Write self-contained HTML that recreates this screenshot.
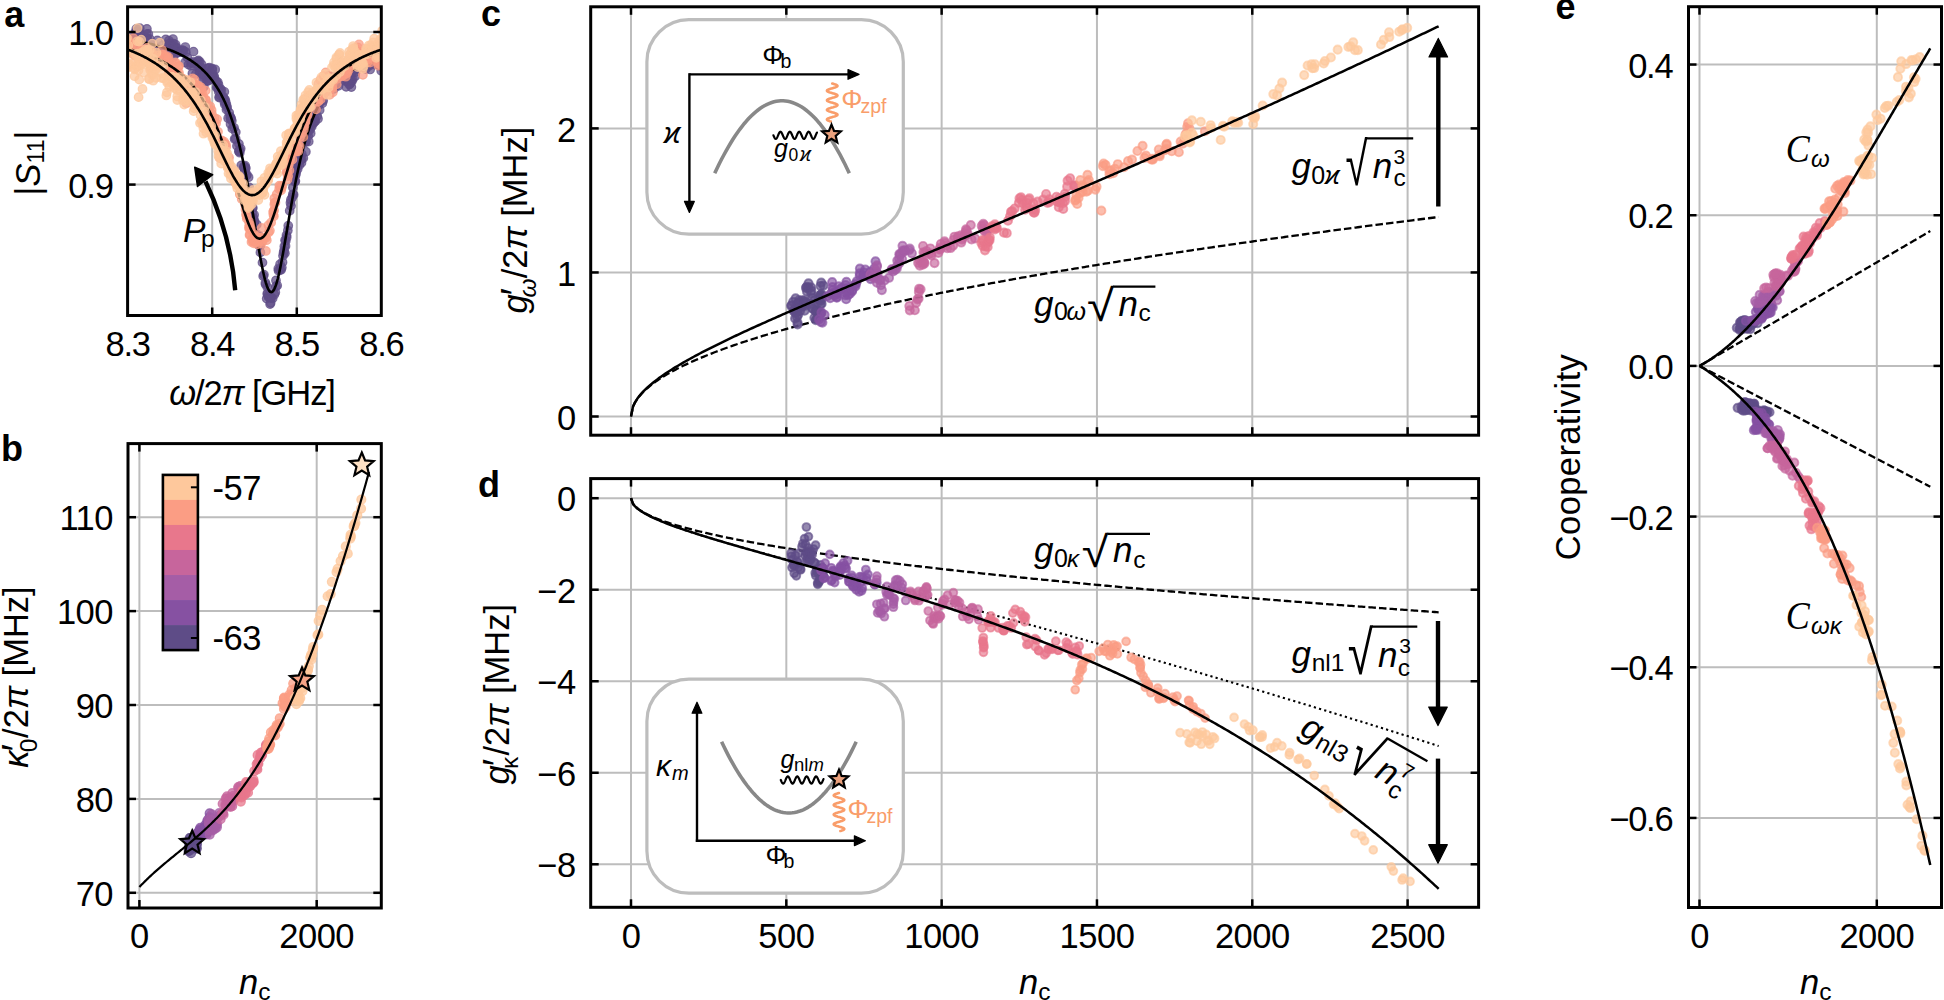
<!DOCTYPE html>
<html><head><meta charset="utf-8"><style>
html,body{margin:0;padding:0;background:#fff;}
svg{display:block;}
text{font-family:"Liberation Sans","DejaVu Sans",sans-serif;}
.it{font-style:italic;}
</style></head><body>
<svg width="1944" height="1000" viewBox="0 0 1944 1000">
<rect width="1944" height="1000" fill="#fff"/>

<g stroke="#bdbdbd" stroke-width="2">
<line x1="212.2" y1="6.8" x2="212.2" y2="315.5" stroke="#bdbdbd" stroke-width="2" />
<line x1="296.8" y1="6.8" x2="296.8" y2="315.5" stroke="#bdbdbd" stroke-width="2" />
<line x1="127.6" y1="184.6" x2="381.3" y2="184.6" stroke="#bdbdbd" stroke-width="2" />
<line x1="127.6" y1="32" x2="381.3" y2="32" stroke="#bdbdbd" stroke-width="2" />
</g>
<defs><clipPath id="ca"><rect x="127.6" y="6.8" width="253.7" height="308.7"/></clipPath><clipPath id="cb"><rect x="128" y="443.6" width="253.3" height="464.4"/></clipPath><clipPath id="cc"><rect x="590.7" y="6.8" width="887.9" height="428.4"/></clipPath><clipPath id="cd"><rect x="590.7" y="478.6" width="887.9" height="428.7"/></clipPath><clipPath id="ce"><rect x="1688.5" y="6.7" width="253" height="900.8"/></clipPath></defs>
<g clip-path="url(#ca)" fill-opacity="0.72" stroke-opacity="0.72" stroke-width="1.2">
<circle cx="124.39" cy="46.45" r="4.3" fill="#5e4c87" stroke="#5e4c87"/>
<circle cx="125.75" cy="50.4" r="4.3" fill="#5e4c87" stroke="#5e4c87"/>
<circle cx="126.56" cy="43.8" r="4.3" fill="#5e4c87" stroke="#5e4c87"/>
<circle cx="127.53" cy="46.26" r="4.3" fill="#5e4c87" stroke="#5e4c87"/>
<circle cx="128.65" cy="39.67" r="4.3" fill="#5e4c87" stroke="#5e4c87"/>
<circle cx="128.79" cy="37.84" r="4.3" fill="#5e4c87" stroke="#5e4c87"/>
<circle cx="130.01" cy="44.47" r="4.3" fill="#5e4c87" stroke="#5e4c87"/>
<circle cx="132.04" cy="39.3" r="4.3" fill="#5e4c87" stroke="#5e4c87"/>
<circle cx="134.43" cy="39.52" r="4.3" fill="#5e4c87" stroke="#5e4c87"/>
<circle cx="135.33" cy="32.34" r="4.3" fill="#5e4c87" stroke="#5e4c87"/>
<circle cx="136.31" cy="28.86" r="4.3" fill="#5e4c87" stroke="#5e4c87"/>
<circle cx="137.11" cy="33.67" r="4.3" fill="#5e4c87" stroke="#5e4c87"/>
<circle cx="137.26" cy="39.34" r="4.3" fill="#5e4c87" stroke="#5e4c87"/>
<circle cx="137.31" cy="31.1" r="4.3" fill="#5e4c87" stroke="#5e4c87"/>
<circle cx="138.1" cy="45.64" r="4.3" fill="#5e4c87" stroke="#5e4c87"/>
<circle cx="139.11" cy="32.9" r="4.3" fill="#5e4c87" stroke="#5e4c87"/>
<circle cx="139.15" cy="42.8" r="4.3" fill="#5e4c87" stroke="#5e4c87"/>
<circle cx="139.59" cy="52.91" r="4.3" fill="#5e4c87" stroke="#5e4c87"/>
<circle cx="139.76" cy="28.18" r="4.3" fill="#5e4c87" stroke="#5e4c87"/>
<circle cx="140.15" cy="33.36" r="4.3" fill="#5e4c87" stroke="#5e4c87"/>
<circle cx="141.39" cy="45.82" r="4.3" fill="#5e4c87" stroke="#5e4c87"/>
<circle cx="143.44" cy="40.05" r="4.3" fill="#5e4c87" stroke="#5e4c87"/>
<circle cx="143.46" cy="41.8" r="4.3" fill="#5e4c87" stroke="#5e4c87"/>
<circle cx="143.85" cy="40.19" r="4.3" fill="#5e4c87" stroke="#5e4c87"/>
<circle cx="145.78" cy="46.6" r="4.3" fill="#5e4c87" stroke="#5e4c87"/>
<circle cx="146.07" cy="42.84" r="4.3" fill="#5e4c87" stroke="#5e4c87"/>
<circle cx="146.07" cy="37.58" r="4.3" fill="#5e4c87" stroke="#5e4c87"/>
<circle cx="146.31" cy="38.65" r="4.3" fill="#5e4c87" stroke="#5e4c87"/>
<circle cx="146.6" cy="34.13" r="4.3" fill="#5e4c87" stroke="#5e4c87"/>
<circle cx="146.86" cy="39.24" r="4.3" fill="#5e4c87" stroke="#5e4c87"/>
<circle cx="146.89" cy="28.85" r="4.3" fill="#5e4c87" stroke="#5e4c87"/>
<circle cx="146.92" cy="42.88" r="4.3" fill="#5e4c87" stroke="#5e4c87"/>
<circle cx="147.09" cy="38.42" r="4.3" fill="#5e4c87" stroke="#5e4c87"/>
<circle cx="147.68" cy="48.48" r="4.3" fill="#5e4c87" stroke="#5e4c87"/>
<circle cx="148.15" cy="45.64" r="4.3" fill="#5e4c87" stroke="#5e4c87"/>
<circle cx="148.32" cy="33.92" r="4.3" fill="#5e4c87" stroke="#5e4c87"/>
<circle cx="149.56" cy="45.41" r="4.3" fill="#5e4c87" stroke="#5e4c87"/>
<circle cx="150.02" cy="39.25" r="4.3" fill="#5e4c87" stroke="#5e4c87"/>
<circle cx="150.74" cy="43.04" r="4.3" fill="#5e4c87" stroke="#5e4c87"/>
<circle cx="151.23" cy="48.38" r="4.3" fill="#5e4c87" stroke="#5e4c87"/>
<circle cx="151.59" cy="45.85" r="4.3" fill="#5e4c87" stroke="#5e4c87"/>
<circle cx="151.89" cy="47.17" r="4.3" fill="#5e4c87" stroke="#5e4c87"/>
<circle cx="153.96" cy="51.03" r="4.3" fill="#5e4c87" stroke="#5e4c87"/>
<circle cx="154.93" cy="46.96" r="4.3" fill="#5e4c87" stroke="#5e4c87"/>
<circle cx="155.18" cy="47.78" r="4.3" fill="#5e4c87" stroke="#5e4c87"/>
<circle cx="155.22" cy="53.47" r="4.3" fill="#5e4c87" stroke="#5e4c87"/>
<circle cx="156.12" cy="56.01" r="4.3" fill="#5e4c87" stroke="#5e4c87"/>
<circle cx="156.32" cy="50.74" r="4.3" fill="#5e4c87" stroke="#5e4c87"/>
<circle cx="156.75" cy="52.79" r="4.3" fill="#5e4c87" stroke="#5e4c87"/>
<circle cx="157.19" cy="47.82" r="4.3" fill="#5e4c87" stroke="#5e4c87"/>
<circle cx="157.32" cy="40.41" r="4.3" fill="#5e4c87" stroke="#5e4c87"/>
<circle cx="157.41" cy="48.72" r="4.3" fill="#5e4c87" stroke="#5e4c87"/>
<circle cx="157.53" cy="52.76" r="4.3" fill="#5e4c87" stroke="#5e4c87"/>
<circle cx="159.13" cy="52.95" r="4.3" fill="#5e4c87" stroke="#5e4c87"/>
<circle cx="159.89" cy="55.48" r="4.3" fill="#5e4c87" stroke="#5e4c87"/>
<circle cx="160.11" cy="55.51" r="4.3" fill="#5e4c87" stroke="#5e4c87"/>
<circle cx="160.33" cy="55.73" r="4.3" fill="#5e4c87" stroke="#5e4c87"/>
<circle cx="160.34" cy="52.93" r="4.3" fill="#5e4c87" stroke="#5e4c87"/>
<circle cx="160.78" cy="52.6" r="4.3" fill="#5e4c87" stroke="#5e4c87"/>
<circle cx="162.34" cy="45.47" r="4.3" fill="#5e4c87" stroke="#5e4c87"/>
<circle cx="162.64" cy="50.38" r="4.3" fill="#5e4c87" stroke="#5e4c87"/>
<circle cx="162.9" cy="49.19" r="4.3" fill="#5e4c87" stroke="#5e4c87"/>
<circle cx="164.73" cy="52.6" r="4.3" fill="#5e4c87" stroke="#5e4c87"/>
<circle cx="165.74" cy="39.35" r="4.3" fill="#5e4c87" stroke="#5e4c87"/>
<circle cx="166.17" cy="44.63" r="4.3" fill="#5e4c87" stroke="#5e4c87"/>
<circle cx="168.92" cy="40.63" r="4.3" fill="#5e4c87" stroke="#5e4c87"/>
<circle cx="169.99" cy="46.17" r="4.3" fill="#5e4c87" stroke="#5e4c87"/>
<circle cx="170.11" cy="43.11" r="4.3" fill="#5e4c87" stroke="#5e4c87"/>
<circle cx="172.54" cy="52.51" r="4.3" fill="#5e4c87" stroke="#5e4c87"/>
<circle cx="172.63" cy="48.11" r="4.3" fill="#5e4c87" stroke="#5e4c87"/>
<circle cx="172.96" cy="39.04" r="4.3" fill="#5e4c87" stroke="#5e4c87"/>
<circle cx="173.36" cy="57.02" r="4.3" fill="#5e4c87" stroke="#5e4c87"/>
<circle cx="173.51" cy="46.01" r="4.3" fill="#5e4c87" stroke="#5e4c87"/>
<circle cx="173.62" cy="43.6" r="4.3" fill="#5e4c87" stroke="#5e4c87"/>
<circle cx="174.62" cy="49.08" r="4.3" fill="#5e4c87" stroke="#5e4c87"/>
<circle cx="174.96" cy="47.32" r="4.3" fill="#5e4c87" stroke="#5e4c87"/>
<circle cx="175.54" cy="44.57" r="4.3" fill="#5e4c87" stroke="#5e4c87"/>
<circle cx="175.61" cy="53.45" r="4.3" fill="#5e4c87" stroke="#5e4c87"/>
<circle cx="176.62" cy="47.67" r="4.3" fill="#5e4c87" stroke="#5e4c87"/>
<circle cx="178.08" cy="52.6" r="4.3" fill="#5e4c87" stroke="#5e4c87"/>
<circle cx="180.97" cy="51.78" r="4.3" fill="#5e4c87" stroke="#5e4c87"/>
<circle cx="181.53" cy="52.02" r="4.3" fill="#5e4c87" stroke="#5e4c87"/>
<circle cx="181.86" cy="50.18" r="4.3" fill="#5e4c87" stroke="#5e4c87"/>
<circle cx="182.89" cy="50.38" r="4.3" fill="#5e4c87" stroke="#5e4c87"/>
<circle cx="183.85" cy="50.84" r="4.3" fill="#5e4c87" stroke="#5e4c87"/>
<circle cx="185.1" cy="62.42" r="4.3" fill="#5e4c87" stroke="#5e4c87"/>
<circle cx="185.32" cy="47.03" r="4.3" fill="#5e4c87" stroke="#5e4c87"/>
<circle cx="185.88" cy="52.2" r="4.3" fill="#5e4c87" stroke="#5e4c87"/>
<circle cx="187.3" cy="57.35" r="4.3" fill="#5e4c87" stroke="#5e4c87"/>
<circle cx="188.53" cy="64.64" r="4.3" fill="#5e4c87" stroke="#5e4c87"/>
<circle cx="190.95" cy="65.7" r="4.3" fill="#5e4c87" stroke="#5e4c87"/>
<circle cx="191.18" cy="62.79" r="4.3" fill="#5e4c87" stroke="#5e4c87"/>
<circle cx="192.32" cy="63.57" r="4.3" fill="#5e4c87" stroke="#5e4c87"/>
<circle cx="192.41" cy="73.37" r="4.3" fill="#5e4c87" stroke="#5e4c87"/>
<circle cx="193.04" cy="61.95" r="4.3" fill="#5e4c87" stroke="#5e4c87"/>
<circle cx="193.48" cy="51.66" r="4.3" fill="#5e4c87" stroke="#5e4c87"/>
<circle cx="195.94" cy="73.88" r="4.3" fill="#5e4c87" stroke="#5e4c87"/>
<circle cx="197.48" cy="61.31" r="4.3" fill="#5e4c87" stroke="#5e4c87"/>
<circle cx="197.83" cy="64.54" r="4.3" fill="#5e4c87" stroke="#5e4c87"/>
<circle cx="198.23" cy="67.2" r="4.3" fill="#5e4c87" stroke="#5e4c87"/>
<circle cx="198.39" cy="60.42" r="4.3" fill="#5e4c87" stroke="#5e4c87"/>
<circle cx="199.31" cy="73.58" r="4.3" fill="#5e4c87" stroke="#5e4c87"/>
<circle cx="199.59" cy="67.67" r="4.3" fill="#5e4c87" stroke="#5e4c87"/>
<circle cx="199.74" cy="61.78" r="4.3" fill="#5e4c87" stroke="#5e4c87"/>
<circle cx="200.41" cy="70.62" r="4.3" fill="#5e4c87" stroke="#5e4c87"/>
<circle cx="200.6" cy="71.97" r="4.3" fill="#5e4c87" stroke="#5e4c87"/>
<circle cx="200.63" cy="69.52" r="4.3" fill="#5e4c87" stroke="#5e4c87"/>
<circle cx="200.8" cy="72.42" r="4.3" fill="#5e4c87" stroke="#5e4c87"/>
<circle cx="201.6" cy="64.36" r="4.3" fill="#5e4c87" stroke="#5e4c87"/>
<circle cx="201.68" cy="76.04" r="4.3" fill="#5e4c87" stroke="#5e4c87"/>
<circle cx="201.82" cy="67.9" r="4.3" fill="#5e4c87" stroke="#5e4c87"/>
<circle cx="202.87" cy="79.45" r="4.3" fill="#5e4c87" stroke="#5e4c87"/>
<circle cx="203.16" cy="70.8" r="4.3" fill="#5e4c87" stroke="#5e4c87"/>
<circle cx="203.61" cy="74.99" r="4.3" fill="#5e4c87" stroke="#5e4c87"/>
<circle cx="203.79" cy="86.84" r="4.3" fill="#5e4c87" stroke="#5e4c87"/>
<circle cx="204.34" cy="75.23" r="4.3" fill="#5e4c87" stroke="#5e4c87"/>
<circle cx="206.63" cy="81" r="4.3" fill="#5e4c87" stroke="#5e4c87"/>
<circle cx="207.27" cy="77.92" r="4.3" fill="#5e4c87" stroke="#5e4c87"/>
<circle cx="207.62" cy="68.46" r="4.3" fill="#5e4c87" stroke="#5e4c87"/>
<circle cx="207.97" cy="80.8" r="4.3" fill="#5e4c87" stroke="#5e4c87"/>
<circle cx="208.14" cy="80.45" r="4.3" fill="#5e4c87" stroke="#5e4c87"/>
<circle cx="208.84" cy="68.3" r="4.3" fill="#5e4c87" stroke="#5e4c87"/>
<circle cx="209.22" cy="74.32" r="4.3" fill="#5e4c87" stroke="#5e4c87"/>
<circle cx="209.38" cy="67.53" r="4.3" fill="#5e4c87" stroke="#5e4c87"/>
<circle cx="209.48" cy="73.21" r="4.3" fill="#5e4c87" stroke="#5e4c87"/>
<circle cx="209.91" cy="78.68" r="4.3" fill="#5e4c87" stroke="#5e4c87"/>
<circle cx="211.55" cy="74.53" r="4.3" fill="#5e4c87" stroke="#5e4c87"/>
<circle cx="212.25" cy="68.66" r="4.3" fill="#5e4c87" stroke="#5e4c87"/>
<circle cx="212.25" cy="70.02" r="4.3" fill="#5e4c87" stroke="#5e4c87"/>
<circle cx="212.31" cy="74.47" r="4.3" fill="#5e4c87" stroke="#5e4c87"/>
<circle cx="213.82" cy="75.74" r="4.3" fill="#5e4c87" stroke="#5e4c87"/>
<circle cx="214.21" cy="77.12" r="4.3" fill="#5e4c87" stroke="#5e4c87"/>
<circle cx="214.73" cy="80.26" r="4.3" fill="#5e4c87" stroke="#5e4c87"/>
<circle cx="215.19" cy="69.43" r="4.3" fill="#5e4c87" stroke="#5e4c87"/>
<circle cx="216.29" cy="81.22" r="4.3" fill="#5e4c87" stroke="#5e4c87"/>
<circle cx="216.61" cy="87.48" r="4.3" fill="#5e4c87" stroke="#5e4c87"/>
<circle cx="217.59" cy="87.27" r="4.3" fill="#5e4c87" stroke="#5e4c87"/>
<circle cx="217.8" cy="82.26" r="4.3" fill="#5e4c87" stroke="#5e4c87"/>
<circle cx="218.51" cy="84.82" r="4.3" fill="#5e4c87" stroke="#5e4c87"/>
<circle cx="218.54" cy="88.6" r="4.3" fill="#5e4c87" stroke="#5e4c87"/>
<circle cx="218.76" cy="91.76" r="4.3" fill="#5e4c87" stroke="#5e4c87"/>
<circle cx="219.04" cy="89.35" r="4.3" fill="#5e4c87" stroke="#5e4c87"/>
<circle cx="219.11" cy="97.56" r="4.3" fill="#5e4c87" stroke="#5e4c87"/>
<circle cx="219.49" cy="96.96" r="4.3" fill="#5e4c87" stroke="#5e4c87"/>
<circle cx="220.09" cy="88.79" r="4.3" fill="#5e4c87" stroke="#5e4c87"/>
<circle cx="220.29" cy="95.38" r="4.3" fill="#5e4c87" stroke="#5e4c87"/>
<circle cx="220.74" cy="92.56" r="4.3" fill="#5e4c87" stroke="#5e4c87"/>
<circle cx="221.19" cy="89.75" r="4.3" fill="#5e4c87" stroke="#5e4c87"/>
<circle cx="223.1" cy="96.6" r="4.3" fill="#5e4c87" stroke="#5e4c87"/>
<circle cx="224.29" cy="101.68" r="4.3" fill="#5e4c87" stroke="#5e4c87"/>
<circle cx="224.33" cy="91.82" r="4.3" fill="#5e4c87" stroke="#5e4c87"/>
<circle cx="224.43" cy="98.87" r="4.3" fill="#5e4c87" stroke="#5e4c87"/>
<circle cx="224.75" cy="104.2" r="4.3" fill="#5e4c87" stroke="#5e4c87"/>
<circle cx="225.21" cy="99.85" r="4.3" fill="#5e4c87" stroke="#5e4c87"/>
<circle cx="225.85" cy="102.44" r="4.3" fill="#5e4c87" stroke="#5e4c87"/>
<circle cx="226.46" cy="109.47" r="4.3" fill="#5e4c87" stroke="#5e4c87"/>
<circle cx="226.56" cy="105.29" r="4.3" fill="#5e4c87" stroke="#5e4c87"/>
<circle cx="227.19" cy="107.64" r="4.3" fill="#5e4c87" stroke="#5e4c87"/>
<circle cx="228.14" cy="118.23" r="4.3" fill="#5e4c87" stroke="#5e4c87"/>
<circle cx="229.2" cy="112.63" r="4.3" fill="#5e4c87" stroke="#5e4c87"/>
<circle cx="230.31" cy="116.72" r="4.3" fill="#5e4c87" stroke="#5e4c87"/>
<circle cx="230.48" cy="118.08" r="4.3" fill="#5e4c87" stroke="#5e4c87"/>
<circle cx="230.55" cy="124" r="4.3" fill="#5e4c87" stroke="#5e4c87"/>
<circle cx="230.88" cy="119.14" r="4.3" fill="#5e4c87" stroke="#5e4c87"/>
<circle cx="231.05" cy="118.31" r="4.3" fill="#5e4c87" stroke="#5e4c87"/>
<circle cx="231.86" cy="120.86" r="4.3" fill="#5e4c87" stroke="#5e4c87"/>
<circle cx="232.33" cy="128.63" r="4.3" fill="#5e4c87" stroke="#5e4c87"/>
<circle cx="234.05" cy="127.8" r="4.3" fill="#5e4c87" stroke="#5e4c87"/>
<circle cx="234.63" cy="139.04" r="4.3" fill="#5e4c87" stroke="#5e4c87"/>
<circle cx="235.69" cy="138.8" r="4.3" fill="#5e4c87" stroke="#5e4c87"/>
<circle cx="235.82" cy="132.12" r="4.3" fill="#5e4c87" stroke="#5e4c87"/>
<circle cx="236.97" cy="145.91" r="4.3" fill="#5e4c87" stroke="#5e4c87"/>
<circle cx="238.89" cy="151.21" r="4.3" fill="#5e4c87" stroke="#5e4c87"/>
<circle cx="238.92" cy="143.87" r="4.3" fill="#5e4c87" stroke="#5e4c87"/>
<circle cx="239.14" cy="151.33" r="4.3" fill="#5e4c87" stroke="#5e4c87"/>
<circle cx="239.79" cy="152.68" r="4.3" fill="#5e4c87" stroke="#5e4c87"/>
<circle cx="239.8" cy="150.25" r="4.3" fill="#5e4c87" stroke="#5e4c87"/>
<circle cx="240.69" cy="148.62" r="4.3" fill="#5e4c87" stroke="#5e4c87"/>
<circle cx="241.26" cy="165.36" r="4.3" fill="#5e4c87" stroke="#5e4c87"/>
<circle cx="243.96" cy="166.54" r="4.3" fill="#5e4c87" stroke="#5e4c87"/>
<circle cx="244.02" cy="167.61" r="4.3" fill="#5e4c87" stroke="#5e4c87"/>
<circle cx="244.07" cy="168.11" r="4.3" fill="#5e4c87" stroke="#5e4c87"/>
<circle cx="244.68" cy="169.25" r="4.3" fill="#5e4c87" stroke="#5e4c87"/>
<circle cx="244.8" cy="169.65" r="4.3" fill="#5e4c87" stroke="#5e4c87"/>
<circle cx="245.15" cy="165.69" r="4.3" fill="#5e4c87" stroke="#5e4c87"/>
<circle cx="245.2" cy="171.49" r="4.3" fill="#5e4c87" stroke="#5e4c87"/>
<circle cx="245.35" cy="167.36" r="4.3" fill="#5e4c87" stroke="#5e4c87"/>
<circle cx="245.83" cy="168.15" r="4.3" fill="#5e4c87" stroke="#5e4c87"/>
<circle cx="246.33" cy="175.8" r="4.3" fill="#5e4c87" stroke="#5e4c87"/>
<circle cx="246.91" cy="174.72" r="4.3" fill="#5e4c87" stroke="#5e4c87"/>
<circle cx="248.59" cy="177.25" r="4.3" fill="#5e4c87" stroke="#5e4c87"/>
<circle cx="249.25" cy="187.5" r="4.3" fill="#5e4c87" stroke="#5e4c87"/>
<circle cx="250.67" cy="201.21" r="4.3" fill="#5e4c87" stroke="#5e4c87"/>
<circle cx="251.45" cy="203.6" r="4.3" fill="#5e4c87" stroke="#5e4c87"/>
<circle cx="252.29" cy="213.07" r="4.3" fill="#5e4c87" stroke="#5e4c87"/>
<circle cx="252.4" cy="208.16" r="4.3" fill="#5e4c87" stroke="#5e4c87"/>
<circle cx="252.78" cy="207.83" r="4.3" fill="#5e4c87" stroke="#5e4c87"/>
<circle cx="253.11" cy="217.74" r="4.3" fill="#5e4c87" stroke="#5e4c87"/>
<circle cx="253.73" cy="218.65" r="4.3" fill="#5e4c87" stroke="#5e4c87"/>
<circle cx="254.11" cy="214.77" r="4.3" fill="#5e4c87" stroke="#5e4c87"/>
<circle cx="254.18" cy="222.71" r="4.3" fill="#5e4c87" stroke="#5e4c87"/>
<circle cx="254.46" cy="221.1" r="4.3" fill="#5e4c87" stroke="#5e4c87"/>
<circle cx="255.63" cy="233.31" r="4.3" fill="#5e4c87" stroke="#5e4c87"/>
<circle cx="255.99" cy="234.34" r="4.3" fill="#5e4c87" stroke="#5e4c87"/>
<circle cx="256.56" cy="235.89" r="4.3" fill="#5e4c87" stroke="#5e4c87"/>
<circle cx="256.76" cy="224.57" r="4.3" fill="#5e4c87" stroke="#5e4c87"/>
<circle cx="256.83" cy="236.8" r="4.3" fill="#5e4c87" stroke="#5e4c87"/>
<circle cx="256.83" cy="237.37" r="4.3" fill="#5e4c87" stroke="#5e4c87"/>
<circle cx="257.31" cy="239.97" r="4.3" fill="#5e4c87" stroke="#5e4c87"/>
<circle cx="257.34" cy="238.31" r="4.3" fill="#5e4c87" stroke="#5e4c87"/>
<circle cx="257.62" cy="236.04" r="4.3" fill="#5e4c87" stroke="#5e4c87"/>
<circle cx="258" cy="240.11" r="4.3" fill="#5e4c87" stroke="#5e4c87"/>
<circle cx="258.76" cy="235.48" r="4.3" fill="#5e4c87" stroke="#5e4c87"/>
<circle cx="259.01" cy="245.23" r="4.3" fill="#5e4c87" stroke="#5e4c87"/>
<circle cx="260.16" cy="245.76" r="4.3" fill="#5e4c87" stroke="#5e4c87"/>
<circle cx="260.4" cy="252.39" r="4.3" fill="#5e4c87" stroke="#5e4c87"/>
<circle cx="262.46" cy="262.6" r="4.3" fill="#5e4c87" stroke="#5e4c87"/>
<circle cx="263.16" cy="276.12" r="4.3" fill="#5e4c87" stroke="#5e4c87"/>
<circle cx="263.94" cy="274.69" r="4.3" fill="#5e4c87" stroke="#5e4c87"/>
<circle cx="265.42" cy="282.77" r="4.3" fill="#5e4c87" stroke="#5e4c87"/>
<circle cx="265.56" cy="284.32" r="4.3" fill="#5e4c87" stroke="#5e4c87"/>
<circle cx="266.69" cy="298.62" r="4.3" fill="#5e4c87" stroke="#5e4c87"/>
<circle cx="267.24" cy="287.09" r="4.3" fill="#5e4c87" stroke="#5e4c87"/>
<circle cx="267.35" cy="293.34" r="4.3" fill="#5e4c87" stroke="#5e4c87"/>
<circle cx="267.5" cy="294.17" r="4.3" fill="#5e4c87" stroke="#5e4c87"/>
<circle cx="268.46" cy="296.48" r="4.3" fill="#5e4c87" stroke="#5e4c87"/>
<circle cx="268.76" cy="297.14" r="4.3" fill="#5e4c87" stroke="#5e4c87"/>
<circle cx="269.07" cy="294.95" r="4.3" fill="#5e4c87" stroke="#5e4c87"/>
<circle cx="270.08" cy="304.12" r="4.3" fill="#5e4c87" stroke="#5e4c87"/>
<circle cx="270.68" cy="302.86" r="4.3" fill="#5e4c87" stroke="#5e4c87"/>
<circle cx="270.86" cy="297.27" r="4.3" fill="#5e4c87" stroke="#5e4c87"/>
<circle cx="271.06" cy="297.9" r="4.3" fill="#5e4c87" stroke="#5e4c87"/>
<circle cx="272.66" cy="298.35" r="4.3" fill="#5e4c87" stroke="#5e4c87"/>
<circle cx="274.35" cy="294.56" r="4.3" fill="#5e4c87" stroke="#5e4c87"/>
<circle cx="275.32" cy="292.22" r="4.3" fill="#5e4c87" stroke="#5e4c87"/>
<circle cx="275.88" cy="286.45" r="4.3" fill="#5e4c87" stroke="#5e4c87"/>
<circle cx="275.98" cy="280.38" r="4.3" fill="#5e4c87" stroke="#5e4c87"/>
<circle cx="277.2" cy="285.43" r="4.3" fill="#5e4c87" stroke="#5e4c87"/>
<circle cx="278.29" cy="268.81" r="4.3" fill="#5e4c87" stroke="#5e4c87"/>
<circle cx="278.56" cy="270.72" r="4.3" fill="#5e4c87" stroke="#5e4c87"/>
<circle cx="280.07" cy="269.95" r="4.3" fill="#5e4c87" stroke="#5e4c87"/>
<circle cx="280.07" cy="264.26" r="4.3" fill="#5e4c87" stroke="#5e4c87"/>
<circle cx="281.13" cy="269.71" r="4.3" fill="#5e4c87" stroke="#5e4c87"/>
<circle cx="281.84" cy="267.59" r="4.3" fill="#5e4c87" stroke="#5e4c87"/>
<circle cx="282.52" cy="262.27" r="4.3" fill="#5e4c87" stroke="#5e4c87"/>
<circle cx="283.01" cy="255.77" r="4.3" fill="#5e4c87" stroke="#5e4c87"/>
<circle cx="283.57" cy="252.44" r="4.3" fill="#5e4c87" stroke="#5e4c87"/>
<circle cx="284.08" cy="250.53" r="4.3" fill="#5e4c87" stroke="#5e4c87"/>
<circle cx="284.32" cy="246.38" r="4.3" fill="#5e4c87" stroke="#5e4c87"/>
<circle cx="284.89" cy="253.24" r="4.3" fill="#5e4c87" stroke="#5e4c87"/>
<circle cx="285.04" cy="240.33" r="4.3" fill="#5e4c87" stroke="#5e4c87"/>
<circle cx="285.54" cy="246" r="4.3" fill="#5e4c87" stroke="#5e4c87"/>
<circle cx="285.84" cy="240.67" r="4.3" fill="#5e4c87" stroke="#5e4c87"/>
<circle cx="286.49" cy="235.3" r="4.3" fill="#5e4c87" stroke="#5e4c87"/>
<circle cx="286.69" cy="237.32" r="4.3" fill="#5e4c87" stroke="#5e4c87"/>
<circle cx="287.82" cy="230.53" r="4.3" fill="#5e4c87" stroke="#5e4c87"/>
<circle cx="288.25" cy="225.77" r="4.3" fill="#5e4c87" stroke="#5e4c87"/>
<circle cx="289.71" cy="210.72" r="4.3" fill="#5e4c87" stroke="#5e4c87"/>
<circle cx="290.43" cy="202.86" r="4.3" fill="#5e4c87" stroke="#5e4c87"/>
<circle cx="290.88" cy="199.83" r="4.3" fill="#5e4c87" stroke="#5e4c87"/>
<circle cx="291.04" cy="205.87" r="4.3" fill="#5e4c87" stroke="#5e4c87"/>
<circle cx="292.21" cy="197.34" r="4.3" fill="#5e4c87" stroke="#5e4c87"/>
<circle cx="292.82" cy="194.29" r="4.3" fill="#5e4c87" stroke="#5e4c87"/>
<circle cx="292.92" cy="187.44" r="4.3" fill="#5e4c87" stroke="#5e4c87"/>
<circle cx="293.65" cy="194.8" r="4.3" fill="#5e4c87" stroke="#5e4c87"/>
<circle cx="294.24" cy="176.87" r="4.3" fill="#5e4c87" stroke="#5e4c87"/>
<circle cx="294.9" cy="181.71" r="4.3" fill="#5e4c87" stroke="#5e4c87"/>
<circle cx="295.38" cy="181.06" r="4.3" fill="#5e4c87" stroke="#5e4c87"/>
<circle cx="295.52" cy="175.39" r="4.3" fill="#5e4c87" stroke="#5e4c87"/>
<circle cx="295.71" cy="171.44" r="4.3" fill="#5e4c87" stroke="#5e4c87"/>
<circle cx="296.1" cy="173.17" r="4.3" fill="#5e4c87" stroke="#5e4c87"/>
<circle cx="296.84" cy="167.35" r="4.3" fill="#5e4c87" stroke="#5e4c87"/>
<circle cx="297.67" cy="169" r="4.3" fill="#5e4c87" stroke="#5e4c87"/>
<circle cx="297.68" cy="163.93" r="4.3" fill="#5e4c87" stroke="#5e4c87"/>
<circle cx="299.28" cy="159.32" r="4.3" fill="#5e4c87" stroke="#5e4c87"/>
<circle cx="299.44" cy="165.04" r="4.3" fill="#5e4c87" stroke="#5e4c87"/>
<circle cx="299.6" cy="157.53" r="4.3" fill="#5e4c87" stroke="#5e4c87"/>
<circle cx="300.71" cy="160.15" r="4.3" fill="#5e4c87" stroke="#5e4c87"/>
<circle cx="300.95" cy="159.78" r="4.3" fill="#5e4c87" stroke="#5e4c87"/>
<circle cx="301.47" cy="162.76" r="4.3" fill="#5e4c87" stroke="#5e4c87"/>
<circle cx="301.79" cy="158.8" r="4.3" fill="#5e4c87" stroke="#5e4c87"/>
<circle cx="301.8" cy="153.9" r="4.3" fill="#5e4c87" stroke="#5e4c87"/>
<circle cx="303.33" cy="157.99" r="4.3" fill="#5e4c87" stroke="#5e4c87"/>
<circle cx="305.18" cy="141.59" r="4.3" fill="#5e4c87" stroke="#5e4c87"/>
<circle cx="305.38" cy="142.12" r="4.3" fill="#5e4c87" stroke="#5e4c87"/>
<circle cx="305.76" cy="140.86" r="4.3" fill="#5e4c87" stroke="#5e4c87"/>
<circle cx="305.88" cy="151.72" r="4.3" fill="#5e4c87" stroke="#5e4c87"/>
<circle cx="305.94" cy="141.84" r="4.3" fill="#5e4c87" stroke="#5e4c87"/>
<circle cx="307.28" cy="132.95" r="4.3" fill="#5e4c87" stroke="#5e4c87"/>
<circle cx="308.21" cy="135.88" r="4.3" fill="#5e4c87" stroke="#5e4c87"/>
<circle cx="308.54" cy="130.8" r="4.3" fill="#5e4c87" stroke="#5e4c87"/>
<circle cx="308.71" cy="141.52" r="4.3" fill="#5e4c87" stroke="#5e4c87"/>
<circle cx="309.71" cy="124.37" r="4.3" fill="#5e4c87" stroke="#5e4c87"/>
<circle cx="310.08" cy="129.42" r="4.3" fill="#5e4c87" stroke="#5e4c87"/>
<circle cx="310.53" cy="121.2" r="4.3" fill="#5e4c87" stroke="#5e4c87"/>
<circle cx="310.66" cy="133.3" r="4.3" fill="#5e4c87" stroke="#5e4c87"/>
<circle cx="310.78" cy="121.39" r="4.3" fill="#5e4c87" stroke="#5e4c87"/>
<circle cx="311.47" cy="124.06" r="4.3" fill="#5e4c87" stroke="#5e4c87"/>
<circle cx="311.52" cy="119.17" r="4.3" fill="#5e4c87" stroke="#5e4c87"/>
<circle cx="311.81" cy="126.52" r="4.3" fill="#5e4c87" stroke="#5e4c87"/>
<circle cx="312.06" cy="124.62" r="4.3" fill="#5e4c87" stroke="#5e4c87"/>
<circle cx="313.36" cy="109.26" r="4.3" fill="#5e4c87" stroke="#5e4c87"/>
<circle cx="313.77" cy="122.67" r="4.3" fill="#5e4c87" stroke="#5e4c87"/>
<circle cx="313.93" cy="121.84" r="4.3" fill="#5e4c87" stroke="#5e4c87"/>
<circle cx="314.76" cy="118.59" r="4.3" fill="#5e4c87" stroke="#5e4c87"/>
<circle cx="315.25" cy="121.21" r="4.3" fill="#5e4c87" stroke="#5e4c87"/>
<circle cx="316.08" cy="109.62" r="4.3" fill="#5e4c87" stroke="#5e4c87"/>
<circle cx="316.09" cy="107.16" r="4.3" fill="#5e4c87" stroke="#5e4c87"/>
<circle cx="317.18" cy="116.06" r="4.3" fill="#5e4c87" stroke="#5e4c87"/>
<circle cx="318" cy="118.75" r="4.3" fill="#5e4c87" stroke="#5e4c87"/>
<circle cx="318.35" cy="104.57" r="4.3" fill="#5e4c87" stroke="#5e4c87"/>
<circle cx="318.44" cy="104.62" r="4.3" fill="#5e4c87" stroke="#5e4c87"/>
<circle cx="318.71" cy="105.17" r="4.3" fill="#5e4c87" stroke="#5e4c87"/>
<circle cx="318.83" cy="103.31" r="4.3" fill="#5e4c87" stroke="#5e4c87"/>
<circle cx="319.65" cy="110.08" r="4.3" fill="#5e4c87" stroke="#5e4c87"/>
<circle cx="321.65" cy="100.07" r="4.3" fill="#5e4c87" stroke="#5e4c87"/>
<circle cx="322.3" cy="103.41" r="4.3" fill="#5e4c87" stroke="#5e4c87"/>
<circle cx="323.22" cy="100.48" r="4.3" fill="#5e4c87" stroke="#5e4c87"/>
<circle cx="323.93" cy="87.33" r="4.3" fill="#5e4c87" stroke="#5e4c87"/>
<circle cx="324.74" cy="92.66" r="4.3" fill="#5e4c87" stroke="#5e4c87"/>
<circle cx="325.33" cy="77.74" r="4.3" fill="#5e4c87" stroke="#5e4c87"/>
<circle cx="326.07" cy="86.37" r="4.3" fill="#5e4c87" stroke="#5e4c87"/>
<circle cx="326.98" cy="88.3" r="4.3" fill="#5e4c87" stroke="#5e4c87"/>
<circle cx="327.28" cy="81.37" r="4.3" fill="#5e4c87" stroke="#5e4c87"/>
<circle cx="329.1" cy="75.74" r="4.3" fill="#5e4c87" stroke="#5e4c87"/>
<circle cx="329.31" cy="81.74" r="4.3" fill="#5e4c87" stroke="#5e4c87"/>
<circle cx="330.25" cy="89.54" r="4.3" fill="#5e4c87" stroke="#5e4c87"/>
<circle cx="330.31" cy="82.28" r="4.3" fill="#5e4c87" stroke="#5e4c87"/>
<circle cx="331.59" cy="77.85" r="4.3" fill="#5e4c87" stroke="#5e4c87"/>
<circle cx="332.05" cy="86.44" r="4.3" fill="#5e4c87" stroke="#5e4c87"/>
<circle cx="332.08" cy="87.73" r="4.3" fill="#5e4c87" stroke="#5e4c87"/>
<circle cx="332.81" cy="79.5" r="4.3" fill="#5e4c87" stroke="#5e4c87"/>
<circle cx="332.91" cy="83.5" r="4.3" fill="#5e4c87" stroke="#5e4c87"/>
<circle cx="333.84" cy="88.92" r="4.3" fill="#5e4c87" stroke="#5e4c87"/>
<circle cx="335" cy="84.86" r="4.3" fill="#5e4c87" stroke="#5e4c87"/>
<circle cx="336.47" cy="85" r="4.3" fill="#5e4c87" stroke="#5e4c87"/>
<circle cx="337.16" cy="79.25" r="4.3" fill="#5e4c87" stroke="#5e4c87"/>
<circle cx="337.36" cy="79.83" r="4.3" fill="#5e4c87" stroke="#5e4c87"/>
<circle cx="337.75" cy="74.51" r="4.3" fill="#5e4c87" stroke="#5e4c87"/>
<circle cx="338.33" cy="75.7" r="4.3" fill="#5e4c87" stroke="#5e4c87"/>
<circle cx="338.5" cy="85.87" r="4.3" fill="#5e4c87" stroke="#5e4c87"/>
<circle cx="338.67" cy="76.61" r="4.3" fill="#5e4c87" stroke="#5e4c87"/>
<circle cx="340.49" cy="72.17" r="4.3" fill="#5e4c87" stroke="#5e4c87"/>
<circle cx="340.59" cy="74.1" r="4.3" fill="#5e4c87" stroke="#5e4c87"/>
<circle cx="342.3" cy="70.53" r="4.3" fill="#5e4c87" stroke="#5e4c87"/>
<circle cx="343.03" cy="77.74" r="4.3" fill="#5e4c87" stroke="#5e4c87"/>
<circle cx="343.54" cy="79.69" r="4.3" fill="#5e4c87" stroke="#5e4c87"/>
<circle cx="345.02" cy="71.87" r="4.3" fill="#5e4c87" stroke="#5e4c87"/>
<circle cx="345.15" cy="81.1" r="4.3" fill="#5e4c87" stroke="#5e4c87"/>
<circle cx="346.13" cy="86.86" r="4.3" fill="#5e4c87" stroke="#5e4c87"/>
<circle cx="346.56" cy="72.6" r="4.3" fill="#5e4c87" stroke="#5e4c87"/>
<circle cx="347.48" cy="81.19" r="4.3" fill="#5e4c87" stroke="#5e4c87"/>
<circle cx="349.08" cy="79.64" r="4.3" fill="#5e4c87" stroke="#5e4c87"/>
<circle cx="349.31" cy="84.6" r="4.3" fill="#5e4c87" stroke="#5e4c87"/>
<circle cx="349.72" cy="84.13" r="4.3" fill="#5e4c87" stroke="#5e4c87"/>
<circle cx="350.71" cy="82.64" r="4.3" fill="#5e4c87" stroke="#5e4c87"/>
<circle cx="350.87" cy="78.83" r="4.3" fill="#5e4c87" stroke="#5e4c87"/>
<circle cx="350.99" cy="75.35" r="4.3" fill="#5e4c87" stroke="#5e4c87"/>
<circle cx="351.35" cy="87.12" r="4.3" fill="#5e4c87" stroke="#5e4c87"/>
<circle cx="351.74" cy="72.6" r="4.3" fill="#5e4c87" stroke="#5e4c87"/>
<circle cx="351.82" cy="81.33" r="4.3" fill="#5e4c87" stroke="#5e4c87"/>
<circle cx="352.73" cy="79.24" r="4.3" fill="#5e4c87" stroke="#5e4c87"/>
<circle cx="353.56" cy="69.57" r="4.3" fill="#5e4c87" stroke="#5e4c87"/>
<circle cx="354.99" cy="69.88" r="4.3" fill="#5e4c87" stroke="#5e4c87"/>
<circle cx="355.18" cy="76.17" r="4.3" fill="#5e4c87" stroke="#5e4c87"/>
<circle cx="355.54" cy="59.93" r="4.3" fill="#5e4c87" stroke="#5e4c87"/>
<circle cx="355.67" cy="72.04" r="4.3" fill="#5e4c87" stroke="#5e4c87"/>
<circle cx="356.14" cy="66.01" r="4.3" fill="#5e4c87" stroke="#5e4c87"/>
<circle cx="356.54" cy="65.47" r="4.3" fill="#5e4c87" stroke="#5e4c87"/>
<circle cx="357.04" cy="59.06" r="4.3" fill="#5e4c87" stroke="#5e4c87"/>
<circle cx="357.07" cy="67.56" r="4.3" fill="#5e4c87" stroke="#5e4c87"/>
<circle cx="357.38" cy="60.38" r="4.3" fill="#5e4c87" stroke="#5e4c87"/>
<circle cx="358.07" cy="67.46" r="4.3" fill="#5e4c87" stroke="#5e4c87"/>
<circle cx="358.77" cy="58.22" r="4.3" fill="#5e4c87" stroke="#5e4c87"/>
<circle cx="359.32" cy="66.47" r="4.3" fill="#5e4c87" stroke="#5e4c87"/>
<circle cx="361.85" cy="64.46" r="4.3" fill="#5e4c87" stroke="#5e4c87"/>
<circle cx="362.47" cy="54.34" r="4.3" fill="#5e4c87" stroke="#5e4c87"/>
<circle cx="362.73" cy="61.67" r="4.3" fill="#5e4c87" stroke="#5e4c87"/>
<circle cx="362.8" cy="62.65" r="4.3" fill="#5e4c87" stroke="#5e4c87"/>
<circle cx="363.17" cy="53.03" r="4.3" fill="#5e4c87" stroke="#5e4c87"/>
<circle cx="363.77" cy="61.86" r="4.3" fill="#5e4c87" stroke="#5e4c87"/>
<circle cx="364.4" cy="67.42" r="4.3" fill="#5e4c87" stroke="#5e4c87"/>
<circle cx="364.91" cy="60.39" r="4.3" fill="#5e4c87" stroke="#5e4c87"/>
<circle cx="365.61" cy="69.15" r="4.3" fill="#5e4c87" stroke="#5e4c87"/>
<circle cx="365.78" cy="58.54" r="4.3" fill="#5e4c87" stroke="#5e4c87"/>
<circle cx="366.92" cy="57.74" r="4.3" fill="#5e4c87" stroke="#5e4c87"/>
<circle cx="367.96" cy="65.1" r="4.3" fill="#5e4c87" stroke="#5e4c87"/>
<circle cx="368.21" cy="65.12" r="4.3" fill="#5e4c87" stroke="#5e4c87"/>
<circle cx="368.25" cy="61.4" r="4.3" fill="#5e4c87" stroke="#5e4c87"/>
<circle cx="368.49" cy="61.9" r="4.3" fill="#5e4c87" stroke="#5e4c87"/>
<circle cx="368.94" cy="65.95" r="4.3" fill="#5e4c87" stroke="#5e4c87"/>
<circle cx="369.09" cy="58.71" r="4.3" fill="#5e4c87" stroke="#5e4c87"/>
<circle cx="370.14" cy="69.43" r="4.3" fill="#5e4c87" stroke="#5e4c87"/>
<circle cx="370.53" cy="61.62" r="4.3" fill="#5e4c87" stroke="#5e4c87"/>
<circle cx="371.2" cy="60.75" r="4.3" fill="#5e4c87" stroke="#5e4c87"/>
<circle cx="371.22" cy="60.13" r="4.3" fill="#5e4c87" stroke="#5e4c87"/>
<circle cx="371.85" cy="56.89" r="4.3" fill="#5e4c87" stroke="#5e4c87"/>
<circle cx="372.1" cy="63.72" r="4.3" fill="#5e4c87" stroke="#5e4c87"/>
<circle cx="374.3" cy="54.81" r="4.3" fill="#5e4c87" stroke="#5e4c87"/>
<circle cx="374.54" cy="58.41" r="4.3" fill="#5e4c87" stroke="#5e4c87"/>
<circle cx="375.03" cy="60.82" r="4.3" fill="#5e4c87" stroke="#5e4c87"/>
<circle cx="375.28" cy="64.27" r="4.3" fill="#5e4c87" stroke="#5e4c87"/>
<circle cx="375.7" cy="63.79" r="4.3" fill="#5e4c87" stroke="#5e4c87"/>
<circle cx="375.76" cy="56.79" r="4.3" fill="#5e4c87" stroke="#5e4c87"/>
<circle cx="375.87" cy="62.96" r="4.3" fill="#5e4c87" stroke="#5e4c87"/>
<circle cx="376.37" cy="58.81" r="4.3" fill="#5e4c87" stroke="#5e4c87"/>
<circle cx="377.62" cy="55.99" r="4.3" fill="#5e4c87" stroke="#5e4c87"/>
<circle cx="380.53" cy="60.39" r="4.3" fill="#5e4c87" stroke="#5e4c87"/>
<circle cx="380.63" cy="58.09" r="4.3" fill="#5e4c87" stroke="#5e4c87"/>
<circle cx="380.67" cy="66.64" r="4.3" fill="#5e4c87" stroke="#5e4c87"/>
<circle cx="381.21" cy="70.77" r="4.3" fill="#5e4c87" stroke="#5e4c87"/>
<circle cx="381.76" cy="61.53" r="4.3" fill="#5e4c87" stroke="#5e4c87"/>
<circle cx="382.04" cy="64.92" r="4.3" fill="#5e4c87" stroke="#5e4c87"/>
<circle cx="382.06" cy="61.2" r="4.3" fill="#5e4c87" stroke="#5e4c87"/>
<circle cx="382.34" cy="66.39" r="4.3" fill="#5e4c87" stroke="#5e4c87"/>
<circle cx="382.66" cy="61.03" r="4.3" fill="#5e4c87" stroke="#5e4c87"/>
<circle cx="382.81" cy="62.63" r="4.3" fill="#5e4c87" stroke="#5e4c87"/>
<circle cx="383.36" cy="63.15" r="4.3" fill="#5e4c87" stroke="#5e4c87"/>
<circle cx="383.67" cy="64.01" r="4.3" fill="#5e4c87" stroke="#5e4c87"/>
<circle cx="384.64" cy="63.85" r="4.3" fill="#5e4c87" stroke="#5e4c87"/>
</g>
<g clip-path="url(#ca)">
<polyline points="127.6,38.95 128.45,39.1 129.3,39.26 130.15,39.42 131,39.58 131.84,39.74 132.69,39.91 133.54,40.07 134.39,40.24 135.24,40.41 136.09,40.59 136.94,40.76 137.79,40.94 138.63,41.12 139.48,41.3 140.33,41.49 141.18,41.67 142.03,41.86 142.88,42.05 143.73,42.25 144.58,42.45 145.43,42.65 146.27,42.85 147.12,43.06 147.97,43.26 148.82,43.48 149.67,43.69 150.52,43.91 151.37,44.13 152.22,44.36 153.06,44.58 153.91,44.82 154.76,45.05 155.61,45.29 156.46,45.53 157.31,45.78 158.16,46.03 159.01,46.29 159.86,46.55 160.7,46.81 161.55,47.08 162.4,47.35 163.25,47.63 164.1,47.91 164.95,48.2 165.8,48.5 166.65,48.8 167.49,49.1 168.34,49.41 169.19,49.73 170.04,50.05 170.89,50.38 171.74,50.71 172.59,51.05 173.44,51.4 174.29,51.76 175.13,52.12 175.98,52.49 176.83,52.87 177.68,53.25 178.53,53.64 179.38,54.05 180.23,54.46 181.08,54.88 181.93,55.31 182.77,55.75 183.62,56.19 184.47,56.65 185.32,57.12 186.17,57.6 187.02,58.1 187.87,58.6 188.72,59.12 189.56,59.65 190.41,60.19 191.26,60.74 192.11,61.31 192.96,61.89 193.81,62.49 194.66,63.11 195.51,63.74 196.36,64.38 197.2,65.05 198.05,65.73 198.9,66.43 199.75,67.15 200.6,67.89 201.45,68.65 202.3,69.43 203.15,70.24 203.99,71.06 204.84,71.91 205.69,72.79 206.54,73.69 207.39,74.62 208.24,75.58 209.09,76.57 209.94,77.59 210.79,78.64 211.63,79.72 212.48,80.83 213.33,81.99 214.18,83.18 215.03,84.4 215.88,85.67 216.73,86.98 217.58,88.34 218.42,89.74 219.27,91.18 220.12,92.68 220.97,94.23 221.82,95.83 222.67,97.48 223.52,99.2 224.37,100.97 225.22,102.81 226.06,104.71 226.91,106.68 227.76,108.72 228.61,110.84 229.46,113.03 230.31,115.3 231.16,117.65 232.01,120.09 232.85,122.61 233.7,125.23 234.55,127.94 235.4,130.75 236.25,133.66 237.1,136.68 237.95,139.8 238.8,143.03 239.65,146.38 240.49,149.83 241.34,153.41 242.19,157.1 243.04,160.91 243.89,164.85 244.74,168.9 245.59,173.08 246.44,177.37 247.28,181.78 248.13,186.3 248.98,190.93 249.83,195.66 250.68,200.49 251.53,205.4 252.38,210.39 253.23,215.43 254.08,220.53 254.92,225.65 255.77,230.78 256.62,235.9 257.47,240.98 258.32,246 259.17,250.92 260.02,255.72 260.87,260.37 261.72,264.83 262.56,269.07 263.41,273.04 264.26,276.73 265.11,280.09 265.96,283.09 266.81,285.7 267.66,287.91 268.51,289.67 269.35,290.98 270.2,291.81 271.05,292.17 271.9,292.05 272.75,291.44 273.6,290.37 274.45,288.83 275.3,286.85 276.15,284.45 276.99,281.65 277.84,278.49 278.69,274.99 279.54,271.2 280.39,267.13 281.24,262.84 282.09,258.34 282.94,253.68 283.78,248.89 284.63,244 285.48,239.04 286.33,234.03 287.18,229.01 288.03,223.99 288.88,218.99 289.73,214.03 290.58,209.14 291.42,204.31 292.27,199.56 293.12,194.91 293.97,190.36 294.82,185.91 295.67,181.57 296.52,177.35 297.37,173.25 298.21,169.27 299.06,165.41 299.91,161.67 300.76,158.05 301.61,154.55 302.46,151.16 303.31,147.9 304.16,144.74 305.01,141.69 305.85,138.76 306.7,135.92 307.55,133.19 308.4,130.56 309.25,128.02 310.1,125.57 310.95,123.22 311.8,120.95 312.64,118.76 313.49,116.66 314.34,114.63 315.19,112.67 316.04,110.79 316.89,108.97 317.74,107.22 318.59,105.54 319.44,103.91 320.28,102.34 321.13,100.83 321.98,99.38 322.83,97.97 323.68,96.62 324.53,95.31 325.38,94.05 326.23,92.83 327.07,91.66 327.92,90.53 328.77,89.43 329.62,88.37 330.47,87.35 331.32,86.37 332.17,85.41 333.02,84.49 333.87,83.6 334.71,82.74 335.56,81.91 336.41,81.1 337.26,80.33 338.11,79.57 338.96,78.84 339.81,78.14 340.66,77.46 341.51,76.79 342.35,76.15 343.2,75.53 344.05,74.93 344.9,74.35 345.75,73.79 346.6,73.24 347.45,72.71 348.3,72.2 349.14,71.7 349.99,71.22 350.84,70.75 351.69,70.3 352.54,69.86 353.39,69.43 354.24,69.02 355.09,68.62 355.94,68.22 356.78,67.85 357.63,67.48 358.48,67.12 359.33,66.77 360.18,66.44 361.03,66.11 361.88,65.79 362.73,65.49 363.57,65.19 364.42,64.9 365.27,64.61 366.12,64.34 366.97,64.07 367.82,63.81 368.67,63.56 369.52,63.31 370.37,63.08 371.21,62.85 372.06,62.62 372.91,62.4 373.76,62.19 374.61,61.98 375.46,61.78 376.31,61.59 377.16,61.4 378,61.21 378.85,61.03 379.7,60.86 380.55,60.69 381.4,60.52" fill="none" stroke="#000" stroke-width="2.6" stroke-linejoin="round" stroke-linecap="butt" />
</g>
<g clip-path="url(#ca)" fill-opacity="0.72" stroke-opacity="0.72" stroke-width="1.2">
<circle cx="125.06" cy="39.47" r="4.3" fill="#fb9d84" stroke="#fb9d84"/>
<circle cx="126.33" cy="47.77" r="4.3" fill="#fb9d84" stroke="#fb9d84"/>
<circle cx="127.82" cy="38.82" r="4.3" fill="#fb9d84" stroke="#fb9d84"/>
<circle cx="129.05" cy="46.95" r="4.3" fill="#fb9d84" stroke="#fb9d84"/>
<circle cx="129.17" cy="43.65" r="4.3" fill="#fb9d84" stroke="#fb9d84"/>
<circle cx="129.84" cy="52.42" r="4.3" fill="#fb9d84" stroke="#fb9d84"/>
<circle cx="130.12" cy="43.98" r="4.3" fill="#fb9d84" stroke="#fb9d84"/>
<circle cx="130.32" cy="42.87" r="4.3" fill="#fb9d84" stroke="#fb9d84"/>
<circle cx="130.44" cy="46.82" r="4.3" fill="#fb9d84" stroke="#fb9d84"/>
<circle cx="130.75" cy="47.12" r="4.3" fill="#fb9d84" stroke="#fb9d84"/>
<circle cx="133.38" cy="38.17" r="4.3" fill="#fb9d84" stroke="#fb9d84"/>
<circle cx="134.38" cy="55.28" r="4.3" fill="#fb9d84" stroke="#fb9d84"/>
<circle cx="134.79" cy="55.34" r="4.3" fill="#fb9d84" stroke="#fb9d84"/>
<circle cx="135.81" cy="56.18" r="4.3" fill="#fb9d84" stroke="#fb9d84"/>
<circle cx="136.21" cy="47.11" r="4.3" fill="#fb9d84" stroke="#fb9d84"/>
<circle cx="137.15" cy="44.22" r="4.3" fill="#fb9d84" stroke="#fb9d84"/>
<circle cx="137.2" cy="52.94" r="4.3" fill="#fb9d84" stroke="#fb9d84"/>
<circle cx="140.72" cy="60.23" r="4.3" fill="#fb9d84" stroke="#fb9d84"/>
<circle cx="140.88" cy="58.79" r="4.3" fill="#fb9d84" stroke="#fb9d84"/>
<circle cx="141.16" cy="51.43" r="4.3" fill="#fb9d84" stroke="#fb9d84"/>
<circle cx="141.41" cy="61.01" r="4.3" fill="#fb9d84" stroke="#fb9d84"/>
<circle cx="141.44" cy="49.45" r="4.3" fill="#fb9d84" stroke="#fb9d84"/>
<circle cx="141.46" cy="49.62" r="4.3" fill="#fb9d84" stroke="#fb9d84"/>
<circle cx="142.34" cy="55.83" r="4.3" fill="#fb9d84" stroke="#fb9d84"/>
<circle cx="143.91" cy="52.28" r="4.3" fill="#fb9d84" stroke="#fb9d84"/>
<circle cx="145.68" cy="51.47" r="4.3" fill="#fb9d84" stroke="#fb9d84"/>
<circle cx="146.83" cy="47.89" r="4.3" fill="#fb9d84" stroke="#fb9d84"/>
<circle cx="146.89" cy="60.65" r="4.3" fill="#fb9d84" stroke="#fb9d84"/>
<circle cx="147.12" cy="49.88" r="4.3" fill="#fb9d84" stroke="#fb9d84"/>
<circle cx="147.29" cy="57.59" r="4.3" fill="#fb9d84" stroke="#fb9d84"/>
<circle cx="147.38" cy="59.57" r="4.3" fill="#fb9d84" stroke="#fb9d84"/>
<circle cx="148.38" cy="56.18" r="4.3" fill="#fb9d84" stroke="#fb9d84"/>
<circle cx="149.36" cy="58.81" r="4.3" fill="#fb9d84" stroke="#fb9d84"/>
<circle cx="149.88" cy="63.2" r="4.3" fill="#fb9d84" stroke="#fb9d84"/>
<circle cx="150.99" cy="67.49" r="4.3" fill="#fb9d84" stroke="#fb9d84"/>
<circle cx="151.69" cy="65.01" r="4.3" fill="#fb9d84" stroke="#fb9d84"/>
<circle cx="151.83" cy="53.46" r="4.3" fill="#fb9d84" stroke="#fb9d84"/>
<circle cx="152.11" cy="51.2" r="4.3" fill="#fb9d84" stroke="#fb9d84"/>
<circle cx="153" cy="58.2" r="4.3" fill="#fb9d84" stroke="#fb9d84"/>
<circle cx="154.04" cy="55.84" r="4.3" fill="#fb9d84" stroke="#fb9d84"/>
<circle cx="154.18" cy="64.15" r="4.3" fill="#fb9d84" stroke="#fb9d84"/>
<circle cx="154.43" cy="61.97" r="4.3" fill="#fb9d84" stroke="#fb9d84"/>
<circle cx="155.79" cy="59.53" r="4.3" fill="#fb9d84" stroke="#fb9d84"/>
<circle cx="156.03" cy="65.99" r="4.3" fill="#fb9d84" stroke="#fb9d84"/>
<circle cx="156.11" cy="65.47" r="4.3" fill="#fb9d84" stroke="#fb9d84"/>
<circle cx="156.73" cy="59.53" r="4.3" fill="#fb9d84" stroke="#fb9d84"/>
<circle cx="157.11" cy="61.13" r="4.3" fill="#fb9d84" stroke="#fb9d84"/>
<circle cx="157.47" cy="64.32" r="4.3" fill="#fb9d84" stroke="#fb9d84"/>
<circle cx="158.92" cy="55.38" r="4.3" fill="#fb9d84" stroke="#fb9d84"/>
<circle cx="161.33" cy="56.39" r="4.3" fill="#fb9d84" stroke="#fb9d84"/>
<circle cx="162.05" cy="49.97" r="4.3" fill="#fb9d84" stroke="#fb9d84"/>
<circle cx="162.2" cy="54.99" r="4.3" fill="#fb9d84" stroke="#fb9d84"/>
<circle cx="163" cy="56.67" r="4.3" fill="#fb9d84" stroke="#fb9d84"/>
<circle cx="163.32" cy="54.78" r="4.3" fill="#fb9d84" stroke="#fb9d84"/>
<circle cx="164.6" cy="57.58" r="4.3" fill="#fb9d84" stroke="#fb9d84"/>
<circle cx="165.28" cy="61.01" r="4.3" fill="#fb9d84" stroke="#fb9d84"/>
<circle cx="166.05" cy="61.03" r="4.3" fill="#fb9d84" stroke="#fb9d84"/>
<circle cx="166.41" cy="56.09" r="4.3" fill="#fb9d84" stroke="#fb9d84"/>
<circle cx="167.52" cy="58.7" r="4.3" fill="#fb9d84" stroke="#fb9d84"/>
<circle cx="168.43" cy="57.28" r="4.3" fill="#fb9d84" stroke="#fb9d84"/>
<circle cx="168.68" cy="72.26" r="4.3" fill="#fb9d84" stroke="#fb9d84"/>
<circle cx="170.18" cy="68.17" r="4.3" fill="#fb9d84" stroke="#fb9d84"/>
<circle cx="170.4" cy="68.55" r="4.3" fill="#fb9d84" stroke="#fb9d84"/>
<circle cx="170.92" cy="66.24" r="4.3" fill="#fb9d84" stroke="#fb9d84"/>
<circle cx="170.98" cy="69.35" r="4.3" fill="#fb9d84" stroke="#fb9d84"/>
<circle cx="171.89" cy="70.35" r="4.3" fill="#fb9d84" stroke="#fb9d84"/>
<circle cx="172.12" cy="64.16" r="4.3" fill="#fb9d84" stroke="#fb9d84"/>
<circle cx="173.67" cy="67.65" r="4.3" fill="#fb9d84" stroke="#fb9d84"/>
<circle cx="174.16" cy="74.3" r="4.3" fill="#fb9d84" stroke="#fb9d84"/>
<circle cx="175.6" cy="62.35" r="4.3" fill="#fb9d84" stroke="#fb9d84"/>
<circle cx="175.75" cy="64.04" r="4.3" fill="#fb9d84" stroke="#fb9d84"/>
<circle cx="176.57" cy="72.04" r="4.3" fill="#fb9d84" stroke="#fb9d84"/>
<circle cx="178.31" cy="66.63" r="4.3" fill="#fb9d84" stroke="#fb9d84"/>
<circle cx="178.62" cy="74.67" r="4.3" fill="#fb9d84" stroke="#fb9d84"/>
<circle cx="178.95" cy="66.03" r="4.3" fill="#fb9d84" stroke="#fb9d84"/>
<circle cx="178.98" cy="72.63" r="4.3" fill="#fb9d84" stroke="#fb9d84"/>
<circle cx="180.55" cy="78.28" r="4.3" fill="#fb9d84" stroke="#fb9d84"/>
<circle cx="181.59" cy="78.4" r="4.3" fill="#fb9d84" stroke="#fb9d84"/>
<circle cx="181.77" cy="80.73" r="4.3" fill="#fb9d84" stroke="#fb9d84"/>
<circle cx="182.92" cy="78.64" r="4.3" fill="#fb9d84" stroke="#fb9d84"/>
<circle cx="184.38" cy="81.74" r="4.3" fill="#fb9d84" stroke="#fb9d84"/>
<circle cx="184.56" cy="82.75" r="4.3" fill="#fb9d84" stroke="#fb9d84"/>
<circle cx="185.17" cy="86.65" r="4.3" fill="#fb9d84" stroke="#fb9d84"/>
<circle cx="186.3" cy="103.2" r="4.3" fill="#fb9d84" stroke="#fb9d84"/>
<circle cx="187.35" cy="85.57" r="4.3" fill="#fb9d84" stroke="#fb9d84"/>
<circle cx="187.43" cy="95.31" r="4.3" fill="#fb9d84" stroke="#fb9d84"/>
<circle cx="187.94" cy="84.97" r="4.3" fill="#fb9d84" stroke="#fb9d84"/>
<circle cx="188.14" cy="80.65" r="4.3" fill="#fb9d84" stroke="#fb9d84"/>
<circle cx="188.78" cy="84.76" r="4.3" fill="#fb9d84" stroke="#fb9d84"/>
<circle cx="189.4" cy="87.78" r="4.3" fill="#fb9d84" stroke="#fb9d84"/>
<circle cx="190.68" cy="86.05" r="4.3" fill="#fb9d84" stroke="#fb9d84"/>
<circle cx="191.27" cy="85.45" r="4.3" fill="#fb9d84" stroke="#fb9d84"/>
<circle cx="191.58" cy="87.31" r="4.3" fill="#fb9d84" stroke="#fb9d84"/>
<circle cx="191.9" cy="87.31" r="4.3" fill="#fb9d84" stroke="#fb9d84"/>
<circle cx="191.9" cy="88.97" r="4.3" fill="#fb9d84" stroke="#fb9d84"/>
<circle cx="192.62" cy="78.37" r="4.3" fill="#fb9d84" stroke="#fb9d84"/>
<circle cx="193.89" cy="84.18" r="4.3" fill="#fb9d84" stroke="#fb9d84"/>
<circle cx="194.52" cy="79.68" r="4.3" fill="#fb9d84" stroke="#fb9d84"/>
<circle cx="194.58" cy="85.6" r="4.3" fill="#fb9d84" stroke="#fb9d84"/>
<circle cx="195.82" cy="85.14" r="4.3" fill="#fb9d84" stroke="#fb9d84"/>
<circle cx="196.01" cy="86.56" r="4.3" fill="#fb9d84" stroke="#fb9d84"/>
<circle cx="197.12" cy="85.19" r="4.3" fill="#fb9d84" stroke="#fb9d84"/>
<circle cx="198.34" cy="85.82" r="4.3" fill="#fb9d84" stroke="#fb9d84"/>
<circle cx="199.42" cy="91.05" r="4.3" fill="#fb9d84" stroke="#fb9d84"/>
<circle cx="199.5" cy="95.67" r="4.3" fill="#fb9d84" stroke="#fb9d84"/>
<circle cx="200.07" cy="97.47" r="4.3" fill="#fb9d84" stroke="#fb9d84"/>
<circle cx="200.82" cy="87.14" r="4.3" fill="#fb9d84" stroke="#fb9d84"/>
<circle cx="201.39" cy="97.76" r="4.3" fill="#fb9d84" stroke="#fb9d84"/>
<circle cx="201.57" cy="98.16" r="4.3" fill="#fb9d84" stroke="#fb9d84"/>
<circle cx="201.57" cy="89.59" r="4.3" fill="#fb9d84" stroke="#fb9d84"/>
<circle cx="202.06" cy="92.32" r="4.3" fill="#fb9d84" stroke="#fb9d84"/>
<circle cx="203.21" cy="96.84" r="4.3" fill="#fb9d84" stroke="#fb9d84"/>
<circle cx="203.83" cy="102.22" r="4.3" fill="#fb9d84" stroke="#fb9d84"/>
<circle cx="205.61" cy="90.61" r="4.3" fill="#fb9d84" stroke="#fb9d84"/>
<circle cx="205.77" cy="100.33" r="4.3" fill="#fb9d84" stroke="#fb9d84"/>
<circle cx="205.9" cy="99.7" r="4.3" fill="#fb9d84" stroke="#fb9d84"/>
<circle cx="207.05" cy="104.27" r="4.3" fill="#fb9d84" stroke="#fb9d84"/>
<circle cx="208.47" cy="112.03" r="4.3" fill="#fb9d84" stroke="#fb9d84"/>
<circle cx="208.83" cy="112.18" r="4.3" fill="#fb9d84" stroke="#fb9d84"/>
<circle cx="210.26" cy="106.46" r="4.3" fill="#fb9d84" stroke="#fb9d84"/>
<circle cx="211.63" cy="110.25" r="4.3" fill="#fb9d84" stroke="#fb9d84"/>
<circle cx="211.85" cy="114" r="4.3" fill="#fb9d84" stroke="#fb9d84"/>
<circle cx="211.92" cy="118.78" r="4.3" fill="#fb9d84" stroke="#fb9d84"/>
<circle cx="212.64" cy="122.54" r="4.3" fill="#fb9d84" stroke="#fb9d84"/>
<circle cx="214.28" cy="123.35" r="4.3" fill="#fb9d84" stroke="#fb9d84"/>
<circle cx="214.36" cy="129.19" r="4.3" fill="#fb9d84" stroke="#fb9d84"/>
<circle cx="214.45" cy="118.05" r="4.3" fill="#fb9d84" stroke="#fb9d84"/>
<circle cx="216.08" cy="123.4" r="4.3" fill="#fb9d84" stroke="#fb9d84"/>
<circle cx="217.11" cy="119.14" r="4.3" fill="#fb9d84" stroke="#fb9d84"/>
<circle cx="218.02" cy="131.83" r="4.3" fill="#fb9d84" stroke="#fb9d84"/>
<circle cx="218.72" cy="141.19" r="4.3" fill="#fb9d84" stroke="#fb9d84"/>
<circle cx="219.32" cy="144.22" r="4.3" fill="#fb9d84" stroke="#fb9d84"/>
<circle cx="219.85" cy="158.16" r="4.3" fill="#fb9d84" stroke="#fb9d84"/>
<circle cx="219.95" cy="144.44" r="4.3" fill="#fb9d84" stroke="#fb9d84"/>
<circle cx="220.81" cy="144.26" r="4.3" fill="#fb9d84" stroke="#fb9d84"/>
<circle cx="221.72" cy="140.35" r="4.3" fill="#fb9d84" stroke="#fb9d84"/>
<circle cx="221.92" cy="142.42" r="4.3" fill="#fb9d84" stroke="#fb9d84"/>
<circle cx="223.39" cy="144.87" r="4.3" fill="#fb9d84" stroke="#fb9d84"/>
<circle cx="223.82" cy="147.36" r="4.3" fill="#fb9d84" stroke="#fb9d84"/>
<circle cx="223.94" cy="145.37" r="4.3" fill="#fb9d84" stroke="#fb9d84"/>
<circle cx="224.09" cy="141.77" r="4.3" fill="#fb9d84" stroke="#fb9d84"/>
<circle cx="224.73" cy="155.13" r="4.3" fill="#fb9d84" stroke="#fb9d84"/>
<circle cx="224.83" cy="152.34" r="4.3" fill="#fb9d84" stroke="#fb9d84"/>
<circle cx="225.38" cy="157.91" r="4.3" fill="#fb9d84" stroke="#fb9d84"/>
<circle cx="225.8" cy="144.1" r="4.3" fill="#fb9d84" stroke="#fb9d84"/>
<circle cx="226.24" cy="146.65" r="4.3" fill="#fb9d84" stroke="#fb9d84"/>
<circle cx="229.04" cy="157.5" r="4.3" fill="#fb9d84" stroke="#fb9d84"/>
<circle cx="229.67" cy="169.27" r="4.3" fill="#fb9d84" stroke="#fb9d84"/>
<circle cx="235.45" cy="182.66" r="4.3" fill="#fb9d84" stroke="#fb9d84"/>
<circle cx="239.97" cy="194.21" r="4.3" fill="#fb9d84" stroke="#fb9d84"/>
<circle cx="240.02" cy="192.79" r="4.3" fill="#fb9d84" stroke="#fb9d84"/>
<circle cx="240.23" cy="194.55" r="4.3" fill="#fb9d84" stroke="#fb9d84"/>
<circle cx="240.99" cy="192.81" r="4.3" fill="#fb9d84" stroke="#fb9d84"/>
<circle cx="241.7" cy="199.09" r="4.3" fill="#fb9d84" stroke="#fb9d84"/>
<circle cx="245.02" cy="204.57" r="4.3" fill="#fb9d84" stroke="#fb9d84"/>
<circle cx="245.45" cy="209.4" r="4.3" fill="#fb9d84" stroke="#fb9d84"/>
<circle cx="245.99" cy="214.35" r="4.3" fill="#fb9d84" stroke="#fb9d84"/>
<circle cx="246.62" cy="216.27" r="4.3" fill="#fb9d84" stroke="#fb9d84"/>
<circle cx="246.78" cy="218.56" r="4.3" fill="#fb9d84" stroke="#fb9d84"/>
<circle cx="248.9" cy="221.49" r="4.3" fill="#fb9d84" stroke="#fb9d84"/>
<circle cx="249.08" cy="227.5" r="4.3" fill="#fb9d84" stroke="#fb9d84"/>
<circle cx="249.24" cy="225.34" r="4.3" fill="#fb9d84" stroke="#fb9d84"/>
<circle cx="249.28" cy="228.87" r="4.3" fill="#fb9d84" stroke="#fb9d84"/>
<circle cx="249.52" cy="235.08" r="4.3" fill="#fb9d84" stroke="#fb9d84"/>
<circle cx="249.86" cy="224.63" r="4.3" fill="#fb9d84" stroke="#fb9d84"/>
<circle cx="249.98" cy="234.62" r="4.3" fill="#fb9d84" stroke="#fb9d84"/>
<circle cx="250.59" cy="228.06" r="4.3" fill="#fb9d84" stroke="#fb9d84"/>
<circle cx="250.73" cy="229.75" r="4.3" fill="#fb9d84" stroke="#fb9d84"/>
<circle cx="251.49" cy="241.92" r="4.3" fill="#fb9d84" stroke="#fb9d84"/>
<circle cx="252.34" cy="240.24" r="4.3" fill="#fb9d84" stroke="#fb9d84"/>
<circle cx="252.57" cy="238.53" r="4.3" fill="#fb9d84" stroke="#fb9d84"/>
<circle cx="253.45" cy="241.28" r="4.3" fill="#fb9d84" stroke="#fb9d84"/>
<circle cx="253.64" cy="243.25" r="4.3" fill="#fb9d84" stroke="#fb9d84"/>
<circle cx="253.74" cy="233.96" r="4.3" fill="#fb9d84" stroke="#fb9d84"/>
<circle cx="254.18" cy="239.14" r="4.3" fill="#fb9d84" stroke="#fb9d84"/>
<circle cx="254.56" cy="236.36" r="4.3" fill="#fb9d84" stroke="#fb9d84"/>
<circle cx="254.99" cy="240.58" r="4.3" fill="#fb9d84" stroke="#fb9d84"/>
<circle cx="255.02" cy="237" r="4.3" fill="#fb9d84" stroke="#fb9d84"/>
<circle cx="255.52" cy="242.35" r="4.3" fill="#fb9d84" stroke="#fb9d84"/>
<circle cx="256.26" cy="238.99" r="4.3" fill="#fb9d84" stroke="#fb9d84"/>
<circle cx="256.27" cy="236.02" r="4.3" fill="#fb9d84" stroke="#fb9d84"/>
<circle cx="256.89" cy="238.73" r="4.3" fill="#fb9d84" stroke="#fb9d84"/>
<circle cx="257.05" cy="241.2" r="4.3" fill="#fb9d84" stroke="#fb9d84"/>
<circle cx="257.47" cy="244.33" r="4.3" fill="#fb9d84" stroke="#fb9d84"/>
<circle cx="259.47" cy="238.56" r="4.3" fill="#fb9d84" stroke="#fb9d84"/>
<circle cx="260.03" cy="237.86" r="4.3" fill="#fb9d84" stroke="#fb9d84"/>
<circle cx="260.14" cy="240.84" r="4.3" fill="#fb9d84" stroke="#fb9d84"/>
<circle cx="261.06" cy="243.64" r="4.3" fill="#fb9d84" stroke="#fb9d84"/>
<circle cx="261.46" cy="237.37" r="4.3" fill="#fb9d84" stroke="#fb9d84"/>
<circle cx="261.69" cy="227.97" r="4.3" fill="#fb9d84" stroke="#fb9d84"/>
<circle cx="262.41" cy="241.74" r="4.3" fill="#fb9d84" stroke="#fb9d84"/>
<circle cx="262.47" cy="238.63" r="4.3" fill="#fb9d84" stroke="#fb9d84"/>
<circle cx="264.05" cy="238.3" r="4.3" fill="#fb9d84" stroke="#fb9d84"/>
<circle cx="265.91" cy="250.94" r="4.3" fill="#fb9d84" stroke="#fb9d84"/>
<circle cx="265.98" cy="237.7" r="4.3" fill="#fb9d84" stroke="#fb9d84"/>
<circle cx="266.83" cy="240.15" r="4.3" fill="#fb9d84" stroke="#fb9d84"/>
<circle cx="268.52" cy="225.23" r="4.3" fill="#fb9d84" stroke="#fb9d84"/>
<circle cx="268.78" cy="232.35" r="4.3" fill="#fb9d84" stroke="#fb9d84"/>
<circle cx="269.92" cy="230.59" r="4.3" fill="#fb9d84" stroke="#fb9d84"/>
<circle cx="271.17" cy="222.52" r="4.3" fill="#fb9d84" stroke="#fb9d84"/>
<circle cx="273.16" cy="211.9" r="4.3" fill="#fb9d84" stroke="#fb9d84"/>
<circle cx="273.38" cy="214.51" r="4.3" fill="#fb9d84" stroke="#fb9d84"/>
<circle cx="273.6" cy="211.11" r="4.3" fill="#fb9d84" stroke="#fb9d84"/>
<circle cx="273.88" cy="216.31" r="4.3" fill="#fb9d84" stroke="#fb9d84"/>
<circle cx="274.04" cy="210.19" r="4.3" fill="#fb9d84" stroke="#fb9d84"/>
<circle cx="274.29" cy="204.29" r="4.3" fill="#fb9d84" stroke="#fb9d84"/>
<circle cx="274.31" cy="198.41" r="4.3" fill="#fb9d84" stroke="#fb9d84"/>
<circle cx="274.85" cy="202.54" r="4.3" fill="#fb9d84" stroke="#fb9d84"/>
<circle cx="275.44" cy="202.57" r="4.3" fill="#fb9d84" stroke="#fb9d84"/>
<circle cx="276.74" cy="194.11" r="4.3" fill="#fb9d84" stroke="#fb9d84"/>
<circle cx="279.13" cy="189.16" r="4.3" fill="#fb9d84" stroke="#fb9d84"/>
<circle cx="279.32" cy="185.61" r="4.3" fill="#fb9d84" stroke="#fb9d84"/>
<circle cx="280.24" cy="186.47" r="4.3" fill="#fb9d84" stroke="#fb9d84"/>
<circle cx="281.16" cy="190.3" r="4.3" fill="#fb9d84" stroke="#fb9d84"/>
<circle cx="281.29" cy="188.16" r="4.3" fill="#fb9d84" stroke="#fb9d84"/>
<circle cx="281.72" cy="187.52" r="4.3" fill="#fb9d84" stroke="#fb9d84"/>
<circle cx="282.26" cy="185.54" r="4.3" fill="#fb9d84" stroke="#fb9d84"/>
<circle cx="286.53" cy="171.79" r="4.3" fill="#fb9d84" stroke="#fb9d84"/>
<circle cx="287.18" cy="174.04" r="4.3" fill="#fb9d84" stroke="#fb9d84"/>
<circle cx="287.45" cy="179.45" r="4.3" fill="#fb9d84" stroke="#fb9d84"/>
<circle cx="287.5" cy="172.3" r="4.3" fill="#fb9d84" stroke="#fb9d84"/>
<circle cx="288.23" cy="176.11" r="4.3" fill="#fb9d84" stroke="#fb9d84"/>
<circle cx="288.54" cy="164.76" r="4.3" fill="#fb9d84" stroke="#fb9d84"/>
<circle cx="288.85" cy="163.92" r="4.3" fill="#fb9d84" stroke="#fb9d84"/>
<circle cx="289.35" cy="170.38" r="4.3" fill="#fb9d84" stroke="#fb9d84"/>
<circle cx="289.53" cy="158.22" r="4.3" fill="#fb9d84" stroke="#fb9d84"/>
<circle cx="289.67" cy="156.88" r="4.3" fill="#fb9d84" stroke="#fb9d84"/>
<circle cx="289.85" cy="160.06" r="4.3" fill="#fb9d84" stroke="#fb9d84"/>
<circle cx="291.36" cy="148.07" r="4.3" fill="#fb9d84" stroke="#fb9d84"/>
<circle cx="292.32" cy="144.87" r="4.3" fill="#fb9d84" stroke="#fb9d84"/>
<circle cx="292.46" cy="159.6" r="4.3" fill="#fb9d84" stroke="#fb9d84"/>
<circle cx="293.88" cy="146.16" r="4.3" fill="#fb9d84" stroke="#fb9d84"/>
<circle cx="293.95" cy="148.96" r="4.3" fill="#fb9d84" stroke="#fb9d84"/>
<circle cx="294.18" cy="148.73" r="4.3" fill="#fb9d84" stroke="#fb9d84"/>
<circle cx="294.6" cy="145.6" r="4.3" fill="#fb9d84" stroke="#fb9d84"/>
<circle cx="295.96" cy="151.78" r="4.3" fill="#fb9d84" stroke="#fb9d84"/>
<circle cx="296.62" cy="150.18" r="4.3" fill="#fb9d84" stroke="#fb9d84"/>
<circle cx="296.68" cy="151.23" r="4.3" fill="#fb9d84" stroke="#fb9d84"/>
<circle cx="297.45" cy="149.58" r="4.3" fill="#fb9d84" stroke="#fb9d84"/>
<circle cx="298.13" cy="145.04" r="4.3" fill="#fb9d84" stroke="#fb9d84"/>
<circle cx="298.29" cy="151.31" r="4.3" fill="#fb9d84" stroke="#fb9d84"/>
<circle cx="299.62" cy="145.99" r="4.3" fill="#fb9d84" stroke="#fb9d84"/>
<circle cx="299.99" cy="137" r="4.3" fill="#fb9d84" stroke="#fb9d84"/>
<circle cx="302.02" cy="133.17" r="4.3" fill="#fb9d84" stroke="#fb9d84"/>
<circle cx="303.2" cy="126.3" r="4.3" fill="#fb9d84" stroke="#fb9d84"/>
<circle cx="303.29" cy="137.07" r="4.3" fill="#fb9d84" stroke="#fb9d84"/>
<circle cx="303.84" cy="129.45" r="4.3" fill="#fb9d84" stroke="#fb9d84"/>
<circle cx="304.41" cy="126.07" r="4.3" fill="#fb9d84" stroke="#fb9d84"/>
<circle cx="304.9" cy="121.32" r="4.3" fill="#fb9d84" stroke="#fb9d84"/>
<circle cx="305.57" cy="121.86" r="4.3" fill="#fb9d84" stroke="#fb9d84"/>
<circle cx="305.61" cy="114.31" r="4.3" fill="#fb9d84" stroke="#fb9d84"/>
<circle cx="305.64" cy="119.02" r="4.3" fill="#fb9d84" stroke="#fb9d84"/>
<circle cx="306.22" cy="116.66" r="4.3" fill="#fb9d84" stroke="#fb9d84"/>
<circle cx="307.25" cy="113.52" r="4.3" fill="#fb9d84" stroke="#fb9d84"/>
<circle cx="307.42" cy="109.66" r="4.3" fill="#fb9d84" stroke="#fb9d84"/>
<circle cx="307.48" cy="115.25" r="4.3" fill="#fb9d84" stroke="#fb9d84"/>
<circle cx="307.58" cy="107.22" r="4.3" fill="#fb9d84" stroke="#fb9d84"/>
<circle cx="308.65" cy="107.9" r="4.3" fill="#fb9d84" stroke="#fb9d84"/>
<circle cx="311" cy="105.6" r="4.3" fill="#fb9d84" stroke="#fb9d84"/>
<circle cx="311.4" cy="105.66" r="4.3" fill="#fb9d84" stroke="#fb9d84"/>
<circle cx="313.34" cy="101.08" r="4.3" fill="#fb9d84" stroke="#fb9d84"/>
<circle cx="313.77" cy="98.11" r="4.3" fill="#fb9d84" stroke="#fb9d84"/>
<circle cx="314.13" cy="97.96" r="4.3" fill="#fb9d84" stroke="#fb9d84"/>
<circle cx="315.23" cy="99.01" r="4.3" fill="#fb9d84" stroke="#fb9d84"/>
<circle cx="315.46" cy="96.16" r="4.3" fill="#fb9d84" stroke="#fb9d84"/>
<circle cx="315.62" cy="99.57" r="4.3" fill="#fb9d84" stroke="#fb9d84"/>
<circle cx="315.75" cy="93.79" r="4.3" fill="#fb9d84" stroke="#fb9d84"/>
<circle cx="315.75" cy="100.03" r="4.3" fill="#fb9d84" stroke="#fb9d84"/>
<circle cx="316.08" cy="109.4" r="4.3" fill="#fb9d84" stroke="#fb9d84"/>
<circle cx="316.31" cy="92.28" r="4.3" fill="#fb9d84" stroke="#fb9d84"/>
<circle cx="317.41" cy="95.84" r="4.3" fill="#fb9d84" stroke="#fb9d84"/>
<circle cx="317.55" cy="101.77" r="4.3" fill="#fb9d84" stroke="#fb9d84"/>
<circle cx="317.71" cy="96.62" r="4.3" fill="#fb9d84" stroke="#fb9d84"/>
<circle cx="317.79" cy="99.79" r="4.3" fill="#fb9d84" stroke="#fb9d84"/>
<circle cx="318.33" cy="83.91" r="4.3" fill="#fb9d84" stroke="#fb9d84"/>
<circle cx="318.5" cy="91.32" r="4.3" fill="#fb9d84" stroke="#fb9d84"/>
<circle cx="318.55" cy="101.27" r="4.3" fill="#fb9d84" stroke="#fb9d84"/>
<circle cx="319.63" cy="88.29" r="4.3" fill="#fb9d84" stroke="#fb9d84"/>
<circle cx="320.11" cy="91.79" r="4.3" fill="#fb9d84" stroke="#fb9d84"/>
<circle cx="320.32" cy="80.02" r="4.3" fill="#fb9d84" stroke="#fb9d84"/>
<circle cx="320.53" cy="94.04" r="4.3" fill="#fb9d84" stroke="#fb9d84"/>
<circle cx="320.75" cy="99.41" r="4.3" fill="#fb9d84" stroke="#fb9d84"/>
<circle cx="322.36" cy="85.24" r="4.3" fill="#fb9d84" stroke="#fb9d84"/>
<circle cx="322.96" cy="86.51" r="4.3" fill="#fb9d84" stroke="#fb9d84"/>
<circle cx="323.33" cy="86.49" r="4.3" fill="#fb9d84" stroke="#fb9d84"/>
<circle cx="323.33" cy="94.91" r="4.3" fill="#fb9d84" stroke="#fb9d84"/>
<circle cx="323.34" cy="82.36" r="4.3" fill="#fb9d84" stroke="#fb9d84"/>
<circle cx="323.63" cy="76.04" r="4.3" fill="#fb9d84" stroke="#fb9d84"/>
<circle cx="323.9" cy="93.37" r="4.3" fill="#fb9d84" stroke="#fb9d84"/>
<circle cx="324.75" cy="78.04" r="4.3" fill="#fb9d84" stroke="#fb9d84"/>
<circle cx="325.42" cy="86.57" r="4.3" fill="#fb9d84" stroke="#fb9d84"/>
<circle cx="325.77" cy="72.41" r="4.3" fill="#fb9d84" stroke="#fb9d84"/>
<circle cx="325.84" cy="81.77" r="4.3" fill="#fb9d84" stroke="#fb9d84"/>
<circle cx="325.92" cy="84.85" r="4.3" fill="#fb9d84" stroke="#fb9d84"/>
<circle cx="326.43" cy="78.76" r="4.3" fill="#fb9d84" stroke="#fb9d84"/>
<circle cx="327.07" cy="81.95" r="4.3" fill="#fb9d84" stroke="#fb9d84"/>
<circle cx="328.16" cy="88.14" r="4.3" fill="#fb9d84" stroke="#fb9d84"/>
<circle cx="329.02" cy="82.27" r="4.3" fill="#fb9d84" stroke="#fb9d84"/>
<circle cx="329.36" cy="88.39" r="4.3" fill="#fb9d84" stroke="#fb9d84"/>
<circle cx="329.78" cy="94.76" r="4.3" fill="#fb9d84" stroke="#fb9d84"/>
<circle cx="330.01" cy="76.16" r="4.3" fill="#fb9d84" stroke="#fb9d84"/>
<circle cx="331.93" cy="87.25" r="4.3" fill="#fb9d84" stroke="#fb9d84"/>
<circle cx="332.38" cy="88.14" r="4.3" fill="#fb9d84" stroke="#fb9d84"/>
<circle cx="332.73" cy="83.14" r="4.3" fill="#fb9d84" stroke="#fb9d84"/>
<circle cx="332.82" cy="92.29" r="4.3" fill="#fb9d84" stroke="#fb9d84"/>
<circle cx="336.73" cy="84.22" r="4.3" fill="#fb9d84" stroke="#fb9d84"/>
<circle cx="337.38" cy="78.76" r="4.3" fill="#fb9d84" stroke="#fb9d84"/>
<circle cx="338.68" cy="76.59" r="4.3" fill="#fb9d84" stroke="#fb9d84"/>
<circle cx="339.08" cy="73.12" r="4.3" fill="#fb9d84" stroke="#fb9d84"/>
<circle cx="339.14" cy="67.9" r="4.3" fill="#fb9d84" stroke="#fb9d84"/>
<circle cx="339.73" cy="74.96" r="4.3" fill="#fb9d84" stroke="#fb9d84"/>
<circle cx="340.76" cy="69.29" r="4.3" fill="#fb9d84" stroke="#fb9d84"/>
<circle cx="340.87" cy="68.68" r="4.3" fill="#fb9d84" stroke="#fb9d84"/>
<circle cx="341.81" cy="76.41" r="4.3" fill="#fb9d84" stroke="#fb9d84"/>
<circle cx="342.39" cy="69.81" r="4.3" fill="#fb9d84" stroke="#fb9d84"/>
<circle cx="343.18" cy="75.38" r="4.3" fill="#fb9d84" stroke="#fb9d84"/>
<circle cx="343.2" cy="65.58" r="4.3" fill="#fb9d84" stroke="#fb9d84"/>
<circle cx="344.39" cy="68.37" r="4.3" fill="#fb9d84" stroke="#fb9d84"/>
<circle cx="345.77" cy="70.07" r="4.3" fill="#fb9d84" stroke="#fb9d84"/>
<circle cx="345.78" cy="76.69" r="4.3" fill="#fb9d84" stroke="#fb9d84"/>
<circle cx="345.9" cy="69.52" r="4.3" fill="#fb9d84" stroke="#fb9d84"/>
<circle cx="346.09" cy="73.72" r="4.3" fill="#fb9d84" stroke="#fb9d84"/>
<circle cx="346.13" cy="66.5" r="4.3" fill="#fb9d84" stroke="#fb9d84"/>
<circle cx="346.31" cy="70.41" r="4.3" fill="#fb9d84" stroke="#fb9d84"/>
<circle cx="347.33" cy="72.9" r="4.3" fill="#fb9d84" stroke="#fb9d84"/>
<circle cx="347.59" cy="64.12" r="4.3" fill="#fb9d84" stroke="#fb9d84"/>
<circle cx="348.51" cy="63.84" r="4.3" fill="#fb9d84" stroke="#fb9d84"/>
<circle cx="348.64" cy="70.05" r="4.3" fill="#fb9d84" stroke="#fb9d84"/>
<circle cx="349.08" cy="60.73" r="4.3" fill="#fb9d84" stroke="#fb9d84"/>
<circle cx="349.67" cy="66.77" r="4.3" fill="#fb9d84" stroke="#fb9d84"/>
<circle cx="349.95" cy="66.27" r="4.3" fill="#fb9d84" stroke="#fb9d84"/>
<circle cx="350.93" cy="62.1" r="4.3" fill="#fb9d84" stroke="#fb9d84"/>
<circle cx="352.71" cy="62.68" r="4.3" fill="#fb9d84" stroke="#fb9d84"/>
<circle cx="352.8" cy="60.99" r="4.3" fill="#fb9d84" stroke="#fb9d84"/>
<circle cx="353.38" cy="58.57" r="4.3" fill="#fb9d84" stroke="#fb9d84"/>
<circle cx="353.53" cy="50.05" r="4.3" fill="#fb9d84" stroke="#fb9d84"/>
<circle cx="355.03" cy="48.27" r="4.3" fill="#fb9d84" stroke="#fb9d84"/>
<circle cx="357.4" cy="56.33" r="4.3" fill="#fb9d84" stroke="#fb9d84"/>
<circle cx="357.66" cy="47.33" r="4.3" fill="#fb9d84" stroke="#fb9d84"/>
<circle cx="358.08" cy="55.67" r="4.3" fill="#fb9d84" stroke="#fb9d84"/>
<circle cx="358.11" cy="53.62" r="4.3" fill="#fb9d84" stroke="#fb9d84"/>
<circle cx="358.87" cy="51.83" r="4.3" fill="#fb9d84" stroke="#fb9d84"/>
<circle cx="358.94" cy="54.78" r="4.3" fill="#fb9d84" stroke="#fb9d84"/>
<circle cx="359.01" cy="44.49" r="4.3" fill="#fb9d84" stroke="#fb9d84"/>
<circle cx="360.04" cy="56.23" r="4.3" fill="#fb9d84" stroke="#fb9d84"/>
<circle cx="360.41" cy="63.7" r="4.3" fill="#fb9d84" stroke="#fb9d84"/>
<circle cx="360.69" cy="51.8" r="4.3" fill="#fb9d84" stroke="#fb9d84"/>
<circle cx="361" cy="60.54" r="4.3" fill="#fb9d84" stroke="#fb9d84"/>
<circle cx="361.91" cy="60.95" r="4.3" fill="#fb9d84" stroke="#fb9d84"/>
<circle cx="362.92" cy="74.84" r="4.3" fill="#fb9d84" stroke="#fb9d84"/>
<circle cx="362.94" cy="55.35" r="4.3" fill="#fb9d84" stroke="#fb9d84"/>
<circle cx="363.11" cy="56.33" r="4.3" fill="#fb9d84" stroke="#fb9d84"/>
<circle cx="363.64" cy="56.63" r="4.3" fill="#fb9d84" stroke="#fb9d84"/>
<circle cx="364.69" cy="55.79" r="4.3" fill="#fb9d84" stroke="#fb9d84"/>
<circle cx="364.92" cy="52.26" r="4.3" fill="#fb9d84" stroke="#fb9d84"/>
<circle cx="365.55" cy="60.48" r="4.3" fill="#fb9d84" stroke="#fb9d84"/>
<circle cx="365.91" cy="55.46" r="4.3" fill="#fb9d84" stroke="#fb9d84"/>
<circle cx="367.48" cy="62.31" r="4.3" fill="#fb9d84" stroke="#fb9d84"/>
<circle cx="368.53" cy="59.31" r="4.3" fill="#fb9d84" stroke="#fb9d84"/>
<circle cx="369.12" cy="51.83" r="4.3" fill="#fb9d84" stroke="#fb9d84"/>
<circle cx="369.71" cy="54.54" r="4.3" fill="#fb9d84" stroke="#fb9d84"/>
<circle cx="370.1" cy="62.66" r="4.3" fill="#fb9d84" stroke="#fb9d84"/>
<circle cx="370.59" cy="54.05" r="4.3" fill="#fb9d84" stroke="#fb9d84"/>
<circle cx="372.57" cy="56.23" r="4.3" fill="#fb9d84" stroke="#fb9d84"/>
<circle cx="374.53" cy="60.15" r="4.3" fill="#fb9d84" stroke="#fb9d84"/>
<circle cx="374.88" cy="54.27" r="4.3" fill="#fb9d84" stroke="#fb9d84"/>
<circle cx="377.08" cy="59.76" r="4.3" fill="#fb9d84" stroke="#fb9d84"/>
<circle cx="378.34" cy="65.75" r="4.3" fill="#fb9d84" stroke="#fb9d84"/>
<circle cx="378.51" cy="63.5" r="4.3" fill="#fb9d84" stroke="#fb9d84"/>
<circle cx="379.54" cy="49.07" r="4.3" fill="#fb9d84" stroke="#fb9d84"/>
<circle cx="380.19" cy="64.59" r="4.3" fill="#fb9d84" stroke="#fb9d84"/>
<circle cx="381.21" cy="54.89" r="4.3" fill="#fb9d84" stroke="#fb9d84"/>
<circle cx="381.74" cy="52.18" r="4.3" fill="#fb9d84" stroke="#fb9d84"/>
<circle cx="381.81" cy="51.91" r="4.3" fill="#fb9d84" stroke="#fb9d84"/>
<circle cx="382.25" cy="60.24" r="4.3" fill="#fb9d84" stroke="#fb9d84"/>
<circle cx="382.35" cy="55.65" r="4.3" fill="#fb9d84" stroke="#fb9d84"/>
<circle cx="382.49" cy="53.12" r="4.3" fill="#fb9d84" stroke="#fb9d84"/>
<circle cx="383.31" cy="48.27" r="4.3" fill="#fb9d84" stroke="#fb9d84"/>
<circle cx="383.47" cy="54.98" r="4.3" fill="#fb9d84" stroke="#fb9d84"/>
<circle cx="384" cy="56.42" r="4.3" fill="#fb9d84" stroke="#fb9d84"/>
</g>
<g clip-path="url(#ca)">
<polyline points="127.6,49.06 128.45,49.26 129.3,49.47 130.15,49.68 131,49.89 131.84,50.11 132.69,50.33 133.54,50.56 134.39,50.79 135.24,51.02 136.09,51.26 136.94,51.5 137.79,51.75 138.63,52 139.48,52.26 140.33,52.52 141.18,52.78 142.03,53.05 142.88,53.33 143.73,53.61 144.58,53.9 145.43,54.19 146.27,54.49 147.12,54.79 147.97,55.1 148.82,55.41 149.67,55.73 150.52,56.06 151.37,56.4 152.22,56.74 153.06,57.08 153.91,57.44 154.76,57.8 155.61,58.17 156.46,58.55 157.31,58.93 158.16,59.33 159.01,59.73 159.86,60.14 160.7,60.55 161.55,60.98 162.4,61.42 163.25,61.86 164.1,62.32 164.95,62.78 165.8,63.26 166.65,63.74 167.49,64.24 168.34,64.75 169.19,65.27 170.04,65.8 170.89,66.34 171.74,66.89 172.59,67.46 173.44,68.04 174.29,68.63 175.13,69.24 175.98,69.86 176.83,70.49 177.68,71.14 178.53,71.81 179.38,72.49 180.23,73.19 181.08,73.9 181.93,74.63 182.77,75.38 183.62,76.15 184.47,76.93 185.32,77.74 186.17,78.56 187.02,79.41 187.87,80.27 188.72,81.16 189.56,82.07 190.41,83 191.26,83.95 192.11,84.93 192.96,85.94 193.81,86.96 194.66,88.02 195.51,89.1 196.36,90.21 197.2,91.34 198.05,92.51 198.9,93.71 199.75,94.93 200.6,96.19 201.45,97.48 202.3,98.8 203.15,100.16 203.99,101.55 204.84,102.98 205.69,104.44 206.54,105.94 207.39,107.48 208.24,109.06 209.09,110.68 209.94,112.34 210.79,114.04 211.63,115.78 212.48,117.57 213.33,119.39 214.18,121.27 215.03,123.19 215.88,125.15 216.73,127.16 217.58,129.22 218.42,131.32 219.27,133.48 220.12,135.67 220.97,137.92 221.82,140.21 222.67,142.56 223.52,144.94 224.37,147.38 225.22,149.86 226.06,152.38 226.91,154.95 227.76,157.55 228.61,160.2 229.46,162.89 230.31,165.61 231.16,168.36 232.01,171.15 232.85,173.96 233.7,176.79 234.55,179.64 235.4,182.51 236.25,185.38 237.1,188.26 237.95,191.13 238.8,194 239.65,196.85 240.49,199.67 241.34,202.47 242.19,205.23 243.04,207.93 243.89,210.59 244.74,213.18 245.59,215.69 246.44,218.12 247.28,220.46 248.13,222.69 248.98,224.82 249.83,226.82 250.68,228.69 251.53,230.42 252.38,232.01 253.23,233.44 254.08,234.71 254.92,235.81 255.77,236.73 256.62,237.48 257.47,238.04 258.32,238.41 259.17,238.6 260.02,238.59 260.87,238.4 261.72,238.02 262.56,237.45 263.41,236.7 264.26,235.77 265.11,234.66 265.96,233.39 266.81,231.95 267.66,230.36 268.51,228.62 269.35,226.74 270.2,224.73 271.05,222.61 271.9,220.37 272.75,218.03 273.6,215.59 274.45,213.07 275.3,210.48 276.15,207.83 276.99,205.12 277.84,202.36 278.69,199.56 279.54,196.73 280.39,193.88 281.24,191.02 282.09,188.14 282.94,185.27 283.78,182.39 284.63,179.53 285.48,176.68 286.33,173.85 287.18,171.04 288.03,168.25 288.88,165.5 289.73,162.78 290.58,160.1 291.42,157.45 292.27,154.84 293.12,152.28 293.97,149.76 294.82,147.28 295.67,144.85 296.52,142.46 297.37,140.12 298.21,137.83 299.06,135.59 299.91,133.39 300.76,131.24 301.61,129.14 302.46,127.08 303.31,125.07 304.16,123.11 305.01,121.19 305.85,119.32 306.7,117.49 307.55,115.71 308.4,113.97 309.25,112.27 310.1,110.61 310.95,109 311.8,107.42 312.64,105.88 313.49,104.38 314.34,102.92 315.19,101.5 316.04,100.11 316.89,98.75 317.74,97.43 318.59,96.14 319.44,94.88 320.28,93.66 321.13,92.46 321.98,91.3 322.83,90.16 323.68,89.06 324.53,87.98 325.38,86.92 326.23,85.89 327.07,84.89 327.92,83.91 328.77,82.96 329.62,82.03 330.47,81.12 331.32,80.24 332.17,79.37 333.02,78.53 333.87,77.71 334.71,76.9 335.56,76.12 336.41,75.35 337.26,74.6 338.11,73.87 338.96,73.16 339.81,72.46 340.66,71.78 341.51,71.12 342.35,70.47 343.2,69.83 344.05,69.21 344.9,68.61 345.75,68.01 346.6,67.44 347.45,66.87 348.3,66.32 349.14,65.77 349.99,65.24 350.84,64.73 351.69,64.22 352.54,63.72 353.39,63.24 354.24,62.76 355.09,62.3 355.94,61.84 356.78,61.4 357.63,60.96 358.48,60.54 359.33,60.12 360.18,59.71 361.03,59.31 361.88,58.92 362.73,58.53 363.57,58.16 364.42,57.79 365.27,57.42 366.12,57.07 366.97,56.72 367.82,56.38 368.67,56.05 369.52,55.72 370.37,55.4 371.21,55.08 372.06,54.78 372.91,54.47 373.76,54.18 374.61,53.88 375.46,53.6 376.31,53.32 377.16,53.04 378,52.77 378.85,52.51 379.7,52.25 380.55,51.99 381.4,51.74" fill="none" stroke="#000" stroke-width="2.6" stroke-linejoin="round" stroke-linecap="butt" />
</g>
<g clip-path="url(#ca)" fill-opacity="0.72" stroke-opacity="0.72" stroke-width="1.2">
<circle cx="124.72" cy="52.47" r="4.3" fill="#fec89c" stroke="#fec89c"/>
<circle cx="125.07" cy="47.75" r="4.3" fill="#fec89c" stroke="#fec89c"/>
<circle cx="125.19" cy="45.88" r="4.3" fill="#fec89c" stroke="#fec89c"/>
<circle cx="125.79" cy="39.53" r="4.3" fill="#fec89c" stroke="#fec89c"/>
<circle cx="125.98" cy="48.31" r="4.3" fill="#fec89c" stroke="#fec89c"/>
<circle cx="126.36" cy="51.85" r="4.3" fill="#fec89c" stroke="#fec89c"/>
<circle cx="126.89" cy="51.73" r="4.3" fill="#fec89c" stroke="#fec89c"/>
<circle cx="126.93" cy="37.94" r="4.3" fill="#fec89c" stroke="#fec89c"/>
<circle cx="128.36" cy="45.53" r="4.3" fill="#fec89c" stroke="#fec89c"/>
<circle cx="128.53" cy="67.12" r="4.3" fill="#fec89c" stroke="#fec89c"/>
<circle cx="128.9" cy="63.3" r="4.3" fill="#fec89c" stroke="#fec89c"/>
<circle cx="129.47" cy="52.8" r="4.3" fill="#fec89c" stroke="#fec89c"/>
<circle cx="130.03" cy="64.94" r="4.3" fill="#fec89c" stroke="#fec89c"/>
<circle cx="134.48" cy="69.31" r="4.3" fill="#fec89c" stroke="#fec89c"/>
<circle cx="134.59" cy="76.22" r="4.3" fill="#fec89c" stroke="#fec89c"/>
<circle cx="135.02" cy="68.42" r="4.3" fill="#fec89c" stroke="#fec89c"/>
<circle cx="135.09" cy="60.41" r="4.3" fill="#fec89c" stroke="#fec89c"/>
<circle cx="135.62" cy="53.96" r="4.3" fill="#fec89c" stroke="#fec89c"/>
<circle cx="136.32" cy="65.66" r="4.3" fill="#fec89c" stroke="#fec89c"/>
<circle cx="137.27" cy="41.29" r="4.3" fill="#fec89c" stroke="#fec89c"/>
<circle cx="137.59" cy="66.21" r="4.3" fill="#fec89c" stroke="#fec89c"/>
<circle cx="137.6" cy="28.12" r="4.3" fill="#fec89c" stroke="#fec89c"/>
<circle cx="137.64" cy="53.62" r="4.3" fill="#fec89c" stroke="#fec89c"/>
<circle cx="138.25" cy="59.03" r="4.3" fill="#fec89c" stroke="#fec89c"/>
<circle cx="138.5" cy="70.34" r="4.3" fill="#fec89c" stroke="#fec89c"/>
<circle cx="138.61" cy="97.14" r="4.3" fill="#fec89c" stroke="#fec89c"/>
<circle cx="139.07" cy="65.74" r="4.3" fill="#fec89c" stroke="#fec89c"/>
<circle cx="139.18" cy="61.76" r="4.3" fill="#fec89c" stroke="#fec89c"/>
<circle cx="139.22" cy="41.6" r="4.3" fill="#fec89c" stroke="#fec89c"/>
<circle cx="139.27" cy="79.63" r="4.3" fill="#fec89c" stroke="#fec89c"/>
<circle cx="141.23" cy="39.65" r="4.3" fill="#fec89c" stroke="#fec89c"/>
<circle cx="141.6" cy="63.85" r="4.3" fill="#fec89c" stroke="#fec89c"/>
<circle cx="141.93" cy="52.46" r="4.3" fill="#fec89c" stroke="#fec89c"/>
<circle cx="142.51" cy="88.95" r="4.3" fill="#fec89c" stroke="#fec89c"/>
<circle cx="142.66" cy="58.54" r="4.3" fill="#fec89c" stroke="#fec89c"/>
<circle cx="142.68" cy="63.98" r="4.3" fill="#fec89c" stroke="#fec89c"/>
<circle cx="143.45" cy="52.06" r="4.3" fill="#fec89c" stroke="#fec89c"/>
<circle cx="143.75" cy="58.65" r="4.3" fill="#fec89c" stroke="#fec89c"/>
<circle cx="144.03" cy="72.46" r="4.3" fill="#fec89c" stroke="#fec89c"/>
<circle cx="145.44" cy="49.57" r="4.3" fill="#fec89c" stroke="#fec89c"/>
<circle cx="145.46" cy="52.39" r="4.3" fill="#fec89c" stroke="#fec89c"/>
<circle cx="146.92" cy="54.84" r="4.3" fill="#fec89c" stroke="#fec89c"/>
<circle cx="147.22" cy="50.67" r="4.3" fill="#fec89c" stroke="#fec89c"/>
<circle cx="147.46" cy="49.96" r="4.3" fill="#fec89c" stroke="#fec89c"/>
<circle cx="147.79" cy="62.69" r="4.3" fill="#fec89c" stroke="#fec89c"/>
<circle cx="148.95" cy="78.69" r="4.3" fill="#fec89c" stroke="#fec89c"/>
<circle cx="149.17" cy="79.23" r="4.3" fill="#fec89c" stroke="#fec89c"/>
<circle cx="149.61" cy="50.07" r="4.3" fill="#fec89c" stroke="#fec89c"/>
<circle cx="149.84" cy="57.27" r="4.3" fill="#fec89c" stroke="#fec89c"/>
<circle cx="149.98" cy="64.01" r="4.3" fill="#fec89c" stroke="#fec89c"/>
<circle cx="150.02" cy="69.85" r="4.3" fill="#fec89c" stroke="#fec89c"/>
<circle cx="150.76" cy="65.51" r="4.3" fill="#fec89c" stroke="#fec89c"/>
<circle cx="150.89" cy="65.68" r="4.3" fill="#fec89c" stroke="#fec89c"/>
<circle cx="151.1" cy="69.72" r="4.3" fill="#fec89c" stroke="#fec89c"/>
<circle cx="151.51" cy="73.86" r="4.3" fill="#fec89c" stroke="#fec89c"/>
<circle cx="152.24" cy="43.65" r="4.3" fill="#fec89c" stroke="#fec89c"/>
<circle cx="152.63" cy="64.39" r="4.3" fill="#fec89c" stroke="#fec89c"/>
<circle cx="153.08" cy="73.29" r="4.3" fill="#fec89c" stroke="#fec89c"/>
<circle cx="153.18" cy="80.67" r="4.3" fill="#fec89c" stroke="#fec89c"/>
<circle cx="153.22" cy="74.56" r="4.3" fill="#fec89c" stroke="#fec89c"/>
<circle cx="153.23" cy="59.26" r="4.3" fill="#fec89c" stroke="#fec89c"/>
<circle cx="153.29" cy="58.85" r="4.3" fill="#fec89c" stroke="#fec89c"/>
<circle cx="155.07" cy="68.83" r="4.3" fill="#fec89c" stroke="#fec89c"/>
<circle cx="155.55" cy="65.86" r="4.3" fill="#fec89c" stroke="#fec89c"/>
<circle cx="155.9" cy="69.48" r="4.3" fill="#fec89c" stroke="#fec89c"/>
<circle cx="155.99" cy="77.8" r="4.3" fill="#fec89c" stroke="#fec89c"/>
<circle cx="156.49" cy="52.68" r="4.3" fill="#fec89c" stroke="#fec89c"/>
<circle cx="159.32" cy="63.29" r="4.3" fill="#fec89c" stroke="#fec89c"/>
<circle cx="159.87" cy="42.59" r="4.3" fill="#fec89c" stroke="#fec89c"/>
<circle cx="161.52" cy="78.03" r="4.3" fill="#fec89c" stroke="#fec89c"/>
<circle cx="162.34" cy="73.63" r="4.3" fill="#fec89c" stroke="#fec89c"/>
<circle cx="163.43" cy="66.22" r="4.3" fill="#fec89c" stroke="#fec89c"/>
<circle cx="163.75" cy="78.19" r="4.3" fill="#fec89c" stroke="#fec89c"/>
<circle cx="166.32" cy="95.46" r="4.3" fill="#fec89c" stroke="#fec89c"/>
<circle cx="166.95" cy="92.36" r="4.3" fill="#fec89c" stroke="#fec89c"/>
<circle cx="167.13" cy="82.54" r="4.3" fill="#fec89c" stroke="#fec89c"/>
<circle cx="167.6" cy="80.95" r="4.3" fill="#fec89c" stroke="#fec89c"/>
<circle cx="169.23" cy="86.83" r="4.3" fill="#fec89c" stroke="#fec89c"/>
<circle cx="171.66" cy="76.88" r="4.3" fill="#fec89c" stroke="#fec89c"/>
<circle cx="172.07" cy="76.92" r="4.3" fill="#fec89c" stroke="#fec89c"/>
<circle cx="172.42" cy="83.07" r="4.3" fill="#fec89c" stroke="#fec89c"/>
<circle cx="173.87" cy="85.53" r="4.3" fill="#fec89c" stroke="#fec89c"/>
<circle cx="174.39" cy="88.08" r="4.3" fill="#fec89c" stroke="#fec89c"/>
<circle cx="174.91" cy="80.8" r="4.3" fill="#fec89c" stroke="#fec89c"/>
<circle cx="175.87" cy="77.87" r="4.3" fill="#fec89c" stroke="#fec89c"/>
<circle cx="176.16" cy="85.85" r="4.3" fill="#fec89c" stroke="#fec89c"/>
<circle cx="176.58" cy="82.66" r="4.3" fill="#fec89c" stroke="#fec89c"/>
<circle cx="176.91" cy="89.94" r="4.3" fill="#fec89c" stroke="#fec89c"/>
<circle cx="177.28" cy="100.06" r="4.3" fill="#fec89c" stroke="#fec89c"/>
<circle cx="177.29" cy="96.39" r="4.3" fill="#fec89c" stroke="#fec89c"/>
<circle cx="178.5" cy="82.22" r="4.3" fill="#fec89c" stroke="#fec89c"/>
<circle cx="179.41" cy="86.41" r="4.3" fill="#fec89c" stroke="#fec89c"/>
<circle cx="179.85" cy="77.06" r="4.3" fill="#fec89c" stroke="#fec89c"/>
<circle cx="180.1" cy="90.94" r="4.3" fill="#fec89c" stroke="#fec89c"/>
<circle cx="180.75" cy="84.9" r="4.3" fill="#fec89c" stroke="#fec89c"/>
<circle cx="180.91" cy="81.15" r="4.3" fill="#fec89c" stroke="#fec89c"/>
<circle cx="182.1" cy="85.74" r="4.3" fill="#fec89c" stroke="#fec89c"/>
<circle cx="182.81" cy="100.35" r="4.3" fill="#fec89c" stroke="#fec89c"/>
<circle cx="183.57" cy="97.35" r="4.3" fill="#fec89c" stroke="#fec89c"/>
<circle cx="183.71" cy="94.76" r="4.3" fill="#fec89c" stroke="#fec89c"/>
<circle cx="184.18" cy="104.5" r="4.3" fill="#fec89c" stroke="#fec89c"/>
<circle cx="185.18" cy="92.39" r="4.3" fill="#fec89c" stroke="#fec89c"/>
<circle cx="185.6" cy="87.8" r="4.3" fill="#fec89c" stroke="#fec89c"/>
<circle cx="185.9" cy="100.4" r="4.3" fill="#fec89c" stroke="#fec89c"/>
<circle cx="186.33" cy="79.82" r="4.3" fill="#fec89c" stroke="#fec89c"/>
<circle cx="186.41" cy="98.7" r="4.3" fill="#fec89c" stroke="#fec89c"/>
<circle cx="187.04" cy="97.77" r="4.3" fill="#fec89c" stroke="#fec89c"/>
<circle cx="188.4" cy="97.59" r="4.3" fill="#fec89c" stroke="#fec89c"/>
<circle cx="188.92" cy="101.32" r="4.3" fill="#fec89c" stroke="#fec89c"/>
<circle cx="190.16" cy="92.22" r="4.3" fill="#fec89c" stroke="#fec89c"/>
<circle cx="190.31" cy="95.49" r="4.3" fill="#fec89c" stroke="#fec89c"/>
<circle cx="190.43" cy="82.29" r="4.3" fill="#fec89c" stroke="#fec89c"/>
<circle cx="192.04" cy="92.28" r="4.3" fill="#fec89c" stroke="#fec89c"/>
<circle cx="192.14" cy="92.98" r="4.3" fill="#fec89c" stroke="#fec89c"/>
<circle cx="193.43" cy="101.29" r="4.3" fill="#fec89c" stroke="#fec89c"/>
<circle cx="193.65" cy="111.15" r="4.3" fill="#fec89c" stroke="#fec89c"/>
<circle cx="194.19" cy="102.03" r="4.3" fill="#fec89c" stroke="#fec89c"/>
<circle cx="194.34" cy="108.33" r="4.3" fill="#fec89c" stroke="#fec89c"/>
<circle cx="194.77" cy="95.44" r="4.3" fill="#fec89c" stroke="#fec89c"/>
<circle cx="195.21" cy="104.34" r="4.3" fill="#fec89c" stroke="#fec89c"/>
<circle cx="195.49" cy="92.03" r="4.3" fill="#fec89c" stroke="#fec89c"/>
<circle cx="195.57" cy="99.47" r="4.3" fill="#fec89c" stroke="#fec89c"/>
<circle cx="195.91" cy="99.75" r="4.3" fill="#fec89c" stroke="#fec89c"/>
<circle cx="196.21" cy="105.32" r="4.3" fill="#fec89c" stroke="#fec89c"/>
<circle cx="196.46" cy="106.26" r="4.3" fill="#fec89c" stroke="#fec89c"/>
<circle cx="197.1" cy="104.87" r="4.3" fill="#fec89c" stroke="#fec89c"/>
<circle cx="198.14" cy="106.01" r="4.3" fill="#fec89c" stroke="#fec89c"/>
<circle cx="199.99" cy="123.06" r="4.3" fill="#fec89c" stroke="#fec89c"/>
<circle cx="200.57" cy="115.39" r="4.3" fill="#fec89c" stroke="#fec89c"/>
<circle cx="200.91" cy="100.38" r="4.3" fill="#fec89c" stroke="#fec89c"/>
<circle cx="201.62" cy="121.56" r="4.3" fill="#fec89c" stroke="#fec89c"/>
<circle cx="202.76" cy="124.32" r="4.3" fill="#fec89c" stroke="#fec89c"/>
<circle cx="203.39" cy="128.16" r="4.3" fill="#fec89c" stroke="#fec89c"/>
<circle cx="203.5" cy="133.71" r="4.3" fill="#fec89c" stroke="#fec89c"/>
<circle cx="204.16" cy="115.48" r="4.3" fill="#fec89c" stroke="#fec89c"/>
<circle cx="204.17" cy="123.55" r="4.3" fill="#fec89c" stroke="#fec89c"/>
<circle cx="204.4" cy="122.07" r="4.3" fill="#fec89c" stroke="#fec89c"/>
<circle cx="204.91" cy="111.63" r="4.3" fill="#fec89c" stroke="#fec89c"/>
<circle cx="204.95" cy="106.96" r="4.3" fill="#fec89c" stroke="#fec89c"/>
<circle cx="206.28" cy="132.47" r="4.3" fill="#fec89c" stroke="#fec89c"/>
<circle cx="207.11" cy="120.08" r="4.3" fill="#fec89c" stroke="#fec89c"/>
<circle cx="207.29" cy="123.36" r="4.3" fill="#fec89c" stroke="#fec89c"/>
<circle cx="207.81" cy="125.82" r="4.3" fill="#fec89c" stroke="#fec89c"/>
<circle cx="208.2" cy="126.01" r="4.3" fill="#fec89c" stroke="#fec89c"/>
<circle cx="209.35" cy="131.94" r="4.3" fill="#fec89c" stroke="#fec89c"/>
<circle cx="211.25" cy="126.21" r="4.3" fill="#fec89c" stroke="#fec89c"/>
<circle cx="212.22" cy="135.52" r="4.3" fill="#fec89c" stroke="#fec89c"/>
<circle cx="212.35" cy="137.67" r="4.3" fill="#fec89c" stroke="#fec89c"/>
<circle cx="212.71" cy="132.75" r="4.3" fill="#fec89c" stroke="#fec89c"/>
<circle cx="213.35" cy="136.83" r="4.3" fill="#fec89c" stroke="#fec89c"/>
<circle cx="213.87" cy="141.02" r="4.3" fill="#fec89c" stroke="#fec89c"/>
<circle cx="214.67" cy="143.78" r="4.3" fill="#fec89c" stroke="#fec89c"/>
<circle cx="215.13" cy="135.61" r="4.3" fill="#fec89c" stroke="#fec89c"/>
<circle cx="216.08" cy="145.26" r="4.3" fill="#fec89c" stroke="#fec89c"/>
<circle cx="218.18" cy="151.14" r="4.3" fill="#fec89c" stroke="#fec89c"/>
<circle cx="218.5" cy="156.02" r="4.3" fill="#fec89c" stroke="#fec89c"/>
<circle cx="219.15" cy="153.06" r="4.3" fill="#fec89c" stroke="#fec89c"/>
<circle cx="219.28" cy="157.4" r="4.3" fill="#fec89c" stroke="#fec89c"/>
<circle cx="220.4" cy="150.51" r="4.3" fill="#fec89c" stroke="#fec89c"/>
<circle cx="220.42" cy="149.61" r="4.3" fill="#fec89c" stroke="#fec89c"/>
<circle cx="221.16" cy="163.58" r="4.3" fill="#fec89c" stroke="#fec89c"/>
<circle cx="221.57" cy="151.29" r="4.3" fill="#fec89c" stroke="#fec89c"/>
<circle cx="222.01" cy="147.7" r="4.3" fill="#fec89c" stroke="#fec89c"/>
<circle cx="222.67" cy="150.94" r="4.3" fill="#fec89c" stroke="#fec89c"/>
<circle cx="223.08" cy="157.83" r="4.3" fill="#fec89c" stroke="#fec89c"/>
<circle cx="223.42" cy="145.14" r="4.3" fill="#fec89c" stroke="#fec89c"/>
<circle cx="224.1" cy="157.38" r="4.3" fill="#fec89c" stroke="#fec89c"/>
<circle cx="224.47" cy="160.98" r="4.3" fill="#fec89c" stroke="#fec89c"/>
<circle cx="224.61" cy="160.33" r="4.3" fill="#fec89c" stroke="#fec89c"/>
<circle cx="225.38" cy="155.61" r="4.3" fill="#fec89c" stroke="#fec89c"/>
<circle cx="225.82" cy="150.88" r="4.3" fill="#fec89c" stroke="#fec89c"/>
<circle cx="227.2" cy="153.41" r="4.3" fill="#fec89c" stroke="#fec89c"/>
<circle cx="227.52" cy="159.66" r="4.3" fill="#fec89c" stroke="#fec89c"/>
<circle cx="227.6" cy="167.69" r="4.3" fill="#fec89c" stroke="#fec89c"/>
<circle cx="227.63" cy="164.78" r="4.3" fill="#fec89c" stroke="#fec89c"/>
<circle cx="227.87" cy="166.81" r="4.3" fill="#fec89c" stroke="#fec89c"/>
<circle cx="228.48" cy="164.61" r="4.3" fill="#fec89c" stroke="#fec89c"/>
<circle cx="228.5" cy="173.43" r="4.3" fill="#fec89c" stroke="#fec89c"/>
<circle cx="228.85" cy="164.11" r="4.3" fill="#fec89c" stroke="#fec89c"/>
<circle cx="229.28" cy="162.52" r="4.3" fill="#fec89c" stroke="#fec89c"/>
<circle cx="229.76" cy="168.29" r="4.3" fill="#fec89c" stroke="#fec89c"/>
<circle cx="229.94" cy="165.53" r="4.3" fill="#fec89c" stroke="#fec89c"/>
<circle cx="230.22" cy="173.91" r="4.3" fill="#fec89c" stroke="#fec89c"/>
<circle cx="230.91" cy="178.56" r="4.3" fill="#fec89c" stroke="#fec89c"/>
<circle cx="231.44" cy="175.56" r="4.3" fill="#fec89c" stroke="#fec89c"/>
<circle cx="231.73" cy="166.8" r="4.3" fill="#fec89c" stroke="#fec89c"/>
<circle cx="232.86" cy="170.02" r="4.3" fill="#fec89c" stroke="#fec89c"/>
<circle cx="234.02" cy="179.72" r="4.3" fill="#fec89c" stroke="#fec89c"/>
<circle cx="234.69" cy="172.18" r="4.3" fill="#fec89c" stroke="#fec89c"/>
<circle cx="234.78" cy="180.06" r="4.3" fill="#fec89c" stroke="#fec89c"/>
<circle cx="234.8" cy="170.77" r="4.3" fill="#fec89c" stroke="#fec89c"/>
<circle cx="235.58" cy="176.91" r="4.3" fill="#fec89c" stroke="#fec89c"/>
<circle cx="236.25" cy="182.26" r="4.3" fill="#fec89c" stroke="#fec89c"/>
<circle cx="236.32" cy="176.13" r="4.3" fill="#fec89c" stroke="#fec89c"/>
<circle cx="236.59" cy="184.18" r="4.3" fill="#fec89c" stroke="#fec89c"/>
<circle cx="236.63" cy="185.02" r="4.3" fill="#fec89c" stroke="#fec89c"/>
<circle cx="237.3" cy="188.17" r="4.3" fill="#fec89c" stroke="#fec89c"/>
<circle cx="237.44" cy="179.94" r="4.3" fill="#fec89c" stroke="#fec89c"/>
<circle cx="237.64" cy="181.67" r="4.3" fill="#fec89c" stroke="#fec89c"/>
<circle cx="238.27" cy="182.48" r="4.3" fill="#fec89c" stroke="#fec89c"/>
<circle cx="238.61" cy="184.53" r="4.3" fill="#fec89c" stroke="#fec89c"/>
<circle cx="238.85" cy="175.82" r="4.3" fill="#fec89c" stroke="#fec89c"/>
<circle cx="239.19" cy="185.39" r="4.3" fill="#fec89c" stroke="#fec89c"/>
<circle cx="239.22" cy="186.89" r="4.3" fill="#fec89c" stroke="#fec89c"/>
<circle cx="239.29" cy="177.37" r="4.3" fill="#fec89c" stroke="#fec89c"/>
<circle cx="239.71" cy="177.17" r="4.3" fill="#fec89c" stroke="#fec89c"/>
<circle cx="240.22" cy="183.31" r="4.3" fill="#fec89c" stroke="#fec89c"/>
<circle cx="240.42" cy="193.83" r="4.3" fill="#fec89c" stroke="#fec89c"/>
<circle cx="240.47" cy="188.36" r="4.3" fill="#fec89c" stroke="#fec89c"/>
<circle cx="240.79" cy="183.05" r="4.3" fill="#fec89c" stroke="#fec89c"/>
<circle cx="241.91" cy="188.37" r="4.3" fill="#fec89c" stroke="#fec89c"/>
<circle cx="243.05" cy="183.64" r="4.3" fill="#fec89c" stroke="#fec89c"/>
<circle cx="243.87" cy="199.98" r="4.3" fill="#fec89c" stroke="#fec89c"/>
<circle cx="244.4" cy="191.29" r="4.3" fill="#fec89c" stroke="#fec89c"/>
<circle cx="244.97" cy="199.04" r="4.3" fill="#fec89c" stroke="#fec89c"/>
<circle cx="245.37" cy="190.42" r="4.3" fill="#fec89c" stroke="#fec89c"/>
<circle cx="246.46" cy="199.37" r="4.3" fill="#fec89c" stroke="#fec89c"/>
<circle cx="246.82" cy="194.54" r="4.3" fill="#fec89c" stroke="#fec89c"/>
<circle cx="247.78" cy="203.89" r="4.3" fill="#fec89c" stroke="#fec89c"/>
<circle cx="248.47" cy="208.06" r="4.3" fill="#fec89c" stroke="#fec89c"/>
<circle cx="248.49" cy="206.61" r="4.3" fill="#fec89c" stroke="#fec89c"/>
<circle cx="249.1" cy="204.27" r="4.3" fill="#fec89c" stroke="#fec89c"/>
<circle cx="250" cy="206.04" r="4.3" fill="#fec89c" stroke="#fec89c"/>
<circle cx="250.52" cy="194.79" r="4.3" fill="#fec89c" stroke="#fec89c"/>
<circle cx="251.79" cy="192.61" r="4.3" fill="#fec89c" stroke="#fec89c"/>
<circle cx="251.81" cy="197.79" r="4.3" fill="#fec89c" stroke="#fec89c"/>
<circle cx="252.08" cy="203.76" r="4.3" fill="#fec89c" stroke="#fec89c"/>
<circle cx="252.29" cy="198.96" r="4.3" fill="#fec89c" stroke="#fec89c"/>
<circle cx="253.02" cy="200.51" r="4.3" fill="#fec89c" stroke="#fec89c"/>
<circle cx="253.09" cy="189.94" r="4.3" fill="#fec89c" stroke="#fec89c"/>
<circle cx="253.92" cy="194.05" r="4.3" fill="#fec89c" stroke="#fec89c"/>
<circle cx="254.71" cy="191.86" r="4.3" fill="#fec89c" stroke="#fec89c"/>
<circle cx="256" cy="194.28" r="4.3" fill="#fec89c" stroke="#fec89c"/>
<circle cx="258.32" cy="199.98" r="4.3" fill="#fec89c" stroke="#fec89c"/>
<circle cx="258.39" cy="193.88" r="4.3" fill="#fec89c" stroke="#fec89c"/>
<circle cx="259.34" cy="195.13" r="4.3" fill="#fec89c" stroke="#fec89c"/>
<circle cx="259.42" cy="187.84" r="4.3" fill="#fec89c" stroke="#fec89c"/>
<circle cx="259.79" cy="189.05" r="4.3" fill="#fec89c" stroke="#fec89c"/>
<circle cx="260.83" cy="193.11" r="4.3" fill="#fec89c" stroke="#fec89c"/>
<circle cx="261.04" cy="191.02" r="4.3" fill="#fec89c" stroke="#fec89c"/>
<circle cx="261.42" cy="181.33" r="4.3" fill="#fec89c" stroke="#fec89c"/>
<circle cx="262.17" cy="193.29" r="4.3" fill="#fec89c" stroke="#fec89c"/>
<circle cx="262.51" cy="192.87" r="4.3" fill="#fec89c" stroke="#fec89c"/>
<circle cx="262.78" cy="189.3" r="4.3" fill="#fec89c" stroke="#fec89c"/>
<circle cx="263.05" cy="191.37" r="4.3" fill="#fec89c" stroke="#fec89c"/>
<circle cx="263.07" cy="190.03" r="4.3" fill="#fec89c" stroke="#fec89c"/>
<circle cx="264.04" cy="184.27" r="4.3" fill="#fec89c" stroke="#fec89c"/>
<circle cx="264.48" cy="177.78" r="4.3" fill="#fec89c" stroke="#fec89c"/>
<circle cx="264.52" cy="194.87" r="4.3" fill="#fec89c" stroke="#fec89c"/>
<circle cx="265.4" cy="184.74" r="4.3" fill="#fec89c" stroke="#fec89c"/>
<circle cx="266.5" cy="182.1" r="4.3" fill="#fec89c" stroke="#fec89c"/>
<circle cx="266.59" cy="182.5" r="4.3" fill="#fec89c" stroke="#fec89c"/>
<circle cx="267.64" cy="180.38" r="4.3" fill="#fec89c" stroke="#fec89c"/>
<circle cx="268.2" cy="179.63" r="4.3" fill="#fec89c" stroke="#fec89c"/>
<circle cx="268.23" cy="173" r="4.3" fill="#fec89c" stroke="#fec89c"/>
<circle cx="268.29" cy="180.01" r="4.3" fill="#fec89c" stroke="#fec89c"/>
<circle cx="268.59" cy="177.57" r="4.3" fill="#fec89c" stroke="#fec89c"/>
<circle cx="269.12" cy="175.54" r="4.3" fill="#fec89c" stroke="#fec89c"/>
<circle cx="269.86" cy="173.13" r="4.3" fill="#fec89c" stroke="#fec89c"/>
<circle cx="269.93" cy="174.31" r="4.3" fill="#fec89c" stroke="#fec89c"/>
<circle cx="270.05" cy="168.3" r="4.3" fill="#fec89c" stroke="#fec89c"/>
<circle cx="270.61" cy="171.9" r="4.3" fill="#fec89c" stroke="#fec89c"/>
<circle cx="270.68" cy="170.84" r="4.3" fill="#fec89c" stroke="#fec89c"/>
<circle cx="272.17" cy="169" r="4.3" fill="#fec89c" stroke="#fec89c"/>
<circle cx="272.83" cy="172.64" r="4.3" fill="#fec89c" stroke="#fec89c"/>
<circle cx="274.95" cy="169.86" r="4.3" fill="#fec89c" stroke="#fec89c"/>
<circle cx="275.83" cy="170.57" r="4.3" fill="#fec89c" stroke="#fec89c"/>
<circle cx="275.83" cy="164.51" r="4.3" fill="#fec89c" stroke="#fec89c"/>
<circle cx="276.11" cy="168.85" r="4.3" fill="#fec89c" stroke="#fec89c"/>
<circle cx="276.26" cy="170.5" r="4.3" fill="#fec89c" stroke="#fec89c"/>
<circle cx="276.43" cy="164.11" r="4.3" fill="#fec89c" stroke="#fec89c"/>
<circle cx="276.8" cy="162.61" r="4.3" fill="#fec89c" stroke="#fec89c"/>
<circle cx="277.24" cy="173.64" r="4.3" fill="#fec89c" stroke="#fec89c"/>
<circle cx="277.71" cy="156.63" r="4.3" fill="#fec89c" stroke="#fec89c"/>
<circle cx="278.81" cy="164.11" r="4.3" fill="#fec89c" stroke="#fec89c"/>
<circle cx="279.18" cy="164.48" r="4.3" fill="#fec89c" stroke="#fec89c"/>
<circle cx="279.35" cy="158.6" r="4.3" fill="#fec89c" stroke="#fec89c"/>
<circle cx="279.68" cy="163.12" r="4.3" fill="#fec89c" stroke="#fec89c"/>
<circle cx="280.44" cy="165.41" r="4.3" fill="#fec89c" stroke="#fec89c"/>
<circle cx="280.88" cy="151.03" r="4.3" fill="#fec89c" stroke="#fec89c"/>
<circle cx="282.02" cy="164.66" r="4.3" fill="#fec89c" stroke="#fec89c"/>
<circle cx="282.31" cy="159.18" r="4.3" fill="#fec89c" stroke="#fec89c"/>
<circle cx="282.42" cy="154.3" r="4.3" fill="#fec89c" stroke="#fec89c"/>
<circle cx="283.12" cy="161.77" r="4.3" fill="#fec89c" stroke="#fec89c"/>
<circle cx="283.39" cy="156.27" r="4.3" fill="#fec89c" stroke="#fec89c"/>
<circle cx="283.48" cy="153.62" r="4.3" fill="#fec89c" stroke="#fec89c"/>
<circle cx="286.15" cy="135.32" r="4.3" fill="#fec89c" stroke="#fec89c"/>
<circle cx="286.42" cy="150.55" r="4.3" fill="#fec89c" stroke="#fec89c"/>
<circle cx="286.53" cy="146.07" r="4.3" fill="#fec89c" stroke="#fec89c"/>
<circle cx="286.57" cy="142.52" r="4.3" fill="#fec89c" stroke="#fec89c"/>
<circle cx="287.99" cy="141.17" r="4.3" fill="#fec89c" stroke="#fec89c"/>
<circle cx="288.2" cy="146.9" r="4.3" fill="#fec89c" stroke="#fec89c"/>
<circle cx="288.41" cy="138.48" r="4.3" fill="#fec89c" stroke="#fec89c"/>
<circle cx="288.47" cy="139.8" r="4.3" fill="#fec89c" stroke="#fec89c"/>
<circle cx="288.7" cy="137.58" r="4.3" fill="#fec89c" stroke="#fec89c"/>
<circle cx="288.89" cy="133.78" r="4.3" fill="#fec89c" stroke="#fec89c"/>
<circle cx="289.35" cy="133.31" r="4.3" fill="#fec89c" stroke="#fec89c"/>
<circle cx="290.41" cy="134.18" r="4.3" fill="#fec89c" stroke="#fec89c"/>
<circle cx="290.96" cy="133.69" r="4.3" fill="#fec89c" stroke="#fec89c"/>
<circle cx="291.2" cy="140.18" r="4.3" fill="#fec89c" stroke="#fec89c"/>
<circle cx="294.06" cy="131.25" r="4.3" fill="#fec89c" stroke="#fec89c"/>
<circle cx="294.52" cy="128.76" r="4.3" fill="#fec89c" stroke="#fec89c"/>
<circle cx="294.82" cy="131.26" r="4.3" fill="#fec89c" stroke="#fec89c"/>
<circle cx="295.23" cy="128.06" r="4.3" fill="#fec89c" stroke="#fec89c"/>
<circle cx="295.42" cy="132.21" r="4.3" fill="#fec89c" stroke="#fec89c"/>
<circle cx="296.36" cy="118.63" r="4.3" fill="#fec89c" stroke="#fec89c"/>
<circle cx="296.37" cy="115.58" r="4.3" fill="#fec89c" stroke="#fec89c"/>
<circle cx="296.95" cy="126.53" r="4.3" fill="#fec89c" stroke="#fec89c"/>
<circle cx="297.33" cy="121.64" r="4.3" fill="#fec89c" stroke="#fec89c"/>
<circle cx="297.72" cy="123.64" r="4.3" fill="#fec89c" stroke="#fec89c"/>
<circle cx="298.33" cy="114.48" r="4.3" fill="#fec89c" stroke="#fec89c"/>
<circle cx="299.03" cy="116.24" r="4.3" fill="#fec89c" stroke="#fec89c"/>
<circle cx="299.52" cy="116.33" r="4.3" fill="#fec89c" stroke="#fec89c"/>
<circle cx="299.55" cy="117.72" r="4.3" fill="#fec89c" stroke="#fec89c"/>
<circle cx="300.09" cy="114.13" r="4.3" fill="#fec89c" stroke="#fec89c"/>
<circle cx="300.17" cy="119.37" r="4.3" fill="#fec89c" stroke="#fec89c"/>
<circle cx="300.59" cy="109.72" r="4.3" fill="#fec89c" stroke="#fec89c"/>
<circle cx="300.79" cy="115.81" r="4.3" fill="#fec89c" stroke="#fec89c"/>
<circle cx="301.16" cy="108.43" r="4.3" fill="#fec89c" stroke="#fec89c"/>
<circle cx="301.45" cy="109.44" r="4.3" fill="#fec89c" stroke="#fec89c"/>
<circle cx="301.57" cy="104.34" r="4.3" fill="#fec89c" stroke="#fec89c"/>
<circle cx="301.59" cy="109.69" r="4.3" fill="#fec89c" stroke="#fec89c"/>
<circle cx="303.21" cy="99.67" r="4.3" fill="#fec89c" stroke="#fec89c"/>
<circle cx="303.92" cy="107.4" r="4.3" fill="#fec89c" stroke="#fec89c"/>
<circle cx="304.39" cy="98.89" r="4.3" fill="#fec89c" stroke="#fec89c"/>
<circle cx="304.43" cy="102.88" r="4.3" fill="#fec89c" stroke="#fec89c"/>
<circle cx="304.65" cy="100.4" r="4.3" fill="#fec89c" stroke="#fec89c"/>
<circle cx="305.35" cy="99.82" r="4.3" fill="#fec89c" stroke="#fec89c"/>
<circle cx="305.56" cy="95.3" r="4.3" fill="#fec89c" stroke="#fec89c"/>
<circle cx="307.07" cy="108.31" r="4.3" fill="#fec89c" stroke="#fec89c"/>
<circle cx="307.86" cy="96.55" r="4.3" fill="#fec89c" stroke="#fec89c"/>
<circle cx="307.93" cy="105.4" r="4.3" fill="#fec89c" stroke="#fec89c"/>
<circle cx="308.14" cy="92.17" r="4.3" fill="#fec89c" stroke="#fec89c"/>
<circle cx="309.14" cy="107.6" r="4.3" fill="#fec89c" stroke="#fec89c"/>
<circle cx="309.22" cy="102.86" r="4.3" fill="#fec89c" stroke="#fec89c"/>
<circle cx="309.31" cy="106.13" r="4.3" fill="#fec89c" stroke="#fec89c"/>
<circle cx="309.33" cy="89.96" r="4.3" fill="#fec89c" stroke="#fec89c"/>
<circle cx="309.94" cy="104.24" r="4.3" fill="#fec89c" stroke="#fec89c"/>
<circle cx="309.98" cy="97.39" r="4.3" fill="#fec89c" stroke="#fec89c"/>
<circle cx="310.49" cy="100.53" r="4.3" fill="#fec89c" stroke="#fec89c"/>
<circle cx="310.66" cy="106.68" r="4.3" fill="#fec89c" stroke="#fec89c"/>
<circle cx="311.41" cy="99.38" r="4.3" fill="#fec89c" stroke="#fec89c"/>
<circle cx="311.51" cy="94.46" r="4.3" fill="#fec89c" stroke="#fec89c"/>
<circle cx="311.86" cy="98.45" r="4.3" fill="#fec89c" stroke="#fec89c"/>
<circle cx="312.89" cy="92.27" r="4.3" fill="#fec89c" stroke="#fec89c"/>
<circle cx="313.12" cy="98.43" r="4.3" fill="#fec89c" stroke="#fec89c"/>
<circle cx="313.38" cy="96.36" r="4.3" fill="#fec89c" stroke="#fec89c"/>
<circle cx="313.52" cy="98.13" r="4.3" fill="#fec89c" stroke="#fec89c"/>
<circle cx="315.05" cy="92.54" r="4.3" fill="#fec89c" stroke="#fec89c"/>
<circle cx="316.44" cy="82.54" r="4.3" fill="#fec89c" stroke="#fec89c"/>
<circle cx="316.67" cy="89.61" r="4.3" fill="#fec89c" stroke="#fec89c"/>
<circle cx="317.39" cy="89.08" r="4.3" fill="#fec89c" stroke="#fec89c"/>
<circle cx="317.42" cy="93.01" r="4.3" fill="#fec89c" stroke="#fec89c"/>
<circle cx="319.97" cy="89.51" r="4.3" fill="#fec89c" stroke="#fec89c"/>
<circle cx="321.45" cy="77.23" r="4.3" fill="#fec89c" stroke="#fec89c"/>
<circle cx="321.52" cy="89.76" r="4.3" fill="#fec89c" stroke="#fec89c"/>
<circle cx="323.91" cy="88.15" r="4.3" fill="#fec89c" stroke="#fec89c"/>
<circle cx="324.22" cy="84.17" r="4.3" fill="#fec89c" stroke="#fec89c"/>
<circle cx="324.45" cy="85.78" r="4.3" fill="#fec89c" stroke="#fec89c"/>
<circle cx="324.83" cy="74.16" r="4.3" fill="#fec89c" stroke="#fec89c"/>
<circle cx="327.24" cy="94.82" r="4.3" fill="#fec89c" stroke="#fec89c"/>
<circle cx="327.6" cy="81.27" r="4.3" fill="#fec89c" stroke="#fec89c"/>
<circle cx="327.87" cy="79.35" r="4.3" fill="#fec89c" stroke="#fec89c"/>
<circle cx="328.59" cy="87.56" r="4.3" fill="#fec89c" stroke="#fec89c"/>
<circle cx="329.66" cy="83.65" r="4.3" fill="#fec89c" stroke="#fec89c"/>
<circle cx="329.86" cy="78.03" r="4.3" fill="#fec89c" stroke="#fec89c"/>
<circle cx="331.94" cy="67.47" r="4.3" fill="#fec89c" stroke="#fec89c"/>
<circle cx="332.4" cy="78.69" r="4.3" fill="#fec89c" stroke="#fec89c"/>
<circle cx="333.2" cy="79.75" r="4.3" fill="#fec89c" stroke="#fec89c"/>
<circle cx="333.97" cy="65.23" r="4.3" fill="#fec89c" stroke="#fec89c"/>
<circle cx="333.98" cy="62.51" r="4.3" fill="#fec89c" stroke="#fec89c"/>
<circle cx="335.6" cy="67.7" r="4.3" fill="#fec89c" stroke="#fec89c"/>
<circle cx="336.35" cy="75.43" r="4.3" fill="#fec89c" stroke="#fec89c"/>
<circle cx="336.37" cy="57.49" r="4.3" fill="#fec89c" stroke="#fec89c"/>
<circle cx="336.48" cy="65.37" r="4.3" fill="#fec89c" stroke="#fec89c"/>
<circle cx="336.63" cy="58.66" r="4.3" fill="#fec89c" stroke="#fec89c"/>
<circle cx="336.84" cy="64.03" r="4.3" fill="#fec89c" stroke="#fec89c"/>
<circle cx="337.1" cy="65.28" r="4.3" fill="#fec89c" stroke="#fec89c"/>
<circle cx="338.07" cy="64.61" r="4.3" fill="#fec89c" stroke="#fec89c"/>
<circle cx="339.19" cy="54.58" r="4.3" fill="#fec89c" stroke="#fec89c"/>
<circle cx="339.2" cy="54.77" r="4.3" fill="#fec89c" stroke="#fec89c"/>
<circle cx="339.82" cy="72.11" r="4.3" fill="#fec89c" stroke="#fec89c"/>
<circle cx="339.96" cy="66.23" r="4.3" fill="#fec89c" stroke="#fec89c"/>
<circle cx="340.01" cy="52.98" r="4.3" fill="#fec89c" stroke="#fec89c"/>
<circle cx="341.58" cy="63.72" r="4.3" fill="#fec89c" stroke="#fec89c"/>
<circle cx="341.62" cy="68.59" r="4.3" fill="#fec89c" stroke="#fec89c"/>
<circle cx="342.11" cy="62.05" r="4.3" fill="#fec89c" stroke="#fec89c"/>
<circle cx="342.19" cy="62.63" r="4.3" fill="#fec89c" stroke="#fec89c"/>
<circle cx="342.33" cy="62.61" r="4.3" fill="#fec89c" stroke="#fec89c"/>
<circle cx="343.11" cy="64.63" r="4.3" fill="#fec89c" stroke="#fec89c"/>
<circle cx="343.73" cy="63.85" r="4.3" fill="#fec89c" stroke="#fec89c"/>
<circle cx="343.89" cy="64.55" r="4.3" fill="#fec89c" stroke="#fec89c"/>
<circle cx="344.37" cy="60.63" r="4.3" fill="#fec89c" stroke="#fec89c"/>
<circle cx="344.69" cy="66.15" r="4.3" fill="#fec89c" stroke="#fec89c"/>
<circle cx="348.23" cy="60.5" r="4.3" fill="#fec89c" stroke="#fec89c"/>
<circle cx="348.77" cy="59.1" r="4.3" fill="#fec89c" stroke="#fec89c"/>
<circle cx="349.08" cy="51.61" r="4.3" fill="#fec89c" stroke="#fec89c"/>
<circle cx="349.16" cy="56.05" r="4.3" fill="#fec89c" stroke="#fec89c"/>
<circle cx="349.56" cy="57.91" r="4.3" fill="#fec89c" stroke="#fec89c"/>
<circle cx="349.61" cy="54.7" r="4.3" fill="#fec89c" stroke="#fec89c"/>
<circle cx="350.72" cy="54.07" r="4.3" fill="#fec89c" stroke="#fec89c"/>
<circle cx="351.74" cy="49.91" r="4.3" fill="#fec89c" stroke="#fec89c"/>
<circle cx="352.86" cy="52.33" r="4.3" fill="#fec89c" stroke="#fec89c"/>
<circle cx="353.1" cy="46.03" r="4.3" fill="#fec89c" stroke="#fec89c"/>
<circle cx="353.18" cy="48.23" r="4.3" fill="#fec89c" stroke="#fec89c"/>
<circle cx="353.2" cy="55" r="4.3" fill="#fec89c" stroke="#fec89c"/>
<circle cx="354.16" cy="57.07" r="4.3" fill="#fec89c" stroke="#fec89c"/>
<circle cx="354.79" cy="51.12" r="4.3" fill="#fec89c" stroke="#fec89c"/>
<circle cx="355.35" cy="53.36" r="4.3" fill="#fec89c" stroke="#fec89c"/>
<circle cx="356.6" cy="57.62" r="4.3" fill="#fec89c" stroke="#fec89c"/>
<circle cx="356.87" cy="64.67" r="4.3" fill="#fec89c" stroke="#fec89c"/>
<circle cx="357.52" cy="67.13" r="4.3" fill="#fec89c" stroke="#fec89c"/>
<circle cx="357.84" cy="56.82" r="4.3" fill="#fec89c" stroke="#fec89c"/>
<circle cx="358.55" cy="55.44" r="4.3" fill="#fec89c" stroke="#fec89c"/>
<circle cx="358.7" cy="55.41" r="4.3" fill="#fec89c" stroke="#fec89c"/>
<circle cx="359.23" cy="66" r="4.3" fill="#fec89c" stroke="#fec89c"/>
<circle cx="359.52" cy="54.81" r="4.3" fill="#fec89c" stroke="#fec89c"/>
<circle cx="361.39" cy="62.54" r="4.3" fill="#fec89c" stroke="#fec89c"/>
<circle cx="361.43" cy="58.02" r="4.3" fill="#fec89c" stroke="#fec89c"/>
<circle cx="361.46" cy="57.87" r="4.3" fill="#fec89c" stroke="#fec89c"/>
<circle cx="361.47" cy="63.81" r="4.3" fill="#fec89c" stroke="#fec89c"/>
<circle cx="361.83" cy="62.56" r="4.3" fill="#fec89c" stroke="#fec89c"/>
<circle cx="362.7" cy="68.97" r="4.3" fill="#fec89c" stroke="#fec89c"/>
<circle cx="362.85" cy="63.14" r="4.3" fill="#fec89c" stroke="#fec89c"/>
<circle cx="363.68" cy="66.28" r="4.3" fill="#fec89c" stroke="#fec89c"/>
<circle cx="364.41" cy="54.09" r="4.3" fill="#fec89c" stroke="#fec89c"/>
<circle cx="365.13" cy="54.58" r="4.3" fill="#fec89c" stroke="#fec89c"/>
<circle cx="365.97" cy="48.74" r="4.3" fill="#fec89c" stroke="#fec89c"/>
<circle cx="366.84" cy="49.79" r="4.3" fill="#fec89c" stroke="#fec89c"/>
<circle cx="367.08" cy="54.18" r="4.3" fill="#fec89c" stroke="#fec89c"/>
<circle cx="367.3" cy="49" r="4.3" fill="#fec89c" stroke="#fec89c"/>
<circle cx="368.17" cy="51.19" r="4.3" fill="#fec89c" stroke="#fec89c"/>
<circle cx="368.62" cy="45.69" r="4.3" fill="#fec89c" stroke="#fec89c"/>
<circle cx="370.89" cy="45.26" r="4.3" fill="#fec89c" stroke="#fec89c"/>
<circle cx="371.3" cy="51.52" r="4.3" fill="#fec89c" stroke="#fec89c"/>
<circle cx="372.48" cy="46.65" r="4.3" fill="#fec89c" stroke="#fec89c"/>
<circle cx="372.51" cy="46.39" r="4.3" fill="#fec89c" stroke="#fec89c"/>
<circle cx="372.57" cy="48.17" r="4.3" fill="#fec89c" stroke="#fec89c"/>
<circle cx="373.13" cy="42.39" r="4.3" fill="#fec89c" stroke="#fec89c"/>
<circle cx="374.16" cy="38.6" r="4.3" fill="#fec89c" stroke="#fec89c"/>
<circle cx="375.84" cy="48.81" r="4.3" fill="#fec89c" stroke="#fec89c"/>
<circle cx="376.25" cy="48.63" r="4.3" fill="#fec89c" stroke="#fec89c"/>
<circle cx="376.25" cy="57.9" r="4.3" fill="#fec89c" stroke="#fec89c"/>
<circle cx="377.53" cy="46.86" r="4.3" fill="#fec89c" stroke="#fec89c"/>
<circle cx="377.54" cy="48.36" r="4.3" fill="#fec89c" stroke="#fec89c"/>
<circle cx="377.84" cy="56.53" r="4.3" fill="#fec89c" stroke="#fec89c"/>
<circle cx="378.12" cy="44.3" r="4.3" fill="#fec89c" stroke="#fec89c"/>
<circle cx="378.74" cy="42.15" r="4.3" fill="#fec89c" stroke="#fec89c"/>
<circle cx="379.3" cy="47.91" r="4.3" fill="#fec89c" stroke="#fec89c"/>
<circle cx="379.44" cy="45.96" r="4.3" fill="#fec89c" stroke="#fec89c"/>
<circle cx="379.72" cy="48.46" r="4.3" fill="#fec89c" stroke="#fec89c"/>
<circle cx="380.37" cy="39.07" r="4.3" fill="#fec89c" stroke="#fec89c"/>
<circle cx="380.91" cy="49.39" r="4.3" fill="#fec89c" stroke="#fec89c"/>
<circle cx="381.18" cy="43.11" r="4.3" fill="#fec89c" stroke="#fec89c"/>
<circle cx="382.19" cy="30.6" r="4.3" fill="#fec89c" stroke="#fec89c"/>
<circle cx="382.53" cy="39.42" r="4.3" fill="#fec89c" stroke="#fec89c"/>
<circle cx="383.01" cy="36.83" r="4.3" fill="#fec89c" stroke="#fec89c"/>
<circle cx="383.61" cy="39.26" r="4.3" fill="#fec89c" stroke="#fec89c"/>
<circle cx="383.8" cy="44.13" r="4.3" fill="#fec89c" stroke="#fec89c"/>
<circle cx="384.62" cy="38.11" r="4.3" fill="#fec89c" stroke="#fec89c"/>
</g>
<g clip-path="url(#ca)">
<polyline points="127.6,49.55 128.45,49.87 129.3,50.19 130.15,50.52 131,50.86 131.84,51.2 132.69,51.55 133.54,51.9 134.39,52.26 135.24,52.62 136.09,52.99 136.94,53.37 137.79,53.75 138.63,54.14 139.48,54.53 140.33,54.93 141.18,55.34 142.03,55.76 142.88,56.18 143.73,56.61 144.58,57.05 145.43,57.49 146.27,57.94 147.12,58.4 147.97,58.87 148.82,59.35 149.67,59.83 150.52,60.33 151.37,60.83 152.22,61.34 153.06,61.86 153.91,62.39 154.76,62.93 155.61,63.48 156.46,64.03 157.31,64.6 158.16,65.18 159.01,65.77 159.86,66.37 160.7,66.98 161.55,67.6 162.4,68.24 163.25,68.88 164.1,69.54 164.95,70.21 165.8,70.89 166.65,71.58 167.49,72.29 168.34,73.01 169.19,73.74 170.04,74.49 170.89,75.25 171.74,76.02 172.59,76.81 173.44,77.62 174.29,78.44 175.13,79.27 175.98,80.12 176.83,80.99 177.68,81.87 178.53,82.77 179.38,83.68 180.23,84.61 181.08,85.56 181.93,86.53 182.77,87.51 183.62,88.51 184.47,89.53 185.32,90.57 186.17,91.63 187.02,92.71 187.87,93.8 188.72,94.92 189.56,96.06 190.41,97.21 191.26,98.39 192.11,99.58 192.96,100.8 193.81,102.04 194.66,103.3 195.51,104.58 196.36,105.88 197.2,107.2 198.05,108.55 198.9,109.91 199.75,111.3 200.6,112.7 201.45,114.13 202.3,115.58 203.15,117.05 203.99,118.54 204.84,120.06 205.69,121.59 206.54,123.14 207.39,124.71 208.24,126.3 209.09,127.91 209.94,129.54 210.79,131.18 211.63,132.84 212.48,134.51 213.33,136.2 214.18,137.91 215.03,139.62 215.88,141.35 216.73,143.08 217.58,144.83 218.42,146.58 219.27,148.34 220.12,150.1 220.97,151.86 221.82,153.63 222.67,155.39 223.52,157.15 224.37,158.9 225.22,160.64 226.06,162.37 226.91,164.09 227.76,165.79 228.61,167.47 229.46,169.14 230.31,170.77 231.16,172.38 232.01,173.96 232.85,175.51 233.7,177.02 234.55,178.48 235.4,179.91 236.25,181.29 237.1,182.62 237.95,183.9 238.8,185.12 239.65,186.29 240.49,187.39 241.34,188.43 242.19,189.41 243.04,190.31 243.89,191.15 244.74,191.9 245.59,192.59 246.44,193.19 247.28,193.72 248.13,194.16 248.98,194.52 249.83,194.8 250.68,194.99 251.53,195.1 252.38,195.13 253.23,195.07 254.08,194.92 254.92,194.69 255.77,194.37 256.62,193.98 257.47,193.5 258.32,192.94 259.17,192.3 260.02,191.58 260.87,190.79 261.72,189.93 262.56,188.99 263.41,187.99 264.26,186.93 265.11,185.8 265.96,184.61 266.81,183.37 267.66,182.07 268.51,180.72 269.35,179.32 270.2,177.88 271.05,176.4 271.9,174.88 272.75,173.33 273.6,171.74 274.45,170.13 275.3,168.49 276.15,166.83 276.99,165.14 277.84,163.44 278.69,161.73 279.54,160 280.39,158.27 281.24,156.52 282.09,154.77 282.94,153.02 283.78,151.27 284.63,149.52 285.48,147.77 286.33,146.03 287.18,144.29 288.03,142.57 288.88,140.85 289.73,139.14 290.58,137.44 291.42,135.76 292.27,134.09 293.12,132.43 293.97,130.8 294.82,129.17 295.67,127.57 296.52,125.98 297.37,124.42 298.21,122.87 299.06,121.34 299.91,119.83 300.76,118.34 301.61,116.87 302.46,115.43 303.31,114 304.16,112.6 305.01,111.21 305.85,109.85 306.7,108.51 307.55,107.19 308.4,105.89 309.25,104.61 310.1,103.36 310.95,102.12 311.8,100.91 312.64,99.72 313.49,98.54 314.34,97.39 315.19,96.26 316.04,95.14 316.89,94.05 317.74,92.98 318.59,91.92 319.44,90.89 320.28,89.87 321.13,88.87 321.98,87.89 322.83,86.93 323.68,85.99 324.53,85.06 325.38,84.15 326.23,83.26 327.07,82.38 327.92,81.52 328.77,80.68 329.62,79.85 330.47,79.03 331.32,78.23 332.17,77.45 333.02,76.68 333.87,75.93 334.71,75.18 335.56,74.46 336.41,73.74 337.26,73.04 338.11,72.36 338.96,71.68 339.81,71.02 340.66,70.37 341.51,69.73 342.35,69.1 343.2,68.49 344.05,67.88 344.9,67.29 345.75,66.71 346.6,66.14 347.45,65.58 348.3,65.03 349.14,64.49 349.99,63.95 350.84,63.43 351.69,62.92 352.54,62.42 353.39,61.92 354.24,61.44 355.09,60.96 355.94,60.49 356.78,60.03 357.63,59.58 358.48,59.14 359.33,58.7 360.18,58.27 361.03,57.85 361.88,57.44 362.73,57.03 363.57,56.63 364.42,56.24 365.27,55.85 366.12,55.47 366.97,55.1 367.82,54.73 368.67,54.37 369.52,54.02 370.37,53.67 371.21,53.33 372.06,52.99 372.91,52.66 373.76,52.33 374.61,52.01 375.46,51.7 376.31,51.39 377.16,51.08 378,50.78 378.85,50.49 379.7,50.2 380.55,49.91 381.4,49.63" fill="none" stroke="#000" stroke-width="2.6" stroke-linejoin="round" stroke-linecap="butt" />
</g>
<path d="M235.2,290.2 C232.5,258 223,218 205.5,181.5" fill="none" stroke="#000" stroke-width="4.4"/>
<path d="M194.7,167.2 L212.7,174.7 L197.5,186.5 Z" fill="#000" stroke="#000" stroke-width="1.5" stroke-linejoin="round"/>
<text x="183" y="242.2" font-size="33.7" text-anchor="start" font-style="italic">P</text>
<text x="201" y="247.3" font-size="24.5" text-anchor="start" >p</text>
<g stroke="#000" stroke-width="2.5">
<line x1="212.2" y1="315.5" x2="212.2" y2="307.5" stroke="#000" stroke-width="2.5" />
<line x1="212.2" y1="6.8" x2="212.2" y2="14.8" stroke="#000" stroke-width="2.5" />
<line x1="296.8" y1="315.5" x2="296.8" y2="307.5" stroke="#000" stroke-width="2.5" />
<line x1="296.8" y1="6.8" x2="296.8" y2="14.8" stroke="#000" stroke-width="2.5" />
<line x1="127.6" y1="184.6" x2="135.6" y2="184.6" stroke="#000" stroke-width="2.5" />
<line x1="381.3" y1="184.6" x2="373.3" y2="184.6" stroke="#000" stroke-width="2.5" />
<line x1="127.6" y1="32" x2="135.6" y2="32" stroke="#000" stroke-width="2.5" />
<line x1="381.3" y1="32" x2="373.3" y2="32" stroke="#000" stroke-width="2.5" />
</g>
<rect x="127.6" y="6.8" width="253.7" height="308.7" fill="none" stroke="#000" stroke-width="3.0"/>
<text x="127.6" y="356.4" font-size="34.5" text-anchor="middle" letter-spacing="-1.2">8.3</text>
<text x="212.2" y="356.4" font-size="34.5" text-anchor="middle" letter-spacing="-1.2">8.4</text>
<text x="296.8" y="356.4" font-size="34.5" text-anchor="middle" letter-spacing="-1.2">8.5</text>
<text x="381.4" y="356.4" font-size="34.5" text-anchor="middle" letter-spacing="-1.2">8.6</text>
<text x="112.7" y="197.8" font-size="34.5" text-anchor="end" letter-spacing="-1.2">0.9</text>
<text x="112.7" y="45.2" font-size="34.5" text-anchor="end" letter-spacing="-1.2">1.0</text>
<text x="252" y="405" font-size="34.5" text-anchor="middle" letter-spacing="-1.1"><tspan font-style="italic">ω</tspan>/2<tspan font-style="italic">π</tspan> [GHz]</text>
<g transform="translate(39.6,163) rotate(-90)">
<text x="0" y="0" font-size="34.5" text-anchor="middle" >|<tspan font-style="italic">S</tspan><tspan font-size="23" dy="4.5">11</tspan><tspan dy="-4.5">|</tspan></text>
</g>
<text x="4.2" y="26.8" font-size="36" text-anchor="start" font-weight="bold">a</text>
<g stroke="#bdbdbd" stroke-width="2">
<line x1="139.4" y1="443.6" x2="139.4" y2="908" stroke="#bdbdbd" stroke-width="2" />
<line x1="316.7" y1="443.6" x2="316.7" y2="908" stroke="#bdbdbd" stroke-width="2" />
<line x1="128" y1="892.8" x2="381.3" y2="892.8" stroke="#bdbdbd" stroke-width="2" />
<line x1="128" y1="798.9" x2="381.3" y2="798.9" stroke="#bdbdbd" stroke-width="2" />
<line x1="128" y1="705" x2="381.3" y2="705" stroke="#bdbdbd" stroke-width="2" />
<line x1="128" y1="611.1" x2="381.3" y2="611.1" stroke="#bdbdbd" stroke-width="2" />
<line x1="128" y1="517.2" x2="381.3" y2="517.2" stroke="#bdbdbd" stroke-width="2" />
</g>
<g clip-path="url(#cb)" fill-opacity="0.75" stroke-opacity="0.75" stroke-width="1.2">
<circle cx="189.17" cy="848.1" r="4.5" fill="#5e4c87" stroke="#5e4c87"/>
<circle cx="188.63" cy="851.15" r="4.5" fill="#5e4c87" stroke="#5e4c87"/>
<circle cx="189.06" cy="850.4" r="4.5" fill="#5e4c87" stroke="#5e4c87"/>
<circle cx="189.36" cy="847.98" r="4.5" fill="#5e4c87" stroke="#5e4c87"/>
<circle cx="189.69" cy="846.99" r="4.5" fill="#5e4c87" stroke="#5e4c87"/>
<circle cx="190.24" cy="840.88" r="4.5" fill="#5e4c87" stroke="#5e4c87"/>
<circle cx="189.65" cy="838.14" r="4.5" fill="#5e4c87" stroke="#5e4c87"/>
<circle cx="190.26" cy="838.22" r="4.5" fill="#5e4c87" stroke="#5e4c87"/>
<circle cx="189.46" cy="842.78" r="4.5" fill="#5e4c87" stroke="#5e4c87"/>
<circle cx="190.32" cy="842.41" r="4.5" fill="#5e4c87" stroke="#5e4c87"/>
<circle cx="188.86" cy="847.83" r="4.5" fill="#5e4c87" stroke="#5e4c87"/>
<circle cx="189.37" cy="845.01" r="4.5" fill="#5e4c87" stroke="#5e4c87"/>
<circle cx="190.85" cy="847.96" r="4.5" fill="#5e4c87" stroke="#5e4c87"/>
<circle cx="190.32" cy="849.93" r="4.5" fill="#5e4c87" stroke="#5e4c87"/>
<circle cx="191.04" cy="853.22" r="4.5" fill="#5e4c87" stroke="#5e4c87"/>
<circle cx="191.59" cy="846.17" r="4.5" fill="#5e4c87" stroke="#5e4c87"/>
<circle cx="192.17" cy="845.97" r="4.5" fill="#5e4c87" stroke="#5e4c87"/>
<circle cx="192.33" cy="848.02" r="4.5" fill="#5e4c87" stroke="#5e4c87"/>
<circle cx="192.73" cy="841.56" r="4.5" fill="#5e4c87" stroke="#5e4c87"/>
<circle cx="192.18" cy="842.34" r="4.5" fill="#5e4c87" stroke="#5e4c87"/>
<circle cx="191.94" cy="840.79" r="4.5" fill="#5e4c87" stroke="#5e4c87"/>
<circle cx="192.02" cy="844.54" r="4.5" fill="#5e4c87" stroke="#5e4c87"/>
<circle cx="192.17" cy="842.96" r="4.5" fill="#5e4c87" stroke="#5e4c87"/>
<circle cx="192.06" cy="841.99" r="4.5" fill="#5e4c87" stroke="#5e4c87"/>
<circle cx="192.44" cy="842.76" r="4.5" fill="#5e4c87" stroke="#5e4c87"/>
<circle cx="193" cy="838.3" r="4.5" fill="#5e4c87" stroke="#5e4c87"/>
<circle cx="193.28" cy="841.24" r="4.5" fill="#5e4c87" stroke="#5e4c87"/>
<circle cx="193.08" cy="842.97" r="4.5" fill="#5e4c87" stroke="#5e4c87"/>
<circle cx="192.44" cy="842.08" r="4.5" fill="#5e4c87" stroke="#5e4c87"/>
<circle cx="193.61" cy="838.63" r="4.5" fill="#5e4c87" stroke="#5e4c87"/>
<circle cx="193.81" cy="845.49" r="4.5" fill="#5e4c87" stroke="#5e4c87"/>
<circle cx="195.19" cy="844.51" r="4.5" fill="#5e4c87" stroke="#5e4c87"/>
<circle cx="194.99" cy="845.37" r="4.5" fill="#5e4c87" stroke="#5e4c87"/>
<circle cx="194.37" cy="843.81" r="4.5" fill="#5e4c87" stroke="#5e4c87"/>
<circle cx="194.7" cy="845.51" r="4.5" fill="#5e4c87" stroke="#5e4c87"/>
<circle cx="196.56" cy="847.88" r="4.5" fill="#5e4c87" stroke="#5e4c87"/>
<circle cx="195.85" cy="845.4" r="4.5" fill="#5e4c87" stroke="#5e4c87"/>
<circle cx="196.69" cy="848.55" r="4.5" fill="#5e4c87" stroke="#5e4c87"/>
<circle cx="197.02" cy="844.05" r="4.5" fill="#5e4c87" stroke="#5e4c87"/>
<circle cx="195.5" cy="842.61" r="4.5" fill="#5e4c87" stroke="#5e4c87"/>
<circle cx="195.75" cy="842.25" r="4.5" fill="#8651a2" stroke="#8651a2"/>
<circle cx="194.61" cy="840.64" r="4.5" fill="#8651a2" stroke="#8651a2"/>
<circle cx="196.2" cy="836.29" r="4.5" fill="#8651a2" stroke="#8651a2"/>
<circle cx="196.8" cy="837.8" r="4.5" fill="#8651a2" stroke="#8651a2"/>
<circle cx="196.12" cy="833.85" r="4.5" fill="#8651a2" stroke="#8651a2"/>
<circle cx="199.21" cy="835.94" r="4.5" fill="#8651a2" stroke="#8651a2"/>
<circle cx="199.34" cy="831.75" r="4.5" fill="#8651a2" stroke="#8651a2"/>
<circle cx="198.85" cy="831.2" r="4.5" fill="#8651a2" stroke="#8651a2"/>
<circle cx="200.15" cy="830.3" r="4.5" fill="#8651a2" stroke="#8651a2"/>
<circle cx="200.24" cy="827.95" r="4.5" fill="#8651a2" stroke="#8651a2"/>
<circle cx="199.85" cy="829.41" r="4.5" fill="#8651a2" stroke="#8651a2"/>
<circle cx="201.1" cy="831.05" r="4.5" fill="#8651a2" stroke="#8651a2"/>
<circle cx="202.79" cy="832.33" r="4.5" fill="#8651a2" stroke="#8651a2"/>
<circle cx="203.51" cy="832.68" r="4.5" fill="#8651a2" stroke="#8651a2"/>
<circle cx="203.29" cy="833" r="4.5" fill="#8651a2" stroke="#8651a2"/>
<circle cx="203.25" cy="831.71" r="4.5" fill="#8651a2" stroke="#8651a2"/>
<circle cx="203.57" cy="833.79" r="4.5" fill="#8651a2" stroke="#8651a2"/>
<circle cx="203.26" cy="832.48" r="4.5" fill="#8651a2" stroke="#8651a2"/>
<circle cx="205.23" cy="832.5" r="4.5" fill="#8651a2" stroke="#8651a2"/>
<circle cx="204.74" cy="830.56" r="4.5" fill="#8651a2" stroke="#8651a2"/>
<circle cx="205.28" cy="833.44" r="4.5" fill="#8651a2" stroke="#8651a2"/>
<circle cx="205.7" cy="827.75" r="4.5" fill="#8651a2" stroke="#8651a2"/>
<circle cx="204.99" cy="825.46" r="4.5" fill="#8651a2" stroke="#8651a2"/>
<circle cx="205.82" cy="826.63" r="4.5" fill="#8651a2" stroke="#8651a2"/>
<circle cx="207.25" cy="831.62" r="4.5" fill="#8651a2" stroke="#8651a2"/>
<circle cx="206.62" cy="834.33" r="4.5" fill="#8651a2" stroke="#8651a2"/>
<circle cx="206.69" cy="829.01" r="4.5" fill="#8651a2" stroke="#8651a2"/>
<circle cx="207.08" cy="832.21" r="4.5" fill="#8651a2" stroke="#8651a2"/>
<circle cx="206.82" cy="831.55" r="4.5" fill="#8651a2" stroke="#8651a2"/>
<circle cx="207.28" cy="828.76" r="4.5" fill="#8651a2" stroke="#8651a2"/>
<circle cx="206.78" cy="826.43" r="4.5" fill="#8651a2" stroke="#8651a2"/>
<circle cx="207.53" cy="820.37" r="4.5" fill="#8651a2" stroke="#8651a2"/>
<circle cx="207.4" cy="821.72" r="4.5" fill="#8651a2" stroke="#8651a2"/>
<circle cx="209.55" cy="817.27" r="4.5" fill="#8651a2" stroke="#8651a2"/>
<circle cx="209.68" cy="813.36" r="4.5" fill="#8651a2" stroke="#8651a2"/>
<circle cx="208.5" cy="819.79" r="4.5" fill="#a55da6" stroke="#a55da6"/>
<circle cx="208.88" cy="822.89" r="4.5" fill="#a55da6" stroke="#a55da6"/>
<circle cx="208.76" cy="823.07" r="4.5" fill="#a55da6" stroke="#a55da6"/>
<circle cx="209.34" cy="830.26" r="4.5" fill="#a55da6" stroke="#a55da6"/>
<circle cx="209.68" cy="834.59" r="4.5" fill="#a55da6" stroke="#a55da6"/>
<circle cx="209.8" cy="822.64" r="4.5" fill="#a55da6" stroke="#a55da6"/>
<circle cx="210.22" cy="821.68" r="4.5" fill="#a55da6" stroke="#a55da6"/>
<circle cx="211.88" cy="814.46" r="4.5" fill="#a55da6" stroke="#a55da6"/>
<circle cx="211.29" cy="819.77" r="4.5" fill="#a55da6" stroke="#a55da6"/>
<circle cx="213.08" cy="819.45" r="4.5" fill="#a55da6" stroke="#a55da6"/>
<circle cx="212.97" cy="827.11" r="4.5" fill="#a55da6" stroke="#a55da6"/>
<circle cx="212.73" cy="829.31" r="4.5" fill="#a55da6" stroke="#a55da6"/>
<circle cx="212.64" cy="830.38" r="4.5" fill="#a55da6" stroke="#a55da6"/>
<circle cx="213.27" cy="825.63" r="4.5" fill="#a55da6" stroke="#a55da6"/>
<circle cx="213.48" cy="822.59" r="4.5" fill="#a55da6" stroke="#a55da6"/>
<circle cx="214.08" cy="826.42" r="4.5" fill="#a55da6" stroke="#a55da6"/>
<circle cx="214.37" cy="827.34" r="4.5" fill="#a55da6" stroke="#a55da6"/>
<circle cx="215.19" cy="828.54" r="4.5" fill="#a55da6" stroke="#a55da6"/>
<circle cx="215.66" cy="824.1" r="4.5" fill="#a55da6" stroke="#a55da6"/>
<circle cx="216.86" cy="827.35" r="4.5" fill="#a55da6" stroke="#a55da6"/>
<circle cx="214.56" cy="823.74" r="4.5" fill="#a55da6" stroke="#a55da6"/>
<circle cx="216.98" cy="824.28" r="4.5" fill="#a55da6" stroke="#a55da6"/>
<circle cx="217.98" cy="817.75" r="4.5" fill="#a55da6" stroke="#a55da6"/>
<circle cx="219.55" cy="815.57" r="4.5" fill="#a55da6" stroke="#a55da6"/>
<circle cx="219.27" cy="813.2" r="4.5" fill="#a55da6" stroke="#a55da6"/>
<circle cx="220.57" cy="819.25" r="4.5" fill="#c7659c" stroke="#c7659c"/>
<circle cx="223.53" cy="814.68" r="4.5" fill="#c7659c" stroke="#c7659c"/>
<circle cx="222.23" cy="813.5" r="4.5" fill="#c7659c" stroke="#c7659c"/>
<circle cx="222.87" cy="813.09" r="4.5" fill="#c7659c" stroke="#c7659c"/>
<circle cx="222.65" cy="803.83" r="4.5" fill="#c7659c" stroke="#c7659c"/>
<circle cx="225.4" cy="804.69" r="4.5" fill="#c7659c" stroke="#c7659c"/>
<circle cx="225.91" cy="805.86" r="4.5" fill="#c7659c" stroke="#c7659c"/>
<circle cx="227.07" cy="796.43" r="4.5" fill="#c7659c" stroke="#c7659c"/>
<circle cx="227.14" cy="798.53" r="4.5" fill="#c7659c" stroke="#c7659c"/>
<circle cx="225.74" cy="798.51" r="4.5" fill="#c7659c" stroke="#c7659c"/>
<circle cx="227.3" cy="803.16" r="4.5" fill="#c7659c" stroke="#c7659c"/>
<circle cx="227.49" cy="805.24" r="4.5" fill="#c7659c" stroke="#c7659c"/>
<circle cx="227.55" cy="806.14" r="4.5" fill="#c7659c" stroke="#c7659c"/>
<circle cx="228.95" cy="800.64" r="4.5" fill="#c7659c" stroke="#c7659c"/>
<circle cx="229.69" cy="802.3" r="4.5" fill="#c7659c" stroke="#c7659c"/>
<circle cx="229.81" cy="799.32" r="4.5" fill="#c7659c" stroke="#c7659c"/>
<circle cx="230.43" cy="798.44" r="4.5" fill="#c7659c" stroke="#c7659c"/>
<circle cx="230.23" cy="803.55" r="4.5" fill="#c7659c" stroke="#c7659c"/>
<circle cx="230.45" cy="806.85" r="4.5" fill="#c7659c" stroke="#c7659c"/>
<circle cx="230.55" cy="805.59" r="4.5" fill="#c7659c" stroke="#c7659c"/>
<circle cx="231.58" cy="802.4" r="4.5" fill="#c7659c" stroke="#c7659c"/>
<circle cx="232.15" cy="806.23" r="4.5" fill="#c7659c" stroke="#c7659c"/>
<circle cx="232.62" cy="798.27" r="4.5" fill="#c7659c" stroke="#c7659c"/>
<circle cx="233.54" cy="795.96" r="4.5" fill="#c7659c" stroke="#c7659c"/>
<circle cx="232.39" cy="793.17" r="4.5" fill="#c7659c" stroke="#c7659c"/>
<circle cx="233.07" cy="799.12" r="4.5" fill="#c7659c" stroke="#c7659c"/>
<circle cx="233.77" cy="800.44" r="4.5" fill="#c7659c" stroke="#c7659c"/>
<circle cx="233.18" cy="799.9" r="4.5" fill="#c7659c" stroke="#c7659c"/>
<circle cx="236.67" cy="796.46" r="4.5" fill="#c7659c" stroke="#c7659c"/>
<circle cx="238.24" cy="787" r="4.5" fill="#c7659c" stroke="#c7659c"/>
<circle cx="238.49" cy="788.11" r="4.5" fill="#c7659c" stroke="#c7659c"/>
<circle cx="239.04" cy="794.98" r="4.5" fill="#c7659c" stroke="#c7659c"/>
<circle cx="239.23" cy="791.13" r="4.5" fill="#c7659c" stroke="#c7659c"/>
<circle cx="239.29" cy="791.95" r="4.5" fill="#c7659c" stroke="#c7659c"/>
<circle cx="240.36" cy="794.69" r="4.5" fill="#c7659c" stroke="#c7659c"/>
<circle cx="240.32" cy="785.99" r="4.5" fill="#c7659c" stroke="#c7659c"/>
<circle cx="241.09" cy="788.88" r="4.5" fill="#c7659c" stroke="#c7659c"/>
<circle cx="241.97" cy="793.32" r="4.5" fill="#c7659c" stroke="#c7659c"/>
<circle cx="241.13" cy="792.11" r="4.5" fill="#c7659c" stroke="#c7659c"/>
<circle cx="241.42" cy="791.67" r="4.5" fill="#c7659c" stroke="#c7659c"/>
<circle cx="240.79" cy="801.54" r="4.5" fill="#e8778c" stroke="#e8778c"/>
<circle cx="239.84" cy="795.78" r="4.5" fill="#e8778c" stroke="#e8778c"/>
<circle cx="241.25" cy="797.41" r="4.5" fill="#e8778c" stroke="#e8778c"/>
<circle cx="241.92" cy="794.22" r="4.5" fill="#e8778c" stroke="#e8778c"/>
<circle cx="242.9" cy="792.58" r="4.5" fill="#e8778c" stroke="#e8778c"/>
<circle cx="241.8" cy="792.52" r="4.5" fill="#e8778c" stroke="#e8778c"/>
<circle cx="243.67" cy="795.55" r="4.5" fill="#e8778c" stroke="#e8778c"/>
<circle cx="242.51" cy="790.71" r="4.5" fill="#e8778c" stroke="#e8778c"/>
<circle cx="242.94" cy="790.9" r="4.5" fill="#e8778c" stroke="#e8778c"/>
<circle cx="245.77" cy="792" r="4.5" fill="#e8778c" stroke="#e8778c"/>
<circle cx="246.06" cy="782.12" r="4.5" fill="#e8778c" stroke="#e8778c"/>
<circle cx="245.62" cy="787.26" r="4.5" fill="#e8778c" stroke="#e8778c"/>
<circle cx="245.49" cy="793.79" r="4.5" fill="#e8778c" stroke="#e8778c"/>
<circle cx="246.23" cy="783.45" r="4.5" fill="#e8778c" stroke="#e8778c"/>
<circle cx="246.11" cy="787.99" r="4.5" fill="#e8778c" stroke="#e8778c"/>
<circle cx="246.41" cy="787.19" r="4.5" fill="#e8778c" stroke="#e8778c"/>
<circle cx="248.57" cy="785.37" r="4.5" fill="#e8778c" stroke="#e8778c"/>
<circle cx="247.96" cy="792.65" r="4.5" fill="#e8778c" stroke="#e8778c"/>
<circle cx="248.98" cy="786.95" r="4.5" fill="#e8778c" stroke="#e8778c"/>
<circle cx="250.17" cy="786.1" r="4.5" fill="#e8778c" stroke="#e8778c"/>
<circle cx="252.6" cy="783.37" r="4.5" fill="#e8778c" stroke="#e8778c"/>
<circle cx="253.15" cy="782.09" r="4.5" fill="#e8778c" stroke="#e8778c"/>
<circle cx="253.74" cy="782" r="4.5" fill="#e8778c" stroke="#e8778c"/>
<circle cx="253.42" cy="779.56" r="4.5" fill="#e8778c" stroke="#e8778c"/>
<circle cx="254.29" cy="771.11" r="4.5" fill="#e8778c" stroke="#e8778c"/>
<circle cx="257.34" cy="769.51" r="4.5" fill="#e8778c" stroke="#e8778c"/>
<circle cx="256.86" cy="768.23" r="4.5" fill="#e8778c" stroke="#e8778c"/>
<circle cx="256.73" cy="764.05" r="4.5" fill="#e8778c" stroke="#e8778c"/>
<circle cx="258.37" cy="763.86" r="4.5" fill="#e8778c" stroke="#e8778c"/>
<circle cx="257.95" cy="762.72" r="4.5" fill="#e8778c" stroke="#e8778c"/>
<circle cx="257.6" cy="755.14" r="4.5" fill="#e8778c" stroke="#e8778c"/>
<circle cx="260.29" cy="758.05" r="4.5" fill="#e8778c" stroke="#e8778c"/>
<circle cx="260.09" cy="756.51" r="4.5" fill="#e8778c" stroke="#e8778c"/>
<circle cx="260.76" cy="752.96" r="4.5" fill="#e8778c" stroke="#e8778c"/>
<circle cx="261.55" cy="755.25" r="4.5" fill="#e8778c" stroke="#e8778c"/>
<circle cx="262.09" cy="755.1" r="4.5" fill="#e8778c" stroke="#e8778c"/>
<circle cx="262.49" cy="752.15" r="4.5" fill="#e8778c" stroke="#e8778c"/>
<circle cx="265.99" cy="745.8" r="4.5" fill="#e8778c" stroke="#e8778c"/>
<circle cx="266.11" cy="744.56" r="4.5" fill="#e8778c" stroke="#e8778c"/>
<circle cx="267.47" cy="745.51" r="4.5" fill="#e8778c" stroke="#e8778c"/>
<circle cx="267.31" cy="749.01" r="4.5" fill="#fb9d84" stroke="#fb9d84"/>
<circle cx="267.3" cy="746.7" r="4.5" fill="#fb9d84" stroke="#fb9d84"/>
<circle cx="267.37" cy="746.75" r="4.5" fill="#fb9d84" stroke="#fb9d84"/>
<circle cx="267.7" cy="748.82" r="4.5" fill="#fb9d84" stroke="#fb9d84"/>
<circle cx="269.23" cy="738.61" r="4.5" fill="#fb9d84" stroke="#fb9d84"/>
<circle cx="267.95" cy="745.86" r="4.5" fill="#fb9d84" stroke="#fb9d84"/>
<circle cx="268.44" cy="741.81" r="4.5" fill="#fb9d84" stroke="#fb9d84"/>
<circle cx="269.49" cy="744.81" r="4.5" fill="#fb9d84" stroke="#fb9d84"/>
<circle cx="268.64" cy="748.57" r="4.5" fill="#fb9d84" stroke="#fb9d84"/>
<circle cx="269.23" cy="747" r="4.5" fill="#fb9d84" stroke="#fb9d84"/>
<circle cx="269.81" cy="745.07" r="4.5" fill="#fb9d84" stroke="#fb9d84"/>
<circle cx="270.2" cy="744.19" r="4.5" fill="#fb9d84" stroke="#fb9d84"/>
<circle cx="270.91" cy="732.46" r="4.5" fill="#fb9d84" stroke="#fb9d84"/>
<circle cx="272.95" cy="733.79" r="4.5" fill="#fb9d84" stroke="#fb9d84"/>
<circle cx="273.18" cy="735.03" r="4.5" fill="#fb9d84" stroke="#fb9d84"/>
<circle cx="273.56" cy="730" r="4.5" fill="#fb9d84" stroke="#fb9d84"/>
<circle cx="275.12" cy="735.31" r="4.5" fill="#fb9d84" stroke="#fb9d84"/>
<circle cx="275.75" cy="729.22" r="4.5" fill="#fb9d84" stroke="#fb9d84"/>
<circle cx="276.66" cy="725.13" r="4.5" fill="#fb9d84" stroke="#fb9d84"/>
<circle cx="277.64" cy="727.43" r="4.5" fill="#fb9d84" stroke="#fb9d84"/>
<circle cx="276.74" cy="726.92" r="4.5" fill="#fb9d84" stroke="#fb9d84"/>
<circle cx="278.04" cy="725.82" r="4.5" fill="#fb9d84" stroke="#fb9d84"/>
<circle cx="279.62" cy="723.87" r="4.5" fill="#fb9d84" stroke="#fb9d84"/>
<circle cx="279.78" cy="718.23" r="4.5" fill="#fb9d84" stroke="#fb9d84"/>
<circle cx="283.96" cy="708.98" r="4.5" fill="#fb9d84" stroke="#fb9d84"/>
<circle cx="282.58" cy="703.18" r="4.5" fill="#fb9d84" stroke="#fb9d84"/>
<circle cx="283.9" cy="698.26" r="4.5" fill="#fb9d84" stroke="#fb9d84"/>
<circle cx="284.14" cy="699.11" r="4.5" fill="#fb9d84" stroke="#fb9d84"/>
<circle cx="284.75" cy="706.31" r="4.5" fill="#fb9d84" stroke="#fb9d84"/>
<circle cx="284.47" cy="703.52" r="4.5" fill="#fb9d84" stroke="#fb9d84"/>
<circle cx="284.27" cy="697.72" r="4.5" fill="#fb9d84" stroke="#fb9d84"/>
<circle cx="285.61" cy="706.84" r="4.5" fill="#fb9d84" stroke="#fb9d84"/>
<circle cx="288.93" cy="697.49" r="4.5" fill="#fb9d84" stroke="#fb9d84"/>
<circle cx="289.8" cy="694.39" r="4.5" fill="#fb9d84" stroke="#fb9d84"/>
<circle cx="289.25" cy="697.4" r="4.5" fill="#fb9d84" stroke="#fb9d84"/>
<circle cx="291.13" cy="700.26" r="4.5" fill="#fb9d84" stroke="#fb9d84"/>
<circle cx="291.47" cy="695.43" r="4.5" fill="#fb9d84" stroke="#fb9d84"/>
<circle cx="291.75" cy="690" r="4.5" fill="#fb9d84" stroke="#fb9d84"/>
<circle cx="293.21" cy="683.51" r="4.5" fill="#fb9d84" stroke="#fb9d84"/>
<circle cx="295.59" cy="688.43" r="4.5" fill="#fb9d84" stroke="#fb9d84"/>
<circle cx="294.79" cy="698.12" r="4.5" fill="#fec89c" stroke="#fec89c"/>
<circle cx="296.39" cy="704.06" r="4.5" fill="#fec89c" stroke="#fec89c"/>
<circle cx="297.84" cy="692.7" r="4.5" fill="#fec89c" stroke="#fec89c"/>
<circle cx="298.61" cy="695.58" r="4.5" fill="#fec89c" stroke="#fec89c"/>
<circle cx="299.03" cy="699.59" r="4.5" fill="#fec89c" stroke="#fec89c"/>
<circle cx="298.96" cy="701.04" r="4.5" fill="#fec89c" stroke="#fec89c"/>
<circle cx="298.38" cy="699.15" r="4.5" fill="#fec89c" stroke="#fec89c"/>
<circle cx="300.27" cy="698.17" r="4.5" fill="#fec89c" stroke="#fec89c"/>
<circle cx="302.43" cy="691.21" r="4.5" fill="#fec89c" stroke="#fec89c"/>
<circle cx="301.68" cy="688.18" r="4.5" fill="#fec89c" stroke="#fec89c"/>
<circle cx="303.64" cy="684.03" r="4.5" fill="#fec89c" stroke="#fec89c"/>
<circle cx="306.83" cy="670.01" r="4.5" fill="#fec89c" stroke="#fec89c"/>
<circle cx="307.51" cy="670.21" r="4.5" fill="#fec89c" stroke="#fec89c"/>
<circle cx="307.53" cy="671.1" r="4.5" fill="#fec89c" stroke="#fec89c"/>
<circle cx="308" cy="669.79" r="4.5" fill="#fec89c" stroke="#fec89c"/>
<circle cx="308.84" cy="666.04" r="4.5" fill="#fec89c" stroke="#fec89c"/>
<circle cx="310.2" cy="657.54" r="4.5" fill="#fec89c" stroke="#fec89c"/>
<circle cx="311.29" cy="659.64" r="4.5" fill="#fec89c" stroke="#fec89c"/>
<circle cx="311.04" cy="654.78" r="4.5" fill="#fec89c" stroke="#fec89c"/>
<circle cx="312.05" cy="655.26" r="4.5" fill="#fec89c" stroke="#fec89c"/>
<circle cx="312.76" cy="649.93" r="4.5" fill="#fec89c" stroke="#fec89c"/>
<circle cx="313.23" cy="646.98" r="4.5" fill="#fec89c" stroke="#fec89c"/>
<circle cx="318.31" cy="634.47" r="4.5" fill="#fec89c" stroke="#fec89c"/>
<circle cx="317.5" cy="635.14" r="4.5" fill="#fec89c" stroke="#fec89c"/>
<circle cx="318.65" cy="620.84" r="4.5" fill="#fec89c" stroke="#fec89c"/>
<circle cx="320.2" cy="615.16" r="4.5" fill="#fec89c" stroke="#fec89c"/>
<circle cx="322.1" cy="609.79" r="4.5" fill="#fec89c" stroke="#fec89c"/>
<circle cx="327.6" cy="596.26" r="4.5" fill="#fec89c" stroke="#fec89c"/>
<circle cx="330.69" cy="594.08" r="4.5" fill="#fec89c" stroke="#fec89c"/>
<circle cx="331.86" cy="581.81" r="4.5" fill="#fec89c" stroke="#fec89c"/>
<circle cx="336.51" cy="572.03" r="4.5" fill="#fec89c" stroke="#fec89c"/>
<circle cx="337.63" cy="568.91" r="4.5" fill="#fec89c" stroke="#fec89c"/>
<circle cx="340.6" cy="561.05" r="4.5" fill="#fec89c" stroke="#fec89c"/>
<circle cx="342.97" cy="556.04" r="4.5" fill="#fec89c" stroke="#fec89c"/>
<circle cx="345.8" cy="546.38" r="4.5" fill="#fec89c" stroke="#fec89c"/>
<circle cx="347.74" cy="553.71" r="4.5" fill="#fec89c" stroke="#fec89c"/>
<circle cx="350.24" cy="538.54" r="4.5" fill="#fec89c" stroke="#fec89c"/>
<circle cx="350.81" cy="536.73" r="4.5" fill="#fec89c" stroke="#fec89c"/>
<circle cx="350.55" cy="534.97" r="4.5" fill="#fec89c" stroke="#fec89c"/>
<circle cx="354.23" cy="525.98" r="4.5" fill="#fec89c" stroke="#fec89c"/>
<circle cx="354.32" cy="524.6" r="4.5" fill="#fec89c" stroke="#fec89c"/>
<circle cx="353.64" cy="526.48" r="4.5" fill="#fec89c" stroke="#fec89c"/>
<circle cx="355.41" cy="522.81" r="4.5" fill="#fec89c" stroke="#fec89c"/>
<circle cx="357.25" cy="515.35" r="4.5" fill="#fec89c" stroke="#fec89c"/>
<circle cx="361.04" cy="508.7" r="4.5" fill="#fec89c" stroke="#fec89c"/>
<circle cx="361.34" cy="499.54" r="4.5" fill="#fec89c" stroke="#fec89c"/>
</g>
<path d="M192.2,830.5 L195.51,838.45 L204.09,839.14 L197.55,844.74 L199.55,853.11 L192.2,848.62 L184.85,853.11 L186.85,844.74 L180.31,839.14 L188.89,838.45 Z" fill="#5e4c87" stroke="#000" stroke-width="2.2" stroke-linejoin="miter"/>
<path d="M302,667.5 L305.31,675.45 L313.89,676.14 L307.35,681.74 L309.35,690.11 L302,685.62 L294.65,690.11 L296.65,681.74 L290.11,676.14 L298.69,675.45 Z" fill="#f6a487" stroke="#000" stroke-width="2.2" stroke-linejoin="miter"/>
<path d="M361.8,452.5 L365.11,460.45 L373.69,461.14 L367.15,466.74 L369.15,475.11 L361.8,470.62 L354.45,475.11 L356.45,466.74 L349.91,461.14 L358.49,460.45 Z" fill="#fde0c4" stroke="#000" stroke-width="2.2" stroke-linejoin="miter"/>
<g clip-path="url(#cb)">
<polyline points="139.4,886.97 140.55,885.76 141.71,884.57 142.86,883.4 144.02,882.24 145.17,881.1 146.32,879.97 147.48,878.86 148.63,877.76 149.78,876.67 150.94,875.59 152.09,874.53 153.25,873.48 154.4,872.44 155.55,871.4 156.71,870.38 157.86,869.37 159.01,868.36 160.17,867.37 161.32,866.38 162.48,865.4 163.63,864.42 164.78,863.45 165.94,862.48 167.09,861.52 168.24,860.57 169.4,859.62 170.55,858.67 171.71,857.72 172.86,856.78 174.01,855.83 175.17,854.89 176.32,853.95 177.47,853.01 178.63,852.07 179.78,851.13 180.94,850.19 182.09,849.25 183.24,848.3 184.4,847.36 185.55,846.41 186.71,845.45 187.86,844.5 189.01,843.53 190.17,842.57 191.32,841.6 192.47,840.62 193.63,839.64 194.78,838.65 195.94,837.65 197.09,836.65 198.24,835.64 199.4,834.62 200.55,833.59 201.7,832.56 202.86,831.52 204.01,830.46 205.17,829.4 206.32,828.32 207.47,827.24 208.63,826.15 209.78,825.04 210.93,823.92 212.09,822.79 213.24,821.65 214.4,820.49 215.55,819.33 216.7,818.14 217.86,816.95 219.01,815.74 220.17,814.52 221.32,813.28 222.47,812.03 223.63,810.76 224.78,809.48 225.93,808.18 227.09,806.86 228.24,805.53 229.4,804.18 230.55,802.82 231.7,801.43 232.86,800.03 234.01,798.62 235.16,797.18 236.32,795.73 237.47,794.25 238.63,792.76 239.78,791.25 240.93,789.72 242.09,788.17 243.24,786.6 244.39,785.02 245.55,783.41 246.7,781.78 247.86,780.13 249.01,778.46 250.16,776.76 251.32,775.05 252.47,773.31 253.62,771.56 254.78,769.78 255.93,767.98 257.09,766.16 258.24,764.31 259.39,762.44 260.55,760.55 261.7,758.64 262.86,756.7 264.01,754.74 265.16,752.76 266.32,750.76 267.47,748.73 268.62,746.67 269.78,744.59 270.93,742.49 272.09,740.37 273.24,738.22 274.39,736.04 275.55,733.84 276.7,731.62 277.85,729.37 279.01,727.09 280.16,724.8 281.32,722.47 282.47,720.12 283.62,717.75 284.78,715.35 285.93,712.93 287.08,710.48 288.24,708 289.39,705.5 290.55,702.97 291.7,700.42 292.85,697.84 294.01,695.24 295.16,692.61 296.31,689.95 297.47,687.27 298.62,684.56 299.78,681.83 300.93,679.07 302.08,676.28 303.24,673.47 304.39,670.63 305.55,667.77 306.7,664.88 307.85,661.97 309.01,659.02 310.16,656.06 311.31,653.06 312.47,650.04 313.62,647 314.78,643.93 315.93,640.83 317.08,637.71 318.24,634.56 319.39,631.39 320.54,628.19 321.7,624.96 322.85,621.71 324.01,618.43 325.16,615.13 326.31,611.8 327.47,608.45 328.62,605.07 329.77,601.67 330.93,598.24 332.08,594.79 333.24,591.31 334.39,587.81 335.54,584.29 336.7,580.74 337.85,577.16 339.01,573.56 340.16,569.94 341.31,566.29 342.47,562.62 343.62,558.92 344.77,555.2 345.93,551.46 347.08,547.7 348.24,543.91 349.39,540.1 350.54,536.26 351.7,532.41 352.85,528.53 354,524.62 355.16,520.7 356.31,516.76 357.47,512.79 358.62,508.8 359.77,504.79 360.93,500.76 362.08,496.71 363.23,492.63 364.39,488.54 365.54,484.43 366.7,480.29 367.85,476.14 369,471.97" fill="none" stroke="#000" stroke-width="2.2" stroke-linejoin="round" stroke-linecap="butt" />
</g>
<g stroke="#000" stroke-width="2.5">
<line x1="139.4" y1="908" x2="139.4" y2="900" stroke="#000" stroke-width="2.5" />
<line x1="139.4" y1="443.6" x2="139.4" y2="451.6" stroke="#000" stroke-width="2.5" />
<line x1="316.7" y1="908" x2="316.7" y2="900" stroke="#000" stroke-width="2.5" />
<line x1="316.7" y1="443.6" x2="316.7" y2="451.6" stroke="#000" stroke-width="2.5" />
<line x1="128" y1="892.8" x2="136" y2="892.8" stroke="#000" stroke-width="2.5" />
<line x1="381.3" y1="892.8" x2="373.3" y2="892.8" stroke="#000" stroke-width="2.5" />
<line x1="128" y1="798.9" x2="136" y2="798.9" stroke="#000" stroke-width="2.5" />
<line x1="381.3" y1="798.9" x2="373.3" y2="798.9" stroke="#000" stroke-width="2.5" />
<line x1="128" y1="705" x2="136" y2="705" stroke="#000" stroke-width="2.5" />
<line x1="381.3" y1="705" x2="373.3" y2="705" stroke="#000" stroke-width="2.5" />
<line x1="128" y1="611.1" x2="136" y2="611.1" stroke="#000" stroke-width="2.5" />
<line x1="381.3" y1="611.1" x2="373.3" y2="611.1" stroke="#000" stroke-width="2.5" />
<line x1="128" y1="517.2" x2="136" y2="517.2" stroke="#000" stroke-width="2.5" />
<line x1="381.3" y1="517.2" x2="373.3" y2="517.2" stroke="#000" stroke-width="2.5" />
</g>
<rect x="128" y="443.6" width="253.3" height="464.4" fill="none" stroke="#000" stroke-width="3.0"/>
<rect x="162.9" y="474.9" width="35" height="25.53" fill="#fec89c"/>
<rect x="162.9" y="499.93" width="35" height="25.53" fill="#fb9d84"/>
<rect x="162.9" y="524.96" width="35" height="25.53" fill="#e8778c"/>
<rect x="162.9" y="549.99" width="35" height="25.53" fill="#c7659c"/>
<rect x="162.9" y="575.01" width="35" height="25.53" fill="#a55da6"/>
<rect x="162.9" y="600.04" width="35" height="25.53" fill="#8651a2"/>
<rect x="162.9" y="625.07" width="35" height="25.53" fill="#5e4c87"/>
<rect x="162.9" y="474.9" width="35" height="175.2" fill="none" stroke="#000" stroke-width="2.6"/>
<line x1="197.9" y1="487.3" x2="190.9" y2="487.3" stroke="#000" stroke-width="2" />
<line x1="197.9" y1="638" x2="190.9" y2="638" stroke="#000" stroke-width="2" />
<text x="212.5" y="499.8" font-size="34.5" text-anchor="start" letter-spacing="-0.5">-57</text>
<text x="212.5" y="650" font-size="34.5" text-anchor="start" letter-spacing="-0.5">-63</text>
<text x="139.4" y="947.5" font-size="34.5" text-anchor="middle" letter-spacing="-0.5">0</text>
<text x="316.7" y="947.5" font-size="34.5" text-anchor="middle" letter-spacing="-0.5">2000</text>
<text x="113" y="906" font-size="34.5" text-anchor="end" letter-spacing="-0.5">70</text>
<text x="113" y="812.1" font-size="34.5" text-anchor="end" letter-spacing="-0.5">80</text>
<text x="113" y="718.2" font-size="34.5" text-anchor="end" letter-spacing="-0.5">90</text>
<text x="113" y="624.3" font-size="34.5" text-anchor="end" letter-spacing="-0.5">100</text>
<text x="113" y="530.4" font-size="34.5" text-anchor="end" letter-spacing="-0.5">110</text>
<text x="239" y="994" font-size="34.5" text-anchor="start" font-style="italic">n</text>
<text x="258.3" y="1000" font-size="24.5" text-anchor="start" >c</text>
<g transform="translate(27.5,677) rotate(-90)">
<text x="0" y="0" font-size="34.5" text-anchor="middle" ><tspan font-style="italic">κ</tspan><tspan font-size="40" dx="-1" dy="2">′</tspan><tspan font-size="24.5" dx="-8.2" dy="7">0</tspan><tspan dx="0.6" dy="-9">/2</tspan><tspan font-style="italic">π</tspan> [MHz]</text>
</g>
<text x="1" y="461.3" font-size="36" text-anchor="start" font-weight="bold">b</text>
<g stroke="#bdbdbd" stroke-width="2">
<line x1="631" y1="6.8" x2="631" y2="435.2" stroke="#bdbdbd" stroke-width="2" />
<line x1="786.32" y1="6.8" x2="786.32" y2="435.2" stroke="#bdbdbd" stroke-width="2" />
<line x1="941.64" y1="6.8" x2="941.64" y2="435.2" stroke="#bdbdbd" stroke-width="2" />
<line x1="1096.96" y1="6.8" x2="1096.96" y2="435.2" stroke="#bdbdbd" stroke-width="2" />
<line x1="1252.28" y1="6.8" x2="1252.28" y2="435.2" stroke="#bdbdbd" stroke-width="2" />
<line x1="1407.6" y1="6.8" x2="1407.6" y2="435.2" stroke="#bdbdbd" stroke-width="2" />
<line x1="590.7" y1="416.5" x2="1478.6" y2="416.5" stroke="#bdbdbd" stroke-width="2" />
<line x1="590.7" y1="272.45" x2="1478.6" y2="272.45" stroke="#bdbdbd" stroke-width="2" />
<line x1="590.7" y1="128.4" x2="1478.6" y2="128.4" stroke="#bdbdbd" stroke-width="2" />
</g>
<g clip-path="url(#cc)">
<polyline points="631,416.5 633.02,406.51 635.05,402.37 637.07,399.2 639.1,396.52 641.12,394.17 643.15,392.03 645.17,390.07 647.19,388.25 649.22,386.54 651.24,384.92 653.27,383.37 655.29,381.9 657.31,380.49 659.34,379.13 661.36,377.82 663.39,376.55 665.41,375.32 667.44,374.12 669.46,372.96 671.48,371.83 673.51,370.73 675.53,369.65 677.56,368.6 679.58,367.57 681.61,366.56 683.63,365.57 685.65,364.6 687.68,363.65 689.7,362.71 691.73,361.79 693.75,360.89 695.78,360 697.8,359.12 699.82,358.26 701.85,357.41 703.87,356.57 705.9,355.75 707.92,354.93 709.94,354.13 711.97,353.33 713.99,352.55 716.02,351.77 718.04,351 720.07,350.25 722.09,349.5 724.11,348.76 726.14,348.03 728.16,347.3 730.19,346.58 732.21,345.87 734.24,345.17 736.26,344.48 738.28,343.79 740.31,343.1 742.33,342.43 744.36,341.76 746.38,341.09 748.4,340.43 750.43,339.78 752.45,339.13 754.48,338.49 756.5,337.85 758.53,337.22 760.55,336.6 762.57,335.97 764.6,335.36 766.62,334.75 768.65,334.14 770.67,333.53 772.7,332.93 774.72,332.34 776.74,331.75 778.77,331.16 780.79,330.58 782.82,330 784.84,329.43 786.86,328.86 788.89,328.29 790.91,327.73 792.94,327.17 794.96,326.61 796.99,326.06 799.01,325.51 801.03,324.96 803.06,324.42 805.08,323.88 807.11,323.34 809.13,322.8 811.16,322.27 813.18,321.75 815.2,321.22 817.23,320.7 819.25,320.18 821.28,319.66 823.3,319.15 825.33,318.64 827.35,318.13 829.37,317.62 831.4,317.12 833.42,316.62 835.45,316.12 837.47,315.63 839.49,315.13 841.52,314.64 843.54,314.15 845.57,313.67 847.59,313.18 849.62,312.7 851.64,312.22 853.66,311.75 855.69,311.27 857.71,310.8 859.74,310.33 861.76,309.86 863.79,309.39 865.81,308.93 867.83,308.46 869.86,308 871.88,307.54 873.91,307.09 875.93,306.63 877.95,306.18 879.98,305.73 882,305.28 884.03,304.83 886.05,304.39 888.08,303.94 890.1,303.5 892.12,303.06 894.15,302.62 896.17,302.18 898.2,301.75 900.22,301.31 902.25,300.88 904.27,300.45 906.29,300.02 908.32,299.59 910.34,299.17 912.37,298.74 914.39,298.32 916.42,297.9 918.44,297.48 920.46,297.06 922.49,296.64 924.51,296.23 926.54,295.82 928.56,295.4 930.58,294.99 932.61,294.58 934.63,294.17 936.66,293.77 938.68,293.36 940.71,292.96 942.73,292.55 944.75,292.15 946.78,291.75 948.8,291.35 950.83,290.95 952.85,290.56 954.88,290.16 956.9,289.77 958.92,289.37 960.95,288.98 962.97,288.59 965,288.2 967.02,287.81 969.04,287.43 971.07,287.04 973.09,286.66 975.12,286.27 977.14,285.89 979.17,285.51 981.19,285.13 983.21,284.75 985.24,284.37 987.26,283.99 989.29,283.62 991.31,283.24 993.34,282.87 995.36,282.5 997.38,282.13 999.41,281.76 1001.43,281.39 1003.46,281.02 1005.48,280.65 1007.51,280.28 1009.53,279.92 1011.55,279.55 1013.58,279.19 1015.6,278.83 1017.63,278.46 1019.65,278.1 1021.67,277.74 1023.7,277.38 1025.72,277.03 1027.75,276.67 1029.77,276.31 1031.8,275.96 1033.82,275.6 1035.84,275.25 1037.87,274.9 1039.89,274.54 1041.92,274.19 1043.94,273.84 1045.97,273.49 1047.99,273.15 1050.01,272.8 1052.04,272.45 1054.06,272.11 1056.09,271.76 1058.11,271.42 1060.13,271.07 1062.16,270.73 1064.18,270.39 1066.21,270.05 1068.23,269.71 1070.26,269.37 1072.28,269.03 1074.3,268.69 1076.33,268.35 1078.35,268.02 1080.38,267.68 1082.4,267.35 1084.43,267.01 1086.45,266.68 1088.47,266.35 1090.5,266.02 1092.52,265.69 1094.55,265.35 1096.57,265.03 1098.59,264.7 1100.62,264.37 1102.64,264.04 1104.67,263.71 1106.69,263.39 1108.72,263.06 1110.74,262.74 1112.76,262.41 1114.79,262.09 1116.81,261.77 1118.84,261.45 1120.86,261.12 1122.89,260.8 1124.91,260.48 1126.93,260.16 1128.96,259.85 1130.98,259.53 1133.01,259.21 1135.03,258.89 1137.06,258.58 1139.08,258.26 1141.1,257.95 1143.13,257.63 1145.15,257.32 1147.18,257.01 1149.2,256.69 1151.22,256.38 1153.25,256.07 1155.27,255.76 1157.3,255.45 1159.32,255.14 1161.35,254.83 1163.37,254.52 1165.39,254.21 1167.42,253.91 1169.44,253.6 1171.47,253.3 1173.49,252.99 1175.52,252.69 1177.54,252.38 1179.56,252.08 1181.59,251.77 1183.61,251.47 1185.64,251.17 1187.66,250.87 1189.68,250.57 1191.71,250.27 1193.73,249.97 1195.76,249.67 1197.78,249.37 1199.81,249.07 1201.83,248.77 1203.85,248.48 1205.88,248.18 1207.9,247.88 1209.93,247.59 1211.95,247.29 1213.98,247 1216,246.7 1218.02,246.41 1220.05,246.12 1222.07,245.83 1224.1,245.53 1226.12,245.24 1228.15,244.95 1230.17,244.66 1232.19,244.37 1234.22,244.08 1236.24,243.79 1238.27,243.5 1240.29,243.22 1242.31,242.93 1244.34,242.64 1246.36,242.35 1248.39,242.07 1250.41,241.78 1252.44,241.5 1254.46,241.21 1256.48,240.93 1258.51,240.64 1260.53,240.36 1262.56,240.08 1264.58,239.8 1266.61,239.51 1268.63,239.23 1270.65,238.95 1272.68,238.67 1274.7,238.39 1276.73,238.11 1278.75,237.83 1280.77,237.55 1282.8,237.27 1284.82,236.99 1286.85,236.72 1288.87,236.44 1290.9,236.16 1292.92,235.89 1294.94,235.61 1296.97,235.33 1298.99,235.06 1301.02,234.79 1303.04,234.51 1305.07,234.24 1307.09,233.96 1309.11,233.69 1311.14,233.42 1313.16,233.15 1315.19,232.87 1317.21,232.6 1319.23,232.33 1321.26,232.06 1323.28,231.79 1325.31,231.52 1327.33,231.25 1329.36,230.98 1331.38,230.71 1333.4,230.45 1335.43,230.18 1337.45,229.91 1339.48,229.64 1341.5,229.38 1343.53,229.11 1345.55,228.84 1347.57,228.58 1349.6,228.31 1351.62,228.05 1353.65,227.78 1355.67,227.52 1357.7,227.26 1359.72,226.99 1361.74,226.73 1363.77,226.47 1365.79,226.2 1367.82,225.94 1369.84,225.68 1371.86,225.42 1373.89,225.16 1375.91,224.9 1377.94,224.64 1379.96,224.38 1381.99,224.12 1384.01,223.86 1386.03,223.6 1388.06,223.34 1390.08,223.08 1392.11,222.83 1394.13,222.57 1396.16,222.31 1398.18,222.06 1400.2,221.8 1402.23,221.54 1404.25,221.29 1406.28,221.03 1408.3,220.78 1410.32,220.52 1412.35,220.27 1414.37,220.01 1416.4,219.76 1418.42,219.51 1420.45,219.25 1422.47,219 1424.49,218.75 1426.52,218.5 1428.54,218.24 1430.57,217.99 1432.59,217.74 1434.62,217.49 1436.64,217.24 1438.66,216.99" fill="none" stroke="#000" stroke-width="2.3" stroke-linejoin="round" stroke-linecap="butt" stroke-dasharray="7.5 3.1"/>
</g>
<rect x="646.9" y="19.7" width="256.4" height="214.5" rx="42" ry="42" fill="#fff" stroke="#bdbdbd" stroke-width="3.2"/>
<line x1="689.4" y1="74.4" x2="850" y2="74.4" stroke="#000" stroke-width="2.4" />
<path d="M859,74.4 L848,79.3 L848,69.5 Z" fill="#000" stroke="#000" stroke-width="1.2" stroke-linejoin="round"/>
<line x1="689.4" y1="73.2" x2="689.4" y2="203" stroke="#000" stroke-width="2.4" />
<path d="M689.4,212.4 L684.5,201.4 L694.3,201.4 Z" fill="#000" stroke="#000" stroke-width="1.2" stroke-linejoin="round"/>
<polyline points="714.7,173.3 716.98,168.47 719.26,163.8 721.54,159.3 723.83,154.97 726.11,150.81 728.39,146.81 730.67,142.98 732.95,139.31 735.23,135.81 737.51,132.48 739.79,129.31 742.08,126.31 744.36,123.48 746.64,120.82 748.92,118.32 751.2,115.98 753.48,113.82 755.76,111.82 758.05,109.98 760.33,108.32 762.61,106.82 764.89,105.49 767.17,104.32 769.45,103.32 771.73,102.49 774.02,101.82 776.3,101.32 778.58,100.99 780.86,100.82 783.14,100.82 785.42,100.99 787.7,101.32 789.98,101.82 792.27,102.49 794.55,103.32 796.83,104.32 799.11,105.49 801.39,106.82 803.67,108.32 805.95,109.98 808.24,111.82 810.52,113.82 812.8,115.98 815.08,118.32 817.36,120.82 819.64,123.48 821.92,126.31 824.21,129.31 826.49,132.48 828.77,135.81 831.05,139.31 833.33,142.98 835.61,146.81 837.89,150.81 840.17,154.97 842.46,159.3 844.74,163.8 847.02,168.47 849.3,173.3" fill="none" stroke="#888" stroke-width="3.6" stroke-linejoin="round" stroke-linecap="butt" />
<path d="M832.2,83.5 L833.35,83.83 L834.44,84.17 L835.43,84.5 L836.26,84.83 L836.9,85.17 L837.32,85.5 L837.49,85.83 L837.42,86.17 L837.1,86.5 L836.54,86.83 L835.78,87.17 L834.85,87.5 L833.79,87.83 L832.66,88.17 L831.51,88.5 L830.39,88.83 L829.35,89.17 L828.45,89.5 L827.73,89.83 L827.22,90.17 L826.95,90.5 L826.92,90.83 L827.15,91.17 L827.61,91.5 L828.29,91.83 L829.16,92.17 L830.17,92.5 L831.28,92.83 L832.43,93.17 L833.57,93.5 L834.65,93.83 L835.61,94.17 L836.4,94.5 L837,94.83 L837.37,95.17 L837.5,95.5 L837.37,95.83 L837,96.17 L836.4,96.5 L835.61,96.83 L834.65,97.17 L833.57,97.5 L832.43,97.83 L831.28,98.17 L830.17,98.5 L829.16,98.83 L828.29,99.17 L827.61,99.5 L827.15,99.83 L826.92,100.17 L826.95,100.5 L827.22,100.83 L827.73,101.17 L828.45,101.5 L829.35,101.83 L830.39,102.17 L831.51,102.5 L832.66,102.83 L833.79,103.17 L834.85,103.5 L835.78,103.83 L836.54,104.17 L837.1,104.5 L837.42,104.83 L837.49,105.17 L837.32,105.5 L836.9,105.83 L836.26,106.17 L835.43,106.5 L834.44,106.83 L833.35,107.17 L832.2,107.5 L831.05,107.83 L829.96,108.17 L828.97,108.5 L828.14,108.83 L827.5,109.17 L827.08,109.5 L826.91,109.83 L826.98,110.17 L827.3,110.5 L827.86,110.83 L828.62,111.17 L829.55,111.5 L830.61,111.83 L831.74,112.17 L832.89,112.5 L834.01,112.83 L835.05,113.17 L835.95,113.5 L836.67,113.83 L837.18,114.17 L837.45,114.5 L837.48,114.83 L837.25,115.17 L836.79,115.5 L836.11,115.83 L835.24,116.17 L834.23,116.5 L833.12,116.83 L831.97,117.17 L830.83,117.5 L829.75,117.83 L828.79,118.17 L828,118.5 L827.4,118.83 L827.03,119.17 L826.9,119.5 L827.03,119.83 L827.4,120.17 L828,120.5 L828.79,120.83 L829.75,121.17 L830.83,121.5" fill="none" stroke="#f99d6a" stroke-width="2.6" stroke-linecap="round" stroke-linejoin="round"/>
<path d="M773.4,135.3 L773.74,136.1 L774.07,136.86 L774.41,137.54 L774.74,138.11 L775.08,138.54 L775.41,138.81 L775.75,138.9 L776.08,138.81 L776.42,138.55 L776.75,138.12 L777.09,137.55 L777.42,136.87 L777.76,136.11 L778.1,135.31 L778.43,134.51 L778.77,133.75 L779.1,133.07 L779.44,132.49 L779.77,132.06 L780.11,131.79 L780.44,131.7 L780.78,131.79 L781.11,132.05 L781.45,132.47 L781.78,133.04 L782.12,133.72 L782.46,134.48 L782.79,135.28 L783.13,136.08 L783.46,136.84 L783.8,137.53 L784.13,138.1 L784.47,138.53 L784.8,138.8 L785.14,138.9 L785.47,138.82 L785.81,138.56 L786.14,138.13 L786.48,137.57 L786.82,136.89 L787.15,136.13 L787.49,135.33 L787.82,134.53 L788.16,133.77 L788.49,133.08 L788.83,132.51 L789.16,132.07 L789.5,131.8 L789.83,131.7 L790.17,131.78 L790.5,132.04 L790.84,132.46 L791.18,133.02 L791.51,133.7 L791.85,134.46 L792.18,135.26 L792.52,136.06 L792.85,136.82 L793.19,137.51 L793.52,138.08 L793.86,138.52 L794.19,138.8 L794.53,138.9 L794.86,138.82 L795.2,138.57 L795.54,138.15 L795.87,137.59 L796.21,136.91 L796.54,136.15 L796.88,135.36 L797.21,134.55 L797.55,133.79 L797.88,133.1 L798.22,132.52 L798.55,132.08 L798.89,131.8 L799.22,131.7 L799.56,131.78 L799.9,132.03 L800.23,132.45 L800.57,133.01 L800.9,133.68 L801.24,134.43 L801.57,135.23 L801.91,136.04 L802.24,136.8 L802.58,137.49 L802.91,138.07 L803.25,138.51 L803.58,138.79 L803.92,138.9 L804.26,138.83 L804.59,138.57 L804.93,138.16 L805.26,137.6 L805.6,136.93 L805.93,136.18 L806.27,135.38 L806.6,134.58 L806.94,133.81 L807.27,133.12 L807.61,132.54 L807.94,132.09 L808.28,131.81 L808.62,131.7 L808.95,131.77 L809.29,132.02 L809.62,132.43 L809.96,132.99 L810.29,133.66 L810.63,134.41 L810.96,135.21 L811.3,136.01 L811.63,136.78 L811.97,137.47 L812.3,138.06 L812.64,138.5 L812.98,138.79 L813.31,138.9 L813.65,138.83 L813.98,138.58 L814.32,138.17 L814.65,137.62 L814.99,136.95 L815.32,136.2 L815.66,135.4 L815.99,134.6 L816.33,133.83 L816.66,133.14 L817,132.55" fill="none" stroke="#000" stroke-width="2.2" stroke-linecap="round" stroke-linejoin="round"/>
<path d="M831.5,124.7 L834.09,130.93 L840.82,131.47 L835.69,135.86 L837.26,142.43 L831.5,138.91 L825.74,142.43 L827.31,135.86 L822.18,131.47 L828.91,130.93 Z" fill="#eaa07c" stroke="#000" stroke-width="2.2" stroke-linejoin="miter"/>
<text x="762.3" y="64" font-size="26.5" text-anchor="start" >Φ</text>
<text x="780.5" y="67.5" font-size="19.5" text-anchor="start" >b</text>
<text x="841.2" y="108.3" font-size="26.5" text-anchor="start" style="fill:#f99d6a">Φ</text>
<text x="860.5" y="112.5" font-size="19.5" text-anchor="start" style="fill:#f99d6a">zpf</text>
<text x="664" y="142.5" font-size="29" text-anchor="start" font-style="italic">ϰ</text>
<text x="774" y="156.5" font-size="25" text-anchor="start" font-style="italic">g</text>
<text x="788.5" y="160.5" font-size="17.5" text-anchor="start" >0</text>
<text x="800" y="160.5" font-size="19.5" text-anchor="start" font-style="italic">ϰ</text>
<g clip-path="url(#cc)" fill-opacity="0.66" stroke-opacity="0.66" stroke-width="1.9">
<circle cx="791.13" cy="305.84" r="4.1" fill="#5e4c87" stroke="#5e4c87"/>
<circle cx="791.71" cy="305.26" r="4.1" fill="#5e4c87" stroke="#5e4c87"/>
<circle cx="793.06" cy="301.83" r="4.1" fill="#5e4c87" stroke="#5e4c87"/>
<circle cx="793.46" cy="310.85" r="4.1" fill="#5e4c87" stroke="#5e4c87"/>
<circle cx="794.7" cy="310.05" r="4.1" fill="#5e4c87" stroke="#5e4c87"/>
<circle cx="795.26" cy="312.81" r="4.1" fill="#5e4c87" stroke="#5e4c87"/>
<circle cx="795.06" cy="318.54" r="4.1" fill="#5e4c87" stroke="#5e4c87"/>
<circle cx="794.92" cy="309.92" r="4.1" fill="#5e4c87" stroke="#5e4c87"/>
<circle cx="795.62" cy="298.37" r="4.1" fill="#5e4c87" stroke="#5e4c87"/>
<circle cx="796.57" cy="305.11" r="4.1" fill="#5e4c87" stroke="#5e4c87"/>
<circle cx="797.1" cy="312.18" r="4.1" fill="#5e4c87" stroke="#5e4c87"/>
<circle cx="798.21" cy="314.74" r="4.1" fill="#5e4c87" stroke="#5e4c87"/>
<circle cx="797.03" cy="317" r="4.1" fill="#5e4c87" stroke="#5e4c87"/>
<circle cx="797.54" cy="322.59" r="4.1" fill="#5e4c87" stroke="#5e4c87"/>
<circle cx="797.6" cy="324.47" r="4.1" fill="#5e4c87" stroke="#5e4c87"/>
<circle cx="798.05" cy="305.46" r="4.1" fill="#5e4c87" stroke="#5e4c87"/>
<circle cx="798.16" cy="303.1" r="4.1" fill="#5e4c87" stroke="#5e4c87"/>
<circle cx="800.12" cy="311.05" r="4.1" fill="#5e4c87" stroke="#5e4c87"/>
<circle cx="799.58" cy="307.19" r="4.1" fill="#5e4c87" stroke="#5e4c87"/>
<circle cx="799.08" cy="300.25" r="4.1" fill="#5e4c87" stroke="#5e4c87"/>
<circle cx="801.36" cy="307.31" r="4.1" fill="#5e4c87" stroke="#5e4c87"/>
<circle cx="799.68" cy="302.33" r="4.1" fill="#5e4c87" stroke="#5e4c87"/>
<circle cx="802.06" cy="300.22" r="4.1" fill="#5e4c87" stroke="#5e4c87"/>
<circle cx="803" cy="305.61" r="4.1" fill="#5e4c87" stroke="#5e4c87"/>
<circle cx="804.63" cy="310.68" r="4.1" fill="#5e4c87" stroke="#5e4c87"/>
<circle cx="804.42" cy="300.32" r="4.1" fill="#5e4c87" stroke="#5e4c87"/>
<circle cx="804.57" cy="302.14" r="4.1" fill="#5e4c87" stroke="#5e4c87"/>
<circle cx="805.01" cy="305.82" r="4.1" fill="#5e4c87" stroke="#5e4c87"/>
<circle cx="806.1" cy="302.24" r="4.1" fill="#5e4c87" stroke="#5e4c87"/>
<circle cx="804.38" cy="302.74" r="4.1" fill="#5e4c87" stroke="#5e4c87"/>
<circle cx="805.94" cy="287.9" r="4.1" fill="#5e4c87" stroke="#5e4c87"/>
<circle cx="806.6" cy="286.78" r="4.1" fill="#5e4c87" stroke="#5e4c87"/>
<circle cx="806.94" cy="291.57" r="4.1" fill="#5e4c87" stroke="#5e4c87"/>
<circle cx="807.37" cy="288" r="4.1" fill="#5e4c87" stroke="#5e4c87"/>
<circle cx="808.5" cy="283.32" r="4.1" fill="#5e4c87" stroke="#5e4c87"/>
<circle cx="808.74" cy="287.56" r="4.1" fill="#5e4c87" stroke="#5e4c87"/>
<circle cx="811.03" cy="287.42" r="4.1" fill="#5e4c87" stroke="#5e4c87"/>
<circle cx="811.4" cy="290.91" r="4.1" fill="#5e4c87" stroke="#5e4c87"/>
<circle cx="811.13" cy="293.45" r="4.1" fill="#5e4c87" stroke="#5e4c87"/>
<circle cx="811" cy="303.87" r="4.1" fill="#5e4c87" stroke="#5e4c87"/>
<circle cx="812.44" cy="297.98" r="4.1" fill="#5e4c87" stroke="#5e4c87"/>
<circle cx="812.29" cy="308.24" r="4.1" fill="#5e4c87" stroke="#5e4c87"/>
<circle cx="813.26" cy="309.21" r="4.1" fill="#5e4c87" stroke="#5e4c87"/>
<circle cx="814.39" cy="317.75" r="4.1" fill="#5e4c87" stroke="#5e4c87"/>
<circle cx="814.38" cy="300.45" r="4.1" fill="#5e4c87" stroke="#5e4c87"/>
<circle cx="815.97" cy="310.81" r="4.1" fill="#5e4c87" stroke="#5e4c87"/>
<circle cx="816.13" cy="311.71" r="4.1" fill="#5e4c87" stroke="#5e4c87"/>
<circle cx="816.3" cy="319.27" r="4.1" fill="#5e4c87" stroke="#5e4c87"/>
<circle cx="815.87" cy="320.23" r="4.1" fill="#5e4c87" stroke="#5e4c87"/>
<circle cx="816.56" cy="309.53" r="4.1" fill="#5e4c87" stroke="#5e4c87"/>
<circle cx="816.04" cy="311.61" r="4.1" fill="#5e4c87" stroke="#5e4c87"/>
<circle cx="817.79" cy="317.97" r="4.1" fill="#5e4c87" stroke="#5e4c87"/>
<circle cx="817.83" cy="310.47" r="4.1" fill="#5e4c87" stroke="#5e4c87"/>
<circle cx="819.87" cy="295.26" r="4.1" fill="#5e4c87" stroke="#5e4c87"/>
<circle cx="819.66" cy="300.3" r="4.1" fill="#5e4c87" stroke="#5e4c87"/>
<circle cx="818.61" cy="299.13" r="4.1" fill="#5e4c87" stroke="#5e4c87"/>
<circle cx="820.69" cy="313.66" r="4.1" fill="#5e4c87" stroke="#5e4c87"/>
<circle cx="820.92" cy="312.91" r="4.1" fill="#5e4c87" stroke="#5e4c87"/>
<circle cx="821.62" cy="303.76" r="4.1" fill="#5e4c87" stroke="#5e4c87"/>
<circle cx="820.31" cy="300.85" r="4.1" fill="#5e4c87" stroke="#5e4c87"/>
<circle cx="820.48" cy="285.96" r="4.1" fill="#5e4c87" stroke="#5e4c87"/>
<circle cx="821.21" cy="282.58" r="4.1" fill="#5e4c87" stroke="#5e4c87"/>
<circle cx="820.69" cy="304.2" r="4.1" fill="#5e4c87" stroke="#5e4c87"/>
<circle cx="820.79" cy="294.87" r="4.1" fill="#5e4c87" stroke="#5e4c87"/>
<circle cx="821.17" cy="295.86" r="4.1" fill="#5e4c87" stroke="#5e4c87"/>
<circle cx="823.46" cy="285.62" r="4.1" fill="#5e4c87" stroke="#5e4c87"/>
<circle cx="821.56" cy="294.13" r="4.1" fill="#5e4c87" stroke="#5e4c87"/>
<circle cx="821.33" cy="299.81" r="4.1" fill="#5e4c87" stroke="#5e4c87"/>
<circle cx="821.67" cy="297.39" r="4.1" fill="#5e4c87" stroke="#5e4c87"/>
<circle cx="822.01" cy="296.25" r="4.1" fill="#5e4c87" stroke="#5e4c87"/>
<circle cx="818.94" cy="319.42" r="4.1" fill="#8651a2" stroke="#8651a2"/>
<circle cx="821.49" cy="312.41" r="4.1" fill="#8651a2" stroke="#8651a2"/>
<circle cx="820.75" cy="321.87" r="4.1" fill="#8651a2" stroke="#8651a2"/>
<circle cx="822.38" cy="322.59" r="4.1" fill="#8651a2" stroke="#8651a2"/>
<circle cx="824.6" cy="314.81" r="4.1" fill="#8651a2" stroke="#8651a2"/>
<circle cx="827.37" cy="296.27" r="4.1" fill="#8651a2" stroke="#8651a2"/>
<circle cx="830.15" cy="298.16" r="4.1" fill="#8651a2" stroke="#8651a2"/>
<circle cx="830.61" cy="293.81" r="4.1" fill="#8651a2" stroke="#8651a2"/>
<circle cx="832.18" cy="282.06" r="4.1" fill="#8651a2" stroke="#8651a2"/>
<circle cx="832.62" cy="287.15" r="4.1" fill="#8651a2" stroke="#8651a2"/>
<circle cx="832.75" cy="290.07" r="4.1" fill="#8651a2" stroke="#8651a2"/>
<circle cx="834.1" cy="295.14" r="4.1" fill="#8651a2" stroke="#8651a2"/>
<circle cx="835.41" cy="294.6" r="4.1" fill="#8651a2" stroke="#8651a2"/>
<circle cx="834.86" cy="292.12" r="4.1" fill="#8651a2" stroke="#8651a2"/>
<circle cx="836.54" cy="294.47" r="4.1" fill="#8651a2" stroke="#8651a2"/>
<circle cx="836.75" cy="297.12" r="4.1" fill="#8651a2" stroke="#8651a2"/>
<circle cx="836.83" cy="297.62" r="4.1" fill="#8651a2" stroke="#8651a2"/>
<circle cx="836.97" cy="292.24" r="4.1" fill="#8651a2" stroke="#8651a2"/>
<circle cx="838.78" cy="286.3" r="4.1" fill="#8651a2" stroke="#8651a2"/>
<circle cx="840.69" cy="289.18" r="4.1" fill="#8651a2" stroke="#8651a2"/>
<circle cx="841.62" cy="288.06" r="4.1" fill="#8651a2" stroke="#8651a2"/>
<circle cx="846.26" cy="288.23" r="4.1" fill="#8651a2" stroke="#8651a2"/>
<circle cx="845.09" cy="295.25" r="4.1" fill="#8651a2" stroke="#8651a2"/>
<circle cx="845.53" cy="292.64" r="4.1" fill="#8651a2" stroke="#8651a2"/>
<circle cx="845.59" cy="285.13" r="4.1" fill="#8651a2" stroke="#8651a2"/>
<circle cx="846.13" cy="299.3" r="4.1" fill="#8651a2" stroke="#8651a2"/>
<circle cx="846.2" cy="290.71" r="4.1" fill="#8651a2" stroke="#8651a2"/>
<circle cx="846.42" cy="281.85" r="4.1" fill="#8651a2" stroke="#8651a2"/>
<circle cx="849.24" cy="290.17" r="4.1" fill="#8651a2" stroke="#8651a2"/>
<circle cx="848.1" cy="295.2" r="4.1" fill="#8651a2" stroke="#8651a2"/>
<circle cx="849.98" cy="293.64" r="4.1" fill="#8651a2" stroke="#8651a2"/>
<circle cx="851.98" cy="291.41" r="4.1" fill="#8651a2" stroke="#8651a2"/>
<circle cx="852.41" cy="290.04" r="4.1" fill="#8651a2" stroke="#8651a2"/>
<circle cx="855.43" cy="286.54" r="4.1" fill="#8651a2" stroke="#8651a2"/>
<circle cx="854.88" cy="284.8" r="4.1" fill="#8651a2" stroke="#8651a2"/>
<circle cx="856.09" cy="283.76" r="4.1" fill="#8651a2" stroke="#8651a2"/>
<circle cx="856.73" cy="281.42" r="4.1" fill="#8651a2" stroke="#8651a2"/>
<circle cx="859.78" cy="275.63" r="4.1" fill="#8651a2" stroke="#8651a2"/>
<circle cx="859.73" cy="273.29" r="4.1" fill="#8651a2" stroke="#8651a2"/>
<circle cx="859.89" cy="268.61" r="4.1" fill="#8651a2" stroke="#8651a2"/>
<circle cx="863.07" cy="276.55" r="4.1" fill="#8651a2" stroke="#8651a2"/>
<circle cx="863.95" cy="272.47" r="4.1" fill="#8651a2" stroke="#8651a2"/>
<circle cx="864.14" cy="275.52" r="4.1" fill="#8651a2" stroke="#8651a2"/>
<circle cx="864.01" cy="276.13" r="4.1" fill="#8651a2" stroke="#8651a2"/>
<circle cx="865.26" cy="269.52" r="4.1" fill="#8651a2" stroke="#8651a2"/>
<circle cx="867.52" cy="276.24" r="4.1" fill="#8651a2" stroke="#8651a2"/>
<circle cx="870.27" cy="271.62" r="4.1" fill="#8651a2" stroke="#8651a2"/>
<circle cx="870.09" cy="275.66" r="4.1" fill="#8651a2" stroke="#8651a2"/>
<circle cx="870.69" cy="279.11" r="4.1" fill="#8651a2" stroke="#8651a2"/>
<circle cx="874.19" cy="272.1" r="4.1" fill="#8651a2" stroke="#8651a2"/>
<circle cx="874.34" cy="268.26" r="4.1" fill="#8651a2" stroke="#8651a2"/>
<circle cx="875.53" cy="261.28" r="4.1" fill="#8651a2" stroke="#8651a2"/>
<circle cx="876.88" cy="272.3" r="4.1" fill="#8651a2" stroke="#8651a2"/>
<circle cx="870.41" cy="274.26" r="4.1" fill="#a55da6" stroke="#a55da6"/>
<circle cx="874.73" cy="270.34" r="4.1" fill="#a55da6" stroke="#a55da6"/>
<circle cx="873.07" cy="277.22" r="4.1" fill="#a55da6" stroke="#a55da6"/>
<circle cx="875.46" cy="275.87" r="4.1" fill="#a55da6" stroke="#a55da6"/>
<circle cx="875" cy="278.27" r="4.1" fill="#a55da6" stroke="#a55da6"/>
<circle cx="876.94" cy="282.74" r="4.1" fill="#a55da6" stroke="#a55da6"/>
<circle cx="877.54" cy="273.85" r="4.1" fill="#a55da6" stroke="#a55da6"/>
<circle cx="876.96" cy="265.26" r="4.1" fill="#a55da6" stroke="#a55da6"/>
<circle cx="876.97" cy="266.6" r="4.1" fill="#a55da6" stroke="#a55da6"/>
<circle cx="879.77" cy="280.28" r="4.1" fill="#a55da6" stroke="#a55da6"/>
<circle cx="880.51" cy="280.06" r="4.1" fill="#a55da6" stroke="#a55da6"/>
<circle cx="880.89" cy="285.3" r="4.1" fill="#a55da6" stroke="#a55da6"/>
<circle cx="881.87" cy="290.09" r="4.1" fill="#a55da6" stroke="#a55da6"/>
<circle cx="884.53" cy="280.45" r="4.1" fill="#a55da6" stroke="#a55da6"/>
<circle cx="889.04" cy="277.81" r="4.1" fill="#a55da6" stroke="#a55da6"/>
<circle cx="891.64" cy="269.28" r="4.1" fill="#a55da6" stroke="#a55da6"/>
<circle cx="892.24" cy="269.52" r="4.1" fill="#a55da6" stroke="#a55da6"/>
<circle cx="893.07" cy="271.39" r="4.1" fill="#a55da6" stroke="#a55da6"/>
<circle cx="895.07" cy="269.88" r="4.1" fill="#a55da6" stroke="#a55da6"/>
<circle cx="897.26" cy="260.55" r="4.1" fill="#a55da6" stroke="#a55da6"/>
<circle cx="896.8" cy="268.43" r="4.1" fill="#a55da6" stroke="#a55da6"/>
<circle cx="896.95" cy="266.01" r="4.1" fill="#a55da6" stroke="#a55da6"/>
<circle cx="899.14" cy="259.28" r="4.1" fill="#a55da6" stroke="#a55da6"/>
<circle cx="900.3" cy="254.45" r="4.1" fill="#a55da6" stroke="#a55da6"/>
<circle cx="899.3" cy="254.15" r="4.1" fill="#a55da6" stroke="#a55da6"/>
<circle cx="899.93" cy="254.84" r="4.1" fill="#a55da6" stroke="#a55da6"/>
<circle cx="899.14" cy="263.46" r="4.1" fill="#a55da6" stroke="#a55da6"/>
<circle cx="902.08" cy="259.03" r="4.1" fill="#a55da6" stroke="#a55da6"/>
<circle cx="902.8" cy="250.67" r="4.1" fill="#a55da6" stroke="#a55da6"/>
<circle cx="902.52" cy="245.82" r="4.1" fill="#a55da6" stroke="#a55da6"/>
<circle cx="903.17" cy="252.21" r="4.1" fill="#a55da6" stroke="#a55da6"/>
<circle cx="904.53" cy="250.47" r="4.1" fill="#a55da6" stroke="#a55da6"/>
<circle cx="905.19" cy="250.43" r="4.1" fill="#a55da6" stroke="#a55da6"/>
<circle cx="909.79" cy="248.57" r="4.1" fill="#a55da6" stroke="#a55da6"/>
<circle cx="909.09" cy="250.24" r="4.1" fill="#a55da6" stroke="#a55da6"/>
<circle cx="911.86" cy="253.37" r="4.1" fill="#a55da6" stroke="#a55da6"/>
<circle cx="909.34" cy="305.95" r="4.1" fill="#c7659c" stroke="#c7659c"/>
<circle cx="909.8" cy="310.34" r="4.1" fill="#c7659c" stroke="#c7659c"/>
<circle cx="914.86" cy="310.28" r="4.1" fill="#c7659c" stroke="#c7659c"/>
<circle cx="916.11" cy="303.04" r="4.1" fill="#c7659c" stroke="#c7659c"/>
<circle cx="917.39" cy="299.36" r="4.1" fill="#c7659c" stroke="#c7659c"/>
<circle cx="918.6" cy="298.56" r="4.1" fill="#c7659c" stroke="#c7659c"/>
<circle cx="918.88" cy="292.01" r="4.1" fill="#c7659c" stroke="#c7659c"/>
<circle cx="919.04" cy="288.77" r="4.1" fill="#c7659c" stroke="#c7659c"/>
<circle cx="920.6" cy="289.29" r="4.1" fill="#c7659c" stroke="#c7659c"/>
<circle cx="919.56" cy="260.78" r="4.1" fill="#c7659c" stroke="#c7659c"/>
<circle cx="918.11" cy="262.84" r="4.1" fill="#c7659c" stroke="#c7659c"/>
<circle cx="919.8" cy="265.58" r="4.1" fill="#c7659c" stroke="#c7659c"/>
<circle cx="921.52" cy="261.8" r="4.1" fill="#c7659c" stroke="#c7659c"/>
<circle cx="922.69" cy="264.66" r="4.1" fill="#c7659c" stroke="#c7659c"/>
<circle cx="924.11" cy="262.32" r="4.1" fill="#c7659c" stroke="#c7659c"/>
<circle cx="923.8" cy="261.87" r="4.1" fill="#c7659c" stroke="#c7659c"/>
<circle cx="924.31" cy="263.78" r="4.1" fill="#c7659c" stroke="#c7659c"/>
<circle cx="923.47" cy="252.19" r="4.1" fill="#c7659c" stroke="#c7659c"/>
<circle cx="923.06" cy="246" r="4.1" fill="#c7659c" stroke="#c7659c"/>
<circle cx="924.57" cy="253.14" r="4.1" fill="#c7659c" stroke="#c7659c"/>
<circle cx="926.5" cy="251.13" r="4.1" fill="#c7659c" stroke="#c7659c"/>
<circle cx="928.79" cy="254" r="4.1" fill="#c7659c" stroke="#c7659c"/>
<circle cx="930.35" cy="248.43" r="4.1" fill="#c7659c" stroke="#c7659c"/>
<circle cx="931.08" cy="253.57" r="4.1" fill="#c7659c" stroke="#c7659c"/>
<circle cx="931.53" cy="255.42" r="4.1" fill="#c7659c" stroke="#c7659c"/>
<circle cx="934.51" cy="263.08" r="4.1" fill="#c7659c" stroke="#c7659c"/>
<circle cx="938.32" cy="252.94" r="4.1" fill="#c7659c" stroke="#c7659c"/>
<circle cx="940.48" cy="249.11" r="4.1" fill="#c7659c" stroke="#c7659c"/>
<circle cx="939.32" cy="249.58" r="4.1" fill="#c7659c" stroke="#c7659c"/>
<circle cx="940.02" cy="247.57" r="4.1" fill="#c7659c" stroke="#c7659c"/>
<circle cx="940.81" cy="243.97" r="4.1" fill="#c7659c" stroke="#c7659c"/>
<circle cx="944.56" cy="241.34" r="4.1" fill="#c7659c" stroke="#c7659c"/>
<circle cx="945.01" cy="243.12" r="4.1" fill="#c7659c" stroke="#c7659c"/>
<circle cx="946.45" cy="245.59" r="4.1" fill="#c7659c" stroke="#c7659c"/>
<circle cx="947.23" cy="248.27" r="4.1" fill="#c7659c" stroke="#c7659c"/>
<circle cx="950.61" cy="248.06" r="4.1" fill="#c7659c" stroke="#c7659c"/>
<circle cx="953.13" cy="245.6" r="4.1" fill="#c7659c" stroke="#c7659c"/>
<circle cx="953.67" cy="239.77" r="4.1" fill="#c7659c" stroke="#c7659c"/>
<circle cx="954.48" cy="236.69" r="4.1" fill="#c7659c" stroke="#c7659c"/>
<circle cx="957.69" cy="238.1" r="4.1" fill="#c7659c" stroke="#c7659c"/>
<circle cx="958.03" cy="236.37" r="4.1" fill="#c7659c" stroke="#c7659c"/>
<circle cx="960.97" cy="235.34" r="4.1" fill="#c7659c" stroke="#c7659c"/>
<circle cx="961.22" cy="242.56" r="4.1" fill="#c7659c" stroke="#c7659c"/>
<circle cx="962" cy="239.73" r="4.1" fill="#c7659c" stroke="#c7659c"/>
<circle cx="962.64" cy="238.19" r="4.1" fill="#c7659c" stroke="#c7659c"/>
<circle cx="965.35" cy="232.83" r="4.1" fill="#c7659c" stroke="#c7659c"/>
<circle cx="964.99" cy="235.29" r="4.1" fill="#c7659c" stroke="#c7659c"/>
<circle cx="965.97" cy="229.31" r="4.1" fill="#c7659c" stroke="#c7659c"/>
<circle cx="966.6" cy="230.56" r="4.1" fill="#c7659c" stroke="#c7659c"/>
<circle cx="967.9" cy="234.19" r="4.1" fill="#c7659c" stroke="#c7659c"/>
<circle cx="970.75" cy="225.09" r="4.1" fill="#c7659c" stroke="#c7659c"/>
<circle cx="971.57" cy="239.4" r="4.1" fill="#c7659c" stroke="#c7659c"/>
<circle cx="975.07" cy="238.44" r="4.1" fill="#c7659c" stroke="#c7659c"/>
<circle cx="981.77" cy="225.91" r="4.1" fill="#c7659c" stroke="#c7659c"/>
<circle cx="984.29" cy="225.32" r="4.1" fill="#c7659c" stroke="#c7659c"/>
<circle cx="983.28" cy="223.83" r="4.1" fill="#c7659c" stroke="#c7659c"/>
<circle cx="982.86" cy="228.61" r="4.1" fill="#c7659c" stroke="#c7659c"/>
<circle cx="984.58" cy="231.38" r="4.1" fill="#c7659c" stroke="#c7659c"/>
<circle cx="986.76" cy="232.81" r="4.1" fill="#c7659c" stroke="#c7659c"/>
<circle cx="987.07" cy="230.13" r="4.1" fill="#c7659c" stroke="#c7659c"/>
<circle cx="987.83" cy="229.33" r="4.1" fill="#c7659c" stroke="#c7659c"/>
<circle cx="982.67" cy="245.83" r="4.1" fill="#e8778c" stroke="#e8778c"/>
<circle cx="981.3" cy="242.82" r="4.1" fill="#e8778c" stroke="#e8778c"/>
<circle cx="982.44" cy="240.11" r="4.1" fill="#e8778c" stroke="#e8778c"/>
<circle cx="983.13" cy="241.11" r="4.1" fill="#e8778c" stroke="#e8778c"/>
<circle cx="984.97" cy="250.34" r="4.1" fill="#e8778c" stroke="#e8778c"/>
<circle cx="985.66" cy="246.32" r="4.1" fill="#e8778c" stroke="#e8778c"/>
<circle cx="987.68" cy="246.97" r="4.1" fill="#e8778c" stroke="#e8778c"/>
<circle cx="987.83" cy="242.37" r="4.1" fill="#e8778c" stroke="#e8778c"/>
<circle cx="987.98" cy="241.93" r="4.1" fill="#e8778c" stroke="#e8778c"/>
<circle cx="989.04" cy="239.6" r="4.1" fill="#e8778c" stroke="#e8778c"/>
<circle cx="989.54" cy="240.51" r="4.1" fill="#e8778c" stroke="#e8778c"/>
<circle cx="989.84" cy="237.44" r="4.1" fill="#e8778c" stroke="#e8778c"/>
<circle cx="991.81" cy="226.42" r="4.1" fill="#e8778c" stroke="#e8778c"/>
<circle cx="993.88" cy="228.16" r="4.1" fill="#e8778c" stroke="#e8778c"/>
<circle cx="993.42" cy="226.86" r="4.1" fill="#e8778c" stroke="#e8778c"/>
<circle cx="994.94" cy="229.46" r="4.1" fill="#e8778c" stroke="#e8778c"/>
<circle cx="996.86" cy="227.94" r="4.1" fill="#e8778c" stroke="#e8778c"/>
<circle cx="994.87" cy="224.37" r="4.1" fill="#e8778c" stroke="#e8778c"/>
<circle cx="996.19" cy="227.67" r="4.1" fill="#e8778c" stroke="#e8778c"/>
<circle cx="995.47" cy="226.5" r="4.1" fill="#e8778c" stroke="#e8778c"/>
<circle cx="1003.94" cy="232.67" r="4.1" fill="#e8778c" stroke="#e8778c"/>
<circle cx="1006.76" cy="233.19" r="4.1" fill="#e8778c" stroke="#e8778c"/>
<circle cx="1007.96" cy="220.7" r="4.1" fill="#e8778c" stroke="#e8778c"/>
<circle cx="1009.98" cy="216.24" r="4.1" fill="#e8778c" stroke="#e8778c"/>
<circle cx="1010.94" cy="211.94" r="4.1" fill="#e8778c" stroke="#e8778c"/>
<circle cx="1012.18" cy="211.16" r="4.1" fill="#e8778c" stroke="#e8778c"/>
<circle cx="1014.67" cy="208.45" r="4.1" fill="#e8778c" stroke="#e8778c"/>
<circle cx="1018.88" cy="202.74" r="4.1" fill="#e8778c" stroke="#e8778c"/>
<circle cx="1019.49" cy="198.33" r="4.1" fill="#e8778c" stroke="#e8778c"/>
<circle cx="1021.04" cy="197.32" r="4.1" fill="#e8778c" stroke="#e8778c"/>
<circle cx="1022.18" cy="200.12" r="4.1" fill="#e8778c" stroke="#e8778c"/>
<circle cx="1022.74" cy="203.23" r="4.1" fill="#e8778c" stroke="#e8778c"/>
<circle cx="1025.05" cy="209.75" r="4.1" fill="#e8778c" stroke="#e8778c"/>
<circle cx="1026.87" cy="207.21" r="4.1" fill="#e8778c" stroke="#e8778c"/>
<circle cx="1026.84" cy="207.8" r="4.1" fill="#e8778c" stroke="#e8778c"/>
<circle cx="1027.07" cy="203.14" r="4.1" fill="#e8778c" stroke="#e8778c"/>
<circle cx="1028.38" cy="199.88" r="4.1" fill="#e8778c" stroke="#e8778c"/>
<circle cx="1029.42" cy="198.3" r="4.1" fill="#e8778c" stroke="#e8778c"/>
<circle cx="1033.48" cy="203.43" r="4.1" fill="#e8778c" stroke="#e8778c"/>
<circle cx="1032.96" cy="209.33" r="4.1" fill="#e8778c" stroke="#e8778c"/>
<circle cx="1034.36" cy="212.65" r="4.1" fill="#e8778c" stroke="#e8778c"/>
<circle cx="1033.75" cy="212.5" r="4.1" fill="#e8778c" stroke="#e8778c"/>
<circle cx="1035.17" cy="210.37" r="4.1" fill="#e8778c" stroke="#e8778c"/>
<circle cx="1037.65" cy="201.54" r="4.1" fill="#e8778c" stroke="#e8778c"/>
<circle cx="1043.09" cy="199.58" r="4.1" fill="#e8778c" stroke="#e8778c"/>
<circle cx="1046.1" cy="194.02" r="4.1" fill="#e8778c" stroke="#e8778c"/>
<circle cx="1047.69" cy="202.92" r="4.1" fill="#e8778c" stroke="#e8778c"/>
<circle cx="1049.26" cy="202.06" r="4.1" fill="#e8778c" stroke="#e8778c"/>
<circle cx="1049.42" cy="199.33" r="4.1" fill="#e8778c" stroke="#e8778c"/>
<circle cx="1056.51" cy="196.75" r="4.1" fill="#e8778c" stroke="#e8778c"/>
<circle cx="1056.98" cy="201.69" r="4.1" fill="#e8778c" stroke="#e8778c"/>
<circle cx="1058.17" cy="201.4" r="4.1" fill="#e8778c" stroke="#e8778c"/>
<circle cx="1058.81" cy="207.21" r="4.1" fill="#e8778c" stroke="#e8778c"/>
<circle cx="1059.22" cy="198.37" r="4.1" fill="#e8778c" stroke="#e8778c"/>
<circle cx="1059.86" cy="202.42" r="4.1" fill="#e8778c" stroke="#e8778c"/>
<circle cx="1060.6" cy="202.22" r="4.1" fill="#e8778c" stroke="#e8778c"/>
<circle cx="1063.04" cy="203.06" r="4.1" fill="#e8778c" stroke="#e8778c"/>
<circle cx="1063.24" cy="208.94" r="4.1" fill="#e8778c" stroke="#e8778c"/>
<circle cx="1065.02" cy="201.09" r="4.1" fill="#e8778c" stroke="#e8778c"/>
<circle cx="1064.82" cy="193.82" r="4.1" fill="#e8778c" stroke="#e8778c"/>
<circle cx="1065.45" cy="196.66" r="4.1" fill="#e8778c" stroke="#e8778c"/>
<circle cx="1067.16" cy="186.64" r="4.1" fill="#e8778c" stroke="#e8778c"/>
<circle cx="1067.6" cy="180.65" r="4.1" fill="#e8778c" stroke="#e8778c"/>
<circle cx="1070.13" cy="178.27" r="4.1" fill="#e8778c" stroke="#e8778c"/>
<circle cx="1074.1" cy="186.16" r="4.1" fill="#e8778c" stroke="#e8778c"/>
<circle cx="1075.08" cy="185.19" r="4.1" fill="#e8778c" stroke="#e8778c"/>
<circle cx="1074.98" cy="186.32" r="4.1" fill="#e8778c" stroke="#e8778c"/>
<circle cx="1074.97" cy="200.56" r="4.1" fill="#fb9d84" stroke="#fb9d84"/>
<circle cx="1076.42" cy="195.49" r="4.1" fill="#fb9d84" stroke="#fb9d84"/>
<circle cx="1075.98" cy="199.7" r="4.1" fill="#fb9d84" stroke="#fb9d84"/>
<circle cx="1077.24" cy="203.95" r="4.1" fill="#fb9d84" stroke="#fb9d84"/>
<circle cx="1078.51" cy="197.88" r="4.1" fill="#fb9d84" stroke="#fb9d84"/>
<circle cx="1080.16" cy="192.84" r="4.1" fill="#fb9d84" stroke="#fb9d84"/>
<circle cx="1080.33" cy="180.07" r="4.1" fill="#fb9d84" stroke="#fb9d84"/>
<circle cx="1082.29" cy="185.32" r="4.1" fill="#fb9d84" stroke="#fb9d84"/>
<circle cx="1082.69" cy="191.86" r="4.1" fill="#fb9d84" stroke="#fb9d84"/>
<circle cx="1082.71" cy="187.63" r="4.1" fill="#fb9d84" stroke="#fb9d84"/>
<circle cx="1086.38" cy="191.74" r="4.1" fill="#fb9d84" stroke="#fb9d84"/>
<circle cx="1087.92" cy="190.57" r="4.1" fill="#fb9d84" stroke="#fb9d84"/>
<circle cx="1087.65" cy="181.88" r="4.1" fill="#fb9d84" stroke="#fb9d84"/>
<circle cx="1087.49" cy="174.81" r="4.1" fill="#fb9d84" stroke="#fb9d84"/>
<circle cx="1088.85" cy="179.98" r="4.1" fill="#fb9d84" stroke="#fb9d84"/>
<circle cx="1095.33" cy="189.62" r="4.1" fill="#fb9d84" stroke="#fb9d84"/>
<circle cx="1096.53" cy="186.64" r="4.1" fill="#fb9d84" stroke="#fb9d84"/>
<circle cx="1101.35" cy="210.67" r="4.1" fill="#fb9d84" stroke="#fb9d84"/>
<circle cx="1102.92" cy="166.1" r="4.1" fill="#fb9d84" stroke="#fb9d84"/>
<circle cx="1103.62" cy="163.51" r="4.1" fill="#fb9d84" stroke="#fb9d84"/>
<circle cx="1105.51" cy="164.94" r="4.1" fill="#fb9d84" stroke="#fb9d84"/>
<circle cx="1109.35" cy="170.82" r="4.1" fill="#fb9d84" stroke="#fb9d84"/>
<circle cx="1109.51" cy="174.2" r="4.1" fill="#fb9d84" stroke="#fb9d84"/>
<circle cx="1110.67" cy="170.19" r="4.1" fill="#fb9d84" stroke="#fb9d84"/>
<circle cx="1113.24" cy="173.16" r="4.1" fill="#fb9d84" stroke="#fb9d84"/>
<circle cx="1114.9" cy="168.73" r="4.1" fill="#fb9d84" stroke="#fb9d84"/>
<circle cx="1117.77" cy="164.19" r="4.1" fill="#fb9d84" stroke="#fb9d84"/>
<circle cx="1123.95" cy="167.21" r="4.1" fill="#fb9d84" stroke="#fb9d84"/>
<circle cx="1128.03" cy="161.13" r="4.1" fill="#fb9d84" stroke="#fb9d84"/>
<circle cx="1132.04" cy="159.6" r="4.1" fill="#fb9d84" stroke="#fb9d84"/>
<circle cx="1137.43" cy="151" r="4.1" fill="#fb9d84" stroke="#fb9d84"/>
<circle cx="1142.61" cy="145.87" r="4.1" fill="#fb9d84" stroke="#fb9d84"/>
<circle cx="1144.51" cy="157.84" r="4.1" fill="#fb9d84" stroke="#fb9d84"/>
<circle cx="1145.93" cy="155.55" r="4.1" fill="#fb9d84" stroke="#fb9d84"/>
<circle cx="1151.23" cy="159.49" r="4.1" fill="#fb9d84" stroke="#fb9d84"/>
<circle cx="1152.74" cy="159.75" r="4.1" fill="#fb9d84" stroke="#fb9d84"/>
<circle cx="1152.55" cy="158.89" r="4.1" fill="#fb9d84" stroke="#fb9d84"/>
<circle cx="1159.74" cy="156.32" r="4.1" fill="#fb9d84" stroke="#fb9d84"/>
<circle cx="1159.25" cy="154.91" r="4.1" fill="#fb9d84" stroke="#fb9d84"/>
<circle cx="1158.78" cy="149.49" r="4.1" fill="#fb9d84" stroke="#fb9d84"/>
<circle cx="1164.81" cy="150.29" r="4.1" fill="#fb9d84" stroke="#fb9d84"/>
<circle cx="1166.31" cy="144.8" r="4.1" fill="#fb9d84" stroke="#fb9d84"/>
<circle cx="1166.74" cy="143.92" r="4.1" fill="#fb9d84" stroke="#fb9d84"/>
<circle cx="1166.39" cy="149.14" r="4.1" fill="#fb9d84" stroke="#fb9d84"/>
<circle cx="1171.73" cy="151.29" r="4.1" fill="#fb9d84" stroke="#fb9d84"/>
<circle cx="1178.88" cy="152.23" r="4.1" fill="#fb9d84" stroke="#fb9d84"/>
<circle cx="1180.62" cy="141.5" r="4.1" fill="#fb9d84" stroke="#fb9d84"/>
<circle cx="1182.74" cy="143.63" r="4.1" fill="#fb9d84" stroke="#fb9d84"/>
<circle cx="1184.78" cy="139.26" r="4.1" fill="#fb9d84" stroke="#fb9d84"/>
<circle cx="1185.67" cy="133.96" r="4.1" fill="#fb9d84" stroke="#fb9d84"/>
<circle cx="1187.22" cy="126.82" r="4.1" fill="#fb9d84" stroke="#fb9d84"/>
<circle cx="1187.99" cy="123.37" r="4.1" fill="#fb9d84" stroke="#fb9d84"/>
<circle cx="1189.34" cy="127.98" r="4.1" fill="#fb9d84" stroke="#fb9d84"/>
<circle cx="1204.89" cy="131.18" r="4.1" fill="#fb9d84" stroke="#fb9d84"/>
<circle cx="1184.78" cy="136.51" r="4.1" fill="#fec89c" stroke="#fec89c"/>
<circle cx="1186.79" cy="134.97" r="4.1" fill="#fec89c" stroke="#fec89c"/>
<circle cx="1189.66" cy="142.53" r="4.1" fill="#fec89c" stroke="#fec89c"/>
<circle cx="1190.17" cy="141.54" r="4.1" fill="#fec89c" stroke="#fec89c"/>
<circle cx="1191.81" cy="132.77" r="4.1" fill="#fec89c" stroke="#fec89c"/>
<circle cx="1193.23" cy="135.52" r="4.1" fill="#fec89c" stroke="#fec89c"/>
<circle cx="1191.91" cy="120.38" r="4.1" fill="#fec89c" stroke="#fec89c"/>
<circle cx="1200.8" cy="121.78" r="4.1" fill="#fec89c" stroke="#fec89c"/>
<circle cx="1210.62" cy="125.19" r="4.1" fill="#fec89c" stroke="#fec89c"/>
<circle cx="1211.16" cy="128.03" r="4.1" fill="#fec89c" stroke="#fec89c"/>
<circle cx="1220.7" cy="139.93" r="4.1" fill="#fec89c" stroke="#fec89c"/>
<circle cx="1222.97" cy="125.87" r="4.1" fill="#fec89c" stroke="#fec89c"/>
<circle cx="1224.13" cy="126.68" r="4.1" fill="#fec89c" stroke="#fec89c"/>
<circle cx="1232.31" cy="121.34" r="4.1" fill="#fec89c" stroke="#fec89c"/>
<circle cx="1234.27" cy="122.85" r="4.1" fill="#fec89c" stroke="#fec89c"/>
<circle cx="1237" cy="121.81" r="4.1" fill="#fec89c" stroke="#fec89c"/>
<circle cx="1238.21" cy="122.7" r="4.1" fill="#fec89c" stroke="#fec89c"/>
<circle cx="1252.56" cy="116.66" r="4.1" fill="#fec89c" stroke="#fec89c"/>
<circle cx="1253.2" cy="124.06" r="4.1" fill="#fec89c" stroke="#fec89c"/>
<circle cx="1254.71" cy="117.98" r="4.1" fill="#fec89c" stroke="#fec89c"/>
<circle cx="1255.11" cy="116.19" r="4.1" fill="#fec89c" stroke="#fec89c"/>
<circle cx="1262.68" cy="105.49" r="4.1" fill="#fec89c" stroke="#fec89c"/>
<circle cx="1273.33" cy="94.1" r="4.1" fill="#fec89c" stroke="#fec89c"/>
<circle cx="1277.13" cy="95.35" r="4.1" fill="#fec89c" stroke="#fec89c"/>
<circle cx="1279.42" cy="88.46" r="4.1" fill="#fec89c" stroke="#fec89c"/>
<circle cx="1282.12" cy="82.62" r="4.1" fill="#fec89c" stroke="#fec89c"/>
<circle cx="1304.22" cy="75.12" r="4.1" fill="#fec89c" stroke="#fec89c"/>
<circle cx="1307.59" cy="65.51" r="4.1" fill="#fec89c" stroke="#fec89c"/>
<circle cx="1311.54" cy="64.27" r="4.1" fill="#fec89c" stroke="#fec89c"/>
<circle cx="1312.32" cy="68.29" r="4.1" fill="#fec89c" stroke="#fec89c"/>
<circle cx="1314.2" cy="68.06" r="4.1" fill="#fec89c" stroke="#fec89c"/>
<circle cx="1314.91" cy="64.27" r="4.1" fill="#fec89c" stroke="#fec89c"/>
<circle cx="1323.72" cy="63.54" r="4.1" fill="#fec89c" stroke="#fec89c"/>
<circle cx="1324.92" cy="60.99" r="4.1" fill="#fec89c" stroke="#fec89c"/>
<circle cx="1330.89" cy="57.49" r="4.1" fill="#fec89c" stroke="#fec89c"/>
<circle cx="1337.68" cy="49.64" r="4.1" fill="#fec89c" stroke="#fec89c"/>
<circle cx="1348.38" cy="46.95" r="4.1" fill="#fec89c" stroke="#fec89c"/>
<circle cx="1350.61" cy="46.31" r="4.1" fill="#fec89c" stroke="#fec89c"/>
<circle cx="1353.21" cy="42.31" r="4.1" fill="#fec89c" stroke="#fec89c"/>
<circle cx="1354.99" cy="50.25" r="4.1" fill="#fec89c" stroke="#fec89c"/>
<circle cx="1357.81" cy="50.16" r="4.1" fill="#fec89c" stroke="#fec89c"/>
<circle cx="1380.97" cy="44.52" r="4.1" fill="#fec89c" stroke="#fec89c"/>
<circle cx="1383.74" cy="39.84" r="4.1" fill="#fec89c" stroke="#fec89c"/>
<circle cx="1389.33" cy="37.07" r="4.1" fill="#fec89c" stroke="#fec89c"/>
<circle cx="1389.04" cy="32.27" r="4.1" fill="#fec89c" stroke="#fec89c"/>
<circle cx="1399.23" cy="31.68" r="4.1" fill="#fec89c" stroke="#fec89c"/>
<circle cx="1401.86" cy="30.07" r="4.1" fill="#fec89c" stroke="#fec89c"/>
<circle cx="1402.54" cy="29.27" r="4.1" fill="#fec89c" stroke="#fec89c"/>
<circle cx="1407.21" cy="27.87" r="4.1" fill="#fec89c" stroke="#fec89c"/>
</g>
<g clip-path="url(#cc)">
<polyline points="631,416.5 633.02,406.49 635.05,402.31 637.07,399.08 639.1,396.33 641.12,393.9 643.15,391.68 645.17,389.63 647.19,387.71 649.22,385.89 651.24,384.16 653.27,382.5 655.29,380.91 657.31,379.37 659.34,377.87 661.36,376.43 663.39,375.02 665.41,373.64 667.44,372.3 669.46,370.98 671.48,369.69 673.51,368.43 675.53,367.18 677.56,365.96 679.58,364.76 681.61,363.57 683.63,362.4 685.65,361.24 687.68,360.1 689.7,358.98 691.73,357.86 693.75,356.76 695.78,355.67 697.8,354.59 699.82,353.52 701.85,352.46 703.87,351.4 705.9,350.36 707.92,349.32 709.94,348.3 711.97,347.28 713.99,346.26 716.02,345.26 718.04,344.26 720.07,343.26 722.09,342.28 724.11,341.29 726.14,340.32 728.16,339.34 730.19,338.38 732.21,337.41 734.24,336.46 736.26,335.5 738.28,334.55 740.31,333.61 742.33,332.67 744.36,331.73 746.38,330.79 748.4,329.86 750.43,328.94 752.45,328.01 754.48,327.09 756.5,326.17 758.53,325.26 760.55,324.34 762.57,323.43 764.6,322.53 766.62,321.62 768.65,320.72 770.67,319.82 772.7,318.92 774.72,318.02 776.74,317.13 778.77,316.24 780.79,315.35 782.82,314.46 784.84,313.57 786.86,312.69 788.89,311.8 790.91,310.92 792.94,310.04 794.96,309.16 796.99,308.29 799.01,307.41 801.03,306.54 803.06,305.66 805.08,304.79 807.11,303.92 809.13,303.05 811.16,302.18 813.18,301.31 815.2,300.45 817.23,299.58 819.25,298.72 821.28,297.85 823.3,296.99 825.33,296.13 827.35,295.27 829.37,294.41 831.4,293.55 833.42,292.69 835.45,291.83 837.47,290.98 839.49,290.12 841.52,289.26 843.54,288.41 845.57,287.55 847.59,286.7 849.62,285.84 851.64,284.99 853.66,284.14 855.69,283.29 857.71,282.43 859.74,281.58 861.76,280.73 863.79,279.88 865.81,279.03 867.83,278.18 869.86,277.33 871.88,276.48 873.91,275.63 875.93,274.78 877.95,273.93 879.98,273.08 882,272.24 884.03,271.39 886.05,270.54 888.08,269.69 890.1,268.84 892.12,268 894.15,267.15 896.17,266.3 898.2,265.46 900.22,264.61 902.25,263.76 904.27,262.91 906.29,262.07 908.32,261.22 910.34,260.37 912.37,259.53 914.39,258.68 916.42,257.83 918.44,256.99 920.46,256.14 922.49,255.29 924.51,254.45 926.54,253.6 928.56,252.75 930.58,251.91 932.61,251.06 934.63,250.21 936.66,249.36 938.68,248.52 940.71,247.67 942.73,246.82 944.75,245.97 946.78,245.12 948.8,244.28 950.83,243.43 952.85,242.58 954.88,241.73 956.9,240.88 958.92,240.03 960.95,239.18 962.97,238.33 965,237.48 967.02,236.63 969.04,235.78 971.07,234.93 973.09,234.08 975.12,233.23 977.14,232.38 979.17,231.53 981.19,230.68 983.21,229.83 985.24,228.97 987.26,228.12 989.29,227.27 991.31,226.41 993.34,225.56 995.36,224.71 997.38,223.85 999.41,223 1001.43,222.14 1003.46,221.29 1005.48,220.43 1007.51,219.58 1009.53,218.72 1011.55,217.87 1013.58,217.01 1015.6,216.15 1017.63,215.3 1019.65,214.44 1021.67,213.58 1023.7,212.72 1025.72,211.86 1027.75,211 1029.77,210.15 1031.8,209.29 1033.82,208.43 1035.84,207.56 1037.87,206.7 1039.89,205.84 1041.92,204.98 1043.94,204.12 1045.97,203.26 1047.99,202.39 1050.01,201.53 1052.04,200.67 1054.06,199.8 1056.09,198.94 1058.11,198.07 1060.13,197.21 1062.16,196.34 1064.18,195.47 1066.21,194.61 1068.23,193.74 1070.26,192.87 1072.28,192.01 1074.3,191.14 1076.33,190.27 1078.35,189.4 1080.38,188.53 1082.4,187.66 1084.43,186.79 1086.45,185.92 1088.47,185.05 1090.5,184.17 1092.52,183.3 1094.55,182.43 1096.57,181.55 1098.59,180.68 1100.62,179.81 1102.64,178.93 1104.67,178.06 1106.69,177.18 1108.72,176.3 1110.74,175.43 1112.76,174.55 1114.79,173.67 1116.81,172.79 1118.84,171.92 1120.86,171.04 1122.89,170.16 1124.91,169.28 1126.93,168.4 1128.96,167.51 1130.98,166.63 1133.01,165.75 1135.03,164.87 1137.06,163.99 1139.08,163.1 1141.1,162.22 1143.13,161.33 1145.15,160.45 1147.18,159.56 1149.2,158.68 1151.22,157.79 1153.25,156.9 1155.27,156.01 1157.3,155.13 1159.32,154.24 1161.35,153.35 1163.37,152.46 1165.39,151.57 1167.42,150.68 1169.44,149.79 1171.47,148.89 1173.49,148 1175.52,147.11 1177.54,146.21 1179.56,145.32 1181.59,144.43 1183.61,143.53 1185.64,142.64 1187.66,141.74 1189.68,140.84 1191.71,139.95 1193.73,139.05 1195.76,138.15 1197.78,137.25 1199.81,136.35 1201.83,135.45 1203.85,134.55 1205.88,133.65 1207.9,132.75 1209.93,131.85 1211.95,130.94 1213.98,130.04 1216,129.14 1218.02,128.23 1220.05,127.33 1222.07,126.42 1224.1,125.52 1226.12,124.61 1228.15,123.7 1230.17,122.8 1232.19,121.89 1234.22,120.98 1236.24,120.07 1238.27,119.16 1240.29,118.25 1242.31,117.34 1244.34,116.43 1246.36,115.52 1248.39,114.6 1250.41,113.69 1252.44,112.78 1254.46,111.86 1256.48,110.95 1258.51,110.03 1260.53,109.12 1262.56,108.2 1264.58,107.28 1266.61,106.36 1268.63,105.45 1270.65,104.53 1272.68,103.61 1274.7,102.69 1276.73,101.77 1278.75,100.85 1280.77,99.93 1282.8,99 1284.82,98.08 1286.85,97.16 1288.87,96.23 1290.9,95.31 1292.92,94.38 1294.94,93.46 1296.97,92.53 1298.99,91.61 1301.02,90.68 1303.04,89.75 1305.07,88.82 1307.09,87.89 1309.11,86.96 1311.14,86.03 1313.16,85.1 1315.19,84.17 1317.21,83.24 1319.23,82.31 1321.26,81.37 1323.28,80.44 1325.31,79.51 1327.33,78.57 1329.36,77.64 1331.38,76.7 1333.4,75.76 1335.43,74.83 1337.45,73.89 1339.48,72.95 1341.5,72.01 1343.53,71.07 1345.55,70.13 1347.57,69.19 1349.6,68.25 1351.62,67.31 1353.65,66.37 1355.67,65.43 1357.7,64.48 1359.72,63.54 1361.74,62.59 1363.77,61.65 1365.79,60.7 1367.82,59.76 1369.84,58.81 1371.86,57.86 1373.89,56.91 1375.91,55.97 1377.94,55.02 1379.96,54.07 1381.99,53.12 1384.01,52.16 1386.03,51.21 1388.06,50.26 1390.08,49.31 1392.11,48.36 1394.13,47.4 1396.16,46.45 1398.18,45.49 1400.2,44.54 1402.23,43.58 1404.25,42.62 1406.28,41.67 1408.3,40.71 1410.32,39.75 1412.35,38.79 1414.37,37.83 1416.4,36.87 1418.42,35.91 1420.45,34.95 1422.47,33.99 1424.49,33.02 1426.52,32.06 1428.54,31.1 1430.57,30.13 1432.59,29.17 1434.62,28.2 1436.64,27.24 1438.66,26.27" fill="none" stroke="#000" stroke-width="2.5" stroke-linejoin="round" stroke-linecap="butt" />
</g>
<g stroke="#000" stroke-width="2.5">
<line x1="631" y1="435.2" x2="631" y2="427.2" stroke="#000" stroke-width="2.5" />
<line x1="631" y1="6.8" x2="631" y2="14.8" stroke="#000" stroke-width="2.5" />
<line x1="786.32" y1="435.2" x2="786.32" y2="427.2" stroke="#000" stroke-width="2.5" />
<line x1="786.32" y1="6.8" x2="786.32" y2="14.8" stroke="#000" stroke-width="2.5" />
<line x1="941.64" y1="435.2" x2="941.64" y2="427.2" stroke="#000" stroke-width="2.5" />
<line x1="941.64" y1="6.8" x2="941.64" y2="14.8" stroke="#000" stroke-width="2.5" />
<line x1="1096.96" y1="435.2" x2="1096.96" y2="427.2" stroke="#000" stroke-width="2.5" />
<line x1="1096.96" y1="6.8" x2="1096.96" y2="14.8" stroke="#000" stroke-width="2.5" />
<line x1="1252.28" y1="435.2" x2="1252.28" y2="427.2" stroke="#000" stroke-width="2.5" />
<line x1="1252.28" y1="6.8" x2="1252.28" y2="14.8" stroke="#000" stroke-width="2.5" />
<line x1="1407.6" y1="435.2" x2="1407.6" y2="427.2" stroke="#000" stroke-width="2.5" />
<line x1="1407.6" y1="6.8" x2="1407.6" y2="14.8" stroke="#000" stroke-width="2.5" />
<line x1="590.7" y1="416.5" x2="598.7" y2="416.5" stroke="#000" stroke-width="2.5" />
<line x1="1478.6" y1="416.5" x2="1470.6" y2="416.5" stroke="#000" stroke-width="2.5" />
<line x1="590.7" y1="272.45" x2="598.7" y2="272.45" stroke="#000" stroke-width="2.5" />
<line x1="1478.6" y1="272.45" x2="1470.6" y2="272.45" stroke="#000" stroke-width="2.5" />
<line x1="590.7" y1="128.4" x2="598.7" y2="128.4" stroke="#000" stroke-width="2.5" />
<line x1="1478.6" y1="128.4" x2="1470.6" y2="128.4" stroke="#000" stroke-width="2.5" />
</g>
<rect x="590.7" y="6.8" width="887.9" height="428.4" fill="none" stroke="#000" stroke-width="3.0"/>
<text x="576.3" y="429.7" font-size="34.5" text-anchor="end" >0</text>
<text x="576.3" y="285.65" font-size="34.5" text-anchor="end" >1</text>
<text x="576.3" y="141.6" font-size="34.5" text-anchor="end" >2</text>
<g transform="translate(527.4,220.2) rotate(-90)">
<text x="0" y="0" font-size="34.5" text-anchor="middle" ><tspan font-style="italic">g</tspan><tspan font-size="40" dx="-1" dy="2">′</tspan><tspan font-style="italic" font-size="24.5" dx="-9.5" dy="7">ω</tspan><tspan dx="0" dy="-9">/2</tspan><tspan font-style="italic">π</tspan> [MHz]</text>
</g>
<text x="481" y="25.5" font-size="36" text-anchor="start" font-weight="bold">c</text>
<text x="1034" y="315.5" font-size="35" text-anchor="start" font-style="italic">g</text>
<text x="1054" y="320.2" font-size="25" text-anchor="start" >0</text>
<text x="1066.5" y="320.2" font-size="25" text-anchor="start" font-style="italic">ω</text>
<text transform="translate(1088.3,320.5) scale(1.112,1)" font-size="44.37" x="-1.1" y="0">√</text>
<line x1="1113.1" y1="286.55" x2="1155.4" y2="286.55" stroke="#000" stroke-width="2.3" />
<text x="1118.5" y="315.9" font-size="35" text-anchor="start" font-style="italic">n</text>
<text x="1138.5" y="321.3" font-size="24.5" text-anchor="start" >c</text>
<text x="1291.5" y="177.6" font-size="35" text-anchor="start" font-style="italic">g</text>
<text x="1311.3" y="183.5" font-size="25" text-anchor="start" >0</text>
<text x="1325" y="183.5" font-size="26" text-anchor="start" font-style="italic">ϰ</text>
<text transform="translate(1346.6,185.38) scale(0.661,1)" font-size="60.79" x="-1.51" y="0">√</text>
<line x1="1366.6" y1="138.45" x2="1413.2" y2="138.45" stroke="#000" stroke-width="2.3" />
<text x="1372.8" y="177.6" font-size="35" text-anchor="start" font-style="italic">n</text>
<text x="1393.5" y="164.2" font-size="21" text-anchor="start" >3</text>
<text x="1393.5" y="186" font-size="24.5" text-anchor="start" >c</text>
<line x1="1438.3" y1="206.6" x2="1438.3" y2="55" stroke="#000" stroke-width="4.4" />
<path d="M1438.3,38.4 L1447.6,56.9 L1429,56.9 Z" fill="#000" stroke="#000" stroke-width="1.2" stroke-linejoin="round"/>
<g stroke="#bdbdbd" stroke-width="2">
<line x1="631" y1="478.6" x2="631" y2="907.3" stroke="#bdbdbd" stroke-width="2" />
<line x1="786.32" y1="478.6" x2="786.32" y2="907.3" stroke="#bdbdbd" stroke-width="2" />
<line x1="941.64" y1="478.6" x2="941.64" y2="907.3" stroke="#bdbdbd" stroke-width="2" />
<line x1="1096.96" y1="478.6" x2="1096.96" y2="907.3" stroke="#bdbdbd" stroke-width="2" />
<line x1="1252.28" y1="478.6" x2="1252.28" y2="907.3" stroke="#bdbdbd" stroke-width="2" />
<line x1="1407.6" y1="478.6" x2="1407.6" y2="907.3" stroke="#bdbdbd" stroke-width="2" />
<line x1="590.7" y1="498.2" x2="1478.6" y2="498.2" stroke="#bdbdbd" stroke-width="2" />
<line x1="590.7" y1="589.72" x2="1478.6" y2="589.72" stroke="#bdbdbd" stroke-width="2" />
<line x1="590.7" y1="681.24" x2="1478.6" y2="681.24" stroke="#bdbdbd" stroke-width="2" />
<line x1="590.7" y1="772.76" x2="1478.6" y2="772.76" stroke="#bdbdbd" stroke-width="2" />
<line x1="590.7" y1="864.28" x2="1478.6" y2="864.28" stroke="#bdbdbd" stroke-width="2" />
</g>
<g clip-path="url(#cd)">
<polyline points="631,498.2 633.02,503.91 635.05,506.28 637.07,508.09 639.1,509.62 641.12,510.97 643.15,512.19 645.17,513.31 647.19,514.35 649.22,515.33 651.24,516.26 653.27,517.14 655.29,517.98 657.31,518.79 659.34,519.57 661.36,520.32 663.39,521.04 665.41,521.75 667.44,522.43 669.46,523.09 671.48,523.74 673.51,524.37 675.53,524.99 677.56,525.59 679.58,526.18 681.61,526.76 683.63,527.32 685.65,527.88 687.68,528.42 689.7,528.96 691.73,529.48 693.75,530 695.78,530.51 697.8,531.01 699.82,531.5 701.85,531.99 703.87,532.47 705.9,532.94 707.92,533.41 709.94,533.87 711.97,534.32 713.99,534.77 716.02,535.21 718.04,535.65 720.07,536.08 722.09,536.51 724.11,536.93 726.14,537.35 728.16,537.77 730.19,538.18 732.21,538.58 734.24,538.99 736.26,539.38 738.28,539.78 740.31,540.17 742.33,540.55 744.36,540.94 746.38,541.32 748.4,541.69 750.43,542.07 752.45,542.44 754.48,542.81 756.5,543.17 758.53,543.53 760.55,543.89 762.57,544.24 764.6,544.6 766.62,544.95 768.65,545.3 770.67,545.64 772.7,545.98 774.72,546.32 776.74,546.66 778.77,547 780.79,547.33 782.82,547.66 784.84,547.99 786.86,548.31 788.89,548.64 790.91,548.96 792.94,549.28 794.96,549.6 796.99,549.92 799.01,550.23 801.03,550.54 803.06,550.85 805.08,551.16 807.11,551.47 809.13,551.78 811.16,552.08 813.18,552.38 815.2,552.68 817.23,552.98 819.25,553.28 821.28,553.57 823.3,553.87 825.33,554.16 827.35,554.45 829.37,554.74 831.4,555.02 833.42,555.31 835.45,555.6 837.47,555.88 839.49,556.16 841.52,556.44 843.54,556.72 845.57,557 847.59,557.28 849.62,557.55 851.64,557.83 853.66,558.1 855.69,558.37 857.71,558.64 859.74,558.91 861.76,559.18 863.79,559.45 865.81,559.71 867.83,559.98 869.86,560.24 871.88,560.5 873.91,560.76 875.93,561.02 877.95,561.28 879.98,561.54 882,561.8 884.03,562.05 886.05,562.31 888.08,562.56 890.1,562.81 892.12,563.07 894.15,563.32 896.17,563.57 898.2,563.82 900.22,564.06 902.25,564.31 904.27,564.56 906.29,564.8 908.32,565.05 910.34,565.29 912.37,565.53 914.39,565.77 916.42,566.02 918.44,566.26 920.46,566.5 922.49,566.73 924.51,566.97 926.54,567.21 928.56,567.44 930.58,567.68 932.61,567.91 934.63,568.15 936.66,568.38 938.68,568.61 940.71,568.84 942.73,569.07 944.75,569.3 946.78,569.53 948.8,569.76 950.83,569.99 952.85,570.21 954.88,570.44 956.9,570.67 958.92,570.89 960.95,571.11 962.97,571.34 965,571.56 967.02,571.78 969.04,572 971.07,572.22 973.09,572.44 975.12,572.66 977.14,572.88 979.17,573.1 981.19,573.32 983.21,573.53 985.24,573.75 987.26,573.97 989.29,574.18 991.31,574.4 993.34,574.61 995.36,574.82 997.38,575.04 999.41,575.25 1001.43,575.46 1003.46,575.67 1005.48,575.88 1007.51,576.09 1009.53,576.3 1011.55,576.51 1013.58,576.72 1015.6,576.92 1017.63,577.13 1019.65,577.34 1021.67,577.54 1023.7,577.75 1025.72,577.95 1027.75,578.16 1029.77,578.36 1031.8,578.56 1033.82,578.77 1035.84,578.97 1037.87,579.17 1039.89,579.37 1041.92,579.57 1043.94,579.77 1045.97,579.97 1047.99,580.17 1050.01,580.37 1052.04,580.57 1054.06,580.76 1056.09,580.96 1058.11,581.16 1060.13,581.36 1062.16,581.55 1064.18,581.75 1066.21,581.94 1068.23,582.14 1070.26,582.33 1072.28,582.52 1074.3,582.72 1076.33,582.91 1078.35,583.1 1080.38,583.29 1082.4,583.49 1084.43,583.68 1086.45,583.87 1088.47,584.06 1090.5,584.25 1092.52,584.44 1094.55,584.63 1096.57,584.81 1098.59,585 1100.62,585.19 1102.64,585.38 1104.67,585.56 1106.69,585.75 1108.72,585.94 1110.74,586.12 1112.76,586.31 1114.79,586.49 1116.81,586.68 1118.84,586.86 1120.86,587.04 1122.89,587.23 1124.91,587.41 1126.93,587.59 1128.96,587.78 1130.98,587.96 1133.01,588.14 1135.03,588.32 1137.06,588.5 1139.08,588.68 1141.1,588.86 1143.13,589.04 1145.15,589.22 1147.18,589.4 1149.2,589.58 1151.22,589.76 1153.25,589.93 1155.27,590.11 1157.3,590.29 1159.32,590.47 1161.35,590.64 1163.37,590.82 1165.39,590.99 1167.42,591.17 1169.44,591.35 1171.47,591.52 1173.49,591.7 1175.52,591.87 1177.54,592.04 1179.56,592.22 1181.59,592.39 1183.61,592.56 1185.64,592.74 1187.66,592.91 1189.68,593.08 1191.71,593.25 1193.73,593.42 1195.76,593.59 1197.78,593.77 1199.81,593.94 1201.83,594.11 1203.85,594.28 1205.88,594.45 1207.9,594.61 1209.93,594.78 1211.95,594.95 1213.98,595.12 1216,595.29 1218.02,595.46 1220.05,595.62 1222.07,595.79 1224.1,595.96 1226.12,596.13 1228.15,596.29 1230.17,596.46 1232.19,596.62 1234.22,596.79 1236.24,596.95 1238.27,597.12 1240.29,597.28 1242.31,597.45 1244.34,597.61 1246.36,597.78 1248.39,597.94 1250.41,598.1 1252.44,598.27 1254.46,598.43 1256.48,598.59 1258.51,598.75 1260.53,598.92 1262.56,599.08 1264.58,599.24 1266.61,599.4 1268.63,599.56 1270.65,599.72 1272.68,599.88 1274.7,600.04 1276.73,600.2 1278.75,600.36 1280.77,600.52 1282.8,600.68 1284.82,600.84 1286.85,601 1288.87,601.16 1290.9,601.32 1292.92,601.48 1294.94,601.63 1296.97,601.79 1298.99,601.95 1301.02,602.1 1303.04,602.26 1305.07,602.42 1307.09,602.57 1309.11,602.73 1311.14,602.89 1313.16,603.04 1315.19,603.2 1317.21,603.35 1319.23,603.51 1321.26,603.66 1323.28,603.82 1325.31,603.97 1327.33,604.13 1329.36,604.28 1331.38,604.43 1333.4,604.59 1335.43,604.74 1337.45,604.89 1339.48,605.05 1341.5,605.2 1343.53,605.35 1345.55,605.5 1347.57,605.65 1349.6,605.81 1351.62,605.96 1353.65,606.11 1355.67,606.26 1357.7,606.41 1359.72,606.56 1361.74,606.71 1363.77,606.86 1365.79,607.01 1367.82,607.16 1369.84,607.31 1371.86,607.46 1373.89,607.61 1375.91,607.76 1377.94,607.91 1379.96,608.06 1381.99,608.2 1384.01,608.35 1386.03,608.5 1388.06,608.65 1390.08,608.8 1392.11,608.94 1394.13,609.09 1396.16,609.24 1398.18,609.38 1400.2,609.53 1402.23,609.68 1404.25,609.82 1406.28,609.97 1408.3,610.11 1410.32,610.26 1412.35,610.41 1414.37,610.55 1416.4,610.7 1418.42,610.84 1420.45,610.99 1422.47,611.13 1424.49,611.27 1426.52,611.42 1428.54,611.56 1430.57,611.71 1432.59,611.85 1434.62,611.99 1436.64,612.14 1438.66,612.28" fill="none" stroke="#000" stroke-width="2.3" stroke-linejoin="round" stroke-linecap="butt" stroke-dasharray="7.5 3.1"/>
<polyline points="631,498.2 633.02,503.93 635.05,506.32 637.07,508.18 639.1,509.76 641.12,511.16 643.15,512.44 645.17,513.62 647.19,514.73 649.22,515.79 651.24,516.79 653.27,517.75 655.29,518.68 657.31,519.58 659.34,520.45 661.36,521.29 663.39,522.12 665.41,522.92 667.44,523.71 669.46,524.48 671.48,525.24 673.51,525.99 675.53,526.72 677.56,527.44 679.58,528.15 681.61,528.85 683.63,529.55 685.65,530.23 687.68,530.91 689.7,531.58 691.73,532.24 693.75,532.89 695.78,533.54 697.8,534.19 699.82,534.83 701.85,535.46 703.87,536.09 705.9,536.72 707.92,537.34 709.94,537.95 711.97,538.56 713.99,539.17 716.02,539.78 718.04,540.38 720.07,540.98 722.09,541.58 724.11,542.17 726.14,542.76 728.16,543.35 730.19,543.93 732.21,544.52 734.24,545.1 736.26,545.67 738.28,546.25 740.31,546.83 742.33,547.4 744.36,547.97 746.38,548.54 748.4,549.11 750.43,549.67 752.45,550.24 754.48,550.8 756.5,551.36 758.53,551.92 760.55,552.48 762.57,553.04 764.6,553.59 766.62,554.15 768.65,554.7 770.67,555.26 772.7,555.81 774.72,556.36 776.74,556.91 778.77,557.46 780.79,558.01 782.82,558.56 784.84,559.1 786.86,559.65 788.89,560.2 790.91,560.74 792.94,561.29 794.96,561.83 796.99,562.37 799.01,562.92 801.03,563.46 803.06,564 805.08,564.54 807.11,565.08 809.13,565.62 811.16,566.16 813.18,566.7 815.2,567.24 817.23,567.78 819.25,568.32 821.28,568.86 823.3,569.4 825.33,569.94 827.35,570.48 829.37,571.01 831.4,571.55 833.42,572.09 835.45,572.63 837.47,573.16 839.49,573.7 841.52,574.24 843.54,574.77 845.57,575.31 847.59,575.85 849.62,576.38 851.64,576.92 853.66,577.45 855.69,577.99 857.71,578.53 859.74,579.06 861.76,579.6 863.79,580.13 865.81,580.67 867.83,581.21 869.86,581.74 871.88,582.28 873.91,582.82 875.93,583.35 877.95,583.89 879.98,584.43 882,584.96 884.03,585.5 886.05,586.04 888.08,586.57 890.1,587.11 892.12,587.65 894.15,588.18 896.17,588.72 898.2,589.26 900.22,589.8 902.25,590.33 904.27,590.87 906.29,591.41 908.32,591.95 910.34,592.49 912.37,593.03 914.39,593.57 916.42,594.1 918.44,594.64 920.46,595.18 922.49,595.72 924.51,596.26 926.54,596.8 928.56,597.34 930.58,597.89 932.61,598.43 934.63,598.97 936.66,599.51 938.68,600.05 940.71,600.59 942.73,601.14 944.75,601.68 946.78,602.22 948.8,602.76 950.83,603.31 952.85,603.85 954.88,604.39 956.9,604.94 958.92,605.48 960.95,606.03 962.97,606.57 965,607.12 967.02,607.66 969.04,608.21 971.07,608.76 973.09,609.3 975.12,609.85 977.14,610.4 979.17,610.94 981.19,611.49 983.21,612.04 985.24,612.59 987.26,613.14 989.29,613.69 991.31,614.24 993.34,614.79 995.36,615.34 997.38,615.89 999.41,616.44 1001.43,616.99 1003.46,617.54 1005.48,618.09 1007.51,618.65 1009.53,619.2 1011.55,619.75 1013.58,620.31 1015.6,620.86 1017.63,621.41 1019.65,621.97 1021.67,622.52 1023.7,623.08 1025.72,623.63 1027.75,624.19 1029.77,624.75 1031.8,625.3 1033.82,625.86 1035.84,626.42 1037.87,626.98 1039.89,627.54 1041.92,628.09 1043.94,628.65 1045.97,629.21 1047.99,629.77 1050.01,630.33 1052.04,630.89 1054.06,631.46 1056.09,632.02 1058.11,632.58 1060.13,633.14 1062.16,633.7 1064.18,634.27 1066.21,634.83 1068.23,635.39 1070.26,635.96 1072.28,636.52 1074.3,637.09 1076.33,637.65 1078.35,638.22 1080.38,638.79 1082.4,639.35 1084.43,639.92 1086.45,640.49 1088.47,641.06 1090.5,641.62 1092.52,642.19 1094.55,642.76 1096.57,643.33 1098.59,643.9 1100.62,644.47 1102.64,645.04 1104.67,645.62 1106.69,646.19 1108.72,646.76 1110.74,647.33 1112.76,647.91 1114.79,648.48 1116.81,649.05 1118.84,649.63 1120.86,650.2 1122.89,650.78 1124.91,651.35 1126.93,651.93 1128.96,652.51 1130.98,653.08 1133.01,653.66 1135.03,654.24 1137.06,654.82 1139.08,655.4 1141.1,655.97 1143.13,656.55 1145.15,657.13 1147.18,657.71 1149.2,658.3 1151.22,658.88 1153.25,659.46 1155.27,660.04 1157.3,660.62 1159.32,661.21 1161.35,661.79 1163.37,662.37 1165.39,662.96 1167.42,663.54 1169.44,664.13 1171.47,664.71 1173.49,665.3 1175.52,665.89 1177.54,666.47 1179.56,667.06 1181.59,667.65 1183.61,668.24 1185.64,668.83 1187.66,669.42 1189.68,670.01 1191.71,670.6 1193.73,671.19 1195.76,671.78 1197.78,672.37 1199.81,672.96 1201.83,673.55 1203.85,674.15 1205.88,674.74 1207.9,675.33 1209.93,675.93 1211.95,676.52 1213.98,677.12 1216,677.71 1218.02,678.31 1220.05,678.91 1222.07,679.5 1224.1,680.1 1226.12,680.7 1228.15,681.3 1230.17,681.89 1232.19,682.49 1234.22,683.09 1236.24,683.69 1238.27,684.29 1240.29,684.89 1242.31,685.5 1244.34,686.1 1246.36,686.7 1248.39,687.3 1250.41,687.91 1252.44,688.51 1254.46,689.11 1256.48,689.72 1258.51,690.32 1260.53,690.93 1262.56,691.54 1264.58,692.14 1266.61,692.75 1268.63,693.36 1270.65,693.96 1272.68,694.57 1274.7,695.18 1276.73,695.79 1278.75,696.4 1280.77,697.01 1282.8,697.62 1284.82,698.23 1286.85,698.84 1288.87,699.45 1290.9,700.07 1292.92,700.68 1294.94,701.29 1296.97,701.91 1298.99,702.52 1301.02,703.13 1303.04,703.75 1305.07,704.37 1307.09,704.98 1309.11,705.6 1311.14,706.21 1313.16,706.83 1315.19,707.45 1317.21,708.07 1319.23,708.69 1321.26,709.31 1323.28,709.92 1325.31,710.54 1327.33,711.17 1329.36,711.79 1331.38,712.41 1333.4,713.03 1335.43,713.65 1337.45,714.27 1339.48,714.9 1341.5,715.52 1343.53,716.15 1345.55,716.77 1347.57,717.4 1349.6,718.02 1351.62,718.65 1353.65,719.27 1355.67,719.9 1357.7,720.53 1359.72,721.15 1361.74,721.78 1363.77,722.41 1365.79,723.04 1367.82,723.67 1369.84,724.3 1371.86,724.93 1373.89,725.56 1375.91,726.19 1377.94,726.82 1379.96,727.46 1381.99,728.09 1384.01,728.72 1386.03,729.36 1388.06,729.99 1390.08,730.63 1392.11,731.26 1394.13,731.9 1396.16,732.53 1398.18,733.17 1400.2,733.8 1402.23,734.44 1404.25,735.08 1406.28,735.72 1408.3,736.36 1410.32,737 1412.35,737.64 1414.37,738.28 1416.4,738.92 1418.42,739.56 1420.45,740.2 1422.47,740.84 1424.49,741.48 1426.52,742.12 1428.54,742.77 1430.57,743.41 1432.59,744.06 1434.62,744.7 1436.64,745.34 1438.66,745.99" fill="none" stroke="#000" stroke-width="2.1" stroke-linejoin="round" stroke-linecap="butt" stroke-dasharray="2.2 3.2"/>
</g>
<rect x="646.9" y="679.2" width="256.4" height="213.9" rx="42" ry="42" fill="#fff" stroke="#bdbdbd" stroke-width="3.2"/>
<line x1="697" y1="841.9" x2="697" y2="712" stroke="#000" stroke-width="2.4" />
<path d="M697,702.2 L701.9,713.2 L692.1,713.2 Z" fill="#000" stroke="#000" stroke-width="1.2" stroke-linejoin="round"/>
<line x1="695.8" y1="840.7" x2="856" y2="840.7" stroke="#000" stroke-width="2.4" />
<path d="M865.4,840.7 L854.4,845.6 L854.4,835.8 Z" fill="#000" stroke="#000" stroke-width="1.2" stroke-linejoin="round"/>
<polyline points="721.6,741.8 723.88,746.55 726.16,751.13 728.44,755.55 730.73,759.8 733.01,763.89 735.29,767.82 737.57,771.58 739.85,775.18 742.13,778.62 744.41,781.89 746.69,785 748.98,787.94 751.26,790.73 753.54,793.34 755.82,795.8 758.1,798.09 760.38,800.22 762.66,802.18 764.95,803.98 767.23,805.62 769.51,807.09 771.79,808.4 774.07,809.54 776.35,810.53 778.63,811.34 780.92,812 783.2,812.49 785.48,812.82 787.76,812.98 790.04,812.98 792.32,812.82 794.6,812.49 796.88,812 799.17,811.34 801.45,810.53 803.73,809.54 806.01,808.4 808.29,807.09 810.57,805.62 812.85,803.98 815.14,802.18 817.42,800.22 819.7,798.09 821.98,795.8 824.26,793.34 826.54,790.73 828.82,787.94 831.11,785 833.39,781.89 835.67,778.62 837.95,775.18 840.23,771.58 842.51,767.82 844.79,763.89 847.07,759.8 849.36,755.55 851.64,751.13 853.92,746.55 856.2,741.8" fill="none" stroke="#888" stroke-width="3.6" stroke-linejoin="round" stroke-linecap="butt" />
<path d="M839,793 L837.85,793.33 L836.76,793.67 L835.77,794 L834.94,794.33 L834.3,794.67 L833.88,795 L833.71,795.33 L833.78,795.67 L834.1,796 L834.66,796.33 L835.42,796.67 L836.35,797 L837.41,797.33 L838.54,797.67 L839.69,798 L840.81,798.33 L841.85,798.67 L842.75,799 L843.47,799.33 L843.98,799.67 L844.25,800 L844.28,800.33 L844.05,800.67 L843.59,801 L842.91,801.33 L842.04,801.67 L841.03,802 L839.92,802.33 L838.77,802.67 L837.63,803 L836.55,803.33 L835.59,803.67 L834.8,804 L834.2,804.33 L833.83,804.67 L833.7,805 L833.83,805.33 L834.2,805.67 L834.8,806 L835.59,806.33 L836.55,806.67 L837.63,807 L838.77,807.33 L839.92,807.67 L841.03,808 L842.04,808.33 L842.91,808.67 L843.59,809 L844.05,809.33 L844.28,809.67 L844.25,810 L843.98,810.33 L843.47,810.67 L842.75,811 L841.85,811.33 L840.81,811.67 L839.69,812 L838.54,812.33 L837.41,812.67 L836.35,813 L835.42,813.33 L834.66,813.67 L834.1,814 L833.78,814.33 L833.71,814.67 L833.88,815 L834.3,815.33 L834.94,815.67 L835.77,816 L836.76,816.33 L837.85,816.67 L839,817 L840.15,817.33 L841.24,817.67 L842.23,818 L843.06,818.33 L843.7,818.67 L844.12,819 L844.29,819.33 L844.22,819.67 L843.9,820 L843.34,820.33 L842.58,820.67 L841.65,821 L840.59,821.33 L839.46,821.67 L838.31,822 L837.19,822.33 L836.15,822.67 L835.25,823 L834.53,823.33 L834.02,823.67 L833.75,824 L833.72,824.33 L833.95,824.67 L834.41,825 L835.09,825.33 L835.96,825.67 L836.97,826 L838.08,826.33 L839.23,826.67 L840.37,827 L841.45,827.33 L842.41,827.67 L843.2,828 L843.8,828.33 L844.17,828.67 L844.3,829 L844.17,829.33 L843.8,829.67 L843.2,830 L842.41,830.33 L841.45,830.67 L840.37,831" fill="none" stroke="#f99d6a" stroke-width="2.6" stroke-linecap="round" stroke-linejoin="round"/>
<path d="M780.8,780 L781.13,780.8 L781.47,781.55 L781.8,782.23 L782.13,782.8 L782.47,783.23 L782.8,783.5 L783.14,783.6 L783.47,783.52 L783.8,783.26 L784.14,782.85 L784.47,782.29 L784.8,781.62 L785.14,780.87 L785.47,780.07 L785.8,779.27 L786.14,778.51 L786.47,777.82 L786.8,777.24 L787.14,776.8 L787.47,776.51 L787.81,776.4 L788.14,776.47 L788.47,776.71 L788.81,777.11 L789.14,777.66 L789.47,778.32 L789.81,779.07 L790.14,779.86 L790.47,780.66 L790.81,781.42 L791.14,782.12 L791.47,782.71 L791.81,783.17 L792.14,783.47 L792.48,783.6 L792.81,783.55 L793.14,783.32 L793.48,782.93 L793.81,782.4 L794.14,781.74 L794.48,781 L794.81,780.21 L795.14,779.41 L795.48,778.64 L795.81,777.94 L796.15,777.34 L796.48,776.87 L796.81,776.55 L797.15,776.41 L797.48,776.44 L797.81,776.65 L798.15,777.03 L798.48,777.55 L798.81,778.19 L799.15,778.93 L799.48,779.71 L799.81,780.52 L800.15,781.29 L800.48,782 L800.82,782.61 L801.15,783.1 L801.48,783.43 L801.82,783.59 L802.15,783.57 L802.48,783.37 L802.82,783.01 L803.15,782.5 L803.48,781.87 L803.82,781.14 L804.15,780.36 L804.49,779.56 L804.82,778.78 L805.15,778.06 L805.49,777.44 L805.82,776.94 L806.15,776.6 L806.49,776.42 L806.82,776.42 L807.15,776.6 L807.49,776.95 L807.82,777.45 L808.15,778.07 L808.49,778.79 L808.82,779.57 L809.16,780.37 L809.49,781.16 L809.82,781.88 L810.16,782.51 L810.49,783.02 L810.82,783.38 L811.16,783.57 L811.49,783.58 L811.82,783.42 L812.16,783.09 L812.49,782.6 L812.83,781.99 L813.16,781.27 L813.49,780.5 L813.83,779.7 L814.16,778.91 L814.49,778.18 L814.83,777.54 L815.16,777.02 L815.49,776.65 L815.83,776.44 L816.16,776.41 L816.49,776.56 L816.83,776.88 L817.16,777.35 L817.5,777.95 L817.83,778.66 L818.16,779.43 L818.5,780.23 L818.83,781.02 L819.16,781.76 L819.5,782.41 L819.83,782.94 L820.16,783.33 L820.5,783.55 L820.83,783.59 L821.16,783.46 L821.5,783.16 L821.83,782.7 L822.17,782.11 L822.5,781.41 L822.83,780.64 L823.17,779.84 L823.5,779.05" fill="none" stroke="#000" stroke-width="2.2" stroke-linecap="round" stroke-linejoin="round"/>
<path d="M839,769.7 L841.59,775.93 L848.32,776.47 L843.19,780.86 L844.76,787.43 L839,783.91 L833.24,787.43 L834.81,780.86 L829.68,776.47 L836.41,775.93 Z" fill="#eaa07c" stroke="#000" stroke-width="2.2" stroke-linejoin="miter"/>
<text x="765.5" y="863.5" font-size="26.5" text-anchor="start" >Φ</text>
<text x="783.5" y="867.5" font-size="19.5" text-anchor="start" >b</text>
<text x="847.5" y="818" font-size="26.5" text-anchor="start" style="fill:#f99d6a">Φ</text>
<text x="866.5" y="822.5" font-size="19.5" text-anchor="start" style="fill:#f99d6a">zpf</text>
<text x="656" y="775.8" font-size="30" text-anchor="start" font-style="italic">κ</text>
<text x="672" y="779.5" font-size="20" text-anchor="start" font-style="italic">m</text>
<text x="780.5" y="768" font-size="25" text-anchor="start" font-style="italic">g</text>
<text x="794" y="771" font-size="18.5" text-anchor="start" >nl</text>
<text x="808.5" y="771" font-size="18.5" text-anchor="start" font-style="italic">m</text>
<g clip-path="url(#cd)" fill-opacity="0.66" stroke-opacity="0.66" stroke-width="1.9">
<circle cx="791.29" cy="556.27" r="3.9" fill="#5e4c87" stroke="#5e4c87"/>
<circle cx="791.07" cy="553.29" r="3.9" fill="#5e4c87" stroke="#5e4c87"/>
<circle cx="792.06" cy="559.89" r="3.9" fill="#5e4c87" stroke="#5e4c87"/>
<circle cx="791.98" cy="567.59" r="3.9" fill="#5e4c87" stroke="#5e4c87"/>
<circle cx="793.56" cy="565.08" r="3.9" fill="#5e4c87" stroke="#5e4c87"/>
<circle cx="794.09" cy="565.43" r="3.9" fill="#5e4c87" stroke="#5e4c87"/>
<circle cx="794.22" cy="573.25" r="3.9" fill="#5e4c87" stroke="#5e4c87"/>
<circle cx="796.36" cy="575.82" r="3.9" fill="#5e4c87" stroke="#5e4c87"/>
<circle cx="795.46" cy="564.55" r="3.9" fill="#5e4c87" stroke="#5e4c87"/>
<circle cx="795.48" cy="555.51" r="3.9" fill="#5e4c87" stroke="#5e4c87"/>
<circle cx="797.22" cy="561.75" r="3.9" fill="#5e4c87" stroke="#5e4c87"/>
<circle cx="798.4" cy="567.28" r="3.9" fill="#5e4c87" stroke="#5e4c87"/>
<circle cx="798.3" cy="553.45" r="3.9" fill="#5e4c87" stroke="#5e4c87"/>
<circle cx="798.16" cy="562.37" r="3.9" fill="#5e4c87" stroke="#5e4c87"/>
<circle cx="800.48" cy="568.84" r="3.9" fill="#5e4c87" stroke="#5e4c87"/>
<circle cx="800.66" cy="569.93" r="3.9" fill="#5e4c87" stroke="#5e4c87"/>
<circle cx="801.95" cy="546.78" r="3.9" fill="#5e4c87" stroke="#5e4c87"/>
<circle cx="802.9" cy="543.53" r="3.9" fill="#5e4c87" stroke="#5e4c87"/>
<circle cx="804.52" cy="538.6" r="3.9" fill="#5e4c87" stroke="#5e4c87"/>
<circle cx="806.4" cy="527.03" r="3.9" fill="#5e4c87" stroke="#5e4c87"/>
<circle cx="805.5" cy="544.3" r="3.9" fill="#5e4c87" stroke="#5e4c87"/>
<circle cx="805.18" cy="555.81" r="3.9" fill="#5e4c87" stroke="#5e4c87"/>
<circle cx="806.31" cy="552.47" r="3.9" fill="#5e4c87" stroke="#5e4c87"/>
<circle cx="808.05" cy="547.82" r="3.9" fill="#5e4c87" stroke="#5e4c87"/>
<circle cx="807.21" cy="553.29" r="3.9" fill="#5e4c87" stroke="#5e4c87"/>
<circle cx="806.71" cy="560.95" r="3.9" fill="#5e4c87" stroke="#5e4c87"/>
<circle cx="807.16" cy="558.76" r="3.9" fill="#5e4c87" stroke="#5e4c87"/>
<circle cx="808.04" cy="556.72" r="3.9" fill="#5e4c87" stroke="#5e4c87"/>
<circle cx="809.41" cy="551.41" r="3.9" fill="#5e4c87" stroke="#5e4c87"/>
<circle cx="809.02" cy="561.62" r="3.9" fill="#5e4c87" stroke="#5e4c87"/>
<circle cx="808.55" cy="553.66" r="3.9" fill="#5e4c87" stroke="#5e4c87"/>
<circle cx="808.46" cy="536.59" r="3.9" fill="#5e4c87" stroke="#5e4c87"/>
<circle cx="810.45" cy="553.13" r="3.9" fill="#5e4c87" stroke="#5e4c87"/>
<circle cx="810.6" cy="558.78" r="3.9" fill="#5e4c87" stroke="#5e4c87"/>
<circle cx="810.66" cy="559.84" r="3.9" fill="#5e4c87" stroke="#5e4c87"/>
<circle cx="812.17" cy="554.7" r="3.9" fill="#5e4c87" stroke="#5e4c87"/>
<circle cx="812.04" cy="552.18" r="3.9" fill="#5e4c87" stroke="#5e4c87"/>
<circle cx="815.62" cy="545.22" r="3.9" fill="#5e4c87" stroke="#5e4c87"/>
<circle cx="813.46" cy="548.99" r="3.9" fill="#5e4c87" stroke="#5e4c87"/>
<circle cx="815.1" cy="563.22" r="3.9" fill="#5e4c87" stroke="#5e4c87"/>
<circle cx="814.48" cy="562.67" r="3.9" fill="#5e4c87" stroke="#5e4c87"/>
<circle cx="815.68" cy="575.45" r="3.9" fill="#5e4c87" stroke="#5e4c87"/>
<circle cx="815.2" cy="572.94" r="3.9" fill="#5e4c87" stroke="#5e4c87"/>
<circle cx="816.53" cy="571.42" r="3.9" fill="#5e4c87" stroke="#5e4c87"/>
<circle cx="817.75" cy="584.34" r="3.9" fill="#5e4c87" stroke="#5e4c87"/>
<circle cx="817.64" cy="582.95" r="3.9" fill="#5e4c87" stroke="#5e4c87"/>
<circle cx="818.12" cy="572.74" r="3.9" fill="#5e4c87" stroke="#5e4c87"/>
<circle cx="816.82" cy="569.23" r="3.9" fill="#5e4c87" stroke="#5e4c87"/>
<circle cx="819.45" cy="580.89" r="3.9" fill="#5e4c87" stroke="#5e4c87"/>
<circle cx="819.06" cy="582.07" r="3.9" fill="#5e4c87" stroke="#5e4c87"/>
<circle cx="819.74" cy="578.55" r="3.9" fill="#5e4c87" stroke="#5e4c87"/>
<circle cx="821.61" cy="568.37" r="3.9" fill="#5e4c87" stroke="#5e4c87"/>
<circle cx="821.94" cy="567.94" r="3.9" fill="#5e4c87" stroke="#5e4c87"/>
<circle cx="823.02" cy="568.11" r="3.9" fill="#5e4c87" stroke="#5e4c87"/>
<circle cx="820.5" cy="564.92" r="3.9" fill="#5e4c87" stroke="#5e4c87"/>
<circle cx="821.67" cy="570.98" r="3.9" fill="#5e4c87" stroke="#5e4c87"/>
<circle cx="823.11" cy="574.21" r="3.9" fill="#5e4c87" stroke="#5e4c87"/>
<circle cx="822.24" cy="568.81" r="3.9" fill="#5e4c87" stroke="#5e4c87"/>
<circle cx="822.99" cy="569.16" r="3.9" fill="#5e4c87" stroke="#5e4c87"/>
<circle cx="824.39" cy="577.37" r="3.9" fill="#5e4c87" stroke="#5e4c87"/>
<circle cx="820.87" cy="570.34" r="3.9" fill="#8651a2" stroke="#8651a2"/>
<circle cx="821.37" cy="570.77" r="3.9" fill="#8651a2" stroke="#8651a2"/>
<circle cx="823" cy="568.56" r="3.9" fill="#8651a2" stroke="#8651a2"/>
<circle cx="824.31" cy="577.85" r="3.9" fill="#8651a2" stroke="#8651a2"/>
<circle cx="823.57" cy="578.39" r="3.9" fill="#8651a2" stroke="#8651a2"/>
<circle cx="825.18" cy="563.2" r="3.9" fill="#8651a2" stroke="#8651a2"/>
<circle cx="829.78" cy="554.33" r="3.9" fill="#8651a2" stroke="#8651a2"/>
<circle cx="831.24" cy="567.73" r="3.9" fill="#8651a2" stroke="#8651a2"/>
<circle cx="831.9" cy="580.04" r="3.9" fill="#8651a2" stroke="#8651a2"/>
<circle cx="831.09" cy="581.11" r="3.9" fill="#8651a2" stroke="#8651a2"/>
<circle cx="832.81" cy="570.52" r="3.9" fill="#8651a2" stroke="#8651a2"/>
<circle cx="834.66" cy="582.6" r="3.9" fill="#8651a2" stroke="#8651a2"/>
<circle cx="833.49" cy="571.43" r="3.9" fill="#8651a2" stroke="#8651a2"/>
<circle cx="834.61" cy="574.46" r="3.9" fill="#8651a2" stroke="#8651a2"/>
<circle cx="835.63" cy="576.62" r="3.9" fill="#8651a2" stroke="#8651a2"/>
<circle cx="839.8" cy="575.16" r="3.9" fill="#8651a2" stroke="#8651a2"/>
<circle cx="840.64" cy="566.17" r="3.9" fill="#8651a2" stroke="#8651a2"/>
<circle cx="840.09" cy="567.7" r="3.9" fill="#8651a2" stroke="#8651a2"/>
<circle cx="841.72" cy="568.52" r="3.9" fill="#8651a2" stroke="#8651a2"/>
<circle cx="840.38" cy="571.14" r="3.9" fill="#8651a2" stroke="#8651a2"/>
<circle cx="843.39" cy="562.85" r="3.9" fill="#8651a2" stroke="#8651a2"/>
<circle cx="844.75" cy="565.52" r="3.9" fill="#8651a2" stroke="#8651a2"/>
<circle cx="846.29" cy="568.72" r="3.9" fill="#8651a2" stroke="#8651a2"/>
<circle cx="845.27" cy="567.97" r="3.9" fill="#8651a2" stroke="#8651a2"/>
<circle cx="847.62" cy="560.79" r="3.9" fill="#8651a2" stroke="#8651a2"/>
<circle cx="848.53" cy="578.39" r="3.9" fill="#8651a2" stroke="#8651a2"/>
<circle cx="848.8" cy="581.94" r="3.9" fill="#8651a2" stroke="#8651a2"/>
<circle cx="849.57" cy="581.82" r="3.9" fill="#8651a2" stroke="#8651a2"/>
<circle cx="851.76" cy="575.31" r="3.9" fill="#8651a2" stroke="#8651a2"/>
<circle cx="851.98" cy="577.72" r="3.9" fill="#8651a2" stroke="#8651a2"/>
<circle cx="852.46" cy="585.49" r="3.9" fill="#8651a2" stroke="#8651a2"/>
<circle cx="853.4" cy="586.93" r="3.9" fill="#8651a2" stroke="#8651a2"/>
<circle cx="854.53" cy="585.47" r="3.9" fill="#8651a2" stroke="#8651a2"/>
<circle cx="856.91" cy="585.32" r="3.9" fill="#8651a2" stroke="#8651a2"/>
<circle cx="855.88" cy="584.46" r="3.9" fill="#8651a2" stroke="#8651a2"/>
<circle cx="856.21" cy="589.83" r="3.9" fill="#8651a2" stroke="#8651a2"/>
<circle cx="859.1" cy="591.8" r="3.9" fill="#8651a2" stroke="#8651a2"/>
<circle cx="860.35" cy="582.78" r="3.9" fill="#8651a2" stroke="#8651a2"/>
<circle cx="861.52" cy="577.05" r="3.9" fill="#8651a2" stroke="#8651a2"/>
<circle cx="860" cy="576.51" r="3.9" fill="#8651a2" stroke="#8651a2"/>
<circle cx="862.3" cy="588.15" r="3.9" fill="#8651a2" stroke="#8651a2"/>
<circle cx="861.63" cy="590.78" r="3.9" fill="#8651a2" stroke="#8651a2"/>
<circle cx="863.14" cy="578.21" r="3.9" fill="#8651a2" stroke="#8651a2"/>
<circle cx="866.78" cy="580.57" r="3.9" fill="#8651a2" stroke="#8651a2"/>
<circle cx="866.65" cy="577.91" r="3.9" fill="#8651a2" stroke="#8651a2"/>
<circle cx="865.8" cy="569.53" r="3.9" fill="#8651a2" stroke="#8651a2"/>
<circle cx="867.92" cy="574.35" r="3.9" fill="#8651a2" stroke="#8651a2"/>
<circle cx="874.62" cy="584.68" r="3.9" fill="#8651a2" stroke="#8651a2"/>
<circle cx="874.9" cy="584.52" r="3.9" fill="#8651a2" stroke="#8651a2"/>
<circle cx="876.86" cy="582.74" r="3.9" fill="#8651a2" stroke="#8651a2"/>
<circle cx="873.91" cy="583.38" r="3.9" fill="#a55da6" stroke="#a55da6"/>
<circle cx="876.68" cy="579.33" r="3.9" fill="#a55da6" stroke="#a55da6"/>
<circle cx="876.86" cy="576.06" r="3.9" fill="#a55da6" stroke="#a55da6"/>
<circle cx="876.85" cy="604.24" r="3.9" fill="#a55da6" stroke="#a55da6"/>
<circle cx="877.61" cy="612.9" r="3.9" fill="#a55da6" stroke="#a55da6"/>
<circle cx="879.15" cy="610.96" r="3.9" fill="#a55da6" stroke="#a55da6"/>
<circle cx="880.47" cy="611.46" r="3.9" fill="#a55da6" stroke="#a55da6"/>
<circle cx="880.51" cy="603.54" r="3.9" fill="#a55da6" stroke="#a55da6"/>
<circle cx="881.17" cy="613.45" r="3.9" fill="#a55da6" stroke="#a55da6"/>
<circle cx="883.66" cy="602.77" r="3.9" fill="#a55da6" stroke="#a55da6"/>
<circle cx="885" cy="608.32" r="3.9" fill="#a55da6" stroke="#a55da6"/>
<circle cx="884.23" cy="608.53" r="3.9" fill="#a55da6" stroke="#a55da6"/>
<circle cx="884.39" cy="616.71" r="3.9" fill="#a55da6" stroke="#a55da6"/>
<circle cx="886.14" cy="591.7" r="3.9" fill="#a55da6" stroke="#a55da6"/>
<circle cx="886.88" cy="586.39" r="3.9" fill="#a55da6" stroke="#a55da6"/>
<circle cx="886.9" cy="594.87" r="3.9" fill="#a55da6" stroke="#a55da6"/>
<circle cx="888.12" cy="593.22" r="3.9" fill="#a55da6" stroke="#a55da6"/>
<circle cx="888.78" cy="594.24" r="3.9" fill="#a55da6" stroke="#a55da6"/>
<circle cx="889.73" cy="595.13" r="3.9" fill="#a55da6" stroke="#a55da6"/>
<circle cx="893.33" cy="598.1" r="3.9" fill="#a55da6" stroke="#a55da6"/>
<circle cx="893.44" cy="607.2" r="3.9" fill="#a55da6" stroke="#a55da6"/>
<circle cx="893.6" cy="601.72" r="3.9" fill="#a55da6" stroke="#a55da6"/>
<circle cx="893.37" cy="604.07" r="3.9" fill="#a55da6" stroke="#a55da6"/>
<circle cx="894.37" cy="598.82" r="3.9" fill="#a55da6" stroke="#a55da6"/>
<circle cx="894.41" cy="585.07" r="3.9" fill="#a55da6" stroke="#a55da6"/>
<circle cx="895.66" cy="580.13" r="3.9" fill="#a55da6" stroke="#a55da6"/>
<circle cx="894.57" cy="586.27" r="3.9" fill="#a55da6" stroke="#a55da6"/>
<circle cx="895.76" cy="586.62" r="3.9" fill="#a55da6" stroke="#a55da6"/>
<circle cx="897.54" cy="579.51" r="3.9" fill="#a55da6" stroke="#a55da6"/>
<circle cx="897.86" cy="585.74" r="3.9" fill="#a55da6" stroke="#a55da6"/>
<circle cx="899.79" cy="580.89" r="3.9" fill="#a55da6" stroke="#a55da6"/>
<circle cx="901.56" cy="587.31" r="3.9" fill="#a55da6" stroke="#a55da6"/>
<circle cx="902.34" cy="584.19" r="3.9" fill="#a55da6" stroke="#a55da6"/>
<circle cx="904.98" cy="591.86" r="3.9" fill="#a55da6" stroke="#a55da6"/>
<circle cx="905.71" cy="600.51" r="3.9" fill="#a55da6" stroke="#a55da6"/>
<circle cx="910.39" cy="591.29" r="3.9" fill="#c7659c" stroke="#c7659c"/>
<circle cx="910.51" cy="592.92" r="3.9" fill="#c7659c" stroke="#c7659c"/>
<circle cx="912.35" cy="594.95" r="3.9" fill="#c7659c" stroke="#c7659c"/>
<circle cx="914.64" cy="598.83" r="3.9" fill="#c7659c" stroke="#c7659c"/>
<circle cx="914.96" cy="600.49" r="3.9" fill="#c7659c" stroke="#c7659c"/>
<circle cx="918.98" cy="600.72" r="3.9" fill="#c7659c" stroke="#c7659c"/>
<circle cx="917.51" cy="595.13" r="3.9" fill="#c7659c" stroke="#c7659c"/>
<circle cx="918.51" cy="591.46" r="3.9" fill="#c7659c" stroke="#c7659c"/>
<circle cx="919.96" cy="597.57" r="3.9" fill="#c7659c" stroke="#c7659c"/>
<circle cx="923.44" cy="591.29" r="3.9" fill="#c7659c" stroke="#c7659c"/>
<circle cx="923.57" cy="591.01" r="3.9" fill="#c7659c" stroke="#c7659c"/>
<circle cx="925.45" cy="596.56" r="3.9" fill="#c7659c" stroke="#c7659c"/>
<circle cx="926.48" cy="587.7" r="3.9" fill="#c7659c" stroke="#c7659c"/>
<circle cx="926.4" cy="586.92" r="3.9" fill="#c7659c" stroke="#c7659c"/>
<circle cx="927.03" cy="588.97" r="3.9" fill="#c7659c" stroke="#c7659c"/>
<circle cx="927.03" cy="595.33" r="3.9" fill="#c7659c" stroke="#c7659c"/>
<circle cx="927.67" cy="594.81" r="3.9" fill="#c7659c" stroke="#c7659c"/>
<circle cx="928.28" cy="611.03" r="3.9" fill="#c7659c" stroke="#c7659c"/>
<circle cx="929.93" cy="620.44" r="3.9" fill="#c7659c" stroke="#c7659c"/>
<circle cx="932.54" cy="623.04" r="3.9" fill="#c7659c" stroke="#c7659c"/>
<circle cx="933.3" cy="624.02" r="3.9" fill="#c7659c" stroke="#c7659c"/>
<circle cx="933.86" cy="618.13" r="3.9" fill="#c7659c" stroke="#c7659c"/>
<circle cx="935.22" cy="617.3" r="3.9" fill="#c7659c" stroke="#c7659c"/>
<circle cx="934.02" cy="615.65" r="3.9" fill="#c7659c" stroke="#c7659c"/>
<circle cx="937.27" cy="615.86" r="3.9" fill="#c7659c" stroke="#c7659c"/>
<circle cx="936.67" cy="618.31" r="3.9" fill="#c7659c" stroke="#c7659c"/>
<circle cx="937.74" cy="607.57" r="3.9" fill="#c7659c" stroke="#c7659c"/>
<circle cx="938.49" cy="618.94" r="3.9" fill="#c7659c" stroke="#c7659c"/>
<circle cx="939.76" cy="615.7" r="3.9" fill="#c7659c" stroke="#c7659c"/>
<circle cx="940.47" cy="616.19" r="3.9" fill="#c7659c" stroke="#c7659c"/>
<circle cx="942.45" cy="603.35" r="3.9" fill="#c7659c" stroke="#c7659c"/>
<circle cx="943.02" cy="600.82" r="3.9" fill="#c7659c" stroke="#c7659c"/>
<circle cx="942.62" cy="604.82" r="3.9" fill="#c7659c" stroke="#c7659c"/>
<circle cx="944.53" cy="599.42" r="3.9" fill="#c7659c" stroke="#c7659c"/>
<circle cx="947.56" cy="595.19" r="3.9" fill="#c7659c" stroke="#c7659c"/>
<circle cx="949.66" cy="604.35" r="3.9" fill="#c7659c" stroke="#c7659c"/>
<circle cx="953.37" cy="592.61" r="3.9" fill="#c7659c" stroke="#c7659c"/>
<circle cx="955.02" cy="600.32" r="3.9" fill="#c7659c" stroke="#c7659c"/>
<circle cx="955.21" cy="602.9" r="3.9" fill="#c7659c" stroke="#c7659c"/>
<circle cx="955.4" cy="600.04" r="3.9" fill="#c7659c" stroke="#c7659c"/>
<circle cx="957.59" cy="600.59" r="3.9" fill="#c7659c" stroke="#c7659c"/>
<circle cx="959.5" cy="602.54" r="3.9" fill="#c7659c" stroke="#c7659c"/>
<circle cx="958.63" cy="606.47" r="3.9" fill="#c7659c" stroke="#c7659c"/>
<circle cx="962.01" cy="608.18" r="3.9" fill="#c7659c" stroke="#c7659c"/>
<circle cx="962.71" cy="616.52" r="3.9" fill="#c7659c" stroke="#c7659c"/>
<circle cx="965.04" cy="612.15" r="3.9" fill="#c7659c" stroke="#c7659c"/>
<circle cx="967.13" cy="616.33" r="3.9" fill="#c7659c" stroke="#c7659c"/>
<circle cx="968.95" cy="619.33" r="3.9" fill="#c7659c" stroke="#c7659c"/>
<circle cx="970.37" cy="613.87" r="3.9" fill="#c7659c" stroke="#c7659c"/>
<circle cx="971.53" cy="608.31" r="3.9" fill="#c7659c" stroke="#c7659c"/>
<circle cx="972.23" cy="607.52" r="3.9" fill="#c7659c" stroke="#c7659c"/>
<circle cx="972.84" cy="608.83" r="3.9" fill="#c7659c" stroke="#c7659c"/>
<circle cx="977.34" cy="616.24" r="3.9" fill="#c7659c" stroke="#c7659c"/>
<circle cx="978" cy="609.21" r="3.9" fill="#c7659c" stroke="#c7659c"/>
<circle cx="978.74" cy="619.94" r="3.9" fill="#c7659c" stroke="#c7659c"/>
<circle cx="982.19" cy="627.99" r="3.9" fill="#e8778c" stroke="#e8778c"/>
<circle cx="983.33" cy="637.55" r="3.9" fill="#e8778c" stroke="#e8778c"/>
<circle cx="982.9" cy="640.98" r="3.9" fill="#e8778c" stroke="#e8778c"/>
<circle cx="983.69" cy="644.42" r="3.9" fill="#e8778c" stroke="#e8778c"/>
<circle cx="982.9" cy="642.29" r="3.9" fill="#e8778c" stroke="#e8778c"/>
<circle cx="983.88" cy="646.82" r="3.9" fill="#e8778c" stroke="#e8778c"/>
<circle cx="983.57" cy="647.71" r="3.9" fill="#e8778c" stroke="#e8778c"/>
<circle cx="983.48" cy="652.32" r="3.9" fill="#e8778c" stroke="#e8778c"/>
<circle cx="987.71" cy="621.55" r="3.9" fill="#e8778c" stroke="#e8778c"/>
<circle cx="988.69" cy="622.32" r="3.9" fill="#e8778c" stroke="#e8778c"/>
<circle cx="989.64" cy="621.64" r="3.9" fill="#e8778c" stroke="#e8778c"/>
<circle cx="989.63" cy="620.27" r="3.9" fill="#e8778c" stroke="#e8778c"/>
<circle cx="990.61" cy="627.77" r="3.9" fill="#e8778c" stroke="#e8778c"/>
<circle cx="990.32" cy="618.58" r="3.9" fill="#e8778c" stroke="#e8778c"/>
<circle cx="990.8" cy="615.81" r="3.9" fill="#e8778c" stroke="#e8778c"/>
<circle cx="992.19" cy="621.78" r="3.9" fill="#e8778c" stroke="#e8778c"/>
<circle cx="993.56" cy="622.02" r="3.9" fill="#e8778c" stroke="#e8778c"/>
<circle cx="995.03" cy="622.21" r="3.9" fill="#e8778c" stroke="#e8778c"/>
<circle cx="998.53" cy="627.95" r="3.9" fill="#e8778c" stroke="#e8778c"/>
<circle cx="1002.71" cy="627.62" r="3.9" fill="#e8778c" stroke="#e8778c"/>
<circle cx="1004" cy="630.51" r="3.9" fill="#e8778c" stroke="#e8778c"/>
<circle cx="1003.72" cy="630.71" r="3.9" fill="#e8778c" stroke="#e8778c"/>
<circle cx="1003.03" cy="630.08" r="3.9" fill="#e8778c" stroke="#e8778c"/>
<circle cx="1007.35" cy="625.82" r="3.9" fill="#e8778c" stroke="#e8778c"/>
<circle cx="1009.24" cy="625.92" r="3.9" fill="#e8778c" stroke="#e8778c"/>
<circle cx="1011.33" cy="627.97" r="3.9" fill="#e8778c" stroke="#e8778c"/>
<circle cx="1013.53" cy="622.9" r="3.9" fill="#e8778c" stroke="#e8778c"/>
<circle cx="1012.83" cy="613.11" r="3.9" fill="#e8778c" stroke="#e8778c"/>
<circle cx="1015.27" cy="609.35" r="3.9" fill="#e8778c" stroke="#e8778c"/>
<circle cx="1020.26" cy="611.56" r="3.9" fill="#e8778c" stroke="#e8778c"/>
<circle cx="1021.96" cy="615.19" r="3.9" fill="#e8778c" stroke="#e8778c"/>
<circle cx="1023.53" cy="618.29" r="3.9" fill="#e8778c" stroke="#e8778c"/>
<circle cx="1025.55" cy="617.29" r="3.9" fill="#e8778c" stroke="#e8778c"/>
<circle cx="1024.45" cy="616.14" r="3.9" fill="#e8778c" stroke="#e8778c"/>
<circle cx="1024.76" cy="621.81" r="3.9" fill="#e8778c" stroke="#e8778c"/>
<circle cx="1026.23" cy="637.06" r="3.9" fill="#e8778c" stroke="#e8778c"/>
<circle cx="1026.77" cy="644.6" r="3.9" fill="#e8778c" stroke="#e8778c"/>
<circle cx="1028.45" cy="644.06" r="3.9" fill="#e8778c" stroke="#e8778c"/>
<circle cx="1035.23" cy="646.51" r="3.9" fill="#e8778c" stroke="#e8778c"/>
<circle cx="1034.98" cy="638.68" r="3.9" fill="#e8778c" stroke="#e8778c"/>
<circle cx="1036.6" cy="640.19" r="3.9" fill="#e8778c" stroke="#e8778c"/>
<circle cx="1038.51" cy="650.17" r="3.9" fill="#e8778c" stroke="#e8778c"/>
<circle cx="1038.84" cy="650.93" r="3.9" fill="#e8778c" stroke="#e8778c"/>
<circle cx="1044.55" cy="654.83" r="3.9" fill="#e8778c" stroke="#e8778c"/>
<circle cx="1046.25" cy="653.06" r="3.9" fill="#e8778c" stroke="#e8778c"/>
<circle cx="1048.04" cy="648.85" r="3.9" fill="#e8778c" stroke="#e8778c"/>
<circle cx="1048.71" cy="649.12" r="3.9" fill="#e8778c" stroke="#e8778c"/>
<circle cx="1051.48" cy="648.6" r="3.9" fill="#e8778c" stroke="#e8778c"/>
<circle cx="1051.94" cy="649.43" r="3.9" fill="#e8778c" stroke="#e8778c"/>
<circle cx="1055.82" cy="641.19" r="3.9" fill="#e8778c" stroke="#e8778c"/>
<circle cx="1058.82" cy="650.27" r="3.9" fill="#e8778c" stroke="#e8778c"/>
<circle cx="1057.87" cy="650.35" r="3.9" fill="#e8778c" stroke="#e8778c"/>
<circle cx="1066.1" cy="647.92" r="3.9" fill="#e8778c" stroke="#e8778c"/>
<circle cx="1066.21" cy="642.11" r="3.9" fill="#e8778c" stroke="#e8778c"/>
<circle cx="1068.03" cy="643.89" r="3.9" fill="#e8778c" stroke="#e8778c"/>
<circle cx="1068.04" cy="648.37" r="3.9" fill="#e8778c" stroke="#e8778c"/>
<circle cx="1071.89" cy="652.8" r="3.9" fill="#e8778c" stroke="#e8778c"/>
<circle cx="1072.87" cy="654.13" r="3.9" fill="#e8778c" stroke="#e8778c"/>
<circle cx="1075.33" cy="647.43" r="3.9" fill="#e8778c" stroke="#e8778c"/>
<circle cx="1076.23" cy="650.92" r="3.9" fill="#e8778c" stroke="#e8778c"/>
<circle cx="1077.78" cy="654.75" r="3.9" fill="#e8778c" stroke="#e8778c"/>
<circle cx="1077.08" cy="651.5" r="3.9" fill="#e8778c" stroke="#e8778c"/>
<circle cx="1079.27" cy="645.99" r="3.9" fill="#e8778c" stroke="#e8778c"/>
<circle cx="1075.22" cy="689.73" r="3.9" fill="#fb9d84" stroke="#fb9d84"/>
<circle cx="1076.84" cy="680.55" r="3.9" fill="#fb9d84" stroke="#fb9d84"/>
<circle cx="1078.81" cy="678.42" r="3.9" fill="#fb9d84" stroke="#fb9d84"/>
<circle cx="1079.85" cy="672.48" r="3.9" fill="#fb9d84" stroke="#fb9d84"/>
<circle cx="1080.3" cy="670.01" r="3.9" fill="#fb9d84" stroke="#fb9d84"/>
<circle cx="1081.71" cy="664.7" r="3.9" fill="#fb9d84" stroke="#fb9d84"/>
<circle cx="1082.43" cy="669.05" r="3.9" fill="#fb9d84" stroke="#fb9d84"/>
<circle cx="1083.02" cy="663.4" r="3.9" fill="#fb9d84" stroke="#fb9d84"/>
<circle cx="1086.6" cy="658.02" r="3.9" fill="#fb9d84" stroke="#fb9d84"/>
<circle cx="1087.01" cy="659.11" r="3.9" fill="#fb9d84" stroke="#fb9d84"/>
<circle cx="1091.23" cy="657.66" r="3.9" fill="#fb9d84" stroke="#fb9d84"/>
<circle cx="1099.14" cy="651.31" r="3.9" fill="#fb9d84" stroke="#fb9d84"/>
<circle cx="1103.1" cy="648.08" r="3.9" fill="#fb9d84" stroke="#fb9d84"/>
<circle cx="1104.33" cy="651.05" r="3.9" fill="#fb9d84" stroke="#fb9d84"/>
<circle cx="1106.27" cy="651.57" r="3.9" fill="#fb9d84" stroke="#fb9d84"/>
<circle cx="1107.85" cy="644.51" r="3.9" fill="#fb9d84" stroke="#fb9d84"/>
<circle cx="1109.33" cy="648.96" r="3.9" fill="#fb9d84" stroke="#fb9d84"/>
<circle cx="1109.86" cy="655.73" r="3.9" fill="#fb9d84" stroke="#fb9d84"/>
<circle cx="1111.48" cy="651.4" r="3.9" fill="#fb9d84" stroke="#fb9d84"/>
<circle cx="1112.66" cy="653.53" r="3.9" fill="#fb9d84" stroke="#fb9d84"/>
<circle cx="1113.22" cy="649.69" r="3.9" fill="#fb9d84" stroke="#fb9d84"/>
<circle cx="1113.68" cy="644.88" r="3.9" fill="#fb9d84" stroke="#fb9d84"/>
<circle cx="1115.45" cy="646.73" r="3.9" fill="#fb9d84" stroke="#fb9d84"/>
<circle cx="1117.42" cy="653.88" r="3.9" fill="#fb9d84" stroke="#fb9d84"/>
<circle cx="1117.12" cy="646.2" r="3.9" fill="#fb9d84" stroke="#fb9d84"/>
<circle cx="1126.09" cy="641.41" r="3.9" fill="#fb9d84" stroke="#fb9d84"/>
<circle cx="1131.1" cy="657.45" r="3.9" fill="#fb9d84" stroke="#fb9d84"/>
<circle cx="1134.3" cy="659.32" r="3.9" fill="#fb9d84" stroke="#fb9d84"/>
<circle cx="1138.48" cy="662.15" r="3.9" fill="#fb9d84" stroke="#fb9d84"/>
<circle cx="1139.69" cy="661.7" r="3.9" fill="#fb9d84" stroke="#fb9d84"/>
<circle cx="1140.15" cy="667.84" r="3.9" fill="#fb9d84" stroke="#fb9d84"/>
<circle cx="1140.6" cy="664.73" r="3.9" fill="#fb9d84" stroke="#fb9d84"/>
<circle cx="1140.14" cy="667.8" r="3.9" fill="#fb9d84" stroke="#fb9d84"/>
<circle cx="1140.94" cy="672.86" r="3.9" fill="#fb9d84" stroke="#fb9d84"/>
<circle cx="1143.18" cy="676.25" r="3.9" fill="#fb9d84" stroke="#fb9d84"/>
<circle cx="1145.52" cy="680.31" r="3.9" fill="#fb9d84" stroke="#fb9d84"/>
<circle cx="1145.31" cy="687.44" r="3.9" fill="#fb9d84" stroke="#fb9d84"/>
<circle cx="1147.92" cy="683.9" r="3.9" fill="#fb9d84" stroke="#fb9d84"/>
<circle cx="1148.41" cy="685.42" r="3.9" fill="#fb9d84" stroke="#fb9d84"/>
<circle cx="1148.43" cy="686.04" r="3.9" fill="#fb9d84" stroke="#fb9d84"/>
<circle cx="1150.84" cy="692.73" r="3.9" fill="#fb9d84" stroke="#fb9d84"/>
<circle cx="1157.4" cy="692.09" r="3.9" fill="#fb9d84" stroke="#fb9d84"/>
<circle cx="1157.76" cy="688.16" r="3.9" fill="#fb9d84" stroke="#fb9d84"/>
<circle cx="1159.17" cy="699.15" r="3.9" fill="#fb9d84" stroke="#fb9d84"/>
<circle cx="1159.04" cy="698.08" r="3.9" fill="#fb9d84" stroke="#fb9d84"/>
<circle cx="1159.64" cy="697.63" r="3.9" fill="#fb9d84" stroke="#fb9d84"/>
<circle cx="1163.5" cy="698.41" r="3.9" fill="#fb9d84" stroke="#fb9d84"/>
<circle cx="1163.61" cy="697.29" r="3.9" fill="#fb9d84" stroke="#fb9d84"/>
<circle cx="1165.06" cy="693.63" r="3.9" fill="#fb9d84" stroke="#fb9d84"/>
<circle cx="1172.95" cy="697.1" r="3.9" fill="#fb9d84" stroke="#fb9d84"/>
<circle cx="1174.01" cy="699.7" r="3.9" fill="#fb9d84" stroke="#fb9d84"/>
<circle cx="1175.08" cy="701.66" r="3.9" fill="#fb9d84" stroke="#fb9d84"/>
<circle cx="1177.1" cy="696.07" r="3.9" fill="#fb9d84" stroke="#fb9d84"/>
<circle cx="1188.54" cy="700.34" r="3.9" fill="#fb9d84" stroke="#fb9d84"/>
<circle cx="1189.02" cy="700.76" r="3.9" fill="#fb9d84" stroke="#fb9d84"/>
<circle cx="1189.42" cy="705.45" r="3.9" fill="#fb9d84" stroke="#fb9d84"/>
<circle cx="1193.22" cy="706.73" r="3.9" fill="#fb9d84" stroke="#fb9d84"/>
<circle cx="1193.04" cy="709.19" r="3.9" fill="#fb9d84" stroke="#fb9d84"/>
<circle cx="1196.88" cy="711.69" r="3.9" fill="#fb9d84" stroke="#fb9d84"/>
<circle cx="1200.85" cy="713.55" r="3.9" fill="#fb9d84" stroke="#fb9d84"/>
<circle cx="1205.14" cy="718.08" r="3.9" fill="#fb9d84" stroke="#fb9d84"/>
<circle cx="1180.1" cy="732.63" r="3.9" fill="#fec89c" stroke="#fec89c"/>
<circle cx="1186.82" cy="733.93" r="3.9" fill="#fec89c" stroke="#fec89c"/>
<circle cx="1189.16" cy="742.43" r="3.9" fill="#fec89c" stroke="#fec89c"/>
<circle cx="1190.14" cy="742.88" r="3.9" fill="#fec89c" stroke="#fec89c"/>
<circle cx="1190.9" cy="738.39" r="3.9" fill="#fec89c" stroke="#fec89c"/>
<circle cx="1195.01" cy="732.41" r="3.9" fill="#fec89c" stroke="#fec89c"/>
<circle cx="1196.94" cy="741.17" r="3.9" fill="#fec89c" stroke="#fec89c"/>
<circle cx="1197.26" cy="734.06" r="3.9" fill="#fec89c" stroke="#fec89c"/>
<circle cx="1199.53" cy="734.58" r="3.9" fill="#fec89c" stroke="#fec89c"/>
<circle cx="1201.23" cy="744.2" r="3.9" fill="#fec89c" stroke="#fec89c"/>
<circle cx="1202.55" cy="736.03" r="3.9" fill="#fec89c" stroke="#fec89c"/>
<circle cx="1202.36" cy="731.99" r="3.9" fill="#fec89c" stroke="#fec89c"/>
<circle cx="1206.21" cy="734.37" r="3.9" fill="#fec89c" stroke="#fec89c"/>
<circle cx="1207.5" cy="740.61" r="3.9" fill="#fec89c" stroke="#fec89c"/>
<circle cx="1208.74" cy="740.85" r="3.9" fill="#fec89c" stroke="#fec89c"/>
<circle cx="1209.79" cy="744.33" r="3.9" fill="#fec89c" stroke="#fec89c"/>
<circle cx="1212.9" cy="736.9" r="3.9" fill="#fec89c" stroke="#fec89c"/>
<circle cx="1214.61" cy="738.47" r="3.9" fill="#fec89c" stroke="#fec89c"/>
<circle cx="1234.09" cy="717.4" r="3.9" fill="#fec89c" stroke="#fec89c"/>
<circle cx="1244.41" cy="724.11" r="3.9" fill="#fec89c" stroke="#fec89c"/>
<circle cx="1248.23" cy="726.74" r="3.9" fill="#fec89c" stroke="#fec89c"/>
<circle cx="1249.59" cy="730.59" r="3.9" fill="#fec89c" stroke="#fec89c"/>
<circle cx="1252.91" cy="730.21" r="3.9" fill="#fec89c" stroke="#fec89c"/>
<circle cx="1259.57" cy="737.33" r="3.9" fill="#fec89c" stroke="#fec89c"/>
<circle cx="1260.12" cy="736.74" r="3.9" fill="#fec89c" stroke="#fec89c"/>
<circle cx="1262.06" cy="737.14" r="3.9" fill="#fec89c" stroke="#fec89c"/>
<circle cx="1262.26" cy="734.85" r="3.9" fill="#fec89c" stroke="#fec89c"/>
<circle cx="1270.55" cy="748.05" r="3.9" fill="#fec89c" stroke="#fec89c"/>
<circle cx="1274.57" cy="746.83" r="3.9" fill="#fec89c" stroke="#fec89c"/>
<circle cx="1277.08" cy="742.6" r="3.9" fill="#fec89c" stroke="#fec89c"/>
<circle cx="1281.86" cy="745.97" r="3.9" fill="#fec89c" stroke="#fec89c"/>
<circle cx="1289.7" cy="752.61" r="3.9" fill="#fec89c" stroke="#fec89c"/>
<circle cx="1289.28" cy="754.9" r="3.9" fill="#fec89c" stroke="#fec89c"/>
<circle cx="1298.12" cy="759.49" r="3.9" fill="#fec89c" stroke="#fec89c"/>
<circle cx="1299.63" cy="758.31" r="3.9" fill="#fec89c" stroke="#fec89c"/>
<circle cx="1306.81" cy="763.94" r="3.9" fill="#fec89c" stroke="#fec89c"/>
<circle cx="1306.62" cy="764.11" r="3.9" fill="#fec89c" stroke="#fec89c"/>
<circle cx="1314.26" cy="775.53" r="3.9" fill="#fec89c" stroke="#fec89c"/>
<circle cx="1324.86" cy="789.43" r="3.9" fill="#fec89c" stroke="#fec89c"/>
<circle cx="1328.99" cy="795.94" r="3.9" fill="#fec89c" stroke="#fec89c"/>
<circle cx="1333.55" cy="804.35" r="3.9" fill="#fec89c" stroke="#fec89c"/>
<circle cx="1335.07" cy="803.18" r="3.9" fill="#fec89c" stroke="#fec89c"/>
<circle cx="1337.53" cy="806.57" r="3.9" fill="#fec89c" stroke="#fec89c"/>
<circle cx="1339.17" cy="808.67" r="3.9" fill="#fec89c" stroke="#fec89c"/>
<circle cx="1354.94" cy="833.58" r="3.9" fill="#fec89c" stroke="#fec89c"/>
<circle cx="1361.79" cy="836.03" r="3.9" fill="#fec89c" stroke="#fec89c"/>
<circle cx="1364.62" cy="840.79" r="3.9" fill="#fec89c" stroke="#fec89c"/>
<circle cx="1373.29" cy="849.92" r="3.9" fill="#fec89c" stroke="#fec89c"/>
<circle cx="1391.28" cy="866.84" r="3.9" fill="#fec89c" stroke="#fec89c"/>
<circle cx="1393.37" cy="871.09" r="3.9" fill="#fec89c" stroke="#fec89c"/>
<circle cx="1403.12" cy="878.15" r="3.9" fill="#fec89c" stroke="#fec89c"/>
<circle cx="1402.06" cy="879.98" r="3.9" fill="#fec89c" stroke="#fec89c"/>
<circle cx="1410.07" cy="881.43" r="3.9" fill="#fec89c" stroke="#fec89c"/>
</g>
<g clip-path="url(#cd)">
<polyline points="631,498.2 633.02,503.93 635.05,506.32 637.07,508.18 639.1,509.76 641.12,511.16 643.15,512.44 645.17,513.62 647.19,514.73 649.22,515.79 651.24,516.79 653.27,517.75 655.29,518.68 657.31,519.58 659.34,520.45 661.36,521.3 663.39,522.12 665.41,522.93 667.44,523.71 669.46,524.49 671.48,525.25 673.51,525.99 675.53,526.72 677.56,527.45 679.58,528.16 681.61,528.86 683.63,529.56 685.65,530.24 687.68,530.92 689.7,531.59 691.73,532.25 693.75,532.91 695.78,533.56 697.8,534.21 699.82,534.85 701.85,535.49 703.87,536.12 705.9,536.75 707.92,537.37 709.94,537.99 711.97,538.61 713.99,539.22 716.02,539.83 718.04,540.44 720.07,541.04 722.09,541.64 724.11,542.24 726.14,542.84 728.16,543.43 730.19,544.03 732.21,544.61 734.24,545.2 736.26,545.79 738.28,546.37 740.31,546.96 742.33,547.54 744.36,548.12 746.38,548.7 748.4,549.27 750.43,549.85 752.45,550.42 754.48,551 756.5,551.57 758.53,552.14 760.55,552.71 762.57,553.29 764.6,553.86 766.62,554.43 768.65,554.99 770.67,555.56 772.7,556.13 774.72,556.7 776.74,557.27 778.77,557.83 780.79,558.4 782.82,558.97 784.84,559.53 786.86,560.1 788.89,560.67 790.91,561.24 792.94,561.8 794.96,562.37 796.99,562.94 799.01,563.5 801.03,564.07 803.06,564.64 805.08,565.21 807.11,565.78 809.13,566.34 811.16,566.91 813.18,567.48 815.2,568.05 817.23,568.62 819.25,569.2 821.28,569.77 823.3,570.34 825.33,570.91 827.35,571.49 829.37,572.06 831.4,572.64 833.42,573.21 835.45,573.79 837.47,574.37 839.49,574.95 841.52,575.53 843.54,576.11 845.57,576.69 847.59,577.27 849.62,577.86 851.64,578.44 853.66,579.03 855.69,579.61 857.71,580.2 859.74,580.79 861.76,581.38 863.79,581.97 865.81,582.56 867.83,583.16 869.86,583.75 871.88,584.35 873.91,584.95 875.93,585.55 877.95,586.15 879.98,586.75 882,587.35 884.03,587.96 886.05,588.56 888.08,589.17 890.1,589.78 892.12,590.39 894.15,591 896.17,591.62 898.2,592.23 900.22,592.85 902.25,593.47 904.27,594.09 906.29,594.71 908.32,595.34 910.34,595.96 912.37,596.59 914.39,597.22 916.42,597.85 918.44,598.49 920.46,599.12 922.49,599.76 924.51,600.4 926.54,601.04 928.56,601.68 930.58,602.33 932.61,602.97 934.63,603.62 936.66,604.27 938.68,604.93 940.71,605.58 942.73,606.24 944.75,606.9 946.78,607.56 948.8,608.22 950.83,608.89 952.85,609.56 954.88,610.23 956.9,610.9 958.92,611.58 960.95,612.25 962.97,612.93 965,613.62 967.02,614.3 969.04,614.99 971.07,615.68 973.09,616.37 975.12,617.06 977.14,617.76 979.17,618.46 981.19,619.16 983.21,619.87 985.24,620.57 987.26,621.28 989.29,621.99 991.31,622.71 993.34,623.43 995.36,624.15 997.38,624.87 999.41,625.6 1001.43,626.33 1003.46,627.06 1005.48,627.79 1007.51,628.53 1009.53,629.27 1011.55,630.01 1013.58,630.76 1015.6,631.51 1017.63,632.26 1019.65,633.01 1021.67,633.77 1023.7,634.53 1025.72,635.29 1027.75,636.06 1029.77,636.83 1031.8,637.6 1033.82,638.38 1035.84,639.16 1037.87,639.94 1039.89,640.73 1041.92,641.51 1043.94,642.31 1045.97,643.1 1047.99,643.9 1050.01,644.7 1052.04,645.51 1054.06,646.32 1056.09,647.13 1058.11,647.94 1060.13,648.76 1062.16,649.58 1064.18,650.41 1066.21,651.24 1068.23,652.07 1070.26,652.91 1072.28,653.75 1074.3,654.59 1076.33,655.44 1078.35,656.29 1080.38,657.14 1082.4,658 1084.43,658.86 1086.45,659.73 1088.47,660.59 1090.5,661.47 1092.52,662.34 1094.55,663.22 1096.57,664.11 1098.59,665 1100.62,665.89 1102.64,666.78 1104.67,667.68 1106.69,668.59 1108.72,669.5 1110.74,670.41 1112.76,671.32 1114.79,672.24 1116.81,673.17 1118.84,674.09 1120.86,675.03 1122.89,675.96 1124.91,676.9 1126.93,677.85 1128.96,678.8 1130.98,679.75 1133.01,680.71 1135.03,681.67 1137.06,682.63 1139.08,683.6 1141.1,684.58 1143.13,685.56 1145.15,686.54 1147.18,687.53 1149.2,688.52 1151.22,689.52 1153.25,690.52 1155.27,691.52 1157.3,692.53 1159.32,693.55 1161.35,694.57 1163.37,695.59 1165.39,696.62 1167.42,697.65 1169.44,698.69 1171.47,699.73 1173.49,700.78 1175.52,701.83 1177.54,702.89 1179.56,703.95 1181.59,705.02 1183.61,706.09 1185.64,707.17 1187.66,708.25 1189.68,709.33 1191.71,710.42 1193.73,711.52 1195.76,712.62 1197.78,713.73 1199.81,714.84 1201.83,715.96 1203.85,717.08 1205.88,718.2 1207.9,719.34 1209.93,720.47 1211.95,721.61 1213.98,722.76 1216,723.91 1218.02,725.07 1220.05,726.24 1222.07,727.4 1224.1,728.58 1226.12,729.76 1228.15,730.94 1230.17,732.13 1232.19,733.33 1234.22,734.53 1236.24,735.74 1238.27,736.95 1240.29,738.17 1242.31,739.39 1244.34,740.62 1246.36,741.85 1248.39,743.09 1250.41,744.34 1252.44,745.59 1254.46,746.85 1256.48,748.11 1258.51,749.38 1260.53,750.66 1262.56,751.94 1264.58,753.22 1266.61,754.52 1268.63,755.82 1270.65,757.12 1272.68,758.43 1274.7,759.75 1276.73,761.07 1278.75,762.4 1280.77,763.73 1282.8,765.07 1284.82,766.42 1286.85,767.77 1288.87,769.13 1290.9,770.5 1292.92,771.87 1294.94,773.25 1296.97,774.63 1298.99,776.02 1301.02,777.42 1303.04,778.82 1305.07,780.23 1307.09,781.65 1309.11,783.07 1311.14,784.5 1313.16,785.94 1315.19,787.38 1317.21,788.83 1319.23,790.29 1321.26,791.75 1323.28,793.22 1325.31,794.69 1327.33,796.17 1329.36,797.66 1331.38,799.16 1333.4,800.66 1335.43,802.17 1337.45,803.69 1339.48,805.21 1341.5,806.74 1343.53,808.28 1345.55,809.82 1347.57,811.37 1349.6,812.93 1351.62,814.5 1353.65,816.07 1355.67,817.65 1357.7,819.23 1359.72,820.83 1361.74,822.43 1363.77,824.03 1365.79,825.65 1367.82,827.27 1369.84,828.9 1371.86,830.54 1373.89,832.18 1375.91,833.83 1377.94,835.49 1379.96,837.16 1381.99,838.83 1384.01,840.52 1386.03,842.2 1388.06,843.9 1390.08,845.61 1392.11,847.32 1394.13,849.04 1396.16,850.76 1398.18,852.5 1400.2,854.24 1402.23,855.99 1404.25,857.75 1406.28,859.51 1408.3,861.29 1410.32,863.07 1412.35,864.86 1414.37,866.66 1416.4,868.46 1418.42,870.28 1420.45,872.1 1422.47,873.93 1424.49,875.76 1426.52,877.61 1428.54,879.46 1430.57,881.32 1432.59,883.19 1434.62,885.07 1436.64,886.96 1438.66,888.85" fill="none" stroke="#000" stroke-width="2.5" stroke-linejoin="round" stroke-linecap="butt" />
</g>
<g stroke="#000" stroke-width="2.5">
<line x1="631" y1="907.3" x2="631" y2="899.3" stroke="#000" stroke-width="2.5" />
<line x1="631" y1="478.6" x2="631" y2="486.6" stroke="#000" stroke-width="2.5" />
<line x1="786.32" y1="907.3" x2="786.32" y2="899.3" stroke="#000" stroke-width="2.5" />
<line x1="786.32" y1="478.6" x2="786.32" y2="486.6" stroke="#000" stroke-width="2.5" />
<line x1="941.64" y1="907.3" x2="941.64" y2="899.3" stroke="#000" stroke-width="2.5" />
<line x1="941.64" y1="478.6" x2="941.64" y2="486.6" stroke="#000" stroke-width="2.5" />
<line x1="1096.96" y1="907.3" x2="1096.96" y2="899.3" stroke="#000" stroke-width="2.5" />
<line x1="1096.96" y1="478.6" x2="1096.96" y2="486.6" stroke="#000" stroke-width="2.5" />
<line x1="1252.28" y1="907.3" x2="1252.28" y2="899.3" stroke="#000" stroke-width="2.5" />
<line x1="1252.28" y1="478.6" x2="1252.28" y2="486.6" stroke="#000" stroke-width="2.5" />
<line x1="1407.6" y1="907.3" x2="1407.6" y2="899.3" stroke="#000" stroke-width="2.5" />
<line x1="1407.6" y1="478.6" x2="1407.6" y2="486.6" stroke="#000" stroke-width="2.5" />
<line x1="590.7" y1="498.2" x2="598.7" y2="498.2" stroke="#000" stroke-width="2.5" />
<line x1="1478.6" y1="498.2" x2="1470.6" y2="498.2" stroke="#000" stroke-width="2.5" />
<line x1="590.7" y1="589.72" x2="598.7" y2="589.72" stroke="#000" stroke-width="2.5" />
<line x1="1478.6" y1="589.72" x2="1470.6" y2="589.72" stroke="#000" stroke-width="2.5" />
<line x1="590.7" y1="681.24" x2="598.7" y2="681.24" stroke="#000" stroke-width="2.5" />
<line x1="1478.6" y1="681.24" x2="1470.6" y2="681.24" stroke="#000" stroke-width="2.5" />
<line x1="590.7" y1="772.76" x2="598.7" y2="772.76" stroke="#000" stroke-width="2.5" />
<line x1="1478.6" y1="772.76" x2="1470.6" y2="772.76" stroke="#000" stroke-width="2.5" />
<line x1="590.7" y1="864.28" x2="598.7" y2="864.28" stroke="#000" stroke-width="2.5" />
<line x1="1478.6" y1="864.28" x2="1470.6" y2="864.28" stroke="#000" stroke-width="2.5" />
</g>
<rect x="590.7" y="478.6" width="887.9" height="428.7" fill="none" stroke="#000" stroke-width="3.0"/>
<text x="576.3" y="511.4" font-size="34.5" text-anchor="end" >0</text>
<text x="576.3" y="602.92" font-size="34.5" text-anchor="end" >−2</text>
<text x="576.3" y="694.44" font-size="34.5" text-anchor="end" >−4</text>
<text x="576.3" y="785.96" font-size="34.5" text-anchor="end" >−6</text>
<text x="576.3" y="877.48" font-size="34.5" text-anchor="end" >−8</text>
<text x="631" y="947.8" font-size="34.5" text-anchor="middle" letter-spacing="-0.5">0</text>
<text x="786.32" y="947.8" font-size="34.5" text-anchor="middle" letter-spacing="-0.5">500</text>
<text x="941.64" y="947.8" font-size="34.5" text-anchor="middle" letter-spacing="-0.5">1000</text>
<text x="1096.96" y="947.8" font-size="34.5" text-anchor="middle" letter-spacing="-0.5">1500</text>
<text x="1252.28" y="947.8" font-size="34.5" text-anchor="middle" letter-spacing="-0.5">2000</text>
<text x="1407.6" y="947.8" font-size="34.5" text-anchor="middle" letter-spacing="-0.5">2500</text>
<text x="1019" y="994" font-size="34.5" text-anchor="start" font-style="italic">n</text>
<text x="1038.3" y="1000" font-size="24.5" text-anchor="start" >c</text>
<g transform="translate(508.6,694.2) rotate(-90)">
<text x="0" y="0" font-size="34.5" text-anchor="middle" ><tspan font-style="italic">g</tspan><tspan font-size="40" dx="-1" dy="2">′</tspan><tspan font-size="24.5" dx="-10.3" dy="7">κ</tspan><tspan dx="1.4" dy="-9">/2</tspan><tspan font-style="italic">π</tspan> [MHz]</text>
</g>
<text x="478" y="496.9" font-size="36" text-anchor="start" font-weight="bold">d</text>
<text x="1034" y="562.4" font-size="35" text-anchor="start" font-style="italic">g</text>
<text x="1054" y="566.7" font-size="25" text-anchor="start" >0</text>
<text x="1067" y="566.7" font-size="24" text-anchor="start" font-style="italic">κ</text>
<text transform="translate(1082.9,567) scale(1.120,1)" font-size="43.37" x="-1.08" y="0">√</text>
<line x1="1107.3" y1="533.85" x2="1150" y2="533.85" stroke="#000" stroke-width="2.3" />
<text x="1113" y="562.4" font-size="35" text-anchor="start" font-style="italic">n</text>
<text x="1133.2" y="567.8" font-size="24.5" text-anchor="start" >c</text>
<g transform="translate(1292.7,666.3)">
<text x="-1.3" y="0" font-size="35" text-anchor="start" font-style="italic">g</text>
<text x="19" y="4.3" font-size="24.5" text-anchor="start" >nl1</text>
<text transform="translate(56.3,7.98) scale(0.743,1)" font-size="61.79" x="-1.54" y="0">√</text>
<line x1="79.3" y1="-39.75" x2="124.6" y2="-39.75" stroke="#000" stroke-width="2.3" />
<text x="85.3" y="0.4" font-size="35" text-anchor="start" font-style="italic">n</text>
<text x="106.5" y="-13.5" font-size="21" text-anchor="start" >3</text>
<text x="105" y="9.5" font-size="24.5" text-anchor="start" >c</text>
</g>
<g transform="translate(1299.4,734.4) rotate(29.5)">
<text x="-1.3" y="0" font-size="35" text-anchor="start" font-style="italic">g</text>
<text x="19" y="4.3" font-size="24.5" text-anchor="start" >nl3</text>
<text transform="translate(56.3,7.98) scale(0.743,1)" font-size="61.79" x="-1.54" y="0">√</text>
<line x1="79.3" y1="-39.75" x2="124.6" y2="-39.75" stroke="#000" stroke-width="2.3" />
<text x="85.3" y="0.4" font-size="35" text-anchor="start" font-style="italic">n</text>
<text x="106.5" y="-13.5" font-size="21" text-anchor="start" >7</text>
<text x="105" y="9.5" font-size="24.5" text-anchor="start" >c</text>
</g>
<line x1="1438" y1="621" x2="1438" y2="708" stroke="#000" stroke-width="4.4" />
<path d="M1438,725.6 L1428.7,707.1 L1447.3,707.1 Z" fill="#000" stroke="#000" stroke-width="1.2" stroke-linejoin="round"/>
<line x1="1438" y1="758.6" x2="1438" y2="846" stroke="#000" stroke-width="4.4" />
<path d="M1438,863.2 L1428.7,844.7 L1447.3,844.7 Z" fill="#000" stroke="#000" stroke-width="1.2" stroke-linejoin="round"/>
<g stroke="#bdbdbd" stroke-width="2">
<line x1="1699.5" y1="6.7" x2="1699.5" y2="907.5" stroke="#bdbdbd" stroke-width="2" />
<line x1="1876.8" y1="6.7" x2="1876.8" y2="907.5" stroke="#bdbdbd" stroke-width="2" />
<line x1="1688.5" y1="817.94" x2="1941.5" y2="817.94" stroke="#bdbdbd" stroke-width="2" />
<line x1="1688.5" y1="667.26" x2="1941.5" y2="667.26" stroke="#bdbdbd" stroke-width="2" />
<line x1="1688.5" y1="516.58" x2="1941.5" y2="516.58" stroke="#bdbdbd" stroke-width="2" />
<line x1="1688.5" y1="365.9" x2="1941.5" y2="365.9" stroke="#bdbdbd" stroke-width="2" />
<line x1="1688.5" y1="215.22" x2="1941.5" y2="215.22" stroke="#bdbdbd" stroke-width="2" />
<line x1="1688.5" y1="64.54" x2="1941.5" y2="64.54" stroke="#bdbdbd" stroke-width="2" />
</g>
<g clip-path="url(#ce)">
<polyline points="1699.5,365.9 1700.27,365.45 1701.04,365 1701.82,364.55 1702.59,364.1 1703.36,363.65 1704.13,363.2 1704.9,362.74 1705.67,362.29 1706.45,361.84 1707.22,361.39 1707.99,360.94 1708.76,360.49 1709.53,360.04 1710.3,359.59 1711.08,359.14 1711.85,358.69 1712.62,358.24 1713.39,357.79 1714.16,357.34 1714.94,356.88 1715.71,356.43 1716.48,355.98 1717.25,355.53 1718.02,355.08 1718.79,354.63 1719.57,354.18 1720.34,353.73 1721.11,353.28 1721.88,352.83 1722.65,352.38 1723.42,351.93 1724.2,351.48 1724.97,351.02 1725.74,350.57 1726.51,350.12 1727.28,349.67 1728.06,349.22 1728.83,348.77 1729.6,348.32 1730.37,347.87 1731.14,347.42 1731.91,346.97 1732.69,346.52 1733.46,346.07 1734.23,345.62 1735,345.16 1735.77,344.71 1736.54,344.26 1737.32,343.81 1738.09,343.36 1738.86,342.91 1739.63,342.46 1740.4,342.01 1741.17,341.56 1741.95,341.11 1742.72,340.66 1743.49,340.21 1744.26,339.76 1745.03,339.3 1745.81,338.85 1746.58,338.4 1747.35,337.95 1748.12,337.5 1748.89,337.05 1749.66,336.6 1750.44,336.15 1751.21,335.7 1751.98,335.25 1752.75,334.8 1753.52,334.35 1754.29,333.9 1755.07,333.45 1755.84,332.99 1756.61,332.54 1757.38,332.09 1758.15,331.64 1758.93,331.19 1759.7,330.74 1760.47,330.29 1761.24,329.84 1762.01,329.39 1762.78,328.94 1763.56,328.49 1764.33,328.04 1765.1,327.59 1765.87,327.13 1766.64,326.68 1767.41,326.23 1768.19,325.78 1768.96,325.33 1769.73,324.88 1770.5,324.43 1771.27,323.98 1772.05,323.53 1772.82,323.08 1773.59,322.63 1774.36,322.18 1775.13,321.73 1775.9,321.27 1776.68,320.82 1777.45,320.37 1778.22,319.92 1778.99,319.47 1779.76,319.02 1780.53,318.57 1781.31,318.12 1782.08,317.67 1782.85,317.22 1783.62,316.77 1784.39,316.32 1785.17,315.87 1785.94,315.41 1786.71,314.96 1787.48,314.51 1788.25,314.06 1789.02,313.61 1789.8,313.16 1790.57,312.71 1791.34,312.26 1792.11,311.81 1792.88,311.36 1793.65,310.91 1794.43,310.46 1795.2,310.01 1795.97,309.55 1796.74,309.1 1797.51,308.65 1798.29,308.2 1799.06,307.75 1799.83,307.3 1800.6,306.85 1801.37,306.4 1802.14,305.95 1802.92,305.5 1803.69,305.05 1804.46,304.6 1805.23,304.15 1806,303.69 1806.77,303.24 1807.55,302.79 1808.32,302.34 1809.09,301.89 1809.86,301.44 1810.63,300.99 1811.41,300.54 1812.18,300.09 1812.95,299.64 1813.72,299.19 1814.49,298.74 1815.26,298.29 1816.04,297.83 1816.81,297.38 1817.58,296.93 1818.35,296.48 1819.12,296.03 1819.89,295.58 1820.67,295.13 1821.44,294.68 1822.21,294.23 1822.98,293.78 1823.75,293.33 1824.52,292.88 1825.3,292.43 1826.07,291.97 1826.84,291.52 1827.61,291.07 1828.38,290.62 1829.16,290.17 1829.93,289.72 1830.7,289.27 1831.47,288.82 1832.24,288.37 1833.01,287.92 1833.79,287.47 1834.56,287.02 1835.33,286.57 1836.1,286.11 1836.87,285.66 1837.64,285.21 1838.42,284.76 1839.19,284.31 1839.96,283.86 1840.73,283.41 1841.5,282.96 1842.28,282.51 1843.05,282.06 1843.82,281.61 1844.59,281.16 1845.36,280.71 1846.13,280.25 1846.91,279.8 1847.68,279.35 1848.45,278.9 1849.22,278.45 1849.99,278 1850.76,277.55 1851.54,277.1 1852.31,276.65 1853.08,276.2 1853.85,275.75 1854.62,275.3 1855.4,274.85 1856.17,274.39 1856.94,273.94 1857.71,273.49 1858.48,273.04 1859.25,272.59 1860.03,272.14 1860.8,271.69 1861.57,271.24 1862.34,270.79 1863.11,270.34 1863.88,269.89 1864.66,269.44 1865.43,268.99 1866.2,268.54 1866.97,268.08 1867.74,267.63 1868.52,267.18 1869.29,266.73 1870.06,266.28 1870.83,265.83 1871.6,265.38 1872.37,264.93 1873.15,264.48 1873.92,264.03 1874.69,263.58 1875.46,263.13 1876.23,262.68 1877,262.22 1877.78,261.77 1878.55,261.32 1879.32,260.87 1880.09,260.42 1880.86,259.97 1881.64,259.52 1882.41,259.07 1883.18,258.62 1883.95,258.17 1884.72,257.72 1885.49,257.27 1886.27,256.82 1887.04,256.36 1887.81,255.91 1888.58,255.46 1889.35,255.01 1890.12,254.56 1890.9,254.11 1891.67,253.66 1892.44,253.21 1893.21,252.76 1893.98,252.31 1894.76,251.86 1895.53,251.41 1896.3,250.96 1897.07,250.5 1897.84,250.05 1898.61,249.6 1899.39,249.15 1900.16,248.7 1900.93,248.25 1901.7,247.8 1902.47,247.35 1903.24,246.9 1904.02,246.45 1904.79,246 1905.56,245.55 1906.33,245.1 1907.1,244.64 1907.87,244.19 1908.65,243.74 1909.42,243.29 1910.19,242.84 1910.96,242.39 1911.73,241.94 1912.51,241.49 1913.28,241.04 1914.05,240.59 1914.82,240.14 1915.59,239.69 1916.36,239.24 1917.14,238.78 1917.91,238.33 1918.68,237.88 1919.45,237.43 1920.22,236.98 1920.99,236.53 1921.77,236.08 1922.54,235.63 1923.31,235.18 1924.08,234.73 1924.85,234.28 1925.63,233.83 1926.4,233.38 1927.17,232.92 1927.94,232.47 1928.71,232.02 1929.48,231.57 1930.26,231.12" fill="none" stroke="#000" stroke-width="2.3" stroke-linejoin="round" stroke-linecap="butt" stroke-dasharray="7.5 3.1"/>
<polyline points="1699.5,365.9 1700.27,366.3 1701.04,366.71 1701.82,367.11 1702.59,367.52 1703.36,367.92 1704.13,368.33 1704.9,368.73 1705.67,369.13 1706.45,369.54 1707.22,369.94 1707.99,370.35 1708.76,370.75 1709.53,371.15 1710.3,371.56 1711.08,371.96 1711.85,372.37 1712.62,372.77 1713.39,373.18 1714.16,373.58 1714.94,373.98 1715.71,374.39 1716.48,374.79 1717.25,375.2 1718.02,375.6 1718.79,376 1719.57,376.41 1720.34,376.81 1721.11,377.22 1721.88,377.62 1722.65,378.03 1723.42,378.43 1724.2,378.83 1724.97,379.24 1725.74,379.64 1726.51,380.05 1727.28,380.45 1728.06,380.85 1728.83,381.26 1729.6,381.66 1730.37,382.07 1731.14,382.47 1731.91,382.88 1732.69,383.28 1733.46,383.68 1734.23,384.09 1735,384.49 1735.77,384.9 1736.54,385.3 1737.32,385.7 1738.09,386.11 1738.86,386.51 1739.63,386.92 1740.4,387.32 1741.17,387.73 1741.95,388.13 1742.72,388.53 1743.49,388.94 1744.26,389.34 1745.03,389.75 1745.81,390.15 1746.58,390.55 1747.35,390.96 1748.12,391.36 1748.89,391.77 1749.66,392.17 1750.44,392.58 1751.21,392.98 1751.98,393.38 1752.75,393.79 1753.52,394.19 1754.29,394.6 1755.07,395 1755.84,395.4 1756.61,395.81 1757.38,396.21 1758.15,396.62 1758.93,397.02 1759.7,397.43 1760.47,397.83 1761.24,398.23 1762.01,398.64 1762.78,399.04 1763.56,399.45 1764.33,399.85 1765.1,400.25 1765.87,400.66 1766.64,401.06 1767.41,401.47 1768.19,401.87 1768.96,402.28 1769.73,402.68 1770.5,403.08 1771.27,403.49 1772.05,403.89 1772.82,404.3 1773.59,404.7 1774.36,405.1 1775.13,405.51 1775.9,405.91 1776.68,406.32 1777.45,406.72 1778.22,407.13 1778.99,407.53 1779.76,407.93 1780.53,408.34 1781.31,408.74 1782.08,409.15 1782.85,409.55 1783.62,409.95 1784.39,410.36 1785.17,410.76 1785.94,411.17 1786.71,411.57 1787.48,411.98 1788.25,412.38 1789.02,412.78 1789.8,413.19 1790.57,413.59 1791.34,414 1792.11,414.4 1792.88,414.8 1793.65,415.21 1794.43,415.61 1795.2,416.02 1795.97,416.42 1796.74,416.83 1797.51,417.23 1798.29,417.63 1799.06,418.04 1799.83,418.44 1800.6,418.85 1801.37,419.25 1802.14,419.65 1802.92,420.06 1803.69,420.46 1804.46,420.87 1805.23,421.27 1806,421.68 1806.77,422.08 1807.55,422.48 1808.32,422.89 1809.09,423.29 1809.86,423.7 1810.63,424.1 1811.41,424.5 1812.18,424.91 1812.95,425.31 1813.72,425.72 1814.49,426.12 1815.26,426.53 1816.04,426.93 1816.81,427.33 1817.58,427.74 1818.35,428.14 1819.12,428.55 1819.89,428.95 1820.67,429.35 1821.44,429.76 1822.21,430.16 1822.98,430.57 1823.75,430.97 1824.52,431.38 1825.3,431.78 1826.07,432.18 1826.84,432.59 1827.61,432.99 1828.38,433.4 1829.16,433.8 1829.93,434.2 1830.7,434.61 1831.47,435.01 1832.24,435.42 1833.01,435.82 1833.79,436.23 1834.56,436.63 1835.33,437.03 1836.1,437.44 1836.87,437.84 1837.64,438.25 1838.42,438.65 1839.19,439.05 1839.96,439.46 1840.73,439.86 1841.5,440.27 1842.28,440.67 1843.05,441.08 1843.82,441.48 1844.59,441.88 1845.36,442.29 1846.13,442.69 1846.91,443.1 1847.68,443.5 1848.45,443.9 1849.22,444.31 1849.99,444.71 1850.76,445.12 1851.54,445.52 1852.31,445.93 1853.08,446.33 1853.85,446.73 1854.62,447.14 1855.4,447.54 1856.17,447.95 1856.94,448.35 1857.71,448.75 1858.48,449.16 1859.25,449.56 1860.03,449.97 1860.8,450.37 1861.57,450.78 1862.34,451.18 1863.11,451.58 1863.88,451.99 1864.66,452.39 1865.43,452.8 1866.2,453.2 1866.97,453.6 1867.74,454.01 1868.52,454.41 1869.29,454.82 1870.06,455.22 1870.83,455.63 1871.6,456.03 1872.37,456.43 1873.15,456.84 1873.92,457.24 1874.69,457.65 1875.46,458.05 1876.23,458.45 1877,458.86 1877.78,459.26 1878.55,459.67 1879.32,460.07 1880.09,460.48 1880.86,460.88 1881.64,461.28 1882.41,461.69 1883.18,462.09 1883.95,462.5 1884.72,462.9 1885.49,463.3 1886.27,463.71 1887.04,464.11 1887.81,464.52 1888.58,464.92 1889.35,465.33 1890.12,465.73 1890.9,466.13 1891.67,466.54 1892.44,466.94 1893.21,467.35 1893.98,467.75 1894.76,468.15 1895.53,468.56 1896.3,468.96 1897.07,469.37 1897.84,469.77 1898.61,470.18 1899.39,470.58 1900.16,470.98 1900.93,471.39 1901.7,471.79 1902.47,472.2 1903.24,472.6 1904.02,473 1904.79,473.41 1905.56,473.81 1906.33,474.22 1907.1,474.62 1907.87,475.03 1908.65,475.43 1909.42,475.83 1910.19,476.24 1910.96,476.64 1911.73,477.05 1912.51,477.45 1913.28,477.85 1914.05,478.26 1914.82,478.66 1915.59,479.07 1916.36,479.47 1917.14,479.88 1917.91,480.28 1918.68,480.68 1919.45,481.09 1920.22,481.49 1920.99,481.9 1921.77,482.3 1922.54,482.7 1923.31,483.11 1924.08,483.51 1924.85,483.92 1925.63,484.32 1926.4,484.73 1927.17,485.13 1927.94,485.53 1928.71,485.94 1929.48,486.34 1930.26,486.75" fill="none" stroke="#000" stroke-width="2.3" stroke-linejoin="round" stroke-linecap="butt" stroke-dasharray="7.5 3.1"/>
</g>
<g clip-path="url(#ce)" fill-opacity="0.66" stroke-opacity="0.66" stroke-width="1.9">
<circle cx="1739.49" cy="328.62" r="4.1" fill="#5e4c87" stroke="#5e4c87"/>
<circle cx="1739.96" cy="330.08" r="4.1" fill="#5e4c87" stroke="#5e4c87"/>
<circle cx="1742.67" cy="329.15" r="4.1" fill="#5e4c87" stroke="#5e4c87"/>
<circle cx="1747.57" cy="328.08" r="4.1" fill="#5e4c87" stroke="#5e4c87"/>
<circle cx="1746.84" cy="328.63" r="4.1" fill="#5e4c87" stroke="#5e4c87"/>
<circle cx="1747.04" cy="328.53" r="4.1" fill="#5e4c87" stroke="#5e4c87"/>
<circle cx="1750.11" cy="329.24" r="4.1" fill="#5e4c87" stroke="#5e4c87"/>
<circle cx="1742.61" cy="327.4" r="4.1" fill="#5e4c87" stroke="#5e4c87"/>
<circle cx="1740.56" cy="327.93" r="4.1" fill="#5e4c87" stroke="#5e4c87"/>
<circle cx="1741.24" cy="327.74" r="4.1" fill="#5e4c87" stroke="#5e4c87"/>
<circle cx="1741.91" cy="326.22" r="4.1" fill="#5e4c87" stroke="#5e4c87"/>
<circle cx="1736.79" cy="327.86" r="4.1" fill="#5e4c87" stroke="#5e4c87"/>
<circle cx="1741.13" cy="327.76" r="4.1" fill="#5e4c87" stroke="#5e4c87"/>
<circle cx="1745.48" cy="326.17" r="4.1" fill="#5e4c87" stroke="#5e4c87"/>
<circle cx="1743.66" cy="326.41" r="4.1" fill="#5e4c87" stroke="#5e4c87"/>
<circle cx="1744.38" cy="325.79" r="4.1" fill="#5e4c87" stroke="#5e4c87"/>
<circle cx="1746.3" cy="325.71" r="4.1" fill="#5e4c87" stroke="#5e4c87"/>
<circle cx="1743.69" cy="325.1" r="4.1" fill="#5e4c87" stroke="#5e4c87"/>
<circle cx="1744.86" cy="325.61" r="4.1" fill="#5e4c87" stroke="#5e4c87"/>
<circle cx="1745.24" cy="324.01" r="4.1" fill="#5e4c87" stroke="#5e4c87"/>
<circle cx="1751.25" cy="325.49" r="4.1" fill="#5e4c87" stroke="#5e4c87"/>
<circle cx="1750.35" cy="324.68" r="4.1" fill="#5e4c87" stroke="#5e4c87"/>
<circle cx="1749.33" cy="325.24" r="4.1" fill="#5e4c87" stroke="#5e4c87"/>
<circle cx="1751.22" cy="322.74" r="4.1" fill="#5e4c87" stroke="#5e4c87"/>
<circle cx="1744.63" cy="323.64" r="4.1" fill="#5e4c87" stroke="#5e4c87"/>
<circle cx="1746.37" cy="322.88" r="4.1" fill="#5e4c87" stroke="#5e4c87"/>
<circle cx="1749.9" cy="323.47" r="4.1" fill="#5e4c87" stroke="#5e4c87"/>
<circle cx="1748.77" cy="323.77" r="4.1" fill="#5e4c87" stroke="#5e4c87"/>
<circle cx="1749.95" cy="322.78" r="4.1" fill="#5e4c87" stroke="#5e4c87"/>
<circle cx="1748.05" cy="322.45" r="4.1" fill="#5e4c87" stroke="#5e4c87"/>
<circle cx="1752.74" cy="322.13" r="4.1" fill="#5e4c87" stroke="#5e4c87"/>
<circle cx="1757.51" cy="323.17" r="4.1" fill="#5e4c87" stroke="#5e4c87"/>
<circle cx="1753.36" cy="323.64" r="4.1" fill="#5e4c87" stroke="#5e4c87"/>
<circle cx="1745.76" cy="323.54" r="4.1" fill="#5e4c87" stroke="#5e4c87"/>
<circle cx="1746.86" cy="322.75" r="4.1" fill="#5e4c87" stroke="#5e4c87"/>
<circle cx="1744.4" cy="322.09" r="4.1" fill="#5e4c87" stroke="#5e4c87"/>
<circle cx="1739.97" cy="322.43" r="4.1" fill="#5e4c87" stroke="#5e4c87"/>
<circle cx="1741.68" cy="321.69" r="4.1" fill="#5e4c87" stroke="#5e4c87"/>
<circle cx="1744.31" cy="321.63" r="4.1" fill="#5e4c87" stroke="#5e4c87"/>
<circle cx="1747.66" cy="322.64" r="4.1" fill="#5e4c87" stroke="#5e4c87"/>
<circle cx="1747.69" cy="321.78" r="4.1" fill="#5e4c87" stroke="#5e4c87"/>
<circle cx="1743.56" cy="322.07" r="4.1" fill="#5e4c87" stroke="#5e4c87"/>
<circle cx="1742.83" cy="321.42" r="4.1" fill="#5e4c87" stroke="#5e4c87"/>
<circle cx="1740.8" cy="322.26" r="4.1" fill="#5e4c87" stroke="#5e4c87"/>
<circle cx="1741.78" cy="322.13" r="4.1" fill="#5e4c87" stroke="#5e4c87"/>
<circle cx="1744.04" cy="320.48" r="4.1" fill="#5e4c87" stroke="#5e4c87"/>
<circle cx="1742.02" cy="320.69" r="4.1" fill="#5e4c87" stroke="#5e4c87"/>
<circle cx="1744.91" cy="320.05" r="4.1" fill="#5e4c87" stroke="#5e4c87"/>
<circle cx="1747.76" cy="321.18" r="4.1" fill="#5e4c87" stroke="#5e4c87"/>
<circle cx="1751.26" cy="320.95" r="4.1" fill="#5e4c87" stroke="#5e4c87"/>
<circle cx="1745.92" cy="320.93" r="4.1" fill="#8651a2" stroke="#8651a2"/>
<circle cx="1755.09" cy="321.17" r="4.1" fill="#8651a2" stroke="#8651a2"/>
<circle cx="1752.09" cy="320.51" r="4.1" fill="#8651a2" stroke="#8651a2"/>
<circle cx="1756.22" cy="320.32" r="4.1" fill="#8651a2" stroke="#8651a2"/>
<circle cx="1754.59" cy="319.8" r="4.1" fill="#8651a2" stroke="#8651a2"/>
<circle cx="1761.51" cy="318.92" r="4.1" fill="#8651a2" stroke="#8651a2"/>
<circle cx="1756.93" cy="318.63" r="4.1" fill="#8651a2" stroke="#8651a2"/>
<circle cx="1753.43" cy="320.34" r="4.1" fill="#8651a2" stroke="#8651a2"/>
<circle cx="1757.26" cy="318.72" r="4.1" fill="#8651a2" stroke="#8651a2"/>
<circle cx="1761.33" cy="317.79" r="4.1" fill="#8651a2" stroke="#8651a2"/>
<circle cx="1761.87" cy="317.39" r="4.1" fill="#8651a2" stroke="#8651a2"/>
<circle cx="1761.27" cy="317.35" r="4.1" fill="#8651a2" stroke="#8651a2"/>
<circle cx="1761.98" cy="317.21" r="4.1" fill="#8651a2" stroke="#8651a2"/>
<circle cx="1765.43" cy="314.36" r="4.1" fill="#8651a2" stroke="#8651a2"/>
<circle cx="1769.61" cy="312.92" r="4.1" fill="#8651a2" stroke="#8651a2"/>
<circle cx="1770.72" cy="312.51" r="4.1" fill="#8651a2" stroke="#8651a2"/>
<circle cx="1764.75" cy="312.94" r="4.1" fill="#8651a2" stroke="#8651a2"/>
<circle cx="1767.49" cy="313.58" r="4.1" fill="#8651a2" stroke="#8651a2"/>
<circle cx="1761.68" cy="313.29" r="4.1" fill="#8651a2" stroke="#8651a2"/>
<circle cx="1768.58" cy="311.51" r="4.1" fill="#8651a2" stroke="#8651a2"/>
<circle cx="1763.77" cy="310.88" r="4.1" fill="#8651a2" stroke="#8651a2"/>
<circle cx="1760.98" cy="311.61" r="4.1" fill="#8651a2" stroke="#8651a2"/>
<circle cx="1755.82" cy="311.8" r="4.1" fill="#8651a2" stroke="#8651a2"/>
<circle cx="1758.6" cy="309.63" r="4.1" fill="#8651a2" stroke="#8651a2"/>
<circle cx="1760.46" cy="309.83" r="4.1" fill="#8651a2" stroke="#8651a2"/>
<circle cx="1758.9" cy="309.59" r="4.1" fill="#8651a2" stroke="#8651a2"/>
<circle cx="1757.83" cy="308.81" r="4.1" fill="#8651a2" stroke="#8651a2"/>
<circle cx="1759.6" cy="308.76" r="4.1" fill="#8651a2" stroke="#8651a2"/>
<circle cx="1758.37" cy="307.9" r="4.1" fill="#8651a2" stroke="#8651a2"/>
<circle cx="1760.04" cy="307.87" r="4.1" fill="#8651a2" stroke="#8651a2"/>
<circle cx="1759.87" cy="306.78" r="4.1" fill="#8651a2" stroke="#8651a2"/>
<circle cx="1762.07" cy="307.45" r="4.1" fill="#8651a2" stroke="#8651a2"/>
<circle cx="1766.17" cy="307.79" r="4.1" fill="#8651a2" stroke="#8651a2"/>
<circle cx="1763.09" cy="307.51" r="4.1" fill="#8651a2" stroke="#8651a2"/>
<circle cx="1770.55" cy="307.27" r="4.1" fill="#8651a2" stroke="#8651a2"/>
<circle cx="1771.29" cy="306.95" r="4.1" fill="#8651a2" stroke="#8651a2"/>
<circle cx="1770.16" cy="306.49" r="4.1" fill="#8651a2" stroke="#8651a2"/>
<circle cx="1772.75" cy="307.34" r="4.1" fill="#8651a2" stroke="#8651a2"/>
<circle cx="1767.92" cy="306.04" r="4.1" fill="#8651a2" stroke="#8651a2"/>
<circle cx="1766.92" cy="305.69" r="4.1" fill="#8651a2" stroke="#8651a2"/>
<circle cx="1766.68" cy="305.75" r="4.1" fill="#8651a2" stroke="#8651a2"/>
<circle cx="1769.82" cy="304.59" r="4.1" fill="#8651a2" stroke="#8651a2"/>
<circle cx="1770.28" cy="303.59" r="4.1" fill="#8651a2" stroke="#8651a2"/>
<circle cx="1771.27" cy="303.76" r="4.1" fill="#8651a2" stroke="#8651a2"/>
<circle cx="1770.65" cy="302.42" r="4.1" fill="#8651a2" stroke="#8651a2"/>
<circle cx="1759.18" cy="303.12" r="4.1" fill="#a55da6" stroke="#a55da6"/>
<circle cx="1758.79" cy="302.28" r="4.1" fill="#a55da6" stroke="#a55da6"/>
<circle cx="1756.46" cy="303.12" r="4.1" fill="#a55da6" stroke="#a55da6"/>
<circle cx="1755.19" cy="301.02" r="4.1" fill="#a55da6" stroke="#a55da6"/>
<circle cx="1760.07" cy="302.58" r="4.1" fill="#a55da6" stroke="#a55da6"/>
<circle cx="1762.02" cy="301.32" r="4.1" fill="#a55da6" stroke="#a55da6"/>
<circle cx="1761.71" cy="300.47" r="4.1" fill="#a55da6" stroke="#a55da6"/>
<circle cx="1767.61" cy="299.19" r="4.1" fill="#a55da6" stroke="#a55da6"/>
<circle cx="1766.16" cy="300.44" r="4.1" fill="#a55da6" stroke="#a55da6"/>
<circle cx="1777.16" cy="300.21" r="4.1" fill="#a55da6" stroke="#a55da6"/>
<circle cx="1768.78" cy="298.84" r="4.1" fill="#a55da6" stroke="#a55da6"/>
<circle cx="1770.23" cy="298.24" r="4.1" fill="#a55da6" stroke="#a55da6"/>
<circle cx="1764.95" cy="297.96" r="4.1" fill="#a55da6" stroke="#a55da6"/>
<circle cx="1770.02" cy="298.91" r="4.1" fill="#a55da6" stroke="#a55da6"/>
<circle cx="1772.74" cy="296.54" r="4.1" fill="#a55da6" stroke="#a55da6"/>
<circle cx="1771.88" cy="297.02" r="4.1" fill="#a55da6" stroke="#a55da6"/>
<circle cx="1769.62" cy="297.38" r="4.1" fill="#a55da6" stroke="#a55da6"/>
<circle cx="1776.32" cy="295.61" r="4.1" fill="#a55da6" stroke="#a55da6"/>
<circle cx="1764.23" cy="296.07" r="4.1" fill="#a55da6" stroke="#a55da6"/>
<circle cx="1762.93" cy="295.93" r="4.1" fill="#a55da6" stroke="#a55da6"/>
<circle cx="1765.05" cy="294.8" r="4.1" fill="#a55da6" stroke="#a55da6"/>
<circle cx="1759.66" cy="294.89" r="4.1" fill="#a55da6" stroke="#a55da6"/>
<circle cx="1768.71" cy="292.3" r="4.1" fill="#a55da6" stroke="#a55da6"/>
<circle cx="1772.97" cy="293.39" r="4.1" fill="#a55da6" stroke="#a55da6"/>
<circle cx="1767.33" cy="292.29" r="4.1" fill="#a55da6" stroke="#a55da6"/>
<circle cx="1768.35" cy="292.04" r="4.1" fill="#a55da6" stroke="#a55da6"/>
<circle cx="1770.23" cy="292.4" r="4.1" fill="#a55da6" stroke="#a55da6"/>
<circle cx="1776.01" cy="291.27" r="4.1" fill="#a55da6" stroke="#a55da6"/>
<circle cx="1779.63" cy="291.34" r="4.1" fill="#a55da6" stroke="#a55da6"/>
<circle cx="1779.35" cy="291.18" r="4.1" fill="#a55da6" stroke="#a55da6"/>
<circle cx="1764.18" cy="288.36" r="4.1" fill="#c7659c" stroke="#c7659c"/>
<circle cx="1766.06" cy="287.57" r="4.1" fill="#c7659c" stroke="#c7659c"/>
<circle cx="1768.83" cy="288.11" r="4.1" fill="#c7659c" stroke="#c7659c"/>
<circle cx="1775.84" cy="286.44" r="4.1" fill="#c7659c" stroke="#c7659c"/>
<circle cx="1775.78" cy="285.35" r="4.1" fill="#c7659c" stroke="#c7659c"/>
<circle cx="1778.52" cy="285.08" r="4.1" fill="#c7659c" stroke="#c7659c"/>
<circle cx="1777.23" cy="284.77" r="4.1" fill="#c7659c" stroke="#c7659c"/>
<circle cx="1779.79" cy="284.58" r="4.1" fill="#c7659c" stroke="#c7659c"/>
<circle cx="1774.56" cy="282.67" r="4.1" fill="#c7659c" stroke="#c7659c"/>
<circle cx="1777.94" cy="282.95" r="4.1" fill="#c7659c" stroke="#c7659c"/>
<circle cx="1779.18" cy="282.48" r="4.1" fill="#c7659c" stroke="#c7659c"/>
<circle cx="1781.25" cy="281.77" r="4.1" fill="#c7659c" stroke="#c7659c"/>
<circle cx="1780.39" cy="278.13" r="4.1" fill="#c7659c" stroke="#c7659c"/>
<circle cx="1777.95" cy="278.23" r="4.1" fill="#c7659c" stroke="#c7659c"/>
<circle cx="1778.21" cy="278.42" r="4.1" fill="#c7659c" stroke="#c7659c"/>
<circle cx="1777.98" cy="277.35" r="4.1" fill="#c7659c" stroke="#c7659c"/>
<circle cx="1773.92" cy="277.18" r="4.1" fill="#c7659c" stroke="#c7659c"/>
<circle cx="1778.21" cy="275.59" r="4.1" fill="#c7659c" stroke="#c7659c"/>
<circle cx="1779.74" cy="277.4" r="4.1" fill="#c7659c" stroke="#c7659c"/>
<circle cx="1787.92" cy="275.81" r="4.1" fill="#c7659c" stroke="#c7659c"/>
<circle cx="1780.23" cy="276.3" r="4.1" fill="#c7659c" stroke="#c7659c"/>
<circle cx="1786.56" cy="275.54" r="4.1" fill="#c7659c" stroke="#c7659c"/>
<circle cx="1780.39" cy="274.8" r="4.1" fill="#c7659c" stroke="#c7659c"/>
<circle cx="1773.35" cy="274.7" r="4.1" fill="#c7659c" stroke="#c7659c"/>
<circle cx="1777.15" cy="273.32" r="4.1" fill="#c7659c" stroke="#c7659c"/>
<circle cx="1776" cy="274.96" r="4.1" fill="#c7659c" stroke="#c7659c"/>
<circle cx="1775.22" cy="273.82" r="4.1" fill="#c7659c" stroke="#c7659c"/>
<circle cx="1775.33" cy="273.62" r="4.1" fill="#c7659c" stroke="#c7659c"/>
<circle cx="1793.85" cy="272.04" r="4.1" fill="#c7659c" stroke="#c7659c"/>
<circle cx="1791.9" cy="270.89" r="4.1" fill="#c7659c" stroke="#c7659c"/>
<circle cx="1794.94" cy="270.82" r="4.1" fill="#c7659c" stroke="#c7659c"/>
<circle cx="1794.22" cy="270.8" r="4.1" fill="#c7659c" stroke="#c7659c"/>
<circle cx="1795.47" cy="268.75" r="4.1" fill="#c7659c" stroke="#c7659c"/>
<circle cx="1793.55" cy="268.29" r="4.1" fill="#c7659c" stroke="#c7659c"/>
<circle cx="1794.93" cy="267.96" r="4.1" fill="#c7659c" stroke="#c7659c"/>
<circle cx="1795.9" cy="263.15" r="4.1" fill="#c7659c" stroke="#c7659c"/>
<circle cx="1795.06" cy="264.02" r="4.1" fill="#c7659c" stroke="#c7659c"/>
<circle cx="1796.56" cy="262.13" r="4.1" fill="#c7659c" stroke="#c7659c"/>
<circle cx="1798.06" cy="260.89" r="4.1" fill="#c7659c" stroke="#c7659c"/>
<circle cx="1794.9" cy="261.11" r="4.1" fill="#c7659c" stroke="#c7659c"/>
<circle cx="1791.29" cy="258.79" r="4.1" fill="#e8778c" stroke="#e8778c"/>
<circle cx="1791.56" cy="258.8" r="4.1" fill="#e8778c" stroke="#e8778c"/>
<circle cx="1794.91" cy="257.5" r="4.1" fill="#e8778c" stroke="#e8778c"/>
<circle cx="1791.24" cy="257.58" r="4.1" fill="#e8778c" stroke="#e8778c"/>
<circle cx="1792.06" cy="256.32" r="4.1" fill="#e8778c" stroke="#e8778c"/>
<circle cx="1792.8" cy="255.14" r="4.1" fill="#e8778c" stroke="#e8778c"/>
<circle cx="1795.79" cy="254.56" r="4.1" fill="#e8778c" stroke="#e8778c"/>
<circle cx="1802.97" cy="253.46" r="4.1" fill="#e8778c" stroke="#e8778c"/>
<circle cx="1804.65" cy="253.9" r="4.1" fill="#e8778c" stroke="#e8778c"/>
<circle cx="1805.56" cy="252.83" r="4.1" fill="#e8778c" stroke="#e8778c"/>
<circle cx="1808.16" cy="252.68" r="4.1" fill="#e8778c" stroke="#e8778c"/>
<circle cx="1808.86" cy="250.76" r="4.1" fill="#e8778c" stroke="#e8778c"/>
<circle cx="1804.57" cy="251.17" r="4.1" fill="#e8778c" stroke="#e8778c"/>
<circle cx="1803.8" cy="248.51" r="4.1" fill="#e8778c" stroke="#e8778c"/>
<circle cx="1805.28" cy="247.27" r="4.1" fill="#e8778c" stroke="#e8778c"/>
<circle cx="1800.67" cy="247.78" r="4.1" fill="#e8778c" stroke="#e8778c"/>
<circle cx="1799.61" cy="248.59" r="4.1" fill="#e8778c" stroke="#e8778c"/>
<circle cx="1802.16" cy="246.33" r="4.1" fill="#e8778c" stroke="#e8778c"/>
<circle cx="1802.01" cy="245.77" r="4.1" fill="#e8778c" stroke="#e8778c"/>
<circle cx="1805.57" cy="243.41" r="4.1" fill="#e8778c" stroke="#e8778c"/>
<circle cx="1809.88" cy="243.32" r="4.1" fill="#e8778c" stroke="#e8778c"/>
<circle cx="1807.93" cy="242.44" r="4.1" fill="#e8778c" stroke="#e8778c"/>
<circle cx="1808.94" cy="242.6" r="4.1" fill="#e8778c" stroke="#e8778c"/>
<circle cx="1810.12" cy="241.93" r="4.1" fill="#e8778c" stroke="#e8778c"/>
<circle cx="1810.5" cy="240.22" r="4.1" fill="#e8778c" stroke="#e8778c"/>
<circle cx="1805.45" cy="240.67" r="4.1" fill="#e8778c" stroke="#e8778c"/>
<circle cx="1811.93" cy="238.97" r="4.1" fill="#e8778c" stroke="#e8778c"/>
<circle cx="1807" cy="239.05" r="4.1" fill="#e8778c" stroke="#e8778c"/>
<circle cx="1803.59" cy="236.65" r="4.1" fill="#e8778c" stroke="#e8778c"/>
<circle cx="1808.84" cy="236.15" r="4.1" fill="#e8778c" stroke="#e8778c"/>
<circle cx="1806.02" cy="237.31" r="4.1" fill="#e8778c" stroke="#e8778c"/>
<circle cx="1816.98" cy="235.34" r="4.1" fill="#e8778c" stroke="#e8778c"/>
<circle cx="1814.53" cy="235.22" r="4.1" fill="#e8778c" stroke="#e8778c"/>
<circle cx="1815.66" cy="234.3" r="4.1" fill="#e8778c" stroke="#e8778c"/>
<circle cx="1814.55" cy="233.11" r="4.1" fill="#e8778c" stroke="#e8778c"/>
<circle cx="1815.08" cy="233.79" r="4.1" fill="#e8778c" stroke="#e8778c"/>
<circle cx="1813.46" cy="232.34" r="4.1" fill="#e8778c" stroke="#e8778c"/>
<circle cx="1817.05" cy="232.54" r="4.1" fill="#e8778c" stroke="#e8778c"/>
<circle cx="1817.48" cy="229.23" r="4.1" fill="#e8778c" stroke="#e8778c"/>
<circle cx="1815.86" cy="227.76" r="4.1" fill="#e8778c" stroke="#e8778c"/>
<circle cx="1820.67" cy="228.05" r="4.1" fill="#e8778c" stroke="#e8778c"/>
<circle cx="1826.54" cy="224.71" r="4.1" fill="#e8778c" stroke="#e8778c"/>
<circle cx="1826.74" cy="224.35" r="4.1" fill="#e8778c" stroke="#e8778c"/>
<circle cx="1819.7" cy="223.1" r="4.1" fill="#e8778c" stroke="#e8778c"/>
<circle cx="1824.87" cy="221.06" r="4.1" fill="#e8778c" stroke="#e8778c"/>
<circle cx="1826.74" cy="224.85" r="4.1" fill="#fb9d84" stroke="#fb9d84"/>
<circle cx="1829.22" cy="222.74" r="4.1" fill="#fb9d84" stroke="#fb9d84"/>
<circle cx="1829.67" cy="222.2" r="4.1" fill="#fb9d84" stroke="#fb9d84"/>
<circle cx="1826.54" cy="222.38" r="4.1" fill="#fb9d84" stroke="#fb9d84"/>
<circle cx="1829.77" cy="222.45" r="4.1" fill="#fb9d84" stroke="#fb9d84"/>
<circle cx="1832.1" cy="219.44" r="4.1" fill="#fb9d84" stroke="#fb9d84"/>
<circle cx="1833.97" cy="216.61" r="4.1" fill="#fb9d84" stroke="#fb9d84"/>
<circle cx="1837.39" cy="216.05" r="4.1" fill="#fb9d84" stroke="#fb9d84"/>
<circle cx="1835.62" cy="213.98" r="4.1" fill="#fb9d84" stroke="#fb9d84"/>
<circle cx="1834.36" cy="213.34" r="4.1" fill="#fb9d84" stroke="#fb9d84"/>
<circle cx="1832.73" cy="213.28" r="4.1" fill="#fb9d84" stroke="#fb9d84"/>
<circle cx="1836.93" cy="211.59" r="4.1" fill="#fb9d84" stroke="#fb9d84"/>
<circle cx="1837.21" cy="210.43" r="4.1" fill="#fb9d84" stroke="#fb9d84"/>
<circle cx="1843.36" cy="211.59" r="4.1" fill="#fb9d84" stroke="#fb9d84"/>
<circle cx="1825.24" cy="209.06" r="4.1" fill="#fb9d84" stroke="#fb9d84"/>
<circle cx="1824.52" cy="208.45" r="4.1" fill="#fb9d84" stroke="#fb9d84"/>
<circle cx="1826.62" cy="207.24" r="4.1" fill="#fb9d84" stroke="#fb9d84"/>
<circle cx="1830.93" cy="204.83" r="4.1" fill="#fb9d84" stroke="#fb9d84"/>
<circle cx="1830.09" cy="205.17" r="4.1" fill="#fb9d84" stroke="#fb9d84"/>
<circle cx="1831.79" cy="205.45" r="4.1" fill="#fb9d84" stroke="#fb9d84"/>
<circle cx="1837.67" cy="204.53" r="4.1" fill="#fb9d84" stroke="#fb9d84"/>
<circle cx="1834.73" cy="203.14" r="4.1" fill="#fb9d84" stroke="#fb9d84"/>
<circle cx="1829.11" cy="201.34" r="4.1" fill="#fb9d84" stroke="#fb9d84"/>
<circle cx="1831.12" cy="200.97" r="4.1" fill="#fb9d84" stroke="#fb9d84"/>
<circle cx="1834.95" cy="199.61" r="4.1" fill="#fb9d84" stroke="#fb9d84"/>
<circle cx="1838.76" cy="197.46" r="4.1" fill="#fb9d84" stroke="#fb9d84"/>
<circle cx="1844.84" cy="193.19" r="4.1" fill="#fb9d84" stroke="#fb9d84"/>
<circle cx="1842.52" cy="191.41" r="4.1" fill="#fb9d84" stroke="#fb9d84"/>
<circle cx="1842.01" cy="191.23" r="4.1" fill="#fb9d84" stroke="#fb9d84"/>
<circle cx="1844.18" cy="191.2" r="4.1" fill="#fb9d84" stroke="#fb9d84"/>
<circle cx="1844.55" cy="191.05" r="4.1" fill="#fb9d84" stroke="#fb9d84"/>
<circle cx="1839.22" cy="188.65" r="4.1" fill="#fb9d84" stroke="#fb9d84"/>
<circle cx="1835.29" cy="188.75" r="4.1" fill="#fb9d84" stroke="#fb9d84"/>
<circle cx="1841.62" cy="186.87" r="4.1" fill="#fb9d84" stroke="#fb9d84"/>
<circle cx="1841.6" cy="186.38" r="4.1" fill="#fb9d84" stroke="#fb9d84"/>
<circle cx="1837.1" cy="185.86" r="4.1" fill="#fb9d84" stroke="#fb9d84"/>
<circle cx="1840.68" cy="185.86" r="4.1" fill="#fb9d84" stroke="#fb9d84"/>
<circle cx="1844.99" cy="186.13" r="4.1" fill="#fb9d84" stroke="#fb9d84"/>
<circle cx="1839.05" cy="184.62" r="4.1" fill="#fb9d84" stroke="#fb9d84"/>
<circle cx="1844.2" cy="183.25" r="4.1" fill="#fb9d84" stroke="#fb9d84"/>
<circle cx="1843.92" cy="182.12" r="4.1" fill="#fb9d84" stroke="#fb9d84"/>
<circle cx="1846.23" cy="181.99" r="4.1" fill="#fb9d84" stroke="#fb9d84"/>
<circle cx="1850.43" cy="180.56" r="4.1" fill="#fb9d84" stroke="#fb9d84"/>
<circle cx="1847.84" cy="180.08" r="4.1" fill="#fb9d84" stroke="#fb9d84"/>
<circle cx="1867.1" cy="174.78" r="4.1" fill="#fec89c" stroke="#fec89c"/>
<circle cx="1871.09" cy="174.19" r="4.1" fill="#fec89c" stroke="#fec89c"/>
<circle cx="1863.35" cy="174.37" r="4.1" fill="#fec89c" stroke="#fec89c"/>
<circle cx="1864.68" cy="173.68" r="4.1" fill="#fec89c" stroke="#fec89c"/>
<circle cx="1865.21" cy="172.45" r="4.1" fill="#fec89c" stroke="#fec89c"/>
<circle cx="1864.7" cy="170.62" r="4.1" fill="#fec89c" stroke="#fec89c"/>
<circle cx="1862.33" cy="170.58" r="4.1" fill="#fec89c" stroke="#fec89c"/>
<circle cx="1862.9" cy="168.38" r="4.1" fill="#fec89c" stroke="#fec89c"/>
<circle cx="1869.38" cy="164.88" r="4.1" fill="#fec89c" stroke="#fec89c"/>
<circle cx="1867.03" cy="164.62" r="4.1" fill="#fec89c" stroke="#fec89c"/>
<circle cx="1866.98" cy="164.17" r="4.1" fill="#fec89c" stroke="#fec89c"/>
<circle cx="1864.36" cy="163.31" r="4.1" fill="#fec89c" stroke="#fec89c"/>
<circle cx="1859.9" cy="161.8" r="4.1" fill="#fec89c" stroke="#fec89c"/>
<circle cx="1861.21" cy="161.61" r="4.1" fill="#fec89c" stroke="#fec89c"/>
<circle cx="1859.11" cy="160.85" r="4.1" fill="#fec89c" stroke="#fec89c"/>
<circle cx="1860.93" cy="160.89" r="4.1" fill="#fec89c" stroke="#fec89c"/>
<circle cx="1862.18" cy="158.98" r="4.1" fill="#fec89c" stroke="#fec89c"/>
<circle cx="1872.11" cy="157.91" r="4.1" fill="#fec89c" stroke="#fec89c"/>
<circle cx="1868.6" cy="156.35" r="4.1" fill="#fec89c" stroke="#fec89c"/>
<circle cx="1867.42" cy="155.81" r="4.1" fill="#fec89c" stroke="#fec89c"/>
<circle cx="1868.45" cy="145.57" r="4.1" fill="#fec89c" stroke="#fec89c"/>
<circle cx="1865.84" cy="141.45" r="4.1" fill="#fec89c" stroke="#fec89c"/>
<circle cx="1867.47" cy="140.39" r="4.1" fill="#fec89c" stroke="#fec89c"/>
<circle cx="1867.26" cy="139.66" r="4.1" fill="#fec89c" stroke="#fec89c"/>
<circle cx="1864.28" cy="139.53" r="4.1" fill="#fec89c" stroke="#fec89c"/>
<circle cx="1866.31" cy="132.3" r="4.1" fill="#fec89c" stroke="#fec89c"/>
<circle cx="1868.05" cy="132.63" r="4.1" fill="#fec89c" stroke="#fec89c"/>
<circle cx="1867.58" cy="129.62" r="4.1" fill="#fec89c" stroke="#fec89c"/>
<circle cx="1870.44" cy="126.39" r="4.1" fill="#fec89c" stroke="#fec89c"/>
<circle cx="1877.52" cy="120.2" r="4.1" fill="#fec89c" stroke="#fec89c"/>
<circle cx="1880.62" cy="118.69" r="4.1" fill="#fec89c" stroke="#fec89c"/>
<circle cx="1876.41" cy="114.58" r="4.1" fill="#fec89c" stroke="#fec89c"/>
<circle cx="1884.82" cy="107.99" r="4.1" fill="#fec89c" stroke="#fec89c"/>
<circle cx="1886.29" cy="106.01" r="4.1" fill="#fec89c" stroke="#fec89c"/>
<circle cx="1888.24" cy="105.69" r="4.1" fill="#fec89c" stroke="#fec89c"/>
<circle cx="1896.73" cy="102.04" r="4.1" fill="#fec89c" stroke="#fec89c"/>
<circle cx="1899.31" cy="100.06" r="4.1" fill="#fec89c" stroke="#fec89c"/>
<circle cx="1908.94" cy="97.37" r="4.1" fill="#fec89c" stroke="#fec89c"/>
<circle cx="1910.81" cy="93.69" r="4.1" fill="#fec89c" stroke="#fec89c"/>
<circle cx="1905.81" cy="91.21" r="4.1" fill="#fec89c" stroke="#fec89c"/>
<circle cx="1908.47" cy="88.11" r="4.1" fill="#fec89c" stroke="#fec89c"/>
<circle cx="1906.02" cy="86.7" r="4.1" fill="#fec89c" stroke="#fec89c"/>
<circle cx="1914.32" cy="82.06" r="4.1" fill="#fec89c" stroke="#fec89c"/>
<circle cx="1915.61" cy="78.73" r="4.1" fill="#fec89c" stroke="#fec89c"/>
<circle cx="1913.94" cy="77.2" r="4.1" fill="#fec89c" stroke="#fec89c"/>
<circle cx="1897.93" cy="77.16" r="4.1" fill="#fec89c" stroke="#fec89c"/>
<circle cx="1900.39" cy="68.63" r="4.1" fill="#fec89c" stroke="#fec89c"/>
<circle cx="1906.09" cy="64.06" r="4.1" fill="#fec89c" stroke="#fec89c"/>
<circle cx="1901.28" cy="61.33" r="4.1" fill="#fec89c" stroke="#fec89c"/>
<circle cx="1911.44" cy="60.11" r="4.1" fill="#fec89c" stroke="#fec89c"/>
<circle cx="1912.63" cy="60.49" r="4.1" fill="#fec89c" stroke="#fec89c"/>
<circle cx="1916" cy="59.34" r="4.1" fill="#fec89c" stroke="#fec89c"/>
<circle cx="1919.7" cy="57.09" r="4.1" fill="#fec89c" stroke="#fec89c"/>
<circle cx="1744.82" cy="402.28" r="4.1" fill="#5e4c87" stroke="#5e4c87"/>
<circle cx="1745.17" cy="402.37" r="4.1" fill="#5e4c87" stroke="#5e4c87"/>
<circle cx="1749.26" cy="403.08" r="4.1" fill="#5e4c87" stroke="#5e4c87"/>
<circle cx="1745.54" cy="403.01" r="4.1" fill="#5e4c87" stroke="#5e4c87"/>
<circle cx="1748" cy="403.9" r="4.1" fill="#5e4c87" stroke="#5e4c87"/>
<circle cx="1749.91" cy="403.68" r="4.1" fill="#5e4c87" stroke="#5e4c87"/>
<circle cx="1747.31" cy="404.77" r="4.1" fill="#5e4c87" stroke="#5e4c87"/>
<circle cx="1747.11" cy="403.63" r="4.1" fill="#5e4c87" stroke="#5e4c87"/>
<circle cx="1751.3" cy="404.65" r="4.1" fill="#5e4c87" stroke="#5e4c87"/>
<circle cx="1754.33" cy="403.84" r="4.1" fill="#5e4c87" stroke="#5e4c87"/>
<circle cx="1753.71" cy="403.84" r="4.1" fill="#5e4c87" stroke="#5e4c87"/>
<circle cx="1747.82" cy="404.01" r="4.1" fill="#5e4c87" stroke="#5e4c87"/>
<circle cx="1744.12" cy="405.38" r="4.1" fill="#5e4c87" stroke="#5e4c87"/>
<circle cx="1746.14" cy="405.08" r="4.1" fill="#5e4c87" stroke="#5e4c87"/>
<circle cx="1747.81" cy="404.67" r="4.1" fill="#5e4c87" stroke="#5e4c87"/>
<circle cx="1747.27" cy="406.56" r="4.1" fill="#5e4c87" stroke="#5e4c87"/>
<circle cx="1752.8" cy="406.37" r="4.1" fill="#5e4c87" stroke="#5e4c87"/>
<circle cx="1753.61" cy="405.68" r="4.1" fill="#5e4c87" stroke="#5e4c87"/>
<circle cx="1749.35" cy="405.68" r="4.1" fill="#5e4c87" stroke="#5e4c87"/>
<circle cx="1750.55" cy="405.91" r="4.1" fill="#5e4c87" stroke="#5e4c87"/>
<circle cx="1753.49" cy="405.22" r="4.1" fill="#5e4c87" stroke="#5e4c87"/>
<circle cx="1754.75" cy="407.64" r="4.1" fill="#5e4c87" stroke="#5e4c87"/>
<circle cx="1749.89" cy="406.22" r="4.1" fill="#5e4c87" stroke="#5e4c87"/>
<circle cx="1746.84" cy="406.43" r="4.1" fill="#5e4c87" stroke="#5e4c87"/>
<circle cx="1746.28" cy="406.7" r="4.1" fill="#5e4c87" stroke="#5e4c87"/>
<circle cx="1741.51" cy="406.59" r="4.1" fill="#5e4c87" stroke="#5e4c87"/>
<circle cx="1743.38" cy="406.46" r="4.1" fill="#5e4c87" stroke="#5e4c87"/>
<circle cx="1737.62" cy="407.87" r="4.1" fill="#5e4c87" stroke="#5e4c87"/>
<circle cx="1743.28" cy="407.13" r="4.1" fill="#5e4c87" stroke="#5e4c87"/>
<circle cx="1746.64" cy="407.41" r="4.1" fill="#5e4c87" stroke="#5e4c87"/>
<circle cx="1747.69" cy="407.71" r="4.1" fill="#5e4c87" stroke="#5e4c87"/>
<circle cx="1744.6" cy="409.05" r="4.1" fill="#5e4c87" stroke="#5e4c87"/>
<circle cx="1745.4" cy="408.46" r="4.1" fill="#5e4c87" stroke="#5e4c87"/>
<circle cx="1743.74" cy="408.66" r="4.1" fill="#5e4c87" stroke="#5e4c87"/>
<circle cx="1741.88" cy="409.73" r="4.1" fill="#5e4c87" stroke="#5e4c87"/>
<circle cx="1749.81" cy="409.31" r="4.1" fill="#5e4c87" stroke="#5e4c87"/>
<circle cx="1747.14" cy="409.89" r="4.1" fill="#5e4c87" stroke="#5e4c87"/>
<circle cx="1743.21" cy="410.71" r="4.1" fill="#5e4c87" stroke="#5e4c87"/>
<circle cx="1745.35" cy="410.44" r="4.1" fill="#5e4c87" stroke="#5e4c87"/>
<circle cx="1750.8" cy="410.38" r="4.1" fill="#5e4c87" stroke="#5e4c87"/>
<circle cx="1758.63" cy="411.44" r="4.1" fill="#5e4c87" stroke="#5e4c87"/>
<circle cx="1758.61" cy="410.56" r="4.1" fill="#5e4c87" stroke="#5e4c87"/>
<circle cx="1764.77" cy="410.92" r="4.1" fill="#5e4c87" stroke="#5e4c87"/>
<circle cx="1763.78" cy="410.33" r="4.1" fill="#5e4c87" stroke="#5e4c87"/>
<circle cx="1764.15" cy="411.5" r="4.1" fill="#5e4c87" stroke="#5e4c87"/>
<circle cx="1769.53" cy="412.21" r="4.1" fill="#5e4c87" stroke="#5e4c87"/>
<circle cx="1767.35" cy="411.46" r="4.1" fill="#5e4c87" stroke="#5e4c87"/>
<circle cx="1766.93" cy="413.23" r="4.1" fill="#5e4c87" stroke="#5e4c87"/>
<circle cx="1758.8" cy="412.8" r="4.1" fill="#5e4c87" stroke="#5e4c87"/>
<circle cx="1755.93" cy="412.74" r="4.1" fill="#5e4c87" stroke="#5e4c87"/>
<circle cx="1755.09" cy="411.45" r="4.1" fill="#8651a2" stroke="#8651a2"/>
<circle cx="1758.83" cy="412.68" r="4.1" fill="#8651a2" stroke="#8651a2"/>
<circle cx="1761.81" cy="413.09" r="4.1" fill="#8651a2" stroke="#8651a2"/>
<circle cx="1759.03" cy="413.59" r="4.1" fill="#8651a2" stroke="#8651a2"/>
<circle cx="1756.12" cy="413.74" r="4.1" fill="#8651a2" stroke="#8651a2"/>
<circle cx="1759.09" cy="415.2" r="4.1" fill="#8651a2" stroke="#8651a2"/>
<circle cx="1759.26" cy="415.45" r="4.1" fill="#8651a2" stroke="#8651a2"/>
<circle cx="1758.45" cy="417.48" r="4.1" fill="#8651a2" stroke="#8651a2"/>
<circle cx="1757.22" cy="416.33" r="4.1" fill="#8651a2" stroke="#8651a2"/>
<circle cx="1763.29" cy="418.85" r="4.1" fill="#8651a2" stroke="#8651a2"/>
<circle cx="1765.38" cy="417.83" r="4.1" fill="#8651a2" stroke="#8651a2"/>
<circle cx="1760.22" cy="418.06" r="4.1" fill="#8651a2" stroke="#8651a2"/>
<circle cx="1756.64" cy="419.23" r="4.1" fill="#8651a2" stroke="#8651a2"/>
<circle cx="1756.93" cy="419.32" r="4.1" fill="#8651a2" stroke="#8651a2"/>
<circle cx="1760.98" cy="420.79" r="4.1" fill="#8651a2" stroke="#8651a2"/>
<circle cx="1761.22" cy="420.49" r="4.1" fill="#8651a2" stroke="#8651a2"/>
<circle cx="1764.39" cy="420.68" r="4.1" fill="#8651a2" stroke="#8651a2"/>
<circle cx="1760.26" cy="421.62" r="4.1" fill="#8651a2" stroke="#8651a2"/>
<circle cx="1757.42" cy="422.14" r="4.1" fill="#8651a2" stroke="#8651a2"/>
<circle cx="1757.89" cy="420.81" r="4.1" fill="#8651a2" stroke="#8651a2"/>
<circle cx="1756.56" cy="421.12" r="4.1" fill="#8651a2" stroke="#8651a2"/>
<circle cx="1765.49" cy="421.37" r="4.1" fill="#8651a2" stroke="#8651a2"/>
<circle cx="1764.99" cy="421.64" r="4.1" fill="#8651a2" stroke="#8651a2"/>
<circle cx="1765.39" cy="423.31" r="4.1" fill="#8651a2" stroke="#8651a2"/>
<circle cx="1764.38" cy="423.22" r="4.1" fill="#8651a2" stroke="#8651a2"/>
<circle cx="1766.59" cy="423.29" r="4.1" fill="#8651a2" stroke="#8651a2"/>
<circle cx="1768.54" cy="424.35" r="4.1" fill="#8651a2" stroke="#8651a2"/>
<circle cx="1769.26" cy="424.5" r="4.1" fill="#8651a2" stroke="#8651a2"/>
<circle cx="1764.92" cy="425.46" r="4.1" fill="#8651a2" stroke="#8651a2"/>
<circle cx="1763.46" cy="425.98" r="4.1" fill="#8651a2" stroke="#8651a2"/>
<circle cx="1761.31" cy="425.2" r="4.1" fill="#8651a2" stroke="#8651a2"/>
<circle cx="1760.04" cy="427.52" r="4.1" fill="#8651a2" stroke="#8651a2"/>
<circle cx="1760.41" cy="427.45" r="4.1" fill="#8651a2" stroke="#8651a2"/>
<circle cx="1760.92" cy="426.65" r="4.1" fill="#8651a2" stroke="#8651a2"/>
<circle cx="1763.88" cy="427.54" r="4.1" fill="#8651a2" stroke="#8651a2"/>
<circle cx="1756.13" cy="427.51" r="4.1" fill="#8651a2" stroke="#8651a2"/>
<circle cx="1757.21" cy="426.94" r="4.1" fill="#8651a2" stroke="#8651a2"/>
<circle cx="1762.95" cy="428.12" r="4.1" fill="#8651a2" stroke="#8651a2"/>
<circle cx="1765.95" cy="427.3" r="4.1" fill="#8651a2" stroke="#8651a2"/>
<circle cx="1763.64" cy="428.5" r="4.1" fill="#8651a2" stroke="#8651a2"/>
<circle cx="1758.25" cy="428.28" r="4.1" fill="#8651a2" stroke="#8651a2"/>
<circle cx="1755.22" cy="429.15" r="4.1" fill="#8651a2" stroke="#8651a2"/>
<circle cx="1753.85" cy="430.19" r="4.1" fill="#8651a2" stroke="#8651a2"/>
<circle cx="1756.2" cy="429.85" r="4.1" fill="#8651a2" stroke="#8651a2"/>
<circle cx="1758.2" cy="429.81" r="4.1" fill="#8651a2" stroke="#8651a2"/>
<circle cx="1777.85" cy="430.01" r="4.1" fill="#a55da6" stroke="#a55da6"/>
<circle cx="1773.33" cy="431.01" r="4.1" fill="#a55da6" stroke="#a55da6"/>
<circle cx="1766.99" cy="430.64" r="4.1" fill="#a55da6" stroke="#a55da6"/>
<circle cx="1770.11" cy="431.35" r="4.1" fill="#a55da6" stroke="#a55da6"/>
<circle cx="1766.62" cy="432.26" r="4.1" fill="#a55da6" stroke="#a55da6"/>
<circle cx="1770.2" cy="432.71" r="4.1" fill="#a55da6" stroke="#a55da6"/>
<circle cx="1765.4" cy="433.14" r="4.1" fill="#a55da6" stroke="#a55da6"/>
<circle cx="1766.73" cy="433.54" r="4.1" fill="#a55da6" stroke="#a55da6"/>
<circle cx="1769.22" cy="433.19" r="4.1" fill="#a55da6" stroke="#a55da6"/>
<circle cx="1773.12" cy="432.25" r="4.1" fill="#a55da6" stroke="#a55da6"/>
<circle cx="1776.1" cy="434.2" r="4.1" fill="#a55da6" stroke="#a55da6"/>
<circle cx="1778.8" cy="434.69" r="4.1" fill="#a55da6" stroke="#a55da6"/>
<circle cx="1780.03" cy="434.34" r="4.1" fill="#a55da6" stroke="#a55da6"/>
<circle cx="1776.2" cy="434.32" r="4.1" fill="#a55da6" stroke="#a55da6"/>
<circle cx="1774.34" cy="436.08" r="4.1" fill="#a55da6" stroke="#a55da6"/>
<circle cx="1775.63" cy="435.59" r="4.1" fill="#a55da6" stroke="#a55da6"/>
<circle cx="1778.97" cy="437.04" r="4.1" fill="#a55da6" stroke="#a55da6"/>
<circle cx="1779.5" cy="437.27" r="4.1" fill="#a55da6" stroke="#a55da6"/>
<circle cx="1778.13" cy="438.52" r="4.1" fill="#a55da6" stroke="#a55da6"/>
<circle cx="1771.29" cy="438.36" r="4.1" fill="#a55da6" stroke="#a55da6"/>
<circle cx="1772.58" cy="439.09" r="4.1" fill="#a55da6" stroke="#a55da6"/>
<circle cx="1776.35" cy="439.4" r="4.1" fill="#a55da6" stroke="#a55da6"/>
<circle cx="1779.34" cy="438.61" r="4.1" fill="#a55da6" stroke="#a55da6"/>
<circle cx="1772.44" cy="439.8" r="4.1" fill="#a55da6" stroke="#a55da6"/>
<circle cx="1775.57" cy="441.42" r="4.1" fill="#a55da6" stroke="#a55da6"/>
<circle cx="1778.76" cy="439.91" r="4.1" fill="#a55da6" stroke="#a55da6"/>
<circle cx="1776.17" cy="440.8" r="4.1" fill="#a55da6" stroke="#a55da6"/>
<circle cx="1774.49" cy="443.49" r="4.1" fill="#a55da6" stroke="#a55da6"/>
<circle cx="1774.51" cy="444.54" r="4.1" fill="#a55da6" stroke="#a55da6"/>
<circle cx="1773.1" cy="444.66" r="4.1" fill="#a55da6" stroke="#a55da6"/>
<circle cx="1776.68" cy="444.63" r="4.1" fill="#c7659c" stroke="#c7659c"/>
<circle cx="1777.05" cy="445.02" r="4.1" fill="#c7659c" stroke="#c7659c"/>
<circle cx="1771.61" cy="445.2" r="4.1" fill="#c7659c" stroke="#c7659c"/>
<circle cx="1776.14" cy="445.88" r="4.1" fill="#c7659c" stroke="#c7659c"/>
<circle cx="1771.68" cy="446.83" r="4.1" fill="#c7659c" stroke="#c7659c"/>
<circle cx="1769.47" cy="445.87" r="4.1" fill="#c7659c" stroke="#c7659c"/>
<circle cx="1767.77" cy="448.21" r="4.1" fill="#c7659c" stroke="#c7659c"/>
<circle cx="1767.42" cy="448.26" r="4.1" fill="#c7659c" stroke="#c7659c"/>
<circle cx="1772.59" cy="448.54" r="4.1" fill="#c7659c" stroke="#c7659c"/>
<circle cx="1774.98" cy="450.45" r="4.1" fill="#c7659c" stroke="#c7659c"/>
<circle cx="1777.8" cy="450.65" r="4.1" fill="#c7659c" stroke="#c7659c"/>
<circle cx="1779.39" cy="451.58" r="4.1" fill="#c7659c" stroke="#c7659c"/>
<circle cx="1784.99" cy="451.67" r="4.1" fill="#c7659c" stroke="#c7659c"/>
<circle cx="1775.08" cy="451.68" r="4.1" fill="#c7659c" stroke="#c7659c"/>
<circle cx="1780.05" cy="453.25" r="4.1" fill="#c7659c" stroke="#c7659c"/>
<circle cx="1779.29" cy="453.18" r="4.1" fill="#c7659c" stroke="#c7659c"/>
<circle cx="1782.94" cy="453.72" r="4.1" fill="#c7659c" stroke="#c7659c"/>
<circle cx="1784.04" cy="455.01" r="4.1" fill="#c7659c" stroke="#c7659c"/>
<circle cx="1778.97" cy="454.69" r="4.1" fill="#c7659c" stroke="#c7659c"/>
<circle cx="1782.61" cy="456.2" r="4.1" fill="#c7659c" stroke="#c7659c"/>
<circle cx="1777.94" cy="458.13" r="4.1" fill="#c7659c" stroke="#c7659c"/>
<circle cx="1776.97" cy="458.74" r="4.1" fill="#c7659c" stroke="#c7659c"/>
<circle cx="1781.72" cy="459.56" r="4.1" fill="#c7659c" stroke="#c7659c"/>
<circle cx="1787.01" cy="459.29" r="4.1" fill="#c7659c" stroke="#c7659c"/>
<circle cx="1785.74" cy="460.62" r="4.1" fill="#c7659c" stroke="#c7659c"/>
<circle cx="1784.3" cy="461.15" r="4.1" fill="#c7659c" stroke="#c7659c"/>
<circle cx="1785.21" cy="460.92" r="4.1" fill="#c7659c" stroke="#c7659c"/>
<circle cx="1785.61" cy="462.58" r="4.1" fill="#c7659c" stroke="#c7659c"/>
<circle cx="1783.78" cy="461.29" r="4.1" fill="#c7659c" stroke="#c7659c"/>
<circle cx="1788.43" cy="462.45" r="4.1" fill="#c7659c" stroke="#c7659c"/>
<circle cx="1794.27" cy="462.66" r="4.1" fill="#c7659c" stroke="#c7659c"/>
<circle cx="1788.07" cy="464.24" r="4.1" fill="#c7659c" stroke="#c7659c"/>
<circle cx="1784.32" cy="465.02" r="4.1" fill="#c7659c" stroke="#c7659c"/>
<circle cx="1782.42" cy="465.98" r="4.1" fill="#c7659c" stroke="#c7659c"/>
<circle cx="1785.18" cy="468.6" r="4.1" fill="#c7659c" stroke="#c7659c"/>
<circle cx="1789.58" cy="470.61" r="4.1" fill="#c7659c" stroke="#c7659c"/>
<circle cx="1795.86" cy="472.75" r="4.1" fill="#c7659c" stroke="#c7659c"/>
<circle cx="1792.59" cy="475.73" r="4.1" fill="#c7659c" stroke="#c7659c"/>
<circle cx="1798.19" cy="476.35" r="4.1" fill="#c7659c" stroke="#c7659c"/>
<circle cx="1799.93" cy="478.86" r="4.1" fill="#c7659c" stroke="#c7659c"/>
<circle cx="1804.08" cy="480.28" r="4.1" fill="#e8778c" stroke="#e8778c"/>
<circle cx="1807.75" cy="480.42" r="4.1" fill="#e8778c" stroke="#e8778c"/>
<circle cx="1807.33" cy="481.26" r="4.1" fill="#e8778c" stroke="#e8778c"/>
<circle cx="1806.37" cy="481.45" r="4.1" fill="#e8778c" stroke="#e8778c"/>
<circle cx="1803.59" cy="483.37" r="4.1" fill="#e8778c" stroke="#e8778c"/>
<circle cx="1802.7" cy="484.92" r="4.1" fill="#e8778c" stroke="#e8778c"/>
<circle cx="1798.8" cy="485.82" r="4.1" fill="#e8778c" stroke="#e8778c"/>
<circle cx="1804.33" cy="487.13" r="4.1" fill="#e8778c" stroke="#e8778c"/>
<circle cx="1804.09" cy="487.41" r="4.1" fill="#e8778c" stroke="#e8778c"/>
<circle cx="1802.28" cy="489.19" r="4.1" fill="#e8778c" stroke="#e8778c"/>
<circle cx="1808.27" cy="491.64" r="4.1" fill="#e8778c" stroke="#e8778c"/>
<circle cx="1803.01" cy="492.99" r="4.1" fill="#e8778c" stroke="#e8778c"/>
<circle cx="1809.56" cy="497.75" r="4.1" fill="#e8778c" stroke="#e8778c"/>
<circle cx="1805.93" cy="498.77" r="4.1" fill="#e8778c" stroke="#e8778c"/>
<circle cx="1812.62" cy="501.9" r="4.1" fill="#e8778c" stroke="#e8778c"/>
<circle cx="1814.38" cy="501.41" r="4.1" fill="#e8778c" stroke="#e8778c"/>
<circle cx="1812.14" cy="502.93" r="4.1" fill="#e8778c" stroke="#e8778c"/>
<circle cx="1818.76" cy="506.34" r="4.1" fill="#e8778c" stroke="#e8778c"/>
<circle cx="1820.41" cy="508.17" r="4.1" fill="#e8778c" stroke="#e8778c"/>
<circle cx="1818.8" cy="510.87" r="4.1" fill="#e8778c" stroke="#e8778c"/>
<circle cx="1816.58" cy="512.28" r="4.1" fill="#e8778c" stroke="#e8778c"/>
<circle cx="1817.81" cy="512.43" r="4.1" fill="#e8778c" stroke="#e8778c"/>
<circle cx="1814.69" cy="512.95" r="4.1" fill="#e8778c" stroke="#e8778c"/>
<circle cx="1813.15" cy="512.69" r="4.1" fill="#e8778c" stroke="#e8778c"/>
<circle cx="1808.81" cy="512.22" r="4.1" fill="#e8778c" stroke="#e8778c"/>
<circle cx="1809.48" cy="513.83" r="4.1" fill="#e8778c" stroke="#e8778c"/>
<circle cx="1808.66" cy="513.63" r="4.1" fill="#e8778c" stroke="#e8778c"/>
<circle cx="1812.68" cy="514.91" r="4.1" fill="#e8778c" stroke="#e8778c"/>
<circle cx="1812.7" cy="516.71" r="4.1" fill="#e8778c" stroke="#e8778c"/>
<circle cx="1815.52" cy="516.6" r="4.1" fill="#e8778c" stroke="#e8778c"/>
<circle cx="1812.29" cy="518" r="4.1" fill="#e8778c" stroke="#e8778c"/>
<circle cx="1815.04" cy="518.24" r="4.1" fill="#e8778c" stroke="#e8778c"/>
<circle cx="1813.21" cy="518.72" r="4.1" fill="#e8778c" stroke="#e8778c"/>
<circle cx="1812.79" cy="521.3" r="4.1" fill="#e8778c" stroke="#e8778c"/>
<circle cx="1816.99" cy="522.26" r="4.1" fill="#e8778c" stroke="#e8778c"/>
<circle cx="1815.61" cy="523.96" r="4.1" fill="#e8778c" stroke="#e8778c"/>
<circle cx="1812.41" cy="524.85" r="4.1" fill="#e8778c" stroke="#e8778c"/>
<circle cx="1809.54" cy="525.56" r="4.1" fill="#e8778c" stroke="#e8778c"/>
<circle cx="1814.59" cy="527.26" r="4.1" fill="#e8778c" stroke="#e8778c"/>
<circle cx="1811.3" cy="529.31" r="4.1" fill="#e8778c" stroke="#e8778c"/>
<circle cx="1817.2" cy="527.82" r="4.1" fill="#fb9d84" stroke="#fb9d84"/>
<circle cx="1822.36" cy="528.97" r="4.1" fill="#fb9d84" stroke="#fb9d84"/>
<circle cx="1821.48" cy="530.01" r="4.1" fill="#fb9d84" stroke="#fb9d84"/>
<circle cx="1825.07" cy="530.57" r="4.1" fill="#fb9d84" stroke="#fb9d84"/>
<circle cx="1820.11" cy="532.28" r="4.1" fill="#fb9d84" stroke="#fb9d84"/>
<circle cx="1821.74" cy="533.47" r="4.1" fill="#fb9d84" stroke="#fb9d84"/>
<circle cx="1821.18" cy="535.71" r="4.1" fill="#fb9d84" stroke="#fb9d84"/>
<circle cx="1825.69" cy="537.07" r="4.1" fill="#fb9d84" stroke="#fb9d84"/>
<circle cx="1822.11" cy="537.84" r="4.1" fill="#fb9d84" stroke="#fb9d84"/>
<circle cx="1823.14" cy="538.45" r="4.1" fill="#fb9d84" stroke="#fb9d84"/>
<circle cx="1821.12" cy="538.5" r="4.1" fill="#fb9d84" stroke="#fb9d84"/>
<circle cx="1825.38" cy="539.23" r="4.1" fill="#fb9d84" stroke="#fb9d84"/>
<circle cx="1823.47" cy="539.16" r="4.1" fill="#fb9d84" stroke="#fb9d84"/>
<circle cx="1825.63" cy="539.37" r="4.1" fill="#fb9d84" stroke="#fb9d84"/>
<circle cx="1824.15" cy="548.07" r="4.1" fill="#fb9d84" stroke="#fb9d84"/>
<circle cx="1827.42" cy="553.52" r="4.1" fill="#fb9d84" stroke="#fb9d84"/>
<circle cx="1832.36" cy="553.69" r="4.1" fill="#fb9d84" stroke="#fb9d84"/>
<circle cx="1834.96" cy="554.59" r="4.1" fill="#fb9d84" stroke="#fb9d84"/>
<circle cx="1837.96" cy="554.99" r="4.1" fill="#fb9d84" stroke="#fb9d84"/>
<circle cx="1842.41" cy="555.53" r="4.1" fill="#fb9d84" stroke="#fb9d84"/>
<circle cx="1837.14" cy="556.68" r="4.1" fill="#fb9d84" stroke="#fb9d84"/>
<circle cx="1838.86" cy="557.9" r="4.1" fill="#fb9d84" stroke="#fb9d84"/>
<circle cx="1837.85" cy="557.86" r="4.1" fill="#fb9d84" stroke="#fb9d84"/>
<circle cx="1840.67" cy="558.35" r="4.1" fill="#fb9d84" stroke="#fb9d84"/>
<circle cx="1839.96" cy="561.38" r="4.1" fill="#fb9d84" stroke="#fb9d84"/>
<circle cx="1833.89" cy="563.75" r="4.1" fill="#fb9d84" stroke="#fb9d84"/>
<circle cx="1841.36" cy="565.08" r="4.1" fill="#fb9d84" stroke="#fb9d84"/>
<circle cx="1844.43" cy="564.18" r="4.1" fill="#fb9d84" stroke="#fb9d84"/>
<circle cx="1846.76" cy="564.47" r="4.1" fill="#fb9d84" stroke="#fb9d84"/>
<circle cx="1843.59" cy="567.09" r="4.1" fill="#fb9d84" stroke="#fb9d84"/>
<circle cx="1849.62" cy="568.07" r="4.1" fill="#fb9d84" stroke="#fb9d84"/>
<circle cx="1841.61" cy="571.14" r="4.1" fill="#fb9d84" stroke="#fb9d84"/>
<circle cx="1844.02" cy="573.6" r="4.1" fill="#fb9d84" stroke="#fb9d84"/>
<circle cx="1840.61" cy="574.24" r="4.1" fill="#fb9d84" stroke="#fb9d84"/>
<circle cx="1840.71" cy="574.82" r="4.1" fill="#fb9d84" stroke="#fb9d84"/>
<circle cx="1845.32" cy="576.19" r="4.1" fill="#fb9d84" stroke="#fb9d84"/>
<circle cx="1842.26" cy="578.92" r="4.1" fill="#fb9d84" stroke="#fb9d84"/>
<circle cx="1848.03" cy="580.45" r="4.1" fill="#fb9d84" stroke="#fb9d84"/>
<circle cx="1850.2" cy="580.36" r="4.1" fill="#fb9d84" stroke="#fb9d84"/>
<circle cx="1851.78" cy="581.53" r="4.1" fill="#fb9d84" stroke="#fb9d84"/>
<circle cx="1856.3" cy="585.38" r="4.1" fill="#fb9d84" stroke="#fb9d84"/>
<circle cx="1859.03" cy="586.13" r="4.1" fill="#fb9d84" stroke="#fb9d84"/>
<circle cx="1859.69" cy="591.82" r="4.1" fill="#fb9d84" stroke="#fb9d84"/>
<circle cx="1861.26" cy="596.96" r="4.1" fill="#fb9d84" stroke="#fb9d84"/>
<circle cx="1853.83" cy="595.72" r="4.1" fill="#fec89c" stroke="#fec89c"/>
<circle cx="1853.12" cy="595.77" r="4.1" fill="#fec89c" stroke="#fec89c"/>
<circle cx="1856.54" cy="605.11" r="4.1" fill="#fec89c" stroke="#fec89c"/>
<circle cx="1861.63" cy="605.3" r="4.1" fill="#fec89c" stroke="#fec89c"/>
<circle cx="1865.02" cy="611.39" r="4.1" fill="#fec89c" stroke="#fec89c"/>
<circle cx="1861.49" cy="613.19" r="4.1" fill="#fec89c" stroke="#fec89c"/>
<circle cx="1864.49" cy="615.23" r="4.1" fill="#fec89c" stroke="#fec89c"/>
<circle cx="1868.48" cy="619.71" r="4.1" fill="#fec89c" stroke="#fec89c"/>
<circle cx="1865.17" cy="621.18" r="4.1" fill="#fec89c" stroke="#fec89c"/>
<circle cx="1868.81" cy="620.23" r="4.1" fill="#fec89c" stroke="#fec89c"/>
<circle cx="1863.78" cy="621.29" r="4.1" fill="#fec89c" stroke="#fec89c"/>
<circle cx="1861.82" cy="622.35" r="4.1" fill="#fec89c" stroke="#fec89c"/>
<circle cx="1861.98" cy="622.52" r="4.1" fill="#fec89c" stroke="#fec89c"/>
<circle cx="1864.88" cy="624.31" r="4.1" fill="#fec89c" stroke="#fec89c"/>
<circle cx="1859.29" cy="626.67" r="4.1" fill="#fec89c" stroke="#fec89c"/>
<circle cx="1864.65" cy="630.04" r="4.1" fill="#fec89c" stroke="#fec89c"/>
<circle cx="1868.3" cy="632.02" r="4.1" fill="#fec89c" stroke="#fec89c"/>
<circle cx="1862.93" cy="632.39" r="4.1" fill="#fec89c" stroke="#fec89c"/>
<circle cx="1868.8" cy="631.31" r="4.1" fill="#fec89c" stroke="#fec89c"/>
<circle cx="1866.16" cy="634.47" r="4.1" fill="#fec89c" stroke="#fec89c"/>
<circle cx="1872.38" cy="656.97" r="4.1" fill="#fec89c" stroke="#fec89c"/>
<circle cx="1871.91" cy="660.28" r="4.1" fill="#fec89c" stroke="#fec89c"/>
<circle cx="1881.73" cy="684.55" r="4.1" fill="#fec89c" stroke="#fec89c"/>
<circle cx="1882.07" cy="694.55" r="4.1" fill="#fec89c" stroke="#fec89c"/>
<circle cx="1881.04" cy="695.11" r="4.1" fill="#fec89c" stroke="#fec89c"/>
<circle cx="1885.04" cy="705.8" r="4.1" fill="#fec89c" stroke="#fec89c"/>
<circle cx="1891.69" cy="706.52" r="4.1" fill="#fec89c" stroke="#fec89c"/>
<circle cx="1897.23" cy="720.64" r="4.1" fill="#fec89c" stroke="#fec89c"/>
<circle cx="1899.91" cy="731.54" r="4.1" fill="#fec89c" stroke="#fec89c"/>
<circle cx="1900.34" cy="733.37" r="4.1" fill="#fec89c" stroke="#fec89c"/>
<circle cx="1900.21" cy="732.08" r="4.1" fill="#fec89c" stroke="#fec89c"/>
<circle cx="1894.61" cy="734.07" r="4.1" fill="#fec89c" stroke="#fec89c"/>
<circle cx="1893.32" cy="742.87" r="4.1" fill="#fec89c" stroke="#fec89c"/>
<circle cx="1894.83" cy="752.73" r="4.1" fill="#fec89c" stroke="#fec89c"/>
<circle cx="1898.34" cy="764.09" r="4.1" fill="#fec89c" stroke="#fec89c"/>
<circle cx="1900.67" cy="766.46" r="4.1" fill="#fec89c" stroke="#fec89c"/>
<circle cx="1899.97" cy="768.43" r="4.1" fill="#fec89c" stroke="#fec89c"/>
<circle cx="1906.35" cy="781.57" r="4.1" fill="#fec89c" stroke="#fec89c"/>
<circle cx="1906.33" cy="785.35" r="4.1" fill="#fec89c" stroke="#fec89c"/>
<circle cx="1910.65" cy="801.32" r="4.1" fill="#fec89c" stroke="#fec89c"/>
<circle cx="1907.5" cy="804.76" r="4.1" fill="#fec89c" stroke="#fec89c"/>
<circle cx="1909.53" cy="806.99" r="4.1" fill="#fec89c" stroke="#fec89c"/>
<circle cx="1910.44" cy="808.06" r="4.1" fill="#fec89c" stroke="#fec89c"/>
<circle cx="1916.71" cy="819.27" r="4.1" fill="#fec89c" stroke="#fec89c"/>
<circle cx="1922.45" cy="835.67" r="4.1" fill="#fec89c" stroke="#fec89c"/>
<circle cx="1921.43" cy="845.82" r="4.1" fill="#fec89c" stroke="#fec89c"/>
<circle cx="1924.94" cy="850.88" r="4.1" fill="#fec89c" stroke="#fec89c"/>
<circle cx="1924.25" cy="849.75" r="4.1" fill="#fec89c" stroke="#fec89c"/>
</g>
<g clip-path="url(#ce)">
<polyline points="1699.5,365.9 1700.27,365.48 1701.04,365.06 1701.82,364.63 1702.59,364.2 1703.36,363.75 1704.13,363.3 1704.9,362.84 1705.67,362.38 1706.45,361.91 1707.22,361.43 1707.99,360.94 1708.76,360.45 1709.53,359.95 1710.3,359.45 1711.08,358.93 1711.85,358.42 1712.62,357.89 1713.39,357.36 1714.16,356.82 1714.94,356.27 1715.71,355.72 1716.48,355.16 1717.25,354.6 1718.02,354.02 1718.79,353.45 1719.57,352.86 1720.34,352.27 1721.11,351.67 1721.88,351.07 1722.65,350.46 1723.42,349.84 1724.2,349.22 1724.97,348.59 1725.74,347.95 1726.51,347.31 1727.28,346.67 1728.06,346.01 1728.83,345.35 1729.6,344.69 1730.37,344.01 1731.14,343.34 1731.91,342.65 1732.69,341.96 1733.46,341.27 1734.23,340.57 1735,339.86 1735.77,339.15 1736.54,338.43 1737.32,337.7 1738.09,336.97 1738.86,336.23 1739.63,335.49 1740.4,334.74 1741.17,333.99 1741.95,333.23 1742.72,332.47 1743.49,331.7 1744.26,330.92 1745.03,330.14 1745.81,329.35 1746.58,328.56 1747.35,327.76 1748.12,326.96 1748.89,326.15 1749.66,325.34 1750.44,324.52 1751.21,323.69 1751.98,322.86 1752.75,322.03 1753.52,321.19 1754.29,320.34 1755.07,319.49 1755.84,318.64 1756.61,317.78 1757.38,316.91 1758.15,316.04 1758.93,315.16 1759.7,314.28 1760.47,313.4 1761.24,312.51 1762.01,311.61 1762.78,310.71 1763.56,309.81 1764.33,308.9 1765.1,307.98 1765.87,307.06 1766.64,306.14 1767.41,305.21 1768.19,304.28 1768.96,303.34 1769.73,302.39 1770.5,301.45 1771.27,300.49 1772.05,299.54 1772.82,298.58 1773.59,297.61 1774.36,296.64 1775.13,295.67 1775.9,294.69 1776.68,293.7 1777.45,292.72 1778.22,291.72 1778.99,290.73 1779.76,289.73 1780.53,288.72 1781.31,287.72 1782.08,286.7 1782.85,285.68 1783.62,284.66 1784.39,283.64 1785.17,282.61 1785.94,281.58 1786.71,280.54 1787.48,279.5 1788.25,278.45 1789.02,277.4 1789.8,276.35 1790.57,275.29 1791.34,274.23 1792.11,273.17 1792.88,272.1 1793.65,271.03 1794.43,269.95 1795.2,268.87 1795.97,267.79 1796.74,266.7 1797.51,265.61 1798.29,264.52 1799.06,263.42 1799.83,262.32 1800.6,261.21 1801.37,260.1 1802.14,258.99 1802.92,257.88 1803.69,256.76 1804.46,255.64 1805.23,254.51 1806,253.38 1806.77,252.25 1807.55,251.12 1808.32,249.98 1809.09,248.84 1809.86,247.69 1810.63,246.55 1811.41,245.39 1812.18,244.24 1812.95,243.08 1813.72,241.92 1814.49,240.76 1815.26,239.6 1816.04,238.43 1816.81,237.26 1817.58,236.08 1818.35,234.9 1819.12,233.72 1819.89,232.54 1820.67,231.35 1821.44,230.17 1822.21,228.97 1822.98,227.78 1823.75,226.58 1824.52,225.38 1825.3,224.18 1826.07,222.98 1826.84,221.77 1827.61,220.56 1828.38,219.35 1829.16,218.13 1829.93,216.92 1830.7,215.7 1831.47,214.48 1832.24,213.25 1833.01,212.03 1833.79,210.8 1834.56,209.57 1835.33,208.33 1836.1,207.1 1836.87,205.86 1837.64,204.62 1838.42,203.38 1839.19,202.13 1839.96,200.89 1840.73,199.64 1841.5,198.39 1842.28,197.14 1843.05,195.88 1843.82,194.63 1844.59,193.37 1845.36,192.11 1846.13,190.85 1846.91,189.59 1847.68,188.32 1848.45,187.05 1849.22,185.78 1849.99,184.51 1850.76,183.24 1851.54,181.97 1852.31,180.69 1853.08,179.42 1853.85,178.14 1854.62,176.86 1855.4,175.58 1856.17,174.29 1856.94,173.01 1857.71,171.72 1858.48,170.43 1859.25,169.15 1860.03,167.86 1860.8,166.56 1861.57,165.27 1862.34,163.98 1863.11,162.68 1863.88,161.39 1864.66,160.09 1865.43,158.79 1866.2,157.49 1866.97,156.19 1867.74,154.89 1868.52,153.58 1869.29,152.28 1870.06,150.97 1870.83,149.67 1871.6,148.36 1872.37,147.05 1873.15,145.74 1873.92,144.43 1874.69,143.12 1875.46,141.81 1876.23,140.5 1877,139.19 1877.78,137.87 1878.55,136.56 1879.32,135.25 1880.09,133.93 1880.86,132.61 1881.64,131.3 1882.41,129.98 1883.18,128.66 1883.95,127.34 1884.72,126.03 1885.49,124.71 1886.27,123.39 1887.04,122.07 1887.81,120.75 1888.58,119.43 1889.35,118.11 1890.12,116.79 1890.9,115.47 1891.67,114.14 1892.44,112.82 1893.21,111.5 1893.98,110.18 1894.76,108.86 1895.53,107.54 1896.3,106.21 1897.07,104.89 1897.84,103.57 1898.61,102.25 1899.39,100.93 1900.16,99.6 1900.93,98.28 1901.7,96.96 1902.47,95.64 1903.24,94.32 1904.02,93 1904.79,91.68 1905.56,90.36 1906.33,89.04 1907.1,87.72 1907.87,86.4 1908.65,85.08 1909.42,83.76 1910.19,82.44 1910.96,81.13 1911.73,79.81 1912.51,78.49 1913.28,77.18 1914.05,75.86 1914.82,74.55 1915.59,73.24 1916.36,71.92 1917.14,70.61 1917.91,69.3 1918.68,67.99 1919.45,66.68 1920.22,65.37 1920.99,64.06 1921.77,62.75 1922.54,61.45 1923.31,60.14 1924.08,58.84 1924.85,57.53 1925.63,56.23 1926.4,54.93 1927.17,53.63 1927.94,52.33 1928.71,51.03 1929.48,49.73 1930.26,48.44" fill="none" stroke="#000" stroke-width="2.5" stroke-linejoin="round" stroke-linecap="butt" />
<polyline points="1699.5,365.9 1700.27,366.37 1701.04,366.85 1701.82,367.33 1702.59,367.81 1703.36,368.3 1704.13,368.79 1704.9,369.29 1705.67,369.79 1706.45,370.3 1707.22,370.81 1707.99,371.33 1708.76,371.85 1709.53,372.37 1710.3,372.9 1711.08,373.44 1711.85,373.98 1712.62,374.53 1713.39,375.08 1714.16,375.63 1714.94,376.19 1715.71,376.75 1716.48,377.32 1717.25,377.9 1718.02,378.48 1718.79,379.07 1719.57,379.66 1720.34,380.25 1721.11,380.85 1721.88,381.46 1722.65,382.07 1723.42,382.69 1724.2,383.31 1724.97,383.94 1725.74,384.57 1726.51,385.21 1727.28,385.86 1728.06,386.51 1728.83,387.17 1729.6,387.83 1730.37,388.5 1731.14,389.17 1731.91,389.85 1732.69,390.53 1733.46,391.22 1734.23,391.92 1735,392.63 1735.77,393.33 1736.54,394.05 1737.32,394.77 1738.09,395.5 1738.86,396.23 1739.63,396.97 1740.4,397.72 1741.17,398.47 1741.95,399.23 1742.72,399.99 1743.49,400.76 1744.26,401.54 1745.03,402.33 1745.81,403.12 1746.58,403.91 1747.35,404.72 1748.12,405.53 1748.89,406.35 1749.66,407.17 1750.44,408 1751.21,408.84 1751.98,409.68 1752.75,410.53 1753.52,411.39 1754.29,412.25 1755.07,413.13 1755.84,414 1756.61,414.89 1757.38,415.78 1758.15,416.68 1758.93,417.59 1759.7,418.5 1760.47,419.43 1761.24,420.35 1762.01,421.29 1762.78,422.23 1763.56,423.18 1764.33,424.14 1765.1,425.11 1765.87,426.08 1766.64,427.06 1767.41,428.05 1768.19,429.04 1768.96,430.05 1769.73,431.06 1770.5,432.08 1771.27,433.1 1772.05,434.14 1772.82,435.18 1773.59,436.23 1774.36,437.29 1775.13,438.35 1775.9,439.43 1776.68,440.51 1777.45,441.6 1778.22,442.69 1778.99,443.8 1779.76,444.91 1780.53,446.04 1781.31,447.17 1782.08,448.31 1782.85,449.45 1783.62,450.61 1784.39,451.77 1785.17,452.94 1785.94,454.12 1786.71,455.31 1787.48,456.51 1788.25,457.72 1789.02,458.93 1789.8,460.16 1790.57,461.39 1791.34,462.63 1792.11,463.88 1792.88,465.14 1793.65,466.4 1794.43,467.68 1795.2,468.96 1795.97,470.26 1796.74,471.56 1797.51,472.87 1798.29,474.19 1799.06,475.52 1799.83,476.86 1800.6,478.21 1801.37,479.57 1802.14,480.93 1802.92,482.31 1803.69,483.7 1804.46,485.09 1805.23,486.49 1806,487.91 1806.77,489.33 1807.55,490.76 1808.32,492.21 1809.09,493.66 1809.86,495.12 1810.63,496.59 1811.41,498.07 1812.18,499.56 1812.95,501.06 1813.72,502.57 1814.49,504.09 1815.26,505.62 1816.04,507.16 1816.81,508.71 1817.58,510.27 1818.35,511.84 1819.12,513.42 1819.89,515.01 1820.67,516.61 1821.44,518.22 1822.21,519.84 1822.98,521.47 1823.75,523.11 1824.52,524.76 1825.3,526.42 1826.07,528.09 1826.84,529.77 1827.61,531.47 1828.38,533.17 1829.16,534.88 1829.93,536.61 1830.7,538.34 1831.47,540.09 1832.24,541.84 1833.01,543.61 1833.79,545.39 1834.56,547.18 1835.33,548.98 1836.1,550.79 1836.87,552.61 1837.64,554.44 1838.42,556.29 1839.19,558.14 1839.96,560.01 1840.73,561.88 1841.5,563.77 1842.28,565.67 1843.05,567.58 1843.82,569.5 1844.59,571.43 1845.36,573.38 1846.13,575.33 1846.91,577.3 1847.68,579.28 1848.45,581.27 1849.22,583.27 1849.99,585.28 1850.76,587.31 1851.54,589.34 1852.31,591.39 1853.08,593.45 1853.85,595.52 1854.62,597.61 1855.4,599.7 1856.17,601.81 1856.94,603.93 1857.71,606.06 1858.48,608.2 1859.25,610.35 1860.03,612.52 1860.8,614.7 1861.57,616.89 1862.34,619.09 1863.11,621.31 1863.88,623.54 1864.66,625.78 1865.43,628.03 1866.2,630.29 1866.97,632.57 1867.74,634.86 1868.52,637.16 1869.29,639.48 1870.06,641.8 1870.83,644.14 1871.6,646.49 1872.37,648.86 1873.15,651.24 1873.92,653.63 1874.69,656.03 1875.46,658.45 1876.23,660.87 1877,663.32 1877.78,665.77 1878.55,668.24 1879.32,670.72 1880.09,673.21 1880.86,675.72 1881.64,678.24 1882.41,680.77 1883.18,683.32 1883.95,685.87 1884.72,688.45 1885.49,691.03 1886.27,693.63 1887.04,696.24 1887.81,698.87 1888.58,701.51 1889.35,704.16 1890.12,706.83 1890.9,709.51 1891.67,712.2 1892.44,714.91 1893.21,717.63 1893.98,720.36 1894.76,723.11 1895.53,725.87 1896.3,728.65 1897.07,731.44 1897.84,734.24 1898.61,737.06 1899.39,739.89 1900.16,742.74 1900.93,745.59 1901.7,748.47 1902.47,751.36 1903.24,754.26 1904.02,757.17 1904.79,760.1 1905.56,763.05 1906.33,766.01 1907.1,768.98 1907.87,771.97 1908.65,774.97 1909.42,777.99 1910.19,781.02 1910.96,784.06 1911.73,787.12 1912.51,790.2 1913.28,793.29 1914.05,796.39 1914.82,799.51 1915.59,802.64 1916.36,805.79 1917.14,808.95 1917.91,812.13 1918.68,815.32 1919.45,818.53 1920.22,821.75 1920.99,824.99 1921.77,828.24 1922.54,831.51 1923.31,834.79 1924.08,838.09 1924.85,841.41 1925.63,844.73 1926.4,848.08 1927.17,851.44 1927.94,854.81 1928.71,858.2 1929.48,861.61 1930.26,865.03" fill="none" stroke="#000" stroke-width="2.5" stroke-linejoin="round" stroke-linecap="butt" />
</g>
<g stroke="#000" stroke-width="2.5">
<line x1="1699.5" y1="907.5" x2="1699.5" y2="899.5" stroke="#000" stroke-width="2.5" />
<line x1="1699.5" y1="6.7" x2="1699.5" y2="14.7" stroke="#000" stroke-width="2.5" />
<line x1="1876.8" y1="907.5" x2="1876.8" y2="899.5" stroke="#000" stroke-width="2.5" />
<line x1="1876.8" y1="6.7" x2="1876.8" y2="14.7" stroke="#000" stroke-width="2.5" />
<line x1="1688.5" y1="817.94" x2="1696.5" y2="817.94" stroke="#000" stroke-width="2.5" />
<line x1="1941.5" y1="817.94" x2="1933.5" y2="817.94" stroke="#000" stroke-width="2.5" />
<line x1="1688.5" y1="667.26" x2="1696.5" y2="667.26" stroke="#000" stroke-width="2.5" />
<line x1="1941.5" y1="667.26" x2="1933.5" y2="667.26" stroke="#000" stroke-width="2.5" />
<line x1="1688.5" y1="516.58" x2="1696.5" y2="516.58" stroke="#000" stroke-width="2.5" />
<line x1="1941.5" y1="516.58" x2="1933.5" y2="516.58" stroke="#000" stroke-width="2.5" />
<line x1="1688.5" y1="365.9" x2="1696.5" y2="365.9" stroke="#000" stroke-width="2.5" />
<line x1="1941.5" y1="365.9" x2="1933.5" y2="365.9" stroke="#000" stroke-width="2.5" />
<line x1="1688.5" y1="215.22" x2="1696.5" y2="215.22" stroke="#000" stroke-width="2.5" />
<line x1="1941.5" y1="215.22" x2="1933.5" y2="215.22" stroke="#000" stroke-width="2.5" />
<line x1="1688.5" y1="64.54" x2="1696.5" y2="64.54" stroke="#000" stroke-width="2.5" />
<line x1="1941.5" y1="64.54" x2="1933.5" y2="64.54" stroke="#000" stroke-width="2.5" />
</g>
<rect x="1688.5" y="6.7" width="253" height="900.8" fill="none" stroke="#000" stroke-width="3.0"/>
<text x="1672.5" y="831.14" font-size="34.5" text-anchor="end" letter-spacing="-1.2">−0.6</text>
<text x="1672.5" y="680.46" font-size="34.5" text-anchor="end" letter-spacing="-1.2">−0.4</text>
<text x="1672.5" y="529.78" font-size="34.5" text-anchor="end" letter-spacing="-1.2">−0.2</text>
<text x="1672.5" y="379.1" font-size="34.5" text-anchor="end" letter-spacing="-1.2">0.0</text>
<text x="1672.5" y="228.42" font-size="34.5" text-anchor="end" letter-spacing="-1.2">0.2</text>
<text x="1672.5" y="77.74" font-size="34.5" text-anchor="end" letter-spacing="-1.2">0.4</text>
<text x="1699.5" y="947.5" font-size="34.5" text-anchor="middle" letter-spacing="-0.5">0</text>
<text x="1876.8" y="947.5" font-size="34.5" text-anchor="middle" letter-spacing="-0.5">2000</text>
<text x="1800" y="994" font-size="34.5" text-anchor="start" font-style="italic">n</text>
<text x="1819.3" y="1000" font-size="24.5" text-anchor="start" >c</text>
<g transform="translate(1580.4,457) rotate(-90)">
<text x="0" y="0" font-size="34.5" text-anchor="middle" letter-spacing="0.4">Cooperativity</text>
</g>
<text x="1555.5" y="19.2" font-size="36" text-anchor="start" font-weight="bold">e</text>
<text x="1785.8" y="161.6" font-size="40" text-anchor="start" style="font-family:'Liberation Serif',serif;font-style:italic" transform="translate(1785.8,0) scale(0.9,1) translate(-1785.8,0)">C</text>
<text x="1811" y="166.8" font-size="24" text-anchor="start" font-style="italic">ω</text>
<text x="1785.8" y="628.9" font-size="40" text-anchor="start" style="font-family:'Liberation Serif',serif;font-style:italic" transform="translate(1785.8,0) scale(0.9,1) translate(-1785.8,0)">C</text>
<text x="1811" y="634.1" font-size="24" text-anchor="start" font-style="italic">ωκ</text>
</svg>
</body></html>
